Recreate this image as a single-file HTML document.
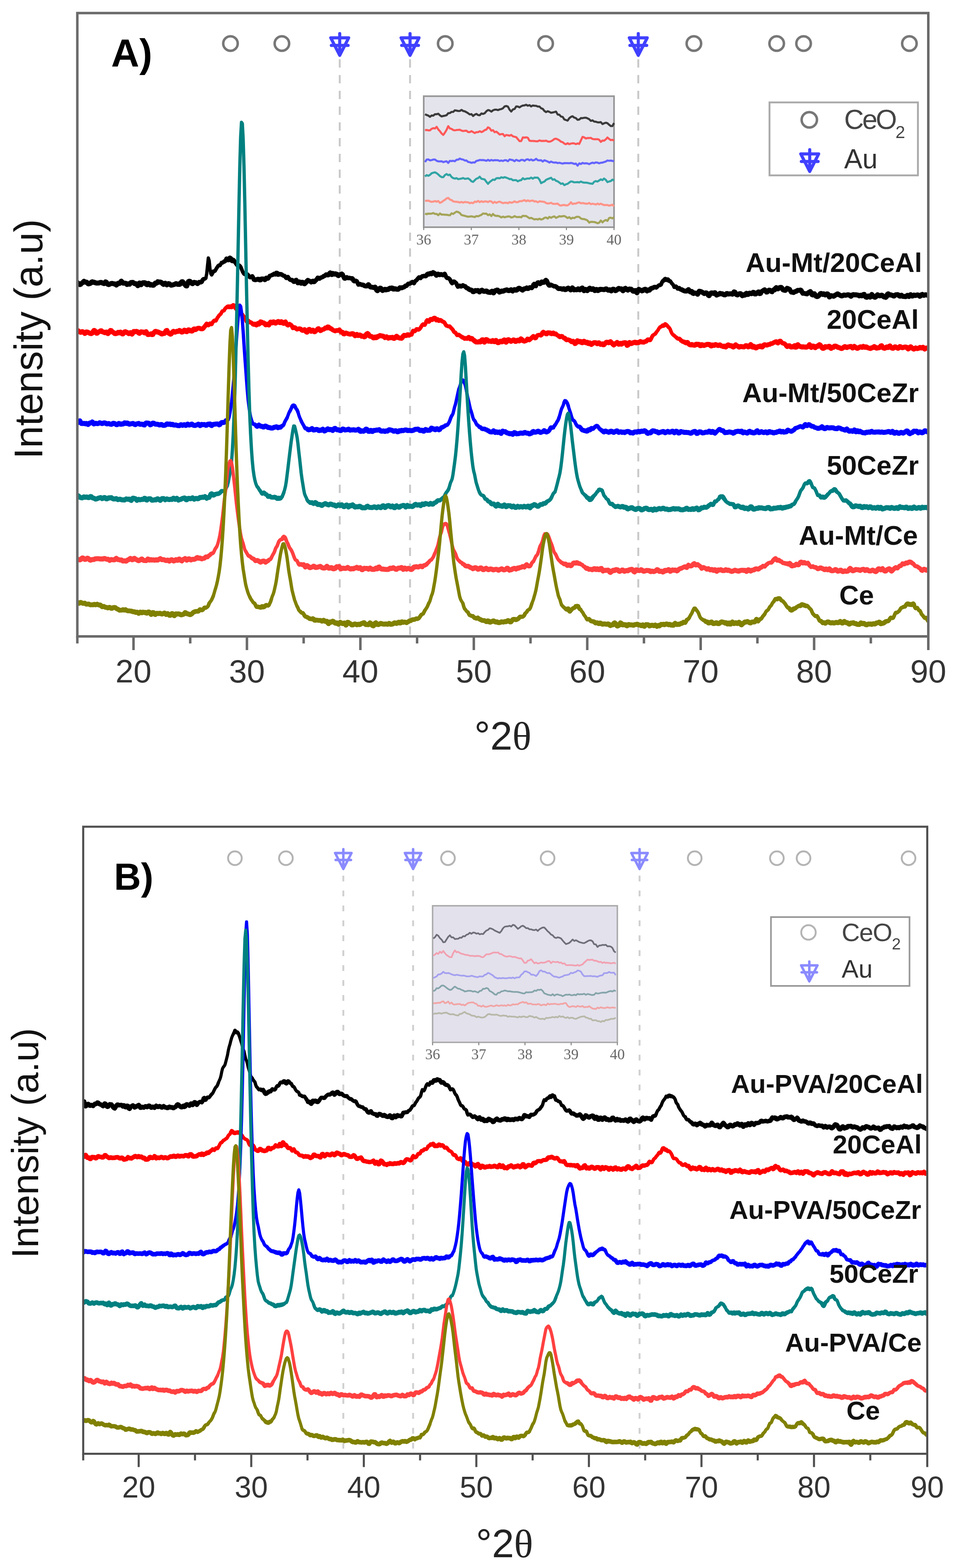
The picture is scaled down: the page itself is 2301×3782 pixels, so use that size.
<!DOCTYPE html>
<html><head><meta charset="utf-8"><title>XRD patterns</title>
<style>html,body{margin:0;padding:0;background:#fff;}svg{display:block;}</style>
</head><body>
<svg width="2301" height="3782" viewBox="0 0 2301 3782">
<rect width="2301" height="3782" fill="#fff"/>
<line x1="819.4" y1="143.0" x2="819.4" y2="1531.0" stroke="#c8c8c8" stroke-width="4.5" stroke-dasharray="20 18"/>
<line x1="989.0" y1="143.0" x2="989.0" y2="1531.0" stroke="#c8c8c8" stroke-width="4.5" stroke-dasharray="20 18"/>
<line x1="1539.5" y1="143.0" x2="1539.5" y2="1531.0" stroke="#c8c8c8" stroke-width="4.5" stroke-dasharray="20 18"/>
<circle cx="555.9" cy="105.0" r="17.5" fill="none" stroke="#777" stroke-width="6.0"/>
<circle cx="679.9" cy="105.0" r="17.5" fill="none" stroke="#777" stroke-width="6.0"/>
<circle cx="1073.9" cy="105.0" r="17.5" fill="none" stroke="#777" stroke-width="6.0"/>
<circle cx="1316.0" cy="105.0" r="17.5" fill="none" stroke="#777" stroke-width="6.0"/>
<circle cx="1673.6" cy="105.0" r="17.5" fill="none" stroke="#777" stroke-width="6.0"/>
<circle cx="1873.3" cy="105.0" r="17.5" fill="none" stroke="#777" stroke-width="6.0"/>
<circle cx="1938.2" cy="105.0" r="17.5" fill="none" stroke="#777" stroke-width="6.0"/>
<circle cx="2193.4" cy="105.0" r="17.5" fill="none" stroke="#777" stroke-width="6.0"/>
<g stroke="#4040ff" stroke-width="7.5" fill="none" stroke-linejoin="round" stroke-linecap="round"><polygon points="797.8,91.2 841.0,91.2 819.4,133.5"/><line x1="819.4" y1="81.1" x2="819.4" y2="128.0"/><line x1="799.2" y1="109.6" x2="839.6" y2="109.6"/></g>
<g stroke="#4040ff" stroke-width="7.5" fill="none" stroke-linejoin="round" stroke-linecap="round"><polygon points="967.4,91.2 1010.7,91.2 989.0,133.5"/><line x1="989.0" y1="81.1" x2="989.0" y2="128.0"/><line x1="968.8" y1="109.6" x2="1009.3" y2="109.6"/></g>
<g stroke="#4040ff" stroke-width="7.5" fill="none" stroke-linejoin="round" stroke-linecap="round"><polygon points="1517.9,91.2 1561.1,91.2 1539.5,133.5"/><line x1="1539.5" y1="81.1" x2="1539.5" y2="128.0"/><line x1="1519.3" y1="109.6" x2="1559.8" y2="109.6"/></g>
<rect x="1022.0" y="232.0" width="459.0" height="316.0" fill="#e4e4ec" stroke="#999" stroke-width="4.0"/>
<polyline points="1025.1,275.4 1029.1,277.4 1033.1,278.9 1037.1,281.7 1041.1,278.6 1045.1,278.9 1049.1,275.5 1053.1,275.5 1057.1,274.3 1061.1,278.2 1065.1,280.8 1069.1,279.8 1073.1,279.0 1077.1,277.9 1081.1,273.1 1085.1,272.7 1089.1,269.9 1093.1,269.8 1097.1,266.1 1101.1,266.8 1105.1,267.7 1109.1,267.6 1113.1,265.1 1117.1,267.7 1121.1,268.5 1125.1,270.7 1129.1,273.2 1133.1,276.1 1137.1,275.3 1141.1,279.7 1145.1,276.5 1149.1,274.7 1153.1,277.5 1157.1,278.0 1161.1,273.8 1165.1,274.8 1169.1,273.1 1173.1,268.3 1177.1,265.4 1181.1,266.5 1185.1,269.2 1189.1,266.0 1193.1,264.6 1197.1,264.4 1201.1,265.6 1205.1,263.9 1209.1,263.1 1213.1,261.2 1217.1,256.7 1221.1,255.7 1225.1,257.1 1229.1,264.6 1233.1,269.0 1237.1,264.0 1241.1,262.9 1245.1,256.7 1249.1,257.0 1253.1,258.9 1257.1,256.2 1261.1,254.5 1265.1,254.2 1269.1,252.7 1273.1,255.0 1277.1,253.6 1281.1,256.7 1285.1,254.4 1289.1,254.9 1293.1,255.2 1297.1,257.0 1301.1,256.9 1305.1,261.1 1309.1,262.6 1313.1,267.6 1317.1,270.4 1321.1,268.3 1325.1,269.9 1329.1,272.0 1333.1,271.3 1337.1,270.4 1341.1,269.2 1345.1,276.2 1349.1,276.8 1353.1,281.1 1357.1,281.9 1361.1,288.1 1365.1,289.5 1369.1,290.9 1373.1,285.0 1377.1,281.9 1381.1,280.4 1385.1,283.7 1389.1,284.9 1393.1,289.0 1397.1,288.3 1401.1,284.8 1405.1,284.9 1409.1,284.1 1413.1,283.9 1417.1,285.5 1421.1,287.5 1425.1,291.6 1429.1,290.3 1433.1,293.2 1437.1,293.6 1441.1,295.0 1445.1,295.3 1449.1,294.5 1453.1,299.2 1457.1,297.4 1461.1,296.0 1465.1,297.2 1469.1,300.8 1473.1,303.9 1477.1,303.9 1481.1,296.8" fill="none" stroke="#3a3a3a" stroke-width="5.0" stroke-linejoin="round"/>
<polyline points="1025.1,314.0 1029.1,313.5 1033.1,314.4 1037.1,314.3 1041.1,310.7 1045.1,309.1 1049.1,309.9 1053.1,306.0 1057.1,312.2 1061.1,316.5 1065.1,321.9 1069.1,325.4 1073.1,320.0 1077.1,313.2 1081.1,304.3 1085.1,309.8 1089.1,310.9 1093.1,313.6 1097.1,314.4 1101.1,313.6 1105.1,313.3 1109.1,312.9 1113.1,315.0 1117.1,316.1 1121.1,315.6 1125.1,315.3 1129.1,318.6 1133.1,318.6 1137.1,316.3 1141.1,318.6 1145.1,320.9 1149.1,318.7 1153.1,318.8 1157.1,316.6 1161.1,318.6 1165.1,316.9 1169.1,313.8 1173.1,312.5 1177.1,307.1 1181.1,309.3 1185.1,315.3 1189.1,314.0 1193.1,318.9 1197.1,317.5 1201.1,320.8 1205.1,324.5 1209.1,323.4 1213.1,323.2 1217.1,328.6 1221.1,325.6 1225.1,326.3 1229.1,327.3 1233.1,325.4 1237.1,328.9 1241.1,329.9 1245.1,330.9 1249.1,335.7 1253.1,340.4 1257.1,340.3 1261.1,331.5 1265.1,332.0 1269.1,331.2 1273.1,332.3 1277.1,339.4 1281.1,339.9 1285.1,340.0 1289.1,340.2 1293.1,340.8 1297.1,340.7 1301.1,338.7 1305.1,339.9 1309.1,339.8 1313.1,340.1 1317.1,339.3 1321.1,341.3 1325.1,341.8 1329.1,340.6 1333.1,338.4 1337.1,335.2 1341.1,334.5 1345.1,336.2 1349.1,338.5 1353.1,341.8 1357.1,342.9 1361.1,346.3 1365.1,347.8 1369.1,345.5 1373.1,347.7 1377.1,346.3 1381.1,345.6 1385.1,346.0 1389.1,347.6 1393.1,346.0 1397.1,347.2 1401.1,338.6 1405.1,330.0 1409.1,331.4 1413.1,334.1 1417.1,332.8 1421.1,332.9 1425.1,332.6 1429.1,335.1 1433.1,335.9 1437.1,335.7 1441.1,335.7 1445.1,337.0 1449.1,342.2 1453.1,339.0 1457.1,339.3 1461.1,336.1 1465.1,331.7 1469.1,335.1 1473.1,338.0 1477.1,337.1 1481.1,339.4" fill="none" stroke="#ff5858" stroke-width="5.0" stroke-linejoin="round"/>
<polyline points="1025.1,390.9 1029.1,385.0 1033.1,384.5 1037.1,386.7 1041.1,386.1 1045.1,384.8 1049.1,384.8 1053.1,387.8 1057.1,389.2 1061.1,389.2 1065.1,389.1 1069.1,391.0 1073.1,389.9 1077.1,388.9 1081.1,392.9 1085.1,387.9 1089.1,388.5 1093.1,387.8 1097.1,388.9 1101.1,385.3 1105.1,385.1 1109.1,382.4 1113.1,384.3 1117.1,384.9 1121.1,387.2 1125.1,387.1 1129.1,390.6 1133.1,391.2 1137.1,392.8 1141.1,391.7 1145.1,391.9 1149.1,388.1 1153.1,387.3 1157.1,385.8 1161.1,386.2 1165.1,386.0 1169.1,386.7 1173.1,387.9 1177.1,385.5 1181.1,387.8 1185.1,385.7 1189.1,387.3 1193.1,386.2 1197.1,386.5 1201.1,386.4 1205.1,388.3 1209.1,387.2 1213.1,388.3 1217.1,386.4 1221.1,386.6 1225.1,388.9 1229.1,384.6 1233.1,385.5 1237.1,386.3 1241.1,388.8 1245.1,385.5 1249.1,387.2 1253.1,388.2 1257.1,385.7 1261.1,385.7 1265.1,388.0 1269.1,385.0 1273.1,384.2 1277.1,386.6 1281.1,384.7 1285.1,387.0 1289.1,385.9 1293.1,383.0 1297.1,386.4 1301.1,386.7 1305.1,386.6 1309.1,389.6 1313.1,386.6 1317.1,388.0 1321.1,389.6 1325.1,392.0 1329.1,389.7 1333.1,391.6 1337.1,392.2 1341.1,391.8 1345.1,393.4 1349.1,392.6 1353.1,393.6 1357.1,394.7 1361.1,393.3 1365.1,393.5 1369.1,393.5 1373.1,393.8 1377.1,393.0 1381.1,393.7 1385.1,395.5 1389.1,394.4 1393.1,399.6 1397.1,394.1 1401.1,395.6 1405.1,392.9 1409.1,394.3 1413.1,393.8 1417.1,394.3 1421.1,395.9 1425.1,393.8 1429.1,392.3 1433.1,393.6 1437.1,391.7 1441.1,392.2 1445.1,393.9 1449.1,392.5 1453.1,392.2 1457.1,390.9 1461.1,389.6 1465.1,387.1 1469.1,387.9 1473.1,387.3 1477.1,388.3 1481.1,388.2" fill="none" stroke="#6464ff" stroke-width="5.0" stroke-linejoin="round"/>
<polyline points="1025.1,425.7 1029.1,422.3 1033.1,424.0 1037.1,421.8 1041.1,417.9 1045.1,416.7 1049.1,415.6 1053.1,417.8 1057.1,420.7 1061.1,424.7 1065.1,427.2 1069.1,427.3 1073.1,422.4 1077.1,419.9 1081.1,422.5 1085.1,421.2 1089.1,426.9 1093.1,429.6 1097.1,430.7 1101.1,429.7 1105.1,432.1 1109.1,431.4 1113.1,430.7 1117.1,429.5 1121.1,431.2 1125.1,430.9 1129.1,430.2 1133.1,433.0 1137.1,437.2 1141.1,438.8 1145.1,434.7 1149.1,431.0 1153.1,429.6 1157.1,426.2 1161.1,431.2 1165.1,431.9 1169.1,433.0 1173.1,438.5 1177.1,443.3 1181.1,439.0 1185.1,436.0 1189.1,433.1 1193.1,434.0 1197.1,429.9 1201.1,429.6 1205.1,430.1 1209.1,427.6 1213.1,428.8 1217.1,427.3 1221.1,428.5 1225.1,430.0 1229.1,432.0 1233.1,431.7 1237.1,434.8 1241.1,434.6 1245.1,434.4 1249.1,437.4 1253.1,435.3 1257.1,434.5 1261.1,429.9 1265.1,432.4 1269.1,431.3 1273.1,430.4 1277.1,430.7 1281.1,428.3 1285.1,430.9 1289.1,428.3 1293.1,428.5 1297.1,428.6 1301.1,433.2 1305.1,441.8 1309.1,439.5 1313.1,437.9 1317.1,433.8 1321.1,431.9 1325.1,430.4 1329.1,428.7 1333.1,433.5 1337.1,432.3 1341.1,436.1 1345.1,437.4 1349.1,440.3 1353.1,443.4 1357.1,442.3 1361.1,446.4 1365.1,444.4 1369.1,443.4 1373.1,440.2 1377.1,437.6 1381.1,438.3 1385.1,439.8 1389.1,439.6 1393.1,439.2 1397.1,440.0 1401.1,437.9 1405.1,439.7 1409.1,440.5 1413.1,440.6 1417.1,440.9 1421.1,442.2 1425.1,442.7 1429.1,443.3 1433.1,438.5 1437.1,436.8 1441.1,437.9 1445.1,435.4 1449.1,432.6 1453.1,434.4 1457.1,430.7 1461.1,433.7 1465.1,439.3 1469.1,437.7 1473.1,436.8 1477.1,433.2 1481.1,435.4" fill="none" stroke="#30a4a4" stroke-width="5.0" stroke-linejoin="round"/>
<polyline points="1025.1,484.6 1029.1,484.2 1033.1,483.9 1037.1,485.6 1041.1,486.9 1045.1,486.3 1049.1,484.9 1053.1,486.4 1057.1,484.9 1061.1,489.3 1065.1,487.4 1069.1,484.4 1073.1,482.1 1077.1,478.6 1081.1,477.3 1085.1,481.3 1089.1,482.5 1093.1,485.8 1097.1,486.4 1101.1,486.8 1105.1,487.2 1109.1,488.5 1113.1,487.1 1117.1,488.7 1121.1,487.1 1125.1,487.7 1129.1,487.9 1133.1,490.2 1137.1,488.8 1141.1,490.0 1145.1,486.3 1149.1,487.3 1153.1,484.5 1157.1,487.6 1161.1,485.4 1165.1,487.1 1169.1,485.8 1173.1,485.9 1177.1,487.4 1181.1,485.1 1185.1,485.9 1189.1,489.7 1193.1,486.8 1197.1,489.2 1201.1,487.2 1205.1,486.4 1209.1,488.2 1213.1,490.0 1217.1,489.1 1221.1,488.9 1225.1,490.2 1229.1,487.6 1233.1,489.0 1237.1,488.0 1241.1,485.8 1245.1,487.8 1249.1,487.5 1253.1,485.3 1257.1,485.2 1261.1,484.2 1265.1,482.7 1269.1,485.4 1273.1,483.2 1277.1,485.4 1281.1,484.2 1285.1,483.7 1289.1,486.0 1293.1,485.6 1297.1,487.9 1301.1,485.6 1305.1,486.0 1309.1,486.6 1313.1,487.0 1317.1,489.8 1321.1,490.8 1325.1,490.5 1329.1,489.0 1333.1,491.6 1337.1,491.7 1341.1,491.7 1345.1,491.0 1349.1,494.8 1353.1,495.9 1357.1,494.7 1361.1,494.3 1365.1,495.5 1369.1,495.3 1373.1,492.5 1377.1,488.0 1381.1,492.2 1385.1,491.0 1389.1,491.1 1393.1,489.1 1397.1,488.1 1401.1,490.4 1405.1,489.7 1409.1,490.5 1413.1,491.3 1417.1,491.2 1421.1,489.5 1425.1,492.4 1429.1,491.4 1433.1,492.1 1437.1,493.2 1441.1,491.1 1445.1,493.0 1449.1,491.3 1453.1,493.2 1457.1,494.7 1461.1,494.4 1465.1,494.6 1469.1,496.0 1473.1,495.0 1477.1,493.8 1481.1,497.6" fill="none" stroke="#ff9488" stroke-width="5.0" stroke-linejoin="round"/>
<polyline points="1025.1,515.5 1029.1,516.5 1033.1,515.2 1037.1,515.4 1041.1,515.2 1045.1,513.9 1049.1,516.0 1053.1,516.1 1057.1,519.1 1061.1,514.9 1065.1,517.6 1069.1,517.5 1073.1,517.9 1077.1,518.0 1081.1,518.7 1085.1,519.3 1089.1,514.5 1093.1,516.1 1097.1,513.0 1101.1,510.5 1105.1,511.5 1109.1,513.9 1113.1,518.6 1117.1,519.6 1121.1,520.7 1125.1,521.8 1129.1,522.7 1133.1,522.3 1137.1,521.7 1141.1,522.6 1145.1,523.5 1149.1,521.1 1153.1,521.7 1157.1,520.1 1161.1,518.2 1165.1,514.9 1169.1,515.5 1173.1,515.3 1177.1,518.9 1181.1,517.1 1185.1,521.1 1189.1,516.2 1193.1,519.8 1197.1,520.7 1201.1,520.6 1205.1,522.0 1209.1,524.4 1213.1,522.4 1217.1,524.1 1221.1,523.0 1225.1,522.1 1229.1,522.2 1233.1,524.5 1237.1,523.7 1241.1,521.3 1245.1,523.4 1249.1,523.6 1253.1,523.3 1257.1,524.0 1261.1,520.5 1265.1,521.0 1269.1,521.1 1273.1,523.8 1277.1,526.5 1281.1,525.4 1285.1,527.5 1289.1,529.3 1293.1,528.4 1297.1,529.4 1301.1,527.6 1305.1,529.5 1309.1,528.4 1313.1,525.4 1317.1,524.7 1321.1,527.2 1325.1,523.1 1329.1,525.3 1333.1,523.1 1337.1,521.9 1341.1,525.5 1345.1,523.6 1349.1,521.5 1353.1,522.3 1357.1,521.5 1361.1,521.0 1365.1,523.1 1369.1,525.9 1373.1,523.8 1377.1,527.5 1381.1,525.1 1385.1,526.1 1389.1,523.5 1393.1,522.8 1397.1,523.4 1401.1,527.0 1405.1,528.3 1409.1,528.5 1413.1,529.8 1417.1,531.9 1421.1,536.9 1425.1,535.0 1429.1,535.2 1433.1,535.5 1437.1,536.5 1441.1,538.5 1445.1,537.2 1449.1,531.9 1453.1,536.3 1457.1,532.7 1461.1,530.6 1465.1,532.8 1469.1,525.9 1473.1,525.0 1477.1,526.7 1481.1,523.9" fill="none" stroke="#a4a458" stroke-width="5.0" stroke-linejoin="round"/>
<text x="1022.0" y="590.0" font-family="'Liberation Serif', serif" font-size="36" fill="#666" text-anchor="middle">36</text>
<line x1="1022.0" y1="548.0" x2="1022.0" y2="555.0" stroke="#888" stroke-width="2.5"/>
<text x="1136.8" y="590.0" font-family="'Liberation Serif', serif" font-size="36" fill="#666" text-anchor="middle">37</text>
<line x1="1136.8" y1="548.0" x2="1136.8" y2="555.0" stroke="#888" stroke-width="2.5"/>
<text x="1251.5" y="590.0" font-family="'Liberation Serif', serif" font-size="36" fill="#666" text-anchor="middle">38</text>
<line x1="1251.5" y1="548.0" x2="1251.5" y2="555.0" stroke="#888" stroke-width="2.5"/>
<text x="1366.2" y="590.0" font-family="'Liberation Serif', serif" font-size="36" fill="#666" text-anchor="middle">39</text>
<line x1="1366.2" y1="548.0" x2="1366.2" y2="555.0" stroke="#888" stroke-width="2.5"/>
<text x="1481.0" y="590.0" font-family="'Liberation Serif', serif" font-size="36" fill="#666" text-anchor="middle">40</text>
<line x1="1481.0" y1="548.0" x2="1481.0" y2="555.0" stroke="#888" stroke-width="2.5"/>
<clipPath id="clipA"><rect x="186.5" y="31.5" width="2052.5" height="1503.5"/></clipPath><g clip-path="url(#clipA)">
<g fill="none" stroke="#000000" stroke-linejoin="round" stroke-linecap="round"><polyline points="186.5,681.3 188.5,683.4 190.5,685.3 192.5,686.4 194.5,685.8 196.5,683.4 198.5,682.3 200.5,680.5 202.5,678.4 204.5,679.6 206.5,680.8 208.5,680.4 210.5,681.9 212.5,684.5 214.5,684.7 216.5,684.0 218.5,683.2 220.5,680.5 222.5,679.6 224.5,681.0 226.5,680.6 228.5,681.2 230.5,682.4 232.5,682.7 234.5,682.6 236.5,682.8 238.5,682.6 240.5,681.6 242.5,681.2 244.5,681.2 246.5,682.6 248.5,683.0 250.5,684.1 252.5,683.7 254.5,679.7 256.5,680.6 258.5,684.2 260.5,686.0 262.5,686.5 264.5,685.5 266.5,684.3 268.5,683.6 270.5,683.4 272.5,684.0 274.5,684.8 276.5,684.6 278.5,685.7 280.5,687.5 282.5,686.1 284.5,683.2 286.5,683.1 288.5,683.6 290.5,680.8 292.5,678.1 294.5,680.0 296.5,682.9 298.5,682.8 300.5,682.9 302.5,683.1 304.5,683.9 306.5,686.3 308.5,684.9 310.5,684.4 312.5,685.6 314.5,682.6 316.5,681.2 318.5,681.7 320.5,681.1 322.5,682.3 324.5,684.2 326.5,684.1 328.5,684.3 330.5,686.9 332.5,689.2 334.5,686.2 336.5,682.4 338.5,684.9 340.5,686.7 342.5,684.3 344.5,681.9 346.5,681.9 348.5,681.8 350.5,682.3 352.5,685.7 354.5,686.7 356.5,683.9 358.5,683.5 360.5,686.3 362.5,687.5 364.5,686.3 366.5,686.6 368.5,688.1 370.5,688.0 372.5,686.0 374.5,682.8 376.5,683.2 378.5,682.6 380.5,679.4 382.5,680.0 384.5,680.5 386.5,680.3 388.5,680.9 390.5,682.2 392.5,684.7 394.5,686.1 396.5,685.0 398.5,683.1 400.5,684.8 402.5,687.2 404.5,685.8 406.5,684.1 408.5,684.4 410.5,686.2 412.5,687.9 414.5,687.7 416.5,687.2 418.5,686.6 420.5,686.0 422.5,685.2 424.5,684.0 426.5,685.2 428.5,685.9 430.5,684.8 432.5,686.0 434.5,685.4 436.5,681.7 438.5,679.5 440.5,679.6 442.5,682.0 444.5,684.9 446.5,686.9 448.5,689.5 450.5,689.7 452.5,684.2 454.5,679.2 456.5,678.2 458.5,678.8 460.5,680.7 462.5,683.6 464.5,684.3 466.5,681.7 468.5,681.1" stroke-width="12.0"/><polyline points="468.5,681.1 470.5,682.0 472.5,681.4 474.5,682.7 476.5,684.5" stroke-width="11.5"/><polyline points="476.5,684.5 478.5,682.4 480.5,680.6 482.5,680.9" stroke-width="11.0"/><polyline points="482.5,680.9 484.5,681.1 486.5,679.9 488.5,675.7" stroke-width="10.5"/><polyline points="488.5,675.7 490.5,673.3" stroke-width="10.0"/><polyline points="490.5,673.3 492.5,672.7" stroke-width="9.5"/><polyline points="492.5,672.7 494.5,672.4" stroke-width="9.0"/><polyline points="494.5,672.4 496.5,670.6" stroke-width="8.5"/><polyline points="496.5,670.6 498.5,660.6 500.5,641.3 502.5,622.3 504.5,628.7 506.5,648.9 508.5,660.3 510.5,662.9" stroke-width="8.0"/><polyline points="510.5,662.9 512.5,659.2" stroke-width="8.5"/><polyline points="512.5,659.2 514.5,654.6" stroke-width="9.0"/><polyline points="514.5,654.6 516.5,654.2" stroke-width="9.5"/><polyline points="516.5,654.2 518.5,653.6 520.5,650.2 522.5,646.7 524.5,643.9 526.5,640.8 528.5,639.6 530.5,640.2 532.5,637.1 534.5,633.5" stroke-width="9.0"/><polyline points="534.5,633.5 536.5,633.7 538.5,632.7 540.5,630.6" stroke-width="9.5"/><polyline points="540.5,630.6 542.5,630.4 544.5,628.1" stroke-width="10.0"/><polyline points="544.5,628.1 546.5,624.1" stroke-width="10.5"/><polyline points="546.5,624.1 548.5,625.0" stroke-width="11.0"/><polyline points="548.5,625.0 550.5,627.1 552.5,625.0 554.5,622.1 556.5,623.2 558.5,628.1" stroke-width="11.5"/><polyline points="558.5,628.1 560.5,629.5" stroke-width="11.0"/><polyline points="560.5,629.5 562.5,626.8" stroke-width="10.5"/><polyline points="562.5,626.8 564.5,628.3" stroke-width="10.0"/><polyline points="564.5,628.3 566.5,632.6 568.5,635.2 570.5,638.1" stroke-width="9.5"/><polyline points="570.5,638.1 572.5,641.0 574.5,640.8 576.5,639.5 578.5,640.9 580.5,643.6 582.5,648.4 584.5,653.8 586.5,657.6 588.5,660.7 590.5,661.9 592.5,662.4 594.5,662.3 596.5,661.4" stroke-width="9.0"/><polyline points="596.5,661.4 598.5,663.2 600.5,666.7 602.5,669.0 604.5,668.8" stroke-width="9.5"/><polyline points="604.5,668.8 606.5,667.0 608.5,666.4" stroke-width="10.0"/><polyline points="608.5,666.4 610.5,669.8 612.5,674.3" stroke-width="10.5"/><polyline points="612.5,674.3 614.5,675.0 616.5,674.8" stroke-width="11.0"/><polyline points="616.5,674.8 618.5,674.4 620.5,673.7 622.5,673.6" stroke-width="11.5"/><polyline points="622.5,673.6 624.5,673.9 626.5,675.2 628.5,675.0 630.5,672.9 632.5,672.8" stroke-width="12.0"/><polyline points="632.5,672.8 634.5,672.8 636.5,672.7 638.5,674.8" stroke-width="11.5"/><polyline points="638.5,674.8 640.5,674.1 642.5,670.2" stroke-width="11.0"/><polyline points="642.5,670.2 644.5,670.1 646.5,672.0 648.5,669.1" stroke-width="10.5"/><polyline points="648.5,669.1 650.5,665.2 652.5,664.9 654.5,664.0 656.5,663.1" stroke-width="10.0"/><polyline points="656.5,663.1 658.5,662.6 660.5,660.6 662.5,661.1" stroke-width="10.5"/><polyline points="662.5,661.1 664.5,661.4" stroke-width="11.0"/><polyline points="664.5,661.4 666.5,658.5 668.5,659.2" stroke-width="11.5"/><polyline points="668.5,659.2 670.5,661.8" stroke-width="12.0"/><polyline points="670.5,661.8 672.5,661.4 674.5,661.5" stroke-width="11.5"/><polyline points="674.5,661.5 676.5,661.5" stroke-width="11.0"/><polyline points="676.5,661.5 678.5,661.6 680.5,662.8" stroke-width="10.5"/><polyline points="680.5,662.8 682.5,664.6 684.5,665.4 686.5,665.3 688.5,668.1 690.5,670.7 692.5,668.5 694.5,667.8 696.5,671.2 698.5,673.6" stroke-width="10.0"/><polyline points="698.5,673.6 700.5,675.1 702.5,675.4 704.5,675.3 706.5,677.3" stroke-width="10.5"/><polyline points="706.5,677.3 708.5,679.5 710.5,679.2 712.5,676.7" stroke-width="11.0"/><polyline points="712.5,676.7 714.5,675.7 716.5,678.4 718.5,682.4 720.5,682.1" stroke-width="11.5"/><polyline points="720.5,682.1 722.5,680.0 724.5,681.8 726.5,683.1 728.5,680.8 730.5,680.9 732.5,683.6 734.5,684.5 736.5,682.7 738.5,680.4 740.5,678.2 742.5,676.2" stroke-width="12.0"/><polyline points="742.5,676.2 744.5,677.1 746.5,678.1 748.5,679.0 750.5,680.5 752.5,679.0 754.5,678.0" stroke-width="11.5"/><polyline points="754.5,678.0 756.5,680.0 758.5,679.8 760.5,676.7 762.5,675.5 764.5,673.1 766.5,670.1 768.5,670.7 770.5,671.9" stroke-width="11.0"/><polyline points="770.5,671.9 772.5,670.7 774.5,669.4 776.5,668.9 778.5,668.0 780.5,666.2" stroke-width="10.5"/><polyline points="780.5,666.2 782.5,665.6 784.5,664.4 786.5,662.2 788.5,662.5 790.5,663.7 792.5,663.3 794.5,659.6" stroke-width="11.0"/><polyline points="794.5,659.6 796.5,657.7 798.5,661.8 800.5,662.4 802.5,659.5" stroke-width="11.5"/><polyline points="802.5,659.5 804.5,660.7 806.5,661.2 808.5,660.3 810.5,660.8 812.5,661.4 814.5,663.9 816.5,664.8" stroke-width="12.0"/><polyline points="816.5,664.8 818.5,662.6 820.5,662.2 822.5,661.8" stroke-width="11.5"/><polyline points="822.5,661.8 824.5,660.4 826.5,662.2 828.5,667.3" stroke-width="11.0"/><polyline points="828.5,667.3 830.5,671.9 832.5,672.1 834.5,669.4 836.5,668.6 838.5,670.6 840.5,670.9 842.5,670.1 844.5,670.8 846.5,671.6" stroke-width="10.5"/><polyline points="846.5,671.6 848.5,670.7 850.5,671.8" stroke-width="10.0"/><polyline points="850.5,671.8 852.5,677.1 854.5,678.4 856.5,677.0 858.5,677.3 860.5,678.2 862.5,682.3 864.5,686.4 866.5,686.2 868.5,685.1 870.5,686.0 872.5,687.0" stroke-width="10.5"/><polyline points="872.5,687.0 874.5,686.9 876.5,687.3 878.5,689.2 880.5,690.1 882.5,690.2 884.5,690.3 886.5,688.3" stroke-width="11.0"/><polyline points="886.5,688.3 888.5,686.3 890.5,688.1 892.5,691.6 894.5,692.7 896.5,692.7 898.5,692.8 900.5,693.7 902.5,693.9 904.5,692.5" stroke-width="11.5"/><polyline points="904.5,692.5 906.5,694.7 908.5,699.9 910.5,701.3 912.5,698.8 914.5,696.7 916.5,695.0 918.5,695.3 920.5,698.8 922.5,700.7 924.5,699.9 926.5,698.3 928.5,697.8 930.5,699.3 932.5,698.7 934.5,697.8 936.5,698.2 938.5,696.1 940.5,695.1 942.5,695.8 944.5,694.6 946.5,694.8 948.5,697.3 950.5,697.2 952.5,696.3 954.5,697.0 956.5,697.4" stroke-width="12.0"/><polyline points="956.5,697.4 958.5,697.9 960.5,698.1 962.5,696.0 964.5,693.8 966.5,694.4 968.5,694.5 970.5,693.5" stroke-width="11.5"/><polyline points="970.5,693.5 972.5,693.2 974.5,692.6 976.5,690.5 978.5,689.2 980.5,689.2" stroke-width="11.0"/><polyline points="980.5,689.2 982.5,686.9 984.5,684.5 986.5,684.4 988.5,684.1 990.5,683.0 992.5,681.8" stroke-width="10.5"/><polyline points="992.5,681.8 994.5,679.9 996.5,681.5 998.5,683.4 1000.5,679.7 1002.5,677.2 1004.5,676.1 1006.5,673.4 1008.5,671.1 1010.5,668.9 1012.5,669.5 1014.5,671.0 1016.5,667.7 1018.5,666.1 1020.5,666.4" stroke-width="10.0"/><polyline points="1020.5,666.4 1022.5,665.4 1024.5,666.0 1026.5,666.2 1028.5,664.7" stroke-width="10.5"/><polyline points="1028.5,664.7 1030.5,661.3 1032.5,660.2 1034.5,661.4" stroke-width="11.0"/><polyline points="1034.5,661.4 1036.5,659.8 1038.5,659.1 1040.5,660.5" stroke-width="11.5"/><polyline points="1040.5,660.5 1042.5,659.2 1044.5,657.5 1046.5,658.7 1048.5,659.7 1050.5,661.3 1052.5,663.9 1054.5,662.8" stroke-width="12.0"/><polyline points="1054.5,662.8 1056.5,660.8 1058.5,661.9 1060.5,662.8" stroke-width="11.5"/><polyline points="1060.5,662.8 1062.5,661.7 1064.5,661.8" stroke-width="11.0"/><polyline points="1064.5,661.8 1066.5,663.2 1068.5,663.7 1070.5,662.0 1072.5,660.5" stroke-width="10.5"/><polyline points="1072.5,660.5 1074.5,663.7 1076.5,668.9 1078.5,670.8 1080.5,670.4 1082.5,671.3 1084.5,673.2 1086.5,676.4 1088.5,680.9 1090.5,683.3 1092.5,682.2 1094.5,678.9 1096.5,679.3 1098.5,681.8 1100.5,683.0 1102.5,688.5 1104.5,691.8 1106.5,688.9 1108.5,688.9" stroke-width="10.0"/><polyline points="1108.5,688.9 1110.5,690.7 1112.5,690.9 1114.5,689.5 1116.5,688.1 1118.5,689.5 1120.5,690.3" stroke-width="10.5"/><polyline points="1120.5,690.3 1122.5,691.0 1124.5,693.8 1126.5,695.1 1128.5,695.3 1130.5,697.2" stroke-width="11.0"/><polyline points="1130.5,697.2 1132.5,698.6 1134.5,699.4 1136.5,699.2 1138.5,700.5 1140.5,703.7 1142.5,703.8 1144.5,702.1" stroke-width="11.5"/><polyline points="1144.5,702.1 1146.5,700.7 1148.5,701.1 1150.5,701.6 1152.5,700.6 1154.5,702.4 1156.5,704.1 1158.5,702.5 1160.5,700.6 1162.5,699.9 1164.5,701.3 1166.5,702.6 1168.5,702.7 1170.5,702.6 1172.5,701.7 1174.5,702.3 1176.5,704.6 1178.5,704.9 1180.5,705.0 1182.5,705.5 1184.5,703.5 1186.5,702.5 1188.5,705.3 1190.5,706.5 1192.5,703.3 1194.5,701.0 1196.5,700.8 1198.5,699.6 1200.5,699.8 1202.5,702.8 1204.5,704.6 1206.5,704.0 1208.5,702.5 1210.5,701.7 1212.5,702.6 1214.5,702.0 1216.5,700.7 1218.5,700.3 1220.5,699.4 1222.5,699.1 1224.5,700.2 1226.5,701.1 1228.5,700.9 1230.5,699.9 1232.5,698.9 1234.5,700.5 1236.5,702.0 1238.5,700.3 1240.5,698.4 1242.5,698.6 1244.5,699.9 1246.5,699.7 1248.5,697.8 1250.5,695.4 1252.5,695.2 1254.5,696.4 1256.5,697.2 1258.5,698.8 1260.5,699.7" stroke-width="12.0"/><polyline points="1260.5,699.7 1262.5,698.1 1264.5,696.2 1266.5,696.5 1268.5,695.8 1270.5,694.3 1272.5,696.0" stroke-width="11.5"/><polyline points="1272.5,696.0 1274.5,696.3 1276.5,693.8 1278.5,693.0 1280.5,693.8 1282.5,694.5" stroke-width="11.0"/><polyline points="1282.5,694.5 1284.5,692.5 1286.5,686.6 1288.5,684.7 1290.5,689.8 1292.5,690.1 1294.5,684.7 1296.5,681.5 1298.5,681.0 1300.5,682.4" stroke-width="10.5"/><polyline points="1300.5,682.4 1302.5,685.0 1304.5,683.3" stroke-width="11.0"/><polyline points="1304.5,683.3 1306.5,679.9 1308.5,680.5" stroke-width="11.5"/><polyline points="1308.5,680.5 1310.5,681.2 1312.5,680.8 1314.5,678.6 1316.5,676.1" stroke-width="12.0"/><polyline points="1316.5,676.1 1318.5,677.4 1320.5,681.9" stroke-width="11.5"/><polyline points="1320.5,681.9 1322.5,686.0 1324.5,688.6 1326.5,688.5 1328.5,687.0" stroke-width="11.0"/><polyline points="1328.5,687.0 1330.5,687.5 1332.5,688.6 1334.5,689.7 1336.5,690.8 1338.5,690.5" stroke-width="10.5"/><polyline points="1338.5,690.5 1340.5,691.1 1342.5,692.3 1344.5,694.3 1346.5,696.2 1348.5,696.2" stroke-width="11.0"/><polyline points="1348.5,696.2 1350.5,696.0 1352.5,696.0 1354.5,697.0 1356.5,697.8 1358.5,696.3 1360.5,696.4" stroke-width="11.5"/><polyline points="1360.5,696.4 1362.5,698.4 1364.5,698.5 1366.5,697.4 1368.5,695.6 1370.5,694.9 1372.5,696.1 1374.5,697.6 1376.5,699.4 1378.5,697.3 1380.5,694.2 1382.5,696.8 1384.5,699.2 1386.5,698.4 1388.5,698.4 1390.5,699.1 1392.5,698.1 1394.5,696.7 1396.5,698.5 1398.5,699.2 1400.5,697.0 1402.5,695.5 1404.5,694.5 1406.5,697.6 1408.5,701.2 1410.5,699.3 1412.5,697.9 1414.5,700.4 1416.5,701.1 1418.5,699.2 1420.5,696.4 1422.5,695.0 1424.5,696.3 1426.5,698.2 1428.5,697.9 1430.5,696.4 1432.5,698.2 1434.5,700.9 1436.5,700.6 1438.5,698.1 1440.5,698.4 1442.5,700.8 1444.5,699.9 1446.5,697.9 1448.5,697.8 1450.5,697.9 1452.5,698.1 1454.5,698.3 1456.5,698.7 1458.5,698.3 1460.5,697.0 1462.5,696.8 1464.5,698.3 1466.5,700.0 1468.5,699.8 1470.5,698.8 1472.5,700.9 1474.5,701.7 1476.5,698.7 1478.5,697.4 1480.5,697.9 1482.5,699.8 1484.5,701.1 1486.5,700.3 1488.5,698.8 1490.5,696.7 1492.5,695.5 1494.5,696.7 1496.5,697.3 1498.5,696.6 1500.5,698.7 1502.5,701.4 1504.5,699.8 1506.5,696.3 1508.5,695.4 1510.5,696.8 1512.5,698.6 1514.5,699.8 1516.5,698.2 1518.5,697.0 1520.5,697.5 1522.5,697.6 1524.5,699.5 1526.5,702.1 1528.5,702.6 1530.5,700.9 1532.5,700.7 1534.5,704.4 1536.5,706.2 1538.5,701.8 1540.5,697.8 1542.5,698.7 1544.5,699.8 1546.5,700.4 1548.5,701.8 1550.5,701.0 1552.5,698.8 1554.5,698.0 1556.5,697.6 1558.5,699.8 1560.5,701.9 1562.5,699.9 1564.5,699.0 1566.5,699.8" stroke-width="12.0"/><polyline points="1566.5,699.8 1568.5,697.4 1570.5,695.5 1572.5,695.3" stroke-width="11.5"/><polyline points="1572.5,695.3 1574.5,694.2 1576.5,693.5" stroke-width="11.0"/><polyline points="1576.5,693.5 1578.5,692.1 1580.5,692.3" stroke-width="10.5"/><polyline points="1580.5,692.3 1582.5,693.8 1584.5,692.4" stroke-width="10.0"/><polyline points="1584.5,692.4 1586.5,690.5 1588.5,688.6 1590.5,687.5 1592.5,687.9 1594.5,686.3 1596.5,681.2 1598.5,677.8 1600.5,677.1" stroke-width="9.5"/><polyline points="1600.5,677.1 1602.5,674.6" stroke-width="10.0"/><polyline points="1602.5,674.6 1604.5,673.1" stroke-width="10.5"/><polyline points="1604.5,673.1 1606.5,674.7 1608.5,674.9 1610.5,674.2" stroke-width="11.0"/><polyline points="1610.5,674.2 1612.5,676.2" stroke-width="10.5"/><polyline points="1612.5,676.2 1614.5,677.7" stroke-width="10.0"/><polyline points="1614.5,677.7 1616.5,678.1" stroke-width="9.5"/><polyline points="1616.5,678.1 1618.5,680.6 1620.5,683.7 1622.5,685.5 1624.5,688.7 1626.5,692.6" stroke-width="9.0"/><polyline points="1626.5,692.6 1628.5,692.2 1630.5,690.8 1632.5,693.0" stroke-width="9.5"/><polyline points="1632.5,693.0 1634.5,696.3 1636.5,696.1" stroke-width="10.0"/><polyline points="1636.5,696.1 1638.5,695.0 1640.5,697.4 1642.5,698.3" stroke-width="10.5"/><polyline points="1642.5,698.3 1644.5,698.2 1646.5,699.9" stroke-width="11.0"/><polyline points="1646.5,699.9 1648.5,700.8 1650.5,701.7 1652.5,702.2 1654.5,702.0 1656.5,702.3 1658.5,700.2" stroke-width="11.5"/><polyline points="1658.5,700.2 1660.5,698.5 1662.5,701.0 1664.5,704.0 1666.5,703.3 1668.5,703.0 1670.5,707.0 1672.5,708.0 1674.5,706.2 1676.5,707.0 1678.5,706.9 1680.5,707.7 1682.5,709.8 1684.5,706.7 1686.5,702.5 1688.5,702.7 1690.5,703.3 1692.5,704.2 1694.5,705.4 1696.5,706.7 1698.5,708.1 1700.5,707.3 1702.5,706.2 1704.5,706.8 1706.5,708.8 1708.5,712.3 1710.5,713.2 1712.5,709.4 1714.5,706.9 1716.5,706.5 1718.5,706.8 1720.5,707.7 1722.5,706.4 1724.5,706.0 1726.5,709.7 1728.5,711.7 1730.5,710.6 1732.5,710.1 1734.5,708.8 1736.5,707.6 1738.5,708.7 1740.5,708.5 1742.5,708.5 1744.5,710.3 1746.5,711.1 1748.5,711.3 1750.5,710.3 1752.5,708.1 1754.5,708.0 1756.5,709.3 1758.5,709.1 1760.5,708.6 1762.5,708.7 1764.5,708.4 1766.5,709.6 1768.5,708.3 1770.5,704.0 1772.5,704.5 1774.5,708.4 1776.5,710.7 1778.5,711.5 1780.5,710.1 1782.5,708.7 1784.5,708.2 1786.5,708.3 1788.5,711.1 1790.5,713.4 1792.5,711.3 1794.5,710.8 1796.5,712.0 1798.5,708.7 1800.5,707.3 1802.5,710.3 1804.5,710.3 1806.5,707.7 1808.5,707.0 1810.5,708.1 1812.5,708.4 1814.5,707.3 1816.5,705.1 1818.5,705.5 1820.5,709.1 1822.5,709.1 1824.5,707.6 1826.5,707.6 1828.5,704.4" stroke-width="12.0"/><polyline points="1828.5,704.4 1830.5,704.0 1832.5,708.5 1834.5,708.0 1836.5,703.9 1838.5,702.1 1840.5,701.1 1842.5,699.5 1844.5,698.8 1846.5,701.4 1848.5,704.8 1850.5,704.6 1852.5,701.5 1854.5,699.5 1856.5,699.8 1858.5,701.0 1860.5,703.4 1862.5,703.9 1864.5,700.1 1866.5,698.6 1868.5,699.1" stroke-width="11.5"/><polyline points="1868.5,699.1 1870.5,695.2 1872.5,693.6 1874.5,696.2 1876.5,696.8 1878.5,695.4 1880.5,693.6 1882.5,693.2 1884.5,693.3 1886.5,695.5 1888.5,698.9 1890.5,699.8 1892.5,700.3 1894.5,700.4 1896.5,698.1 1898.5,695.4 1900.5,696.0" stroke-width="12.0"/><polyline points="1900.5,696.0 1902.5,697.2 1904.5,697.6 1906.5,701.5 1908.5,704.7 1910.5,704.5 1912.5,705.4 1914.5,705.8 1916.5,703.5 1918.5,703.2 1920.5,703.1 1922.5,700.7 1924.5,700.1 1926.5,700.5 1928.5,700.2 1930.5,699.3 1932.5,700.2 1934.5,704.7 1936.5,707.7 1938.5,707.3 1940.5,707.7 1942.5,708.5 1944.5,708.6 1946.5,708.8" stroke-width="11.5"/><polyline points="1946.5,708.8 1948.5,706.9 1950.5,705.5 1952.5,704.6 1954.5,703.2 1956.5,706.1 1958.5,710.8 1960.5,711.4 1962.5,708.4 1964.5,708.5 1966.5,712.2 1968.5,714.5 1970.5,715.4 1972.5,715.0 1974.5,713.4 1976.5,711.2 1978.5,708.4 1980.5,707.7 1982.5,709.3 1984.5,710.2 1986.5,708.5 1988.5,709.3 1990.5,711.6 1992.5,710.0 1994.5,708.8 1996.5,709.0 1998.5,712.1 2000.5,716.4 2002.5,714.9 2004.5,713.1 2006.5,713.6 2008.5,713.7 2010.5,714.7 2012.5,713.6 2014.5,711.7 2016.5,711.2 2018.5,709.4 2020.5,708.7 2022.5,710.1 2024.5,711.2 2026.5,712.1 2028.5,713.4 2030.5,713.8 2032.5,713.2 2034.5,711.7 2036.5,711.5 2038.5,712.3 2040.5,712.0 2042.5,711.5 2044.5,711.1 2046.5,711.1 2048.5,711.4 2050.5,713.3 2052.5,714.7 2054.5,713.0 2056.5,711.0 2058.5,710.5 2060.5,711.2 2062.5,711.3 2064.5,710.9 2066.5,711.5 2068.5,711.4 2070.5,712.4 2072.5,713.7 2074.5,712.5 2076.5,712.1 2078.5,713.6 2080.5,713.3 2082.5,710.2 2084.5,710.1 2086.5,714.0 2088.5,716.5 2090.5,717.2 2092.5,715.9 2094.5,713.8 2096.5,714.5 2098.5,716.7 2100.5,714.1 2102.5,710.1 2104.5,712.3 2106.5,715.4 2108.5,716.4 2110.5,717.0 2112.5,716.1 2114.5,712.9 2116.5,710.8 2118.5,711.9 2120.5,713.2 2122.5,713.5 2124.5,712.6 2126.5,711.8 2128.5,712.7 2130.5,715.1 2132.5,716.3 2134.5,716.2 2136.5,717.3 2138.5,715.1 2140.5,709.7 2142.5,708.6 2144.5,711.2 2146.5,711.6 2148.5,711.1 2150.5,711.9 2152.5,712.5 2154.5,713.8 2156.5,714.1 2158.5,712.0 2160.5,710.9 2162.5,711.1 2164.5,710.5 2166.5,711.0 2168.5,713.5 2170.5,714.5 2172.5,712.7 2174.5,712.1 2176.5,714.4 2178.5,715.0 2180.5,714.9 2182.5,715.4 2184.5,715.6 2186.5,714.2 2188.5,712.2 2190.5,714.0 2192.5,715.2 2194.5,711.8 2196.5,710.7 2198.5,712.4 2200.5,714.2 2202.5,713.4 2204.5,711.6 2206.5,712.5 2208.5,712.7 2210.5,711.8 2212.5,711.3 2214.5,711.4 2216.5,713.2 2218.5,714.7 2220.5,713.5 2222.5,710.8 2224.5,710.1 2226.5,711.8 2228.5,712.4 2230.5,711.3 2232.5,710.9 2234.5,711.4 2236.5,711.9 2238.5,712.8" stroke-width="12.0"/></g>
<g fill="none" stroke="#ff0000" stroke-linejoin="round" stroke-linecap="round"><polyline points="186.5,797.1 188.5,797.9 190.5,799.8 192.5,800.3 194.5,801.6 196.5,801.1 198.5,799.7 200.5,800.6 202.5,802.2 204.5,804.3 206.5,803.2 208.5,800.6 210.5,800.8 212.5,801.6 214.5,802.7 216.5,803.9 218.5,804.4 220.5,804.7 222.5,803.3 224.5,800.0 226.5,797.0 228.5,797.4 230.5,800.7 232.5,803.7 234.5,803.7 236.5,801.5 238.5,800.2 240.5,799.6 242.5,798.0 244.5,797.8 246.5,800.1 248.5,800.8 250.5,801.1 252.5,802.4 254.5,801.3 256.5,800.9 258.5,803.6 260.5,804.6 262.5,802.5 264.5,799.6 266.5,797.1 268.5,797.4 270.5,800.2 272.5,801.3 274.5,802.3 276.5,804.6 278.5,804.7 280.5,804.6 282.5,803.4 284.5,801.7 286.5,803.1 288.5,802.5 290.5,800.9 292.5,803.1 294.5,805.3 296.5,805.5 298.5,803.5 300.5,800.4 302.5,800.1 304.5,801.1 306.5,801.9 308.5,803.4 310.5,804.8 312.5,803.8 314.5,802.3 316.5,804.5 318.5,806.0 320.5,802.9 322.5,799.5 324.5,799.8 326.5,800.1 328.5,799.3 330.5,799.6 332.5,800.7 334.5,803.1 336.5,804.0 338.5,801.6 340.5,800.3 342.5,801.1 344.5,800.8 346.5,801.4 348.5,802.8 350.5,800.7 352.5,799.9 354.5,803.8 356.5,807.1 358.5,806.9 360.5,806.5 362.5,805.9 364.5,805.0 366.5,807.1 368.5,807.0 370.5,803.4 372.5,801.2 374.5,799.2 376.5,799.5 378.5,800.9 380.5,800.4 382.5,801.4 384.5,802.7 386.5,803.0 388.5,804.9 390.5,805.7 392.5,804.2 394.5,804.5 396.5,804.3 398.5,801.2 400.5,797.7 402.5,796.9 404.5,800.7 406.5,803.5 408.5,804.3 410.5,806.0 412.5,805.8 414.5,803.3 416.5,800.5 418.5,799.1 420.5,800.3 422.5,801.2 424.5,800.2 426.5,799.1 428.5,799.6 430.5,799.2 432.5,797.1 434.5,797.6 436.5,799.8 438.5,801.0 440.5,800.6 442.5,798.5 444.5,796.4 446.5,796.9 448.5,799.7 450.5,800.1 452.5,798.0 454.5,795.5 456.5,795.7 458.5,798.0 460.5,798.0 462.5,798.6" stroke-width="12.0"/><polyline points="462.5,798.6 464.5,798.1 466.5,793.9 468.5,793.0 470.5,795.4 472.5,795.0 474.5,792.8 476.5,792.1 478.5,791.5 480.5,791.4 482.5,792.3 484.5,793.1" stroke-width="11.5"/><polyline points="484.5,793.1 486.5,793.5 488.5,793.4 490.5,791.8 492.5,788.9 494.5,786.7" stroke-width="11.0"/><polyline points="494.5,786.7 496.5,783.5 498.5,780.9 500.5,781.9 502.5,784.2" stroke-width="10.5"/><polyline points="502.5,784.2 504.5,782.5 506.5,780.2 508.5,782.1 510.5,781.7" stroke-width="10.0"/><polyline points="510.5,781.7 512.5,778.0 514.5,775.6 516.5,773.3 518.5,772.7 520.5,773.6" stroke-width="9.5"/><polyline points="520.5,773.6 522.5,770.2 524.5,766.2 526.5,763.8 528.5,760.7 530.5,758.9 532.5,757.1 534.5,753.4 536.5,750.2 538.5,749.8 540.5,748.9 542.5,745.1 544.5,742.6 546.5,741.7" stroke-width="9.0"/><polyline points="546.5,741.7 548.5,739.4 550.5,739.2" stroke-width="9.5"/><polyline points="550.5,739.2 552.5,740.5" stroke-width="10.0"/><polyline points="552.5,740.5 554.5,739.8" stroke-width="10.5"/><polyline points="554.5,739.8 556.5,739.7" stroke-width="11.0"/><polyline points="556.5,739.7 558.5,740.3 560.5,738.6" stroke-width="11.5"/><polyline points="560.5,738.6 562.5,736.5" stroke-width="11.0"/><polyline points="562.5,736.5 564.5,737.1" stroke-width="10.5"/><polyline points="564.5,737.1 566.5,741.1" stroke-width="10.0"/><polyline points="566.5,741.1 568.5,744.2" stroke-width="9.5"/><polyline points="568.5,744.2 570.5,746.6 572.5,751.2 574.5,754.0 576.5,753.6 578.5,753.5 580.5,756.6 582.5,758.2 584.5,758.2 586.5,761.5 588.5,763.6 590.5,764.7 592.5,770.3" stroke-width="9.0"/><polyline points="592.5,770.3 594.5,775.5 596.5,774.8 598.5,773.0 600.5,775.2" stroke-width="9.5"/><polyline points="600.5,775.2 602.5,777.6 604.5,777.6" stroke-width="10.0"/><polyline points="604.5,777.6 606.5,778.6 608.5,780.1 610.5,782.1" stroke-width="10.5"/><polyline points="610.5,782.1 612.5,782.7 614.5,781.4" stroke-width="11.0"/><polyline points="614.5,781.4 616.5,782.9 618.5,783.7" stroke-width="11.5"/><polyline points="618.5,783.7 620.5,781.2 622.5,780.1 624.5,781.6 626.5,779.9 628.5,776.2 630.5,776.7 632.5,778.2 634.5,778.8 636.5,779.1" stroke-width="12.0"/><polyline points="636.5,779.1 638.5,780.6 640.5,783.7 642.5,783.4 644.5,781.8 646.5,783.5 648.5,784.1 650.5,780.0 652.5,776.5 654.5,778.3 656.5,779.0 658.5,776.3 660.5,776.4" stroke-width="11.5"/><polyline points="660.5,776.4 662.5,778.7 664.5,779.5 666.5,778.6 668.5,777.0 670.5,775.4 672.5,775.6 674.5,778.0 676.5,778.3 678.5,776.0" stroke-width="12.0"/><polyline points="678.5,776.0 680.5,776.5 682.5,779.8 684.5,780.1" stroke-width="11.5"/><polyline points="684.5,780.1 686.5,776.8 688.5,776.0 690.5,779.6 692.5,783.2" stroke-width="11.0"/><polyline points="692.5,783.2 694.5,784.7 696.5,783.5 698.5,781.7 700.5,783.0 702.5,784.2 704.5,787.1 706.5,791.2 708.5,790.8 710.5,789.5 712.5,790.5 714.5,793.1 716.5,794.4 718.5,793.4 720.5,793.0" stroke-width="10.5"/><polyline points="720.5,793.0 722.5,792.8 724.5,792.9 726.5,795.0 728.5,796.9 730.5,797.1" stroke-width="11.0"/><polyline points="730.5,797.1 732.5,795.5 734.5,794.9 736.5,797.5 738.5,800.6 740.5,801.2" stroke-width="11.5"/><polyline points="740.5,801.2 742.5,798.3 744.5,794.9 746.5,794.5 748.5,796.8 750.5,799.1 752.5,798.5 754.5,796.4 756.5,797.7 758.5,800.2 760.5,799.3" stroke-width="12.0"/><polyline points="760.5,799.3 762.5,797.4 764.5,795.5 766.5,793.1 768.5,792.6" stroke-width="11.5"/><polyline points="768.5,792.6 770.5,795.0 772.5,798.0 774.5,797.5 776.5,795.2 778.5,794.4 780.5,794.6 782.5,793.4 784.5,791.1" stroke-width="11.0"/><polyline points="784.5,791.1 786.5,791.2 788.5,791.0" stroke-width="11.5"/><polyline points="788.5,791.0 790.5,788.6 792.5,789.0 794.5,790.8 796.5,791.8" stroke-width="12.0"/><polyline points="796.5,791.8 798.5,792.7 800.5,794.0" stroke-width="11.5"/><polyline points="800.5,794.0 802.5,795.8 804.5,796.8" stroke-width="11.0"/><polyline points="804.5,796.8 806.5,797.9 808.5,798.8 810.5,797.0 812.5,796.6 814.5,797.7 816.5,796.5 818.5,795.4" stroke-width="10.5"/><polyline points="818.5,795.4 820.5,797.9 822.5,801.3 824.5,800.4 826.5,801.1 828.5,805.2" stroke-width="11.0"/><polyline points="828.5,805.2 830.5,805.7 832.5,803.7 834.5,803.1 836.5,803.9 838.5,804.6 840.5,805.4 842.5,805.7 844.5,805.8" stroke-width="11.5"/><polyline points="844.5,805.8 846.5,805.7 848.5,804.9 850.5,804.7 852.5,805.7 854.5,807.9 856.5,809.7 858.5,808.0 860.5,806.8 862.5,809.2 864.5,809.2 866.5,808.0 868.5,808.3 870.5,809.6 872.5,811.1 874.5,810.7 876.5,810.7 878.5,812.5 880.5,811.8 882.5,808.3 884.5,805.5 886.5,804.4 888.5,805.8 890.5,809.5 892.5,811.1 894.5,811.2 896.5,811.8 898.5,813.0 900.5,815.0 902.5,814.7 904.5,813.0 906.5,814.5 908.5,814.3 910.5,811.8 912.5,811.5 914.5,810.4 916.5,809.3 918.5,809.9 920.5,810.1 922.5,810.7 924.5,811.0 926.5,812.3 928.5,814.3 930.5,813.5 932.5,812.3 934.5,813.7 936.5,815.7 938.5,815.1 940.5,814.0 942.5,814.7 944.5,813.9 946.5,813.6 948.5,815.7 950.5,816.3 952.5,815.4 954.5,812.8 956.5,810.9 958.5,813.1 960.5,814.4 962.5,814.7 964.5,815.6 966.5,815.5" stroke-width="12.0"/><polyline points="966.5,815.5 968.5,816.1 970.5,814.6 972.5,810.5 974.5,808.6 976.5,809.0" stroke-width="11.5"/><polyline points="976.5,809.0 978.5,809.9 980.5,809.7 982.5,807.0 984.5,807.0" stroke-width="11.0"/><polyline points="984.5,807.0 986.5,809.4 988.5,807.8 990.5,806.7 992.5,806.9" stroke-width="10.5"/><polyline points="992.5,806.9 994.5,802.2 996.5,797.8 998.5,798.3 1000.5,798.8" stroke-width="10.0"/><polyline points="1000.5,798.8 1002.5,796.8 1004.5,793.7 1006.5,793.7 1008.5,795.4 1010.5,794.9 1012.5,793.0 1014.5,790.2 1016.5,786.9 1018.5,783.7 1020.5,782.1 1022.5,783.5 1024.5,783.8 1026.5,780.0 1028.5,774.9" stroke-width="9.5"/><polyline points="1028.5,774.9 1030.5,772.3 1032.5,773.8 1034.5,775.8" stroke-width="10.0"/><polyline points="1034.5,775.8 1036.5,773.3 1038.5,769.9" stroke-width="10.5"/><polyline points="1038.5,769.9 1040.5,770.2 1042.5,770.9" stroke-width="11.0"/><polyline points="1042.5,770.9 1044.5,769.1 1046.5,767.9" stroke-width="11.5"/><polyline points="1046.5,767.9 1048.5,767.5 1050.5,769.3 1052.5,771.6 1054.5,770.7" stroke-width="12.0"/><polyline points="1054.5,770.7 1056.5,771.5" stroke-width="11.5"/><polyline points="1056.5,771.5 1058.5,773.5 1060.5,772.6" stroke-width="11.0"/><polyline points="1060.5,772.6 1062.5,772.2 1064.5,773.6" stroke-width="10.5"/><polyline points="1064.5,773.6 1066.5,775.1 1068.5,776.0 1070.5,776.8" stroke-width="10.0"/><polyline points="1070.5,776.8 1072.5,778.6 1074.5,782.5 1076.5,785.5 1078.5,785.9 1080.5,787.0 1082.5,787.5 1084.5,787.0 1086.5,789.0 1088.5,791.7 1090.5,793.4 1092.5,796.0 1094.5,799.6 1096.5,801.7 1098.5,802.2 1100.5,805.3 1102.5,808.5 1104.5,808.1 1106.5,807.5" stroke-width="9.5"/><polyline points="1106.5,807.5 1108.5,808.9 1110.5,810.3 1112.5,811.7 1114.5,813.4" stroke-width="10.0"/><polyline points="1114.5,813.4 1116.5,813.9 1118.5,815.3 1120.5,816.8 1122.5,816.1" stroke-width="10.5"/><polyline points="1122.5,816.1 1124.5,815.9 1126.5,816.7 1128.5,815.1 1130.5,813.6" stroke-width="11.0"/><polyline points="1130.5,813.6 1132.5,815.9 1134.5,817.6 1136.5,816.0 1138.5,816.4 1140.5,819.1 1142.5,820.6" stroke-width="11.5"/><polyline points="1142.5,820.6 1144.5,821.9 1146.5,823.8 1148.5,824.9 1150.5,824.7 1152.5,825.0 1154.5,824.8 1156.5,823.6 1158.5,824.8 1160.5,823.8 1162.5,819.6 1164.5,819.4 1166.5,823.5 1168.5,825.4 1170.5,822.6 1172.5,819.1 1174.5,819.5 1176.5,822.3 1178.5,823.1 1180.5,822.4 1182.5,822.7 1184.5,823.7 1186.5,823.6 1188.5,821.4 1190.5,822.2 1192.5,824.2 1194.5,822.4 1196.5,821.1 1198.5,823.6 1200.5,826.4 1202.5,826.5 1204.5,825.2 1206.5,822.9 1208.5,822.9 1210.5,824.6 1212.5,824.0 1214.5,820.9 1216.5,819.7 1218.5,823.1 1220.5,825.6 1222.5,823.5 1224.5,819.8 1226.5,819.2 1228.5,820.4 1230.5,822.1 1232.5,823.4 1234.5,822.1 1236.5,820.9 1238.5,819.7 1240.5,820.2 1242.5,823.5 1244.5,823.5 1246.5,821.9 1248.5,820.4 1250.5,820.4 1252.5,822.5 1254.5,820.3 1256.5,817.2 1258.5,818.7 1260.5,821.2 1262.5,822.1 1264.5,822.7" stroke-width="12.0"/><polyline points="1264.5,822.7 1266.5,822.4 1268.5,821.8 1270.5,820.1 1272.5,817.6 1274.5,818.5 1276.5,819.8" stroke-width="11.5"/><polyline points="1276.5,819.8 1278.5,818.5 1280.5,816.6 1282.5,814.8 1284.5,812.7 1286.5,811.1 1288.5,812.7" stroke-width="11.0"/><polyline points="1288.5,812.7 1290.5,815.8 1292.5,815.2 1294.5,811.4 1296.5,808.8 1298.5,808.2 1300.5,808.1 1302.5,808.1 1304.5,809.0 1306.5,807.3" stroke-width="10.5"/><polyline points="1306.5,807.3 1308.5,802.3 1310.5,800.8 1312.5,802.3 1314.5,803.3" stroke-width="11.0"/><polyline points="1314.5,803.3 1316.5,805.2 1318.5,805.2" stroke-width="11.5"/><polyline points="1318.5,805.2 1320.5,803.0 1322.5,802.6 1324.5,802.9 1326.5,802.9 1328.5,804.2" stroke-width="12.0"/><polyline points="1328.5,804.2 1330.5,805.1 1332.5,803.9 1334.5,803.1" stroke-width="11.5"/><polyline points="1334.5,803.1 1336.5,805.5 1338.5,805.9 1340.5,805.0" stroke-width="11.0"/><polyline points="1340.5,805.0 1342.5,807.0 1344.5,808.7 1346.5,809.3 1348.5,811.9 1350.5,813.0 1352.5,811.2 1354.5,810.7 1356.5,811.3 1358.5,814.3 1360.5,816.0 1362.5,815.5" stroke-width="10.5"/><polyline points="1362.5,815.5 1364.5,818.4 1366.5,820.0 1368.5,819.1 1370.5,819.3 1372.5,820.2 1374.5,821.0" stroke-width="11.0"/><polyline points="1374.5,821.0 1376.5,822.4 1378.5,824.4 1380.5,824.0 1382.5,823.0 1384.5,825.9 1386.5,829.0 1388.5,828.5 1390.5,824.9" stroke-width="11.5"/><polyline points="1390.5,824.9 1392.5,821.8 1394.5,822.6 1396.5,824.5 1398.5,823.9 1400.5,823.5 1402.5,826.3 1404.5,826.8 1406.5,823.9 1408.5,823.0 1410.5,824.0 1412.5,826.6 1414.5,826.7 1416.5,825.4 1418.5,828.5 1420.5,828.7 1422.5,826.9 1424.5,829.6 1426.5,830.9 1428.5,829.3 1430.5,827.5 1432.5,826.5 1434.5,826.8 1436.5,826.5 1438.5,827.8 1440.5,829.0 1442.5,827.3 1444.5,826.7 1446.5,828.8 1448.5,830.6 1450.5,830.0 1452.5,829.4 1454.5,831.4 1456.5,831.5 1458.5,829.2 1460.5,827.2 1462.5,825.4 1464.5,825.4 1466.5,826.2 1468.5,826.8 1470.5,825.1 1472.5,824.1 1474.5,826.3 1476.5,827.9 1478.5,830.4 1480.5,832.0 1482.5,830.2 1484.5,828.7 1486.5,827.3 1488.5,826.0 1490.5,827.9 1492.5,830.4 1494.5,829.2 1496.5,828.2 1498.5,830.2 1500.5,829.4 1502.5,827.3 1504.5,827.2 1506.5,826.4 1508.5,826.4 1510.5,829.1 1512.5,833.1 1514.5,832.3 1516.5,827.2 1518.5,826.1 1520.5,827.8 1522.5,828.7 1524.5,828.0 1526.5,826.8 1528.5,826.6 1530.5,825.5 1532.5,825.4 1534.5,827.1 1536.5,826.7 1538.5,826.0 1540.5,826.3 1542.5,825.0 1544.5,823.7" stroke-width="12.0"/><polyline points="1544.5,823.7 1546.5,824.8 1548.5,825.2 1550.5,825.0 1552.5,825.6 1554.5,824.4" stroke-width="11.5"/><polyline points="1554.5,824.4 1556.5,823.6 1558.5,823.5 1560.5,821.3" stroke-width="11.0"/><polyline points="1560.5,821.3 1562.5,819.0 1564.5,819.1" stroke-width="10.5"/><polyline points="1564.5,819.1 1566.5,820.5 1568.5,820.1" stroke-width="10.0"/><polyline points="1568.5,820.1 1570.5,817.0 1572.5,812.6 1574.5,809.3" stroke-width="9.5"/><polyline points="1574.5,809.3 1576.5,807.6 1578.5,806.5 1580.5,805.2 1582.5,802.2" stroke-width="9.0"/><polyline points="1582.5,802.2 1584.5,799.3 1586.5,797.1 1588.5,793.8 1590.5,790.5 1592.5,788.7" stroke-width="8.5"/><polyline points="1592.5,788.7 1594.5,788.1 1596.5,786.5" stroke-width="9.0"/><polyline points="1596.5,786.5 1598.5,785.0" stroke-width="9.5"/><polyline points="1598.5,785.0 1600.5,785.5" stroke-width="10.0"/><polyline points="1600.5,785.5 1602.5,784.1 1604.5,782.2" stroke-width="10.5"/><polyline points="1604.5,782.2 1606.5,783.2" stroke-width="10.0"/><polyline points="1606.5,783.2 1608.5,784.7" stroke-width="9.5"/><polyline points="1608.5,784.7 1610.5,786.9 1612.5,789.4" stroke-width="9.0"/><polyline points="1612.5,789.4 1614.5,790.8 1616.5,794.4 1618.5,799.6 1620.5,803.9 1622.5,806.7 1624.5,808.2" stroke-width="8.5"/><polyline points="1624.5,808.2 1626.5,809.6 1628.5,811.6 1630.5,813.3 1632.5,815.0" stroke-width="9.0"/><polyline points="1632.5,815.0 1634.5,816.8 1636.5,817.2 1638.5,817.0" stroke-width="9.5"/><polyline points="1638.5,817.0 1640.5,818.6 1642.5,821.3" stroke-width="10.0"/><polyline points="1642.5,821.3 1644.5,822.5 1646.5,823.7" stroke-width="10.5"/><polyline points="1646.5,823.7 1648.5,824.5 1650.5,824.7 1652.5,826.2" stroke-width="11.0"/><polyline points="1652.5,826.2 1654.5,827.3 1656.5,826.0 1658.5,825.7 1660.5,828.9 1662.5,830.9 1664.5,831.8 1666.5,831.8" stroke-width="11.5"/><polyline points="1666.5,831.8 1668.5,830.9 1670.5,832.1 1672.5,832.1 1674.5,832.7 1676.5,832.5 1678.5,830.4 1680.5,830.2 1682.5,830.9 1684.5,830.5 1686.5,830.9 1688.5,833.7 1690.5,833.8 1692.5,831.3 1694.5,831.6 1696.5,833.3 1698.5,833.3 1700.5,832.4 1702.5,831.7 1704.5,831.0 1706.5,830.4 1708.5,831.0 1710.5,830.7 1712.5,831.3 1714.5,834.3 1716.5,834.5 1718.5,832.1 1720.5,832.4 1722.5,833.2 1724.5,831.5 1726.5,831.1 1728.5,832.1 1730.5,832.9 1732.5,833.4 1734.5,832.3 1736.5,831.8 1738.5,833.6 1740.5,834.5 1742.5,835.0 1744.5,836.0 1746.5,834.7 1748.5,835.3 1750.5,837.1 1752.5,835.2 1754.5,832.6 1756.5,831.7 1758.5,832.8 1760.5,833.9 1762.5,833.7 1764.5,833.9 1766.5,836.0 1768.5,837.1 1770.5,836.2 1772.5,833.3 1774.5,831.8 1776.5,833.8 1778.5,834.6 1780.5,835.3 1782.5,837.3 1784.5,836.8 1786.5,835.7 1788.5,836.1 1790.5,836.3 1792.5,836.6 1794.5,836.8 1796.5,835.6 1798.5,833.8 1800.5,833.7 1802.5,835.3 1804.5,836.8 1806.5,836.3 1808.5,833.4 1810.5,831.0 1812.5,832.9 1814.5,837.0 1816.5,837.5 1818.5,835.5 1820.5,836.6 1822.5,839.3 1824.5,839.0 1826.5,836.7 1828.5,835.9 1830.5,836.3 1832.5,834.8 1834.5,834.5 1836.5,836.7 1838.5,836.9 1840.5,834.7 1842.5,832.1 1844.5,831.4" stroke-width="12.0"/><polyline points="1844.5,831.4 1846.5,832.0 1848.5,832.6 1850.5,832.5 1852.5,831.2" stroke-width="11.5"/><polyline points="1852.5,831.2 1854.5,831.1 1856.5,831.0 1858.5,829.0" stroke-width="11.0"/><polyline points="1858.5,829.0 1860.5,828.3 1862.5,828.9 1864.5,827.7 1866.5,826.1" stroke-width="10.5"/><polyline points="1866.5,826.1 1868.5,825.5" stroke-width="11.0"/><polyline points="1868.5,825.5 1870.5,824.4 1872.5,824.0 1874.5,826.3 1876.5,827.5 1878.5,824.7" stroke-width="11.5"/><polyline points="1878.5,824.7 1880.5,822.5 1882.5,822.6" stroke-width="11.0"/><polyline points="1882.5,822.6 1884.5,824.5 1886.5,827.3 1888.5,828.2 1890.5,828.2" stroke-width="10.5"/><polyline points="1890.5,828.2 1892.5,829.2 1894.5,831.1 1896.5,833.8" stroke-width="11.0"/><polyline points="1896.5,833.8 1898.5,836.1 1900.5,835.4 1902.5,833.8 1904.5,834.1" stroke-width="11.5"/><polyline points="1904.5,834.1 1906.5,836.3 1908.5,837.1 1910.5,836.2 1912.5,836.7 1914.5,835.0 1916.5,833.7 1918.5,837.5 1920.5,837.3 1922.5,832.3 1924.5,831.3 1926.5,833.9 1928.5,835.4 1930.5,835.8 1932.5,836.5 1934.5,837.0 1936.5,836.3 1938.5,836.7 1940.5,837.2 1942.5,836.8 1944.5,837.4 1946.5,837.0 1948.5,836.0 1950.5,833.8 1952.5,831.2 1954.5,834.1 1956.5,838.1 1958.5,836.5 1960.5,834.5 1962.5,835.1 1964.5,837.5 1966.5,838.7 1968.5,835.7 1970.5,834.9 1972.5,835.5 1974.5,832.7 1976.5,831.3 1978.5,832.5 1980.5,835.2 1982.5,838.8 1984.5,840.1 1986.5,840.2 1988.5,838.8 1990.5,836.1 1992.5,836.3 1994.5,836.9 1996.5,836.8 1998.5,835.5 2000.5,835.2 2002.5,838.8 2004.5,840.4 2006.5,837.8 2008.5,837.5 2010.5,837.7 2012.5,834.9 2014.5,834.7 2016.5,835.1 2018.5,836.0 2020.5,837.7 2022.5,838.0 2024.5,838.6 2026.5,839.5 2028.5,840.5 2030.5,840.6 2032.5,839.5 2034.5,838.0 2036.5,836.4 2038.5,836.0 2040.5,837.8 2042.5,838.3 2044.5,837.1 2046.5,836.8 2048.5,836.4 2050.5,835.8 2052.5,835.6 2054.5,837.4 2056.5,839.4 2058.5,837.4 2060.5,835.4 2062.5,836.8 2064.5,838.5 2066.5,839.9 2068.5,840.3 2070.5,839.0 2072.5,837.7 2074.5,836.9 2076.5,836.5 2078.5,837.8 2080.5,837.7 2082.5,835.5 2084.5,836.5 2086.5,837.8 2088.5,836.5 2090.5,837.0 2092.5,838.7 2094.5,839.2 2096.5,839.7 2098.5,840.5 2100.5,840.2 2102.5,838.7 2104.5,838.7 2106.5,838.0 2108.5,835.9 2110.5,836.9 2112.5,839.1 2114.5,839.7 2116.5,839.4 2118.5,838.5 2120.5,838.8 2122.5,838.0 2124.5,834.3 2126.5,833.8 2128.5,837.0 2130.5,839.2 2132.5,840.0 2134.5,840.0 2136.5,838.1 2138.5,836.9 2140.5,838.3 2142.5,838.2 2144.5,835.4 2146.5,834.4 2148.5,836.8 2150.5,839.1 2152.5,839.9 2154.5,840.0 2156.5,838.1 2158.5,836.5 2160.5,836.9 2162.5,838.3 2164.5,839.7 2166.5,840.1 2168.5,838.1 2170.5,835.9 2172.5,836.5 2174.5,838.2 2176.5,838.7 2178.5,838.3 2180.5,837.5 2182.5,837.1 2184.5,837.1 2186.5,837.5 2188.5,839.9 2190.5,841.6 2192.5,840.3 2194.5,837.5 2196.5,836.3 2198.5,838.0 2200.5,840.0 2202.5,841.3 2204.5,842.0 2206.5,840.9 2208.5,839.2 2210.5,840.1 2212.5,840.8 2214.5,840.2 2216.5,839.7 2218.5,838.1 2220.5,838.2 2222.5,839.4 2224.5,838.7 2226.5,837.5 2228.5,840.5 2230.5,842.0 2232.5,839.8 2234.5,839.4 2236.5,839.5 2238.5,840.2" stroke-width="12.0"/></g>
<g fill="none" stroke="#0000ff" stroke-linejoin="round" stroke-linecap="round"><polyline points="186.5,1020.2 188.5,1018.2 190.5,1015.6 192.5,1015.1 194.5,1018.6 196.5,1021.5 198.5,1021.3 200.5,1021.5 202.5,1021.3 204.5,1021.5 206.5,1022.5 208.5,1021.2 210.5,1022.0 212.5,1024.0 214.5,1022.1 216.5,1020.3 218.5,1020.2 220.5,1019.3 222.5,1017.8 224.5,1019.6 226.5,1022.6 228.5,1021.9 230.5,1020.9 232.5,1021.4 234.5,1021.7 236.5,1021.7 238.5,1020.7 240.5,1019.6 242.5,1020.3 244.5,1021.1 246.5,1021.7 248.5,1021.0 250.5,1019.9 252.5,1019.9 254.5,1020.6 256.5,1021.9 258.5,1022.5 260.5,1021.7 262.5,1021.6 264.5,1022.6 266.5,1023.0 268.5,1023.6 270.5,1022.8 272.5,1021.0 274.5,1021.0 276.5,1021.5 278.5,1022.8 280.5,1024.3 282.5,1024.2 284.5,1022.9 286.5,1021.2 288.5,1021.7 290.5,1023.2 292.5,1023.2 294.5,1022.3 296.5,1022.7 298.5,1022.1 300.5,1019.8 302.5,1020.2 304.5,1021.4 306.5,1020.3 308.5,1020.6 310.5,1022.9 312.5,1023.2 314.5,1022.4 316.5,1022.2 318.5,1021.7 320.5,1021.3 322.5,1021.9 324.5,1023.6 326.5,1024.3 328.5,1022.9 330.5,1022.2 332.5,1021.7 334.5,1021.2 336.5,1022.9 338.5,1023.6 340.5,1022.9 342.5,1023.1 344.5,1023.5 346.5,1024.9 348.5,1025.1 350.5,1022.1 352.5,1020.2 354.5,1020.6 356.5,1020.4 358.5,1020.6 360.5,1023.0 362.5,1024.8 364.5,1024.0 366.5,1021.9 368.5,1020.6 370.5,1020.7 372.5,1021.7 374.5,1023.0 376.5,1023.2 378.5,1023.2 380.5,1023.5 382.5,1024.1 384.5,1025.1 386.5,1024.8 388.5,1023.8 390.5,1024.2 392.5,1025.6 394.5,1026.1 396.5,1025.9 398.5,1025.5 400.5,1024.1 402.5,1022.5 404.5,1022.6 406.5,1023.6 408.5,1022.8 410.5,1022.8 412.5,1024.3 414.5,1023.7 416.5,1023.6 418.5,1025.0 420.5,1025.3 422.5,1025.2 424.5,1025.0 426.5,1025.8 428.5,1026.4 430.5,1026.5 432.5,1026.7 434.5,1025.1 436.5,1024.2 438.5,1025.3 440.5,1025.9 442.5,1024.7 444.5,1024.2 446.5,1025.6 448.5,1026.3 450.5,1024.3 452.5,1022.9 454.5,1024.3 456.5,1025.3 458.5,1024.8 460.5,1023.6 462.5,1022.7 464.5,1023.9 466.5,1025.6 468.5,1026.1 470.5,1026.3 472.5,1025.6 474.5,1024.7 476.5,1024.3 478.5,1023.0 480.5,1024.0 482.5,1026.6 484.5,1025.7 486.5,1023.6 488.5,1024.3 490.5,1024.3 492.5,1023.8 494.5,1024.7 496.5,1025.9 498.5,1025.6 500.5,1023.4 502.5,1023.0 504.5,1022.8 506.5,1022.6 508.5,1025.6 510.5,1026.5 512.5,1024.4 514.5,1023.5 516.5,1023.5 518.5,1023.0 520.5,1022.8 522.5,1022.6 524.5,1022.4 526.5,1023.4 528.5,1024.8 530.5,1023.9" stroke-width="12.0"/><polyline points="530.5,1023.9 532.5,1020.7 534.5,1019.0 536.5,1018.8 538.5,1019.4" stroke-width="11.5"/><polyline points="538.5,1019.4 540.5,1019.3" stroke-width="11.0"/><polyline points="540.5,1019.3 542.5,1016.9" stroke-width="10.5"/><polyline points="542.5,1016.9 544.5,1014.0" stroke-width="10.0"/><polyline points="544.5,1014.0 546.5,1012.9" stroke-width="9.5"/><polyline points="546.5,1012.9 548.5,1013.3" stroke-width="9.0"/><polyline points="548.5,1013.3 550.5,1012.1" stroke-width="8.5"/><polyline points="550.5,1012.1 552.5,1006.6 554.5,996.8 556.5,984.8 558.5,970.2 560.5,951.3 562.5,930.3 564.5,906.9 566.5,878.3 568.5,847.0 570.5,816.6 572.5,789.5 574.5,765.0 576.5,745.4 578.5,736.1 580.5,739.1 582.5,753.0 584.5,773.3 586.5,799.4 588.5,830.5 590.5,860.0 592.5,887.3 594.5,915.1 596.5,942.3 598.5,964.5 600.5,981.1 602.5,995.3 604.5,1005.9 606.5,1012.5 608.5,1018.3 610.5,1022.6" stroke-width="8.0"/><polyline points="610.5,1022.6 612.5,1023.3" stroke-width="8.5"/><polyline points="612.5,1023.3 614.5,1023.5" stroke-width="9.0"/><polyline points="614.5,1023.5 616.5,1025.2" stroke-width="9.5"/><polyline points="616.5,1025.2 618.5,1027.8" stroke-width="10.0"/><polyline points="618.5,1027.8 620.5,1028.9 622.5,1026.4" stroke-width="11.0"/><polyline points="622.5,1026.4 624.5,1025.0 626.5,1026.9 628.5,1028.0" stroke-width="11.5"/><polyline points="628.5,1028.0 630.5,1028.0 632.5,1028.8 634.5,1029.9 636.5,1029.9 638.5,1028.1 640.5,1027.6 642.5,1028.5 644.5,1029.6 646.5,1031.3 648.5,1031.3 650.5,1031.2 652.5,1032.3 654.5,1032.5 656.5,1032.5 658.5,1032.1 660.5,1030.9 662.5,1030.5 664.5,1030.0 666.5,1029.3 668.5,1030.2 670.5,1031.7 672.5,1030.7" stroke-width="12.0"/><polyline points="672.5,1030.7 674.5,1030.4" stroke-width="11.5"/><polyline points="674.5,1030.4 676.5,1030.9" stroke-width="11.0"/><polyline points="676.5,1030.9 678.5,1028.7" stroke-width="10.5"/><polyline points="678.5,1028.7 680.5,1027.2" stroke-width="10.0"/><polyline points="680.5,1027.2 682.5,1026.7 684.5,1023.6" stroke-width="9.0"/><polyline points="684.5,1023.6 686.5,1018.7 688.5,1014.5 690.5,1011.3 692.5,1007.6" stroke-width="8.5"/><polyline points="692.5,1007.6 694.5,1002.3 696.5,996.8 698.5,992.8" stroke-width="8.0"/><polyline points="698.5,992.8 700.5,989.3 702.5,985.0 704.5,980.6" stroke-width="8.5"/><polyline points="704.5,980.6 706.5,978.1" stroke-width="9.0"/><polyline points="706.5,978.1 708.5,977.7 710.5,979.0" stroke-width="9.5"/><polyline points="710.5,979.0 712.5,982.6" stroke-width="9.0"/><polyline points="712.5,982.6 714.5,986.1 716.5,988.7 718.5,993.5" stroke-width="8.5"/><polyline points="718.5,993.5 720.5,1000.2 722.5,1006.2 724.5,1010.7 726.5,1015.3" stroke-width="8.0"/><polyline points="726.5,1015.3 728.5,1019.5 730.5,1023.0 732.5,1026.5 734.5,1030.3" stroke-width="8.5"/><polyline points="734.5,1030.3 736.5,1033.2" stroke-width="9.0"/><polyline points="736.5,1033.2 738.5,1033.6" stroke-width="9.5"/><polyline points="738.5,1033.6 740.5,1034.0" stroke-width="10.0"/><polyline points="740.5,1034.0 742.5,1036.5" stroke-width="10.5"/><polyline points="742.5,1036.5 744.5,1036.9" stroke-width="11.0"/><polyline points="744.5,1036.9 746.5,1036.0 748.5,1035.9" stroke-width="11.5"/><polyline points="748.5,1035.9 750.5,1034.8 752.5,1033.7 754.5,1035.2 756.5,1037.3 758.5,1037.1 760.5,1036.3 762.5,1035.8 764.5,1035.7 766.5,1036.7 768.5,1038.4 770.5,1038.4 772.5,1037.2 774.5,1037.9 776.5,1036.9 778.5,1035.1 780.5,1037.4 782.5,1039.6 784.5,1038.9 786.5,1037.5 788.5,1035.5 790.5,1034.3 792.5,1035.8 794.5,1036.4 796.5,1035.7 798.5,1035.9 800.5,1037.4 802.5,1038.4 804.5,1036.1 806.5,1033.5 808.5,1033.3 810.5,1035.0 812.5,1036.7 814.5,1036.5 816.5,1036.6 818.5,1037.8 820.5,1038.5 822.5,1038.5 824.5,1036.5 826.5,1034.7 828.5,1035.1 830.5,1036.3 832.5,1037.2 834.5,1036.8 836.5,1036.5 838.5,1036.1 840.5,1035.1 842.5,1036.4 844.5,1037.8 846.5,1037.0 848.5,1036.9 850.5,1037.1 852.5,1036.5 854.5,1036.9 856.5,1037.6 858.5,1037.3 860.5,1037.3 862.5,1036.8 864.5,1035.4 866.5,1036.6 868.5,1040.2 870.5,1040.6 872.5,1039.0 874.5,1039.5 876.5,1040.3 878.5,1039.4 880.5,1037.0 882.5,1035.0 884.5,1035.2 886.5,1037.6 888.5,1040.4 890.5,1040.6 892.5,1038.4 894.5,1038.1 896.5,1040.6 898.5,1040.8 900.5,1038.4 902.5,1038.1 904.5,1038.3 906.5,1037.6 908.5,1037.3 910.5,1037.5 912.5,1037.0 914.5,1036.2 916.5,1037.7 918.5,1039.7 920.5,1040.1 922.5,1039.9 924.5,1039.3 926.5,1039.9 928.5,1040.7 930.5,1039.4 932.5,1039.2 934.5,1040.0 936.5,1038.3 938.5,1036.4 940.5,1036.6 942.5,1037.4 944.5,1037.6 946.5,1038.3 948.5,1039.8 950.5,1040.2 952.5,1039.2 954.5,1038.8 956.5,1040.0 958.5,1041.6 960.5,1041.4 962.5,1038.9 964.5,1038.7 966.5,1039.4 968.5,1038.1 970.5,1038.2 972.5,1038.8 974.5,1038.0 976.5,1037.2 978.5,1036.9 980.5,1037.2 982.5,1038.5 984.5,1038.5 986.5,1038.1 988.5,1038.4 990.5,1038.5 992.5,1038.7 994.5,1038.5 996.5,1037.9 998.5,1037.1 1000.5,1035.9 1002.5,1035.4 1004.5,1035.5 1006.5,1035.1 1008.5,1035.0 1010.5,1036.5 1012.5,1038.4 1014.5,1038.4 1016.5,1037.6 1018.5,1038.0 1020.5,1039.9 1022.5,1040.1 1024.5,1037.3 1026.5,1035.9 1028.5,1036.6 1030.5,1037.9 1032.5,1037.9 1034.5,1037.6 1036.5,1037.8 1038.5,1035.9 1040.5,1032.6 1042.5,1033.1 1044.5,1034.7 1046.5,1034.6 1048.5,1036.3 1050.5,1036.4" stroke-width="12.0"/><polyline points="1050.5,1036.4 1052.5,1033.9 1054.5,1033.7 1056.5,1035.9 1058.5,1037.0 1060.5,1036.1" stroke-width="11.5"/><polyline points="1060.5,1036.1 1062.5,1033.6 1064.5,1031.3 1066.5,1030.7" stroke-width="11.0"/><polyline points="1066.5,1030.7 1068.5,1030.0 1070.5,1028.8" stroke-width="10.5"/><polyline points="1070.5,1028.8 1072.5,1027.9 1074.5,1026.1" stroke-width="10.0"/><polyline points="1074.5,1026.1 1076.5,1025.4" stroke-width="9.5"/><polyline points="1076.5,1025.4 1078.5,1025.2 1080.5,1022.9" stroke-width="9.0"/><polyline points="1080.5,1022.9 1082.5,1019.9 1084.5,1015.4 1086.5,1009.9 1088.5,1004.8 1090.5,1001.4" stroke-width="8.5"/><polyline points="1090.5,1001.4 1092.5,998.0 1094.5,989.8 1096.5,981.5 1098.5,975.3 1100.5,966.5 1102.5,957.1 1104.5,947.7 1106.5,938.9 1108.5,933.7 1110.5,927.5 1112.5,920.6" stroke-width="8.0"/><polyline points="1112.5,920.6 1114.5,917.4 1116.5,916.9 1118.5,919.2 1120.5,924.0" stroke-width="8.5"/><polyline points="1120.5,924.0 1122.5,930.5 1124.5,939.4 1126.5,950.5 1128.5,960.5 1130.5,968.5 1132.5,977.9 1134.5,986.5 1136.5,992.1 1138.5,998.8 1140.5,1006.8 1142.5,1012.0 1144.5,1014.2" stroke-width="8.0"/><polyline points="1144.5,1014.2 1146.5,1017.1 1148.5,1021.7 1150.5,1025.1 1152.5,1025.8" stroke-width="8.5"/><polyline points="1152.5,1025.8 1154.5,1028.0 1156.5,1030.2" stroke-width="9.0"/><polyline points="1156.5,1030.2 1158.5,1030.0 1160.5,1032.1" stroke-width="9.5"/><polyline points="1160.5,1032.1 1162.5,1034.6 1164.5,1034.7" stroke-width="10.0"/><polyline points="1164.5,1034.7 1166.5,1034.1 1168.5,1034.5" stroke-width="10.5"/><polyline points="1168.5,1034.5 1170.5,1035.7 1172.5,1036.1 1174.5,1037.2" stroke-width="11.0"/><polyline points="1174.5,1037.2 1176.5,1038.5 1178.5,1039.2 1180.5,1040.8 1182.5,1041.8 1184.5,1042.1 1186.5,1042.2 1188.5,1040.1 1190.5,1039.1" stroke-width="11.5"/><polyline points="1190.5,1039.1 1192.5,1041.8 1194.5,1043.1 1196.5,1041.5 1198.5,1041.7 1200.5,1043.2 1202.5,1042.7 1204.5,1041.9 1206.5,1043.8 1208.5,1045.5 1210.5,1042.4 1212.5,1039.8 1214.5,1041.2 1216.5,1041.3 1218.5,1041.1 1220.5,1042.6 1222.5,1043.9 1224.5,1044.6 1226.5,1045.0 1228.5,1046.1 1230.5,1046.3 1232.5,1045.5 1234.5,1046.5 1236.5,1047.7 1238.5,1045.7 1240.5,1043.3 1242.5,1044.0 1244.5,1045.8 1246.5,1046.4 1248.5,1046.1 1250.5,1046.1 1252.5,1045.4 1254.5,1044.7 1256.5,1044.6 1258.5,1044.7 1260.5,1045.0 1262.5,1044.8 1264.5,1043.5 1266.5,1043.1 1268.5,1044.3 1270.5,1044.8 1272.5,1044.7 1274.5,1045.3 1276.5,1046.5 1278.5,1046.2 1280.5,1045.1 1282.5,1044.6 1284.5,1041.5 1286.5,1040.6 1288.5,1042.6 1290.5,1042.5 1292.5,1042.2 1294.5,1041.7 1296.5,1040.2 1298.5,1040.0 1300.5,1041.3 1302.5,1042.7 1304.5,1042.9" stroke-width="12.0"/><polyline points="1304.5,1042.9 1306.5,1041.9 1308.5,1041.6 1310.5,1040.6 1312.5,1038.3 1314.5,1039.3 1316.5,1041.9 1318.5,1042.2" stroke-width="11.5"/><polyline points="1318.5,1042.2 1320.5,1041.4 1322.5,1040.3" stroke-width="11.0"/><polyline points="1322.5,1040.3 1324.5,1038.6 1326.5,1034.9 1328.5,1031.4" stroke-width="10.5"/><polyline points="1328.5,1031.4 1330.5,1030.9" stroke-width="10.0"/><polyline points="1330.5,1030.9 1332.5,1032.0 1334.5,1031.5" stroke-width="9.5"/><polyline points="1334.5,1031.5 1336.5,1028.2 1338.5,1025.4" stroke-width="9.0"/><polyline points="1338.5,1025.4 1340.5,1022.9 1342.5,1019.0 1344.5,1015.8 1346.5,1012.3 1348.5,1006.7" stroke-width="8.5"/><polyline points="1348.5,1006.7 1350.5,999.9 1352.5,992.2 1354.5,985.9 1356.5,981.9 1358.5,977.2 1360.5,970.9" stroke-width="8.0"/><polyline points="1360.5,970.9 1362.5,966.6 1364.5,966.9 1366.5,969.4 1368.5,972.8 1370.5,978.6" stroke-width="8.5"/><polyline points="1370.5,978.6 1372.5,985.5 1374.5,991.5 1376.5,997.4 1378.5,1004.4 1380.5,1010.5 1382.5,1013.5" stroke-width="8.0"/><polyline points="1382.5,1013.5 1384.5,1014.7 1386.5,1017.1 1388.5,1021.7 1390.5,1025.1" stroke-width="8.5"/><polyline points="1390.5,1025.1 1392.5,1027.5 1394.5,1029.0" stroke-width="9.0"/><polyline points="1394.5,1029.0 1396.5,1029.2" stroke-width="9.5"/><polyline points="1396.5,1029.2 1398.5,1029.5 1400.5,1031.9" stroke-width="10.0"/><polyline points="1400.5,1031.9 1402.5,1035.8 1404.5,1037.3" stroke-width="10.5"/><polyline points="1404.5,1037.3 1406.5,1037.3 1408.5,1038.4" stroke-width="11.0"/><polyline points="1408.5,1038.4 1410.5,1039.0 1412.5,1039.0 1414.5,1040.1 1416.5,1039.7" stroke-width="11.5"/><polyline points="1416.5,1039.7 1418.5,1036.9 1420.5,1036.3 1422.5,1037.0 1424.5,1035.6" stroke-width="12.0"/><polyline points="1424.5,1035.6 1426.5,1033.2" stroke-width="11.5"/><polyline points="1426.5,1033.2 1428.5,1033.7" stroke-width="11.0"/><polyline points="1428.5,1033.7 1430.5,1034.2" stroke-width="10.0"/><polyline points="1430.5,1034.2 1432.5,1032.1 1434.5,1030.3" stroke-width="9.5"/><polyline points="1434.5,1030.3 1436.5,1028.6 1438.5,1027.3 1440.5,1027.5" stroke-width="10.0"/><polyline points="1440.5,1027.5 1442.5,1029.2 1444.5,1032.1 1446.5,1034.8 1448.5,1036.1" stroke-width="9.5"/><polyline points="1448.5,1036.1 1450.5,1037.8" stroke-width="10.0"/><polyline points="1450.5,1037.8 1452.5,1039.0" stroke-width="10.5"/><polyline points="1452.5,1039.0 1454.5,1040.3" stroke-width="11.0"/><polyline points="1454.5,1040.3 1456.5,1041.8" stroke-width="11.5"/><polyline points="1456.5,1041.8 1458.5,1040.6 1460.5,1039.6 1462.5,1040.7 1464.5,1041.3 1466.5,1041.6 1468.5,1042.8 1470.5,1042.0 1472.5,1040.2 1474.5,1039.9 1476.5,1040.8 1478.5,1042.4 1480.5,1042.9 1482.5,1041.6 1484.5,1040.5 1486.5,1039.5 1488.5,1039.3 1490.5,1041.9 1492.5,1042.9 1494.5,1042.0 1496.5,1041.5 1498.5,1041.7 1500.5,1043.0 1502.5,1042.2 1504.5,1042.2 1506.5,1043.4 1508.5,1042.1 1510.5,1041.3 1512.5,1040.8 1514.5,1040.6 1516.5,1040.9 1518.5,1042.0 1520.5,1044.1 1522.5,1043.9 1524.5,1043.5 1526.5,1044.6 1528.5,1043.3 1530.5,1042.0 1532.5,1041.7 1534.5,1041.8 1536.5,1042.4 1538.5,1040.8 1540.5,1040.4 1542.5,1041.8 1544.5,1041.2 1546.5,1040.1 1548.5,1039.8 1550.5,1040.5 1552.5,1040.0 1554.5,1038.7 1556.5,1039.6 1558.5,1041.5 1560.5,1044.2 1562.5,1045.5 1564.5,1044.0 1566.5,1043.5 1568.5,1044.2 1570.5,1042.9 1572.5,1039.9 1574.5,1039.0 1576.5,1039.6 1578.5,1039.6 1580.5,1040.7 1582.5,1041.3 1584.5,1041.3 1586.5,1042.9 1588.5,1044.1 1590.5,1043.2 1592.5,1042.6 1594.5,1042.2 1596.5,1041.6 1598.5,1040.7 1600.5,1040.7 1602.5,1042.8 1604.5,1043.8 1606.5,1042.9 1608.5,1041.5 1610.5,1040.4 1612.5,1041.3 1614.5,1042.5 1616.5,1042.4 1618.5,1041.7 1620.5,1040.4 1622.5,1040.0 1624.5,1042.2 1626.5,1043.9 1628.5,1042.0 1630.5,1040.0 1632.5,1040.6 1634.5,1042.6 1636.5,1044.6 1638.5,1044.2 1640.5,1041.7 1642.5,1040.8 1644.5,1041.7 1646.5,1041.9 1648.5,1042.1 1650.5,1043.1 1652.5,1043.0 1654.5,1042.7 1656.5,1043.1 1658.5,1043.3 1660.5,1043.2 1662.5,1043.9 1664.5,1044.8 1666.5,1044.9 1668.5,1044.1 1670.5,1042.2 1672.5,1041.4 1674.5,1040.7 1676.5,1040.6 1678.5,1043.3 1680.5,1045.6 1682.5,1045.2 1684.5,1043.4 1686.5,1041.6 1688.5,1041.6 1690.5,1042.0 1692.5,1043.4 1694.5,1044.3 1696.5,1043.9 1698.5,1043.7 1700.5,1042.9 1702.5,1042.3 1704.5,1042.4 1706.5,1042.6 1708.5,1041.4 1710.5,1039.8 1712.5,1040.7 1714.5,1043.0 1716.5,1042.9 1718.5,1040.5 1720.5,1041.3" stroke-width="12.0"/><polyline points="1720.5,1041.3 1722.5,1044.1 1724.5,1045.0" stroke-width="11.5"/><polyline points="1724.5,1045.0 1726.5,1043.2" stroke-width="11.0"/><polyline points="1726.5,1043.2 1728.5,1040.9" stroke-width="10.5"/><polyline points="1728.5,1040.9 1730.5,1039.5" stroke-width="10.0"/><polyline points="1730.5,1039.5 1732.5,1037.1 1734.5,1035.1 1736.5,1035.0 1738.5,1037.2 1740.5,1039.0" stroke-width="10.5"/><polyline points="1740.5,1039.0 1742.5,1037.6 1744.5,1038.4" stroke-width="10.0"/><polyline points="1744.5,1038.4 1746.5,1042.0" stroke-width="10.5"/><polyline points="1746.5,1042.0 1748.5,1043.7" stroke-width="11.0"/><polyline points="1748.5,1043.7 1750.5,1043.5 1752.5,1043.1" stroke-width="11.5"/><polyline points="1752.5,1043.1 1754.5,1043.1 1756.5,1042.5 1758.5,1041.7 1760.5,1042.0 1762.5,1042.8 1764.5,1042.8 1766.5,1043.4 1768.5,1044.9 1770.5,1044.2 1772.5,1041.9 1774.5,1041.0 1776.5,1041.0 1778.5,1040.3 1780.5,1040.1 1782.5,1040.4 1784.5,1041.2 1786.5,1040.5 1788.5,1039.8 1790.5,1042.9 1792.5,1044.0 1794.5,1042.1 1796.5,1042.2 1798.5,1043.2 1800.5,1044.1 1802.5,1044.7 1804.5,1043.0 1806.5,1040.6 1808.5,1040.3 1810.5,1042.3 1812.5,1043.2 1814.5,1042.6 1816.5,1044.0 1818.5,1044.3 1820.5,1043.6 1822.5,1043.0 1824.5,1039.9 1826.5,1039.0 1828.5,1041.9 1830.5,1043.5 1832.5,1043.3 1834.5,1041.8 1836.5,1041.0 1838.5,1042.1 1840.5,1042.9 1842.5,1043.5 1844.5,1042.5 1846.5,1041.5 1848.5,1042.9 1850.5,1044.2 1852.5,1043.4 1854.5,1041.2 1856.5,1041.0 1858.5,1042.5 1860.5,1042.5 1862.5,1042.6 1864.5,1043.9 1866.5,1044.3 1868.5,1043.1 1870.5,1042.9 1872.5,1042.9 1874.5,1041.4 1876.5,1041.2 1878.5,1041.1 1880.5,1039.5 1882.5,1040.2 1884.5,1041.9 1886.5,1040.9 1888.5,1040.6 1890.5,1042.4 1892.5,1042.0 1894.5,1041.8 1896.5,1041.6 1898.5,1038.9 1900.5,1037.4" stroke-width="12.0"/><polyline points="1900.5,1037.4 1902.5,1038.6 1904.5,1039.4 1906.5,1039.7 1908.5,1040.6 1910.5,1039.6" stroke-width="11.5"/><polyline points="1910.5,1039.6 1912.5,1038.0 1914.5,1037.4 1916.5,1035.1 1918.5,1032.9" stroke-width="11.0"/><polyline points="1918.5,1032.9 1920.5,1032.4 1922.5,1031.8 1924.5,1030.7 1926.5,1030.0 1928.5,1029.0 1930.5,1028.1 1932.5,1028.6 1934.5,1030.2 1936.5,1031.0 1938.5,1028.9" stroke-width="10.5"/><polyline points="1938.5,1028.9 1940.5,1025.1 1942.5,1023.8" stroke-width="11.0"/><polyline points="1942.5,1023.8 1944.5,1025.6" stroke-width="11.5"/><polyline points="1944.5,1025.6 1946.5,1026.7 1948.5,1025.5 1950.5,1024.2" stroke-width="12.0"/><polyline points="1950.5,1024.2 1952.5,1024.4 1954.5,1025.7 1956.5,1027.5" stroke-width="11.5"/><polyline points="1956.5,1027.5 1958.5,1028.5 1960.5,1027.9 1962.5,1028.8 1964.5,1030.9 1966.5,1031.4 1968.5,1031.7 1970.5,1032.5" stroke-width="11.0"/><polyline points="1970.5,1032.5 1972.5,1033.4 1974.5,1033.6 1976.5,1032.2 1978.5,1032.1" stroke-width="11.5"/><polyline points="1978.5,1032.1 1980.5,1031.2 1982.5,1029.2 1984.5,1030.6 1986.5,1032.9 1988.5,1033.9 1990.5,1033.7 1992.5,1032.1 1994.5,1031.0 1996.5,1031.4 1998.5,1032.0 2000.5,1032.3 2002.5,1032.0 2004.5,1031.6 2006.5,1031.8 2008.5,1031.8 2010.5,1032.2 2012.5,1033.3 2014.5,1033.7 2016.5,1033.9 2018.5,1034.1 2020.5,1032.6 2022.5,1032.0" stroke-width="12.0"/><polyline points="2022.5,1032.0 2024.5,1032.7 2026.5,1032.7 2028.5,1033.9 2030.5,1035.3 2032.5,1035.6 2034.5,1036.0 2036.5,1037.0 2038.5,1037.8 2040.5,1036.0 2042.5,1034.3 2044.5,1036.3 2046.5,1039.3 2048.5,1040.4 2050.5,1040.1 2052.5,1038.8 2054.5,1039.1 2056.5,1040.5" stroke-width="11.5"/><polyline points="2056.5,1040.5 2058.5,1039.4 2060.5,1036.8 2062.5,1037.8 2064.5,1041.4 2066.5,1040.8 2068.5,1039.1 2070.5,1041.4 2072.5,1041.6 2074.5,1040.2 2076.5,1041.5 2078.5,1042.6 2080.5,1043.5 2082.5,1043.8 2084.5,1043.7 2086.5,1044.5 2088.5,1043.0 2090.5,1042.2 2092.5,1043.0 2094.5,1042.0 2096.5,1042.1 2098.5,1042.7 2100.5,1041.0 2102.5,1040.4 2104.5,1042.0 2106.5,1042.3 2108.5,1042.4 2110.5,1042.6 2112.5,1042.1 2114.5,1042.1 2116.5,1042.0 2118.5,1041.7 2120.5,1041.7 2122.5,1042.6 2124.5,1042.6 2126.5,1042.0 2128.5,1042.3 2130.5,1042.9 2132.5,1043.1 2134.5,1042.5 2136.5,1042.5 2138.5,1042.0 2140.5,1041.3 2142.5,1040.8 2144.5,1041.0 2146.5,1042.3 2148.5,1043.1 2150.5,1042.0 2152.5,1040.5 2154.5,1041.9 2156.5,1044.9 2158.5,1044.9 2160.5,1043.2 2162.5,1042.6 2164.5,1043.5 2166.5,1045.0 2168.5,1045.3 2170.5,1044.1 2172.5,1043.1 2174.5,1043.0 2176.5,1044.2 2178.5,1044.7 2180.5,1043.4 2182.5,1042.4 2184.5,1041.0 2186.5,1039.6 2188.5,1039.6 2190.5,1041.8 2192.5,1045.2 2194.5,1046.2 2196.5,1044.7 2198.5,1043.8 2200.5,1043.4 2202.5,1041.2 2204.5,1039.7 2206.5,1040.6 2208.5,1040.7 2210.5,1039.8 2212.5,1041.6 2214.5,1044.1 2216.5,1043.2 2218.5,1041.6 2220.5,1042.0 2222.5,1043.5 2224.5,1043.9 2226.5,1043.0 2228.5,1041.1 2230.5,1038.9 2232.5,1039.1 2234.5,1040.8 2236.5,1041.4 2238.5,1041.9" stroke-width="12.0"/></g>
<g fill="none" stroke="#008080" stroke-linejoin="round" stroke-linecap="round"><polyline points="186.5,1198.0 188.5,1195.7 190.5,1197.2 192.5,1199.5 194.5,1200.1 196.5,1200.7 198.5,1200.9 200.5,1199.3 202.5,1198.3 204.5,1199.4 206.5,1199.5 208.5,1198.6 210.5,1198.9 212.5,1200.3 214.5,1200.3 216.5,1198.9 218.5,1197.6 220.5,1198.1 222.5,1200.5 224.5,1201.4 226.5,1201.7 228.5,1202.6 230.5,1203.8 232.5,1203.6 234.5,1202.7 236.5,1201.9 238.5,1201.1 240.5,1200.8 242.5,1200.0 244.5,1201.1 246.5,1202.7 248.5,1201.9 250.5,1200.4 252.5,1199.9 254.5,1201.2 256.5,1203.3 258.5,1203.3 260.5,1201.3 262.5,1200.6 264.5,1201.2 266.5,1200.4 268.5,1200.2 270.5,1201.6 272.5,1203.1 274.5,1203.6 276.5,1203.6 278.5,1203.0 280.5,1202.6 282.5,1204.2 284.5,1205.2 286.5,1204.5 288.5,1204.0 290.5,1204.3 292.5,1205.2 294.5,1205.7 296.5,1205.5 298.5,1205.9 300.5,1206.0 302.5,1204.5 304.5,1203.2 306.5,1203.7 308.5,1204.4 310.5,1203.7 312.5,1203.9 314.5,1206.0 316.5,1207.1 318.5,1204.7 320.5,1201.4 322.5,1201.6 324.5,1202.4 326.5,1202.6 328.5,1204.9 330.5,1206.9 332.5,1205.3 334.5,1204.3 336.5,1205.5 338.5,1205.6 340.5,1204.7 342.5,1204.2 344.5,1204.8 346.5,1204.2 348.5,1201.7 350.5,1202.3 352.5,1205.7 354.5,1206.2 356.5,1204.0 358.5,1203.0 360.5,1203.1 362.5,1202.9 364.5,1204.5 366.5,1206.6 368.5,1206.6 370.5,1206.0 372.5,1205.3 374.5,1205.8 376.5,1205.7 378.5,1203.5 380.5,1203.1 382.5,1204.2 384.5,1205.6 386.5,1206.9 388.5,1205.2 390.5,1202.7 392.5,1202.4 394.5,1202.4 396.5,1203.8 398.5,1205.5 400.5,1204.2 402.5,1203.3 404.5,1203.9 406.5,1204.9 408.5,1205.1 410.5,1204.3 412.5,1204.6 414.5,1204.7 416.5,1202.9 418.5,1201.6 420.5,1202.7 422.5,1204.5 424.5,1203.4 426.5,1201.8 428.5,1203.9 430.5,1206.3 432.5,1205.4 434.5,1204.6 436.5,1204.4 438.5,1203.0 440.5,1202.0 442.5,1202.0 444.5,1200.9 446.5,1201.5 448.5,1205.3 450.5,1205.6 452.5,1203.3 454.5,1201.9 456.5,1202.0 458.5,1203.0 460.5,1202.9 462.5,1201.7 464.5,1200.7 466.5,1202.6 468.5,1204.2 470.5,1202.8 472.5,1202.1 474.5,1202.3 476.5,1203.0 478.5,1202.8 480.5,1200.9 482.5,1199.8 484.5,1200.1 486.5,1199.6 488.5,1199.1 490.5,1199.7 492.5,1199.3 494.5,1197.8 496.5,1199.5" stroke-width="12.0"/><polyline points="496.5,1199.5 498.5,1202.2 500.5,1200.6 502.5,1199.6 504.5,1199.9 506.5,1196.0 508.5,1191.5 510.5,1190.7 512.5,1192.2 514.5,1194.6 516.5,1194.0" stroke-width="11.5"/><polyline points="516.5,1194.0 518.5,1191.9 520.5,1191.9 522.5,1191.2 524.5,1190.9" stroke-width="11.0"/><polyline points="524.5,1190.9 526.5,1191.2 528.5,1190.1 530.5,1188.5" stroke-width="10.5"/><polyline points="530.5,1188.5 532.5,1186.4 534.5,1184.4" stroke-width="10.0"/><polyline points="534.5,1184.4 536.5,1184.3 538.5,1184.4" stroke-width="9.5"/><polyline points="538.5,1184.4 540.5,1183.9 542.5,1182.8" stroke-width="9.0"/><polyline points="542.5,1182.8 544.5,1179.1 546.5,1175.0 548.5,1170.9" stroke-width="8.5"/><polyline points="548.5,1170.9 550.5,1163.4 552.5,1152.6 554.5,1142.6 556.5,1131.9 558.5,1113.8 560.5,1086.1 562.5,1049.1 564.5,1003.1 566.5,944.8 568.5,870.3 570.5,783.2 572.5,689.6 574.5,590.8 576.5,489.2 578.5,397.4 580.5,329.4 582.5,295.1 584.5,298.2 586.5,335.8 588.5,402.4 590.5,490.7 592.5,590.5 594.5,690.8 596.5,784.9 598.5,869.4 600.5,943.0 602.5,1002.8 604.5,1047.8 606.5,1083.6 608.5,1111.7 610.5,1132.1 612.5,1146.5 614.5,1156.9 616.5,1164.7 618.5,1170.4 620.5,1173.9" stroke-width="8.0"/><polyline points="620.5,1173.9 622.5,1176.2 624.5,1179.7 626.5,1182.5" stroke-width="8.5"/><polyline points="626.5,1182.5 628.5,1185.3 630.5,1188.7" stroke-width="9.0"/><polyline points="630.5,1188.7 632.5,1191.1 634.5,1190.7 636.5,1188.0" stroke-width="9.5"/><polyline points="636.5,1188.0 638.5,1189.4 640.5,1192.5 642.5,1192.6" stroke-width="10.0"/><polyline points="642.5,1192.6 644.5,1194.7 646.5,1198.0 648.5,1197.8" stroke-width="10.5"/><polyline points="648.5,1197.8 650.5,1196.6 652.5,1198.1 654.5,1199.6 656.5,1199.5 658.5,1199.7 660.5,1199.4" stroke-width="11.0"/><polyline points="660.5,1199.4 662.5,1199.0 664.5,1199.8 666.5,1200.7 668.5,1202.1" stroke-width="11.5"/><polyline points="668.5,1202.1 670.5,1202.3 672.5,1201.6" stroke-width="12.0"/><polyline points="672.5,1201.6 674.5,1202.1" stroke-width="11.5"/><polyline points="674.5,1202.1 676.5,1201.7" stroke-width="11.0"/><polyline points="676.5,1201.7 678.5,1200.0" stroke-width="9.5"/><polyline points="678.5,1200.0 680.5,1197.7" stroke-width="9.0"/><polyline points="680.5,1197.7 682.5,1193.3 684.5,1187.9" stroke-width="8.5"/><polyline points="684.5,1187.9 686.5,1181.4 688.5,1173.3 690.5,1161.4 692.5,1145.6 694.5,1129.4 696.5,1112.5 698.5,1095.9 700.5,1079.8 702.5,1064.0 704.5,1050.3 706.5,1037.4 708.5,1027.6 710.5,1027.8 712.5,1035.7 714.5,1044.7 716.5,1054.2 718.5,1069.0 720.5,1087.6 722.5,1104.6 724.5,1123.0 726.5,1141.5 728.5,1156.2 730.5,1168.5 732.5,1180.7 734.5,1190.9 736.5,1196.2 738.5,1200.1 740.5,1205.1" stroke-width="8.0"/><polyline points="740.5,1205.1 742.5,1208.6 744.5,1209.9" stroke-width="8.5"/><polyline points="744.5,1209.9 746.5,1211.0" stroke-width="9.5"/><polyline points="746.5,1211.0 748.5,1212.7" stroke-width="10.0"/><polyline points="748.5,1212.7 750.5,1212.7" stroke-width="10.5"/><polyline points="750.5,1212.7 752.5,1212.2" stroke-width="11.0"/><polyline points="752.5,1212.2 754.5,1213.5 756.5,1214.4" stroke-width="11.5"/><polyline points="756.5,1214.4 758.5,1213.5 760.5,1212.1 762.5,1213.1 764.5,1215.7 766.5,1216.9 768.5,1216.5 770.5,1216.4 772.5,1217.3 774.5,1218.7 776.5,1219.2 778.5,1217.6 780.5,1216.3 782.5,1215.6 784.5,1214.6 786.5,1215.4 788.5,1216.5 790.5,1217.2 792.5,1218.0 794.5,1217.0 796.5,1215.7 798.5,1216.0 800.5,1216.7 802.5,1217.8 804.5,1218.1 806.5,1217.9 808.5,1219.7 810.5,1220.7 812.5,1219.8 814.5,1218.9 816.5,1217.5 818.5,1218.3 820.5,1219.3 822.5,1217.7 824.5,1217.5 826.5,1219.2 828.5,1221.7 830.5,1222.0 832.5,1220.4 834.5,1218.6 836.5,1218.0 838.5,1220.4 840.5,1222.7 842.5,1221.4 844.5,1219.2 846.5,1220.0 848.5,1219.6 850.5,1217.6 852.5,1219.2 854.5,1221.8 856.5,1223.1 858.5,1222.6 860.5,1222.0 862.5,1222.6 864.5,1222.3 866.5,1221.1 868.5,1221.2 870.5,1222.5 872.5,1224.3 874.5,1224.9 876.5,1224.4 878.5,1224.7 880.5,1225.0 882.5,1223.9 884.5,1221.8 886.5,1220.9 888.5,1222.3 890.5,1223.7 892.5,1223.9 894.5,1223.9 896.5,1224.2 898.5,1224.2 900.5,1223.2 902.5,1222.4 904.5,1222.9 906.5,1224.1 908.5,1224.7 910.5,1223.4 912.5,1222.3 914.5,1222.8 916.5,1224.2 918.5,1224.6 920.5,1222.9 922.5,1220.2 924.5,1219.7 926.5,1222.1 928.5,1224.2 930.5,1223.3 932.5,1220.7 934.5,1219.7 936.5,1219.2 938.5,1219.6 940.5,1221.7 942.5,1222.6 944.5,1221.3 946.5,1220.3 948.5,1221.7 950.5,1224.6 952.5,1224.5 954.5,1221.0 956.5,1219.9 958.5,1221.5 960.5,1222.8 962.5,1223.5 964.5,1222.8 966.5,1220.8 968.5,1220.2 970.5,1219.7 972.5,1219.1 974.5,1219.2 976.5,1220.5 978.5,1222.9 980.5,1221.8 982.5,1219.0 984.5,1220.0 986.5,1221.7 988.5,1221.0 990.5,1220.9 992.5,1221.6 994.5,1221.8 996.5,1220.8 998.5,1219.1 1000.5,1217.2 1002.5,1216.4 1004.5,1217.7 1006.5,1218.5 1008.5,1218.0 1010.5,1217.2 1012.5,1217.9 1014.5,1219.6 1016.5,1217.9 1018.5,1215.6 1020.5,1215.8 1022.5,1217.0 1024.5,1216.1 1026.5,1214.3 1028.5,1215.0" stroke-width="12.0"/><polyline points="1028.5,1215.0 1030.5,1215.4 1032.5,1215.6 1034.5,1216.8 1036.5,1215.9 1038.5,1213.9 1040.5,1214.5 1042.5,1216.4 1044.5,1216.1" stroke-width="11.5"/><polyline points="1044.5,1216.1 1046.5,1214.0 1048.5,1212.6 1050.5,1212.1 1052.5,1210.6" stroke-width="11.0"/><polyline points="1052.5,1210.6 1054.5,1207.9 1056.5,1206.7 1058.5,1207.1" stroke-width="10.5"/><polyline points="1058.5,1207.1 1060.5,1207.2 1062.5,1205.8" stroke-width="10.0"/><polyline points="1062.5,1205.8 1064.5,1203.9 1066.5,1202.4 1068.5,1200.6" stroke-width="9.5"/><polyline points="1068.5,1200.6 1070.5,1199.0 1072.5,1196.2 1074.5,1191.5" stroke-width="9.0"/><polyline points="1074.5,1191.5 1076.5,1187.9 1078.5,1185.3 1080.5,1182.6 1082.5,1178.6" stroke-width="8.5"/><polyline points="1082.5,1178.6 1084.5,1171.7 1086.5,1164.6 1088.5,1160.2 1090.5,1155.2 1092.5,1145.0 1094.5,1130.7 1096.5,1116.4 1098.5,1100.6 1100.5,1080.8 1102.5,1058.2 1104.5,1031.7 1106.5,1001.1 1108.5,968.3 1110.5,934.5 1112.5,901.1 1114.5,872.2 1116.5,853.8 1118.5,848.6 1120.5,857.9 1122.5,883.3 1124.5,918.7 1126.5,952.9 1128.5,985.4 1130.5,1016.2 1132.5,1043.4 1134.5,1068.3 1136.5,1090.2 1138.5,1108.8 1140.5,1125.0 1142.5,1136.4 1144.5,1143.7 1146.5,1153.9 1148.5,1164.1 1150.5,1170.3 1152.5,1176.7 1154.5,1183.0 1156.5,1187.6" stroke-width="8.0"/><polyline points="1156.5,1187.6 1158.5,1191.3 1160.5,1193.5 1162.5,1194.7 1164.5,1195.2" stroke-width="8.5"/><polyline points="1164.5,1195.2 1166.5,1196.4 1168.5,1200.2 1170.5,1203.3" stroke-width="9.0"/><polyline points="1170.5,1203.3 1172.5,1204.1 1174.5,1205.3 1176.5,1208.2" stroke-width="9.5"/><polyline points="1176.5,1208.2 1178.5,1209.9 1180.5,1210.0 1182.5,1211.5" stroke-width="10.0"/><polyline points="1182.5,1211.5 1184.5,1214.9 1186.5,1216.3 1188.5,1215.2" stroke-width="10.5"/><polyline points="1188.5,1215.2 1190.5,1214.9 1192.5,1216.7 1194.5,1220.0 1196.5,1221.1" stroke-width="11.0"/><polyline points="1196.5,1221.1 1198.5,1218.6 1200.5,1215.8 1202.5,1217.2 1204.5,1220.1 1206.5,1219.7 1208.5,1219.8 1210.5,1221.5 1212.5,1221.2" stroke-width="11.5"/><polyline points="1212.5,1221.2 1214.5,1218.8 1216.5,1217.8 1218.5,1220.0 1220.5,1222.1 1222.5,1221.6 1224.5,1219.5 1226.5,1219.5 1228.5,1220.0 1230.5,1219.7 1232.5,1221.2 1234.5,1222.8 1236.5,1221.6 1238.5,1220.5 1240.5,1222.3 1242.5,1223.9 1244.5,1224.1 1246.5,1222.7 1248.5,1221.1 1250.5,1222.4 1252.5,1223.3 1254.5,1222.4 1256.5,1221.7 1258.5,1222.2 1260.5,1223.3 1262.5,1222.2 1264.5,1221.1 1266.5,1222.0 1268.5,1222.9 1270.5,1222.5 1272.5,1220.9 1274.5,1220.7 1276.5,1223.2 1278.5,1224.9 1280.5,1222.5 1282.5,1219.8 1284.5,1219.8 1286.5,1218.6 1288.5,1217.1 1290.5,1217.6" stroke-width="12.0"/><polyline points="1290.5,1217.6 1292.5,1218.8 1294.5,1220.3 1296.5,1221.5 1298.5,1221.2 1300.5,1219.4 1302.5,1217.5 1304.5,1216.7" stroke-width="11.5"/><polyline points="1304.5,1216.7 1306.5,1217.1 1308.5,1216.8 1310.5,1214.4" stroke-width="11.0"/><polyline points="1310.5,1214.4 1312.5,1213.6 1314.5,1214.7 1316.5,1213.1" stroke-width="10.5"/><polyline points="1316.5,1213.1 1318.5,1210.4 1320.5,1209.2" stroke-width="10.0"/><polyline points="1320.5,1209.2 1322.5,1208.1 1324.5,1206.9" stroke-width="9.5"/><polyline points="1324.5,1206.9 1326.5,1205.5 1328.5,1202.9 1330.5,1199.2" stroke-width="9.0"/><polyline points="1330.5,1199.2 1332.5,1194.8 1334.5,1190.6 1336.5,1188.6 1338.5,1186.4" stroke-width="8.5"/><polyline points="1338.5,1186.4 1340.5,1180.4 1342.5,1172.8 1344.5,1165.2 1346.5,1157.0 1348.5,1149.4 1350.5,1140.9 1352.5,1128.5 1354.5,1112.7 1356.5,1094.9 1358.5,1075.1 1360.5,1055.5 1362.5,1037.7 1364.5,1021.8 1366.5,1008.9 1368.5,999.8 1370.5,996.8 1372.5,1003.6 1374.5,1015.4 1376.5,1028.3 1378.5,1045.7 1380.5,1064.3 1382.5,1080.8 1384.5,1097.1 1386.5,1113.4 1388.5,1128.3 1390.5,1141.3 1392.5,1151.9 1394.5,1159.8 1396.5,1166.6 1398.5,1173.3 1400.5,1178.2 1402.5,1182.9" stroke-width="8.0"/><polyline points="1402.5,1182.9 1404.5,1187.9 1406.5,1190.1 1408.5,1191.9 1410.5,1194.1" stroke-width="8.5"/><polyline points="1410.5,1194.1 1412.5,1195.4" stroke-width="9.0"/><polyline points="1412.5,1195.4 1414.5,1198.2" stroke-width="9.5"/><polyline points="1414.5,1198.2 1416.5,1200.5" stroke-width="10.0"/><polyline points="1416.5,1200.5 1418.5,1200.9" stroke-width="10.5"/><polyline points="1418.5,1200.9 1420.5,1202.8" stroke-width="11.0"/><polyline points="1420.5,1202.8 1422.5,1205.3 1424.5,1205.0 1426.5,1203.1" stroke-width="11.5"/><polyline points="1426.5,1203.1 1428.5,1200.7" stroke-width="11.0"/><polyline points="1428.5,1200.7 1430.5,1198.0" stroke-width="10.0"/><polyline points="1430.5,1198.0 1432.5,1195.9" stroke-width="9.5"/><polyline points="1432.5,1195.9 1434.5,1194.0 1436.5,1191.8" stroke-width="9.0"/><polyline points="1436.5,1191.8 1438.5,1188.7 1440.5,1186.2" stroke-width="8.5"/><polyline points="1440.5,1186.2 1442.5,1184.2 1444.5,1181.2" stroke-width="9.0"/><polyline points="1444.5,1181.2 1446.5,1180.6 1448.5,1181.8 1450.5,1182.0" stroke-width="9.5"/><polyline points="1450.5,1182.0 1452.5,1183.6" stroke-width="9.0"/><polyline points="1452.5,1183.6 1454.5,1188.7 1456.5,1194.5 1458.5,1197.2 1460.5,1199.4 1462.5,1202.7 1464.5,1204.2 1466.5,1205.5" stroke-width="8.5"/><polyline points="1466.5,1205.5 1468.5,1209.8 1470.5,1214.2 1472.5,1215.8" stroke-width="9.0"/><polyline points="1472.5,1215.8 1474.5,1214.9 1476.5,1215.4" stroke-width="9.5"/><polyline points="1476.5,1215.4 1478.5,1218.1 1480.5,1219.6" stroke-width="10.0"/><polyline points="1480.5,1219.6 1482.5,1220.9 1484.5,1222.3" stroke-width="10.5"/><polyline points="1484.5,1222.3 1486.5,1221.9 1488.5,1221.2 1490.5,1220.9" stroke-width="11.0"/><polyline points="1490.5,1220.9 1492.5,1221.6 1494.5,1222.4 1496.5,1223.0 1498.5,1222.6 1500.5,1221.2 1502.5,1221.8" stroke-width="11.5"/><polyline points="1502.5,1221.8 1504.5,1223.5 1506.5,1223.7 1508.5,1223.3 1510.5,1224.0 1512.5,1226.7 1514.5,1227.6 1516.5,1226.4 1518.5,1226.0 1520.5,1225.2 1522.5,1224.4 1524.5,1224.4 1526.5,1226.0 1528.5,1227.2 1530.5,1227.9 1532.5,1229.0 1534.5,1228.6 1536.5,1227.0 1538.5,1226.3 1540.5,1226.5 1542.5,1226.3 1544.5,1227.5 1546.5,1229.8 1548.5,1229.9 1550.5,1229.0 1552.5,1227.9 1554.5,1226.5 1556.5,1226.1 1558.5,1225.5 1560.5,1226.3 1562.5,1228.3 1564.5,1229.2 1566.5,1229.3 1568.5,1228.8 1570.5,1228.3 1572.5,1229.1 1574.5,1230.8 1576.5,1229.8 1578.5,1227.3 1580.5,1228.3 1582.5,1229.8 1584.5,1228.9 1586.5,1228.0 1588.5,1226.9 1590.5,1226.5 1592.5,1227.5 1594.5,1227.8 1596.5,1227.0 1598.5,1225.7 1600.5,1225.9 1602.5,1227.1 1604.5,1228.0 1606.5,1228.0 1608.5,1227.7 1610.5,1228.8 1612.5,1229.4 1614.5,1229.1 1616.5,1229.0 1618.5,1228.4 1620.5,1227.8 1622.5,1227.2 1624.5,1226.5 1626.5,1227.7 1628.5,1228.0 1630.5,1226.9 1632.5,1227.5 1634.5,1227.4 1636.5,1227.1 1638.5,1227.9 1640.5,1229.1 1642.5,1229.6 1644.5,1229.5 1646.5,1229.8 1648.5,1229.1 1650.5,1228.7 1652.5,1228.3 1654.5,1226.4 1656.5,1225.7 1658.5,1227.3 1660.5,1228.9 1662.5,1228.6 1664.5,1228.4 1666.5,1229.0 1668.5,1227.6 1670.5,1226.8 1672.5,1228.7 1674.5,1228.4 1676.5,1226.7 1678.5,1226.2 1680.5,1225.3 1682.5,1226.9 1684.5,1229.7 1686.5,1229.3 1688.5,1227.7 1690.5,1226.1 1692.5,1224.7" stroke-width="12.0"/><polyline points="1692.5,1224.7 1694.5,1224.9 1696.5,1224.5 1698.5,1223.1 1700.5,1223.5 1702.5,1224.0 1704.5,1223.3" stroke-width="11.5"/><polyline points="1704.5,1223.3 1706.5,1222.3 1708.5,1220.4 1710.5,1218.8" stroke-width="11.0"/><polyline points="1710.5,1218.8 1712.5,1217.5 1714.5,1215.5" stroke-width="10.5"/><polyline points="1714.5,1215.5 1716.5,1215.8 1718.5,1218.0" stroke-width="10.0"/><polyline points="1718.5,1218.0 1720.5,1217.7 1722.5,1213.0 1724.5,1209.2 1726.5,1209.8" stroke-width="9.5"/><polyline points="1726.5,1209.8 1728.5,1208.8 1730.5,1205.9 1732.5,1204.6" stroke-width="9.0"/><polyline points="1732.5,1204.6 1734.5,1202.2 1736.5,1198.4" stroke-width="9.5"/><polyline points="1736.5,1198.4 1738.5,1197.7" stroke-width="10.5"/><polyline points="1738.5,1197.7 1740.5,1198.1 1742.5,1197.5 1744.5,1199.7" stroke-width="11.0"/><polyline points="1744.5,1199.7 1746.5,1202.9" stroke-width="10.5"/><polyline points="1746.5,1202.9 1748.5,1205.6" stroke-width="10.0"/><polyline points="1748.5,1205.6 1750.5,1208.6" stroke-width="9.5"/><polyline points="1750.5,1208.6 1752.5,1210.7 1754.5,1212.2 1756.5,1213.0" stroke-width="9.0"/><polyline points="1756.5,1213.0 1758.5,1214.2 1760.5,1215.7 1762.5,1215.5" stroke-width="9.5"/><polyline points="1762.5,1215.5 1764.5,1215.5 1766.5,1216.1 1768.5,1216.4" stroke-width="10.0"/><polyline points="1768.5,1216.4 1770.5,1219.3 1772.5,1223.1" stroke-width="10.5"/><polyline points="1772.5,1223.1 1774.5,1223.0 1776.5,1221.5 1778.5,1220.4" stroke-width="11.0"/><polyline points="1778.5,1220.4 1780.5,1219.9 1782.5,1221.0 1784.5,1222.3 1786.5,1223.5 1788.5,1224.3" stroke-width="11.5"/><polyline points="1788.5,1224.3 1790.5,1223.3 1792.5,1223.2 1794.5,1225.9 1796.5,1226.6 1798.5,1225.4 1800.5,1225.4 1802.5,1226.7 1804.5,1228.0 1806.5,1226.7 1808.5,1224.1 1810.5,1222.2 1812.5,1222.4 1814.5,1225.3 1816.5,1227.9 1818.5,1228.3 1820.5,1227.7 1822.5,1226.8 1824.5,1226.0 1826.5,1226.3 1828.5,1226.1 1830.5,1224.4 1832.5,1224.6 1834.5,1225.3 1836.5,1224.7 1838.5,1225.2 1840.5,1226.1 1842.5,1226.3 1844.5,1226.5 1846.5,1226.8 1848.5,1225.8 1850.5,1224.5 1852.5,1223.9 1854.5,1224.0 1856.5,1226.1 1858.5,1227.8 1860.5,1227.3 1862.5,1227.2 1864.5,1226.9 1866.5,1225.6 1868.5,1225.8 1870.5,1225.8 1872.5,1225.4 1874.5,1225.2 1876.5,1224.2 1878.5,1224.6 1880.5,1224.8 1882.5,1223.6 1884.5,1224.2 1886.5,1225.8 1888.5,1225.4 1890.5,1224.2 1892.5,1224.3 1894.5,1223.9" stroke-width="12.0"/><polyline points="1894.5,1223.9 1896.5,1222.9 1898.5,1222.7 1900.5,1222.5" stroke-width="11.5"/><polyline points="1900.5,1222.5 1902.5,1221.5 1904.5,1221.1" stroke-width="11.0"/><polyline points="1904.5,1221.1 1906.5,1221.2 1908.5,1219.5" stroke-width="10.5"/><polyline points="1908.5,1219.5 1910.5,1217.4" stroke-width="10.0"/><polyline points="1910.5,1217.4 1912.5,1216.5 1914.5,1215.9" stroke-width="9.5"/><polyline points="1914.5,1215.9 1916.5,1214.0 1918.5,1210.1" stroke-width="9.0"/><polyline points="1918.5,1210.1 1920.5,1206.4 1922.5,1203.7 1924.5,1200.5 1926.5,1196.2 1928.5,1190.6 1930.5,1185.2 1932.5,1181.8 1934.5,1179.6 1936.5,1176.8 1938.5,1172.1 1940.5,1167.6 1942.5,1165.2 1944.5,1165.2" stroke-width="8.5"/><polyline points="1944.5,1165.2 1946.5,1166.1" stroke-width="9.0"/><polyline points="1946.5,1166.1 1948.5,1164.5" stroke-width="9.5"/><polyline points="1948.5,1164.5 1950.5,1161.3 1952.5,1160.4" stroke-width="10.0"/><polyline points="1952.5,1160.4 1954.5,1162.8" stroke-width="9.5"/><polyline points="1954.5,1162.8 1956.5,1166.5" stroke-width="9.0"/><polyline points="1956.5,1166.5 1958.5,1171.5 1960.5,1175.9 1962.5,1176.5 1964.5,1177.4 1966.5,1181.0 1968.5,1185.1 1970.5,1190.4 1972.5,1194.5" stroke-width="8.5"/><polyline points="1972.5,1194.5 1974.5,1194.8 1976.5,1194.8" stroke-width="9.0"/><polyline points="1976.5,1194.8 1978.5,1197.6" stroke-width="9.5"/><polyline points="1978.5,1197.6 1980.5,1199.8" stroke-width="10.0"/><polyline points="1980.5,1199.8 1982.5,1198.8" stroke-width="10.5"/><polyline points="1982.5,1198.8 1984.5,1198.6" stroke-width="11.0"/><polyline points="1984.5,1198.6 1986.5,1199.8 1988.5,1199.8" stroke-width="11.5"/><polyline points="1988.5,1199.8 1990.5,1198.6" stroke-width="11.0"/><polyline points="1990.5,1198.6 1992.5,1197.2" stroke-width="10.0"/><polyline points="1992.5,1197.2 1994.5,1195.1 1996.5,1192.5" stroke-width="9.5"/><polyline points="1996.5,1192.5 1998.5,1190.8 2000.5,1188.7 2002.5,1185.9 2004.5,1184.8" stroke-width="9.0"/><polyline points="2004.5,1184.8 2006.5,1184.1" stroke-width="9.5"/><polyline points="2006.5,1184.1 2008.5,1183.4" stroke-width="10.0"/><polyline points="2008.5,1183.4 2010.5,1182.1" stroke-width="10.5"/><polyline points="2010.5,1182.1 2012.5,1180.3" stroke-width="11.0"/><polyline points="2012.5,1180.3 2014.5,1180.9" stroke-width="10.5"/><polyline points="2014.5,1180.9 2016.5,1183.8" stroke-width="10.0"/><polyline points="2016.5,1183.8 2018.5,1186.2" stroke-width="9.5"/><polyline points="2018.5,1186.2 2020.5,1188.1 2022.5,1189.4 2024.5,1191.6 2026.5,1195.4 2028.5,1198.8 2030.5,1202.1 2032.5,1205.4 2034.5,1207.7 2036.5,1208.2 2038.5,1206.7" stroke-width="9.0"/><polyline points="2038.5,1206.7 2040.5,1206.5 2042.5,1208.6" stroke-width="9.5"/><polyline points="2042.5,1208.6 2044.5,1210.0 2046.5,1211.9 2048.5,1213.9" stroke-width="10.0"/><polyline points="2048.5,1213.9 2050.5,1214.8 2052.5,1217.5" stroke-width="10.5"/><polyline points="2052.5,1217.5 2054.5,1221.1 2056.5,1222.8 2058.5,1223.1 2060.5,1222.2" stroke-width="11.0"/><polyline points="2060.5,1222.2 2062.5,1219.9 2064.5,1219.7 2066.5,1220.7 2068.5,1220.8 2070.5,1221.9 2072.5,1221.0 2074.5,1220.7" stroke-width="11.5"/><polyline points="2074.5,1220.7 2076.5,1222.8 2078.5,1224.0 2080.5,1224.4 2082.5,1222.3 2084.5,1221.5 2086.5,1223.3 2088.5,1222.9 2090.5,1222.0 2092.5,1223.3 2094.5,1224.8 2096.5,1224.0 2098.5,1222.3 2100.5,1222.7 2102.5,1224.6 2104.5,1225.8 2106.5,1225.3 2108.5,1224.2 2110.5,1225.1 2112.5,1226.0 2114.5,1225.1 2116.5,1223.5 2118.5,1223.6 2120.5,1226.2 2122.5,1225.7 2124.5,1223.6 2126.5,1225.7 2128.5,1227.8 2130.5,1227.2 2132.5,1226.4 2134.5,1225.9 2136.5,1224.7 2138.5,1224.2 2140.5,1224.7 2142.5,1224.5 2144.5,1224.9 2146.5,1226.3 2148.5,1225.3 2150.5,1223.7 2152.5,1224.5 2154.5,1225.6 2156.5,1226.2 2158.5,1226.4 2160.5,1225.0 2162.5,1224.3 2164.5,1226.1 2166.5,1226.5 2168.5,1223.8 2170.5,1222.1 2172.5,1223.3 2174.5,1224.0 2176.5,1223.8 2178.5,1224.1 2180.5,1224.6 2182.5,1224.9 2184.5,1223.5 2186.5,1223.1 2188.5,1224.9 2190.5,1226.4 2192.5,1226.0 2194.5,1224.6 2196.5,1224.8 2198.5,1226.4 2200.5,1226.4 2202.5,1223.7 2204.5,1222.9 2206.5,1224.4 2208.5,1225.5 2210.5,1226.2 2212.5,1225.7 2214.5,1224.5 2216.5,1223.9 2218.5,1225.1 2220.5,1226.0 2222.5,1224.2 2224.5,1223.3 2226.5,1224.6 2228.5,1224.6 2230.5,1223.8 2232.5,1224.0 2234.5,1224.5 2236.5,1223.6 2238.5,1223.2" stroke-width="12.0"/></g>
<g fill="none" stroke="#ff4040" stroke-linejoin="round" stroke-linecap="round"><polyline points="186.5,1348.5 188.5,1349.7 190.5,1350.0 192.5,1350.4 194.5,1349.8 196.5,1347.2 198.5,1345.7 200.5,1346.0 202.5,1347.8 204.5,1349.4 206.5,1349.1 208.5,1347.7 210.5,1346.3 212.5,1346.7 214.5,1348.4 216.5,1350.6 218.5,1351.3 220.5,1350.2 222.5,1349.4 224.5,1349.7 226.5,1349.6 228.5,1348.3 230.5,1347.7 232.5,1347.8 234.5,1347.5 236.5,1347.4 238.5,1347.6 240.5,1348.2 242.5,1348.4 244.5,1347.9 246.5,1348.6 248.5,1348.3 250.5,1347.1 252.5,1346.9 254.5,1347.9 256.5,1348.8 258.5,1348.9 260.5,1348.7 262.5,1350.1 264.5,1351.8 266.5,1350.5 268.5,1349.4 270.5,1350.1 272.5,1350.2 274.5,1350.4 276.5,1350.3 278.5,1348.1 280.5,1346.6 282.5,1348.2 284.5,1349.8 286.5,1349.7 288.5,1350.5 290.5,1350.8 292.5,1350.4 294.5,1351.9 296.5,1353.2 298.5,1352.9 300.5,1352.6 302.5,1353.3 304.5,1353.5 306.5,1351.5 308.5,1350.4 310.5,1350.1 312.5,1348.2 314.5,1346.9 316.5,1348.1 318.5,1350.2 320.5,1349.9 322.5,1347.2 324.5,1346.6 326.5,1348.4 328.5,1349.7 330.5,1350.4 332.5,1351.8 334.5,1352.4 336.5,1351.7 338.5,1350.5 340.5,1348.6 342.5,1348.3 344.5,1350.3 346.5,1351.8 348.5,1352.1 350.5,1352.1 352.5,1352.3 354.5,1350.9 356.5,1348.3 358.5,1348.8 360.5,1351.0 362.5,1350.7 364.5,1349.8 366.5,1350.9 368.5,1350.7 370.5,1350.2 372.5,1351.3 374.5,1350.9 376.5,1350.0 378.5,1351.1 380.5,1350.9 382.5,1349.6 384.5,1348.5 386.5,1347.4 388.5,1348.7 390.5,1350.1 392.5,1349.8 394.5,1349.8 396.5,1350.4 398.5,1351.4 400.5,1352.1 402.5,1351.2 404.5,1350.7 406.5,1352.6 408.5,1353.5 410.5,1351.9 412.5,1350.1 414.5,1349.9 416.5,1351.8 418.5,1353.2 420.5,1352.7 422.5,1350.7 424.5,1349.8 426.5,1351.5 428.5,1351.5 430.5,1348.9 432.5,1348.3 434.5,1349.9 436.5,1352.0 438.5,1353.0 440.5,1350.7 442.5,1349.0 444.5,1348.5 446.5,1347.2 448.5,1348.7 450.5,1351.2 452.5,1350.2 454.5,1347.9 456.5,1347.8 458.5,1349.6 460.5,1350.6 462.5,1349.6 464.5,1348.9 466.5,1349.2 468.5,1349.0 470.5,1348.3 472.5,1347.4 474.5,1345.1 476.5,1344.8 478.5,1346.5 480.5,1346.4 482.5,1345.9 484.5,1347.2" stroke-width="12.0"/><polyline points="484.5,1347.2 486.5,1348.3 488.5,1347.5 490.5,1346.8 492.5,1346.7 494.5,1345.0" stroke-width="11.5"/><polyline points="494.5,1345.0 496.5,1342.8 498.5,1343.2 500.5,1343.4" stroke-width="11.0"/><polyline points="500.5,1343.4 502.5,1341.2 504.5,1339.9" stroke-width="10.5"/><polyline points="504.5,1339.9 506.5,1338.6 508.5,1336.3" stroke-width="10.0"/><polyline points="508.5,1336.3 510.5,1335.0 512.5,1334.6" stroke-width="9.5"/><polyline points="512.5,1334.6 514.5,1333.3" stroke-width="9.0"/><polyline points="514.5,1333.3 516.5,1329.7 518.5,1324.9 520.5,1321.7 522.5,1318.9" stroke-width="8.5"/><polyline points="522.5,1318.9 524.5,1314.1 526.5,1307.3 528.5,1299.3 530.5,1290.0 532.5,1277.6 534.5,1263.2 536.5,1248.4 538.5,1231.0 540.5,1211.5 542.5,1195.4 544.5,1179.8 546.5,1158.8 548.5,1139.0 550.5,1126.9 552.5,1118.5 554.5,1112.1 556.5,1110.9 558.5,1115.9 560.5,1127.1 562.5,1143.2 564.5,1160.2 566.5,1178.1 568.5,1197.9 570.5,1216.6 572.5,1233.0 574.5,1249.1 576.5,1263.7 578.5,1276.8 580.5,1289.3 582.5,1298.5 584.5,1305.0 586.5,1310.9 588.5,1318.6 590.5,1325.8 592.5,1329.5" stroke-width="8.0"/><polyline points="592.5,1329.5 594.5,1332.8 596.5,1336.3 598.5,1339.5" stroke-width="8.5"/><polyline points="598.5,1339.5 600.5,1341.4 602.5,1341.8" stroke-width="9.0"/><polyline points="602.5,1341.8 604.5,1343.3 606.5,1345.5" stroke-width="9.5"/><polyline points="606.5,1345.5 608.5,1346.9 610.5,1347.6" stroke-width="10.0"/><polyline points="610.5,1347.6 612.5,1348.7 614.5,1351.0 616.5,1352.8" stroke-width="10.5"/><polyline points="616.5,1352.8 618.5,1352.2 620.5,1351.4 622.5,1352.5" stroke-width="11.0"/><polyline points="622.5,1352.5 624.5,1353.5 626.5,1355.2 628.5,1356.3 630.5,1355.0" stroke-width="11.5"/><polyline points="630.5,1355.0 632.5,1353.7 634.5,1353.2 636.5,1353.3 638.5,1354.5 640.5,1356.0" stroke-width="12.0"/><polyline points="640.5,1356.0 642.5,1354.6" stroke-width="11.5"/><polyline points="642.5,1354.6 644.5,1353.5" stroke-width="11.0"/><polyline points="644.5,1353.5 646.5,1353.0" stroke-width="10.5"/><polyline points="646.5,1353.0 648.5,1350.5" stroke-width="10.0"/><polyline points="648.5,1350.5 650.5,1349.5" stroke-width="9.5"/><polyline points="650.5,1349.5 652.5,1348.7 654.5,1345.2" stroke-width="9.0"/><polyline points="654.5,1345.2 656.5,1341.1 658.5,1337.3 660.5,1334.1 662.5,1329.5 664.5,1323.2 666.5,1319.6 668.5,1316.8 670.5,1311.2 672.5,1306.2 674.5,1303.4 676.5,1301.6 678.5,1301.2" stroke-width="8.5"/><polyline points="678.5,1301.2 680.5,1300.3" stroke-width="9.0"/><polyline points="680.5,1300.3 682.5,1296.9" stroke-width="9.5"/><polyline points="682.5,1296.9 684.5,1294.6 686.5,1295.9" stroke-width="10.0"/><polyline points="686.5,1295.9 688.5,1298.8" stroke-width="9.5"/><polyline points="688.5,1298.8 690.5,1303.5" stroke-width="9.0"/><polyline points="690.5,1303.5 692.5,1308.1 694.5,1311.8 696.5,1317.0 698.5,1321.5 700.5,1323.9 702.5,1326.8 704.5,1330.9 706.5,1335.6 708.5,1341.4 710.5,1346.5 712.5,1350.4 714.5,1351.5 716.5,1352.4 718.5,1356.8" stroke-width="8.5"/><polyline points="718.5,1356.8 720.5,1361.2 722.5,1362.3" stroke-width="9.0"/><polyline points="722.5,1362.3 724.5,1360.8" stroke-width="9.5"/><polyline points="724.5,1360.8 726.5,1361.0" stroke-width="10.0"/><polyline points="726.5,1361.0 728.5,1362.4 730.5,1362.2" stroke-width="10.5"/><polyline points="730.5,1362.2 732.5,1361.8" stroke-width="11.0"/><polyline points="732.5,1361.8 734.5,1364.7 736.5,1367.9 738.5,1366.2" stroke-width="11.5"/><polyline points="738.5,1366.2 740.5,1364.2 742.5,1365.2 744.5,1367.0 746.5,1368.9 748.5,1369.3 750.5,1368.5 752.5,1367.6 754.5,1366.9 756.5,1365.5 758.5,1366.3 760.5,1368.7 762.5,1368.8 764.5,1368.4 766.5,1367.9 768.5,1367.3 770.5,1366.7 772.5,1366.1 774.5,1367.3 776.5,1369.1 778.5,1369.8 780.5,1370.1 782.5,1370.2 784.5,1369.5 786.5,1367.5 788.5,1365.8 790.5,1367.8 792.5,1370.5 794.5,1370.5 796.5,1369.9 798.5,1368.9 800.5,1369.4 802.5,1371.6 804.5,1372.0 806.5,1371.8 808.5,1370.9 810.5,1368.1 812.5,1366.7 814.5,1367.4 816.5,1366.5 818.5,1366.9 820.5,1370.6 822.5,1372.1 824.5,1371.4 826.5,1370.6 828.5,1370.5 830.5,1370.9 832.5,1370.9 834.5,1371.1 836.5,1370.0 838.5,1368.6 840.5,1369.9 842.5,1371.1 844.5,1372.3 846.5,1372.4 848.5,1371.2 850.5,1372.0 852.5,1372.1 854.5,1370.4 856.5,1370.2 858.5,1369.7 860.5,1368.3 862.5,1369.5 864.5,1371.1 866.5,1370.0 868.5,1369.0 870.5,1371.0 872.5,1374.1 874.5,1374.2 876.5,1371.8 878.5,1370.6 880.5,1371.2 882.5,1371.3 884.5,1370.7 886.5,1371.3 888.5,1372.9 890.5,1371.8 892.5,1369.9 894.5,1371.6 896.5,1373.3 898.5,1373.4 900.5,1372.8 902.5,1373.4 904.5,1372.4 906.5,1370.2 908.5,1372.2 910.5,1372.0 912.5,1368.1 914.5,1367.6 916.5,1370.0 918.5,1371.5 920.5,1372.7 922.5,1372.8 924.5,1372.5 926.5,1373.2 928.5,1373.3 930.5,1373.5 932.5,1373.6 934.5,1373.3 936.5,1373.6 938.5,1372.5 940.5,1370.5 942.5,1370.6 944.5,1371.3 946.5,1370.3 948.5,1369.2 950.5,1370.3 952.5,1371.9 954.5,1373.1 956.5,1373.3 958.5,1371.5 960.5,1370.3 962.5,1370.3 964.5,1370.3 966.5,1369.3 968.5,1368.8 970.5,1371.1 972.5,1373.4 974.5,1372.4 976.5,1370.2 978.5,1371.1 980.5,1372.9 982.5,1371.9 984.5,1370.8 986.5,1371.1 988.5,1372.1 990.5,1373.4 992.5,1373.8 994.5,1372.1 996.5,1369.7 998.5,1367.8 1000.5,1367.3 1002.5,1367.5 1004.5,1366.8" stroke-width="12.0"/><polyline points="1004.5,1366.8 1006.5,1367.1 1008.5,1367.9 1010.5,1367.0 1012.5,1365.9 1014.5,1365.3 1016.5,1366.7 1018.5,1367.2" stroke-width="11.5"/><polyline points="1018.5,1367.2 1020.5,1365.0 1022.5,1363.9 1024.5,1363.5" stroke-width="11.0"/><polyline points="1024.5,1363.5 1026.5,1362.8 1028.5,1361.4" stroke-width="10.5"/><polyline points="1028.5,1361.4 1030.5,1359.2" stroke-width="10.0"/><polyline points="1030.5,1359.2 1032.5,1357.4 1034.5,1355.4" stroke-width="9.5"/><polyline points="1034.5,1355.4 1036.5,1352.7 1038.5,1351.2 1040.5,1350.1" stroke-width="9.0"/><polyline points="1040.5,1350.1 1042.5,1347.2 1044.5,1344.5 1046.5,1340.3 1048.5,1335.2" stroke-width="8.5"/><polyline points="1048.5,1335.2 1050.5,1330.6 1052.5,1324.8 1054.5,1319.9 1056.5,1313.8 1058.5,1304.2 1060.5,1295.0 1062.5,1289.1 1064.5,1284.0 1066.5,1275.2 1068.5,1267.9" stroke-width="8.0"/><polyline points="1068.5,1267.9 1070.5,1265.3 1072.5,1263.4 1074.5,1262.7 1076.5,1263.4 1078.5,1266.8" stroke-width="8.5"/><polyline points="1078.5,1266.8 1080.5,1273.8 1082.5,1281.2 1084.5,1288.2 1086.5,1296.4 1088.5,1305.5 1090.5,1314.9 1092.5,1322.4 1094.5,1327.4 1096.5,1331.0 1098.5,1335.3" stroke-width="8.0"/><polyline points="1098.5,1335.3 1100.5,1341.2 1102.5,1346.5 1104.5,1349.9 1106.5,1351.8 1108.5,1353.8" stroke-width="8.5"/><polyline points="1108.5,1353.8 1110.5,1355.7 1112.5,1356.4 1114.5,1358.3" stroke-width="9.0"/><polyline points="1114.5,1358.3 1116.5,1360.4" stroke-width="9.5"/><polyline points="1116.5,1360.4 1118.5,1360.9 1120.5,1362.8" stroke-width="10.0"/><polyline points="1120.5,1362.8 1122.5,1365.2 1124.5,1366.0 1126.5,1365.7" stroke-width="10.5"/><polyline points="1126.5,1365.7 1128.5,1365.2 1130.5,1366.0 1132.5,1367.5" stroke-width="11.0"/><polyline points="1132.5,1367.5 1134.5,1368.9 1136.5,1369.4 1138.5,1370.4 1140.5,1372.1 1142.5,1371.4 1144.5,1369.6" stroke-width="11.5"/><polyline points="1144.5,1369.6 1146.5,1369.3 1148.5,1369.7 1150.5,1371.0 1152.5,1373.0 1154.5,1372.7 1156.5,1370.9 1158.5,1369.8 1160.5,1369.8 1162.5,1371.6 1164.5,1374.0 1166.5,1374.0 1168.5,1372.8 1170.5,1371.3 1172.5,1370.6 1174.5,1372.1 1176.5,1373.6 1178.5,1374.1 1180.5,1373.1 1182.5,1372.2 1184.5,1372.4 1186.5,1373.0 1188.5,1374.4 1190.5,1374.4 1192.5,1373.8 1194.5,1373.4 1196.5,1373.1 1198.5,1373.5 1200.5,1374.6 1202.5,1375.4 1204.5,1374.4 1206.5,1373.2 1208.5,1372.4 1210.5,1372.0 1212.5,1373.1 1214.5,1374.4 1216.5,1374.4 1218.5,1373.9 1220.5,1372.8 1222.5,1370.8 1224.5,1370.5 1226.5,1373.6 1228.5,1375.4 1230.5,1374.2 1232.5,1374.4 1234.5,1373.6 1236.5,1372.0 1238.5,1371.7 1240.5,1370.7 1242.5,1371.2 1244.5,1372.6 1246.5,1371.1 1248.5,1370.1 1250.5,1370.7 1252.5,1369.4" stroke-width="12.0"/><polyline points="1252.5,1369.4 1254.5,1368.6 1256.5,1368.7 1258.5,1367.9 1260.5,1366.2 1262.5,1366.5 1264.5,1368.0" stroke-width="11.5"/><polyline points="1264.5,1368.0 1266.5,1366.1 1268.5,1362.7 1270.5,1361.5" stroke-width="11.0"/><polyline points="1270.5,1361.5 1272.5,1363.5 1274.5,1365.6" stroke-width="10.5"/><polyline points="1274.5,1365.6 1276.5,1366.1" stroke-width="10.0"/><polyline points="1276.5,1366.1 1278.5,1365.7 1280.5,1362.6" stroke-width="9.5"/><polyline points="1280.5,1362.6 1282.5,1358.3 1284.5,1355.9 1286.5,1354.1" stroke-width="9.0"/><polyline points="1286.5,1354.1 1288.5,1350.5 1290.5,1346.0 1292.5,1341.8 1294.5,1339.7 1296.5,1337.0 1298.5,1331.2" stroke-width="8.5"/><polyline points="1298.5,1331.2 1300.5,1323.5 1302.5,1317.2 1304.5,1313.8 1306.5,1309.9 1308.5,1304.3 1310.5,1297.7" stroke-width="8.0"/><polyline points="1310.5,1297.7 1312.5,1291.1 1314.5,1287.9" stroke-width="8.5"/><polyline points="1314.5,1287.9 1316.5,1288.1 1318.5,1288.2 1320.5,1289.0" stroke-width="9.0"/><polyline points="1320.5,1289.0 1322.5,1292.4 1324.5,1297.5 1326.5,1303.3" stroke-width="8.5"/><polyline points="1326.5,1303.3 1328.5,1307.8 1330.5,1312.5 1332.5,1318.7 1334.5,1325.5 1336.5,1331.6 1338.5,1334.6" stroke-width="8.0"/><polyline points="1338.5,1334.6 1340.5,1337.3 1342.5,1342.0 1344.5,1346.3 1346.5,1349.7 1348.5,1351.9 1350.5,1353.2" stroke-width="8.5"/><polyline points="1350.5,1353.2 1352.5,1355.6 1354.5,1357.1" stroke-width="9.0"/><polyline points="1354.5,1357.1 1356.5,1357.6 1358.5,1359.4" stroke-width="9.5"/><polyline points="1358.5,1359.4 1360.5,1360.6" stroke-width="10.0"/><polyline points="1360.5,1360.6 1362.5,1360.0" stroke-width="10.5"/><polyline points="1362.5,1360.0 1364.5,1360.5" stroke-width="11.0"/><polyline points="1364.5,1360.5 1366.5,1362.3 1368.5,1363.7" stroke-width="11.5"/><polyline points="1368.5,1363.7 1370.5,1363.6 1372.5,1362.5 1374.5,1363.3" stroke-width="12.0"/><polyline points="1374.5,1363.3 1376.5,1364.8" stroke-width="11.5"/><polyline points="1376.5,1364.8 1378.5,1364.2 1380.5,1361.2" stroke-width="11.0"/><polyline points="1380.5,1361.2 1382.5,1357.9 1384.5,1357.1 1386.5,1358.7 1388.5,1358.8" stroke-width="10.5"/><polyline points="1388.5,1358.8 1390.5,1356.9" stroke-width="11.0"/><polyline points="1390.5,1356.9 1392.5,1357.2 1394.5,1358.8" stroke-width="11.5"/><polyline points="1394.5,1358.8 1396.5,1359.2" stroke-width="11.0"/><polyline points="1396.5,1359.2 1398.5,1359.4" stroke-width="10.5"/><polyline points="1398.5,1359.4 1400.5,1360.9" stroke-width="10.0"/><polyline points="1400.5,1360.9 1402.5,1361.7 1404.5,1362.5 1406.5,1365.0 1408.5,1366.5" stroke-width="9.5"/><polyline points="1408.5,1366.5 1410.5,1367.0 1412.5,1370.0" stroke-width="10.0"/><polyline points="1412.5,1370.0 1414.5,1371.6 1416.5,1370.3" stroke-width="10.5"/><polyline points="1416.5,1370.3 1418.5,1371.7 1420.5,1373.4" stroke-width="11.0"/><polyline points="1420.5,1373.4 1422.5,1373.1 1424.5,1372.9 1426.5,1373.7 1428.5,1374.2" stroke-width="11.5"/><polyline points="1428.5,1374.2 1430.5,1373.1 1432.5,1371.7 1434.5,1371.6 1436.5,1373.5 1438.5,1373.8 1440.5,1371.9 1442.5,1372.6 1444.5,1374.3 1446.5,1373.6 1448.5,1371.3 1450.5,1371.1 1452.5,1375.0 1454.5,1377.3 1456.5,1376.0 1458.5,1375.6 1460.5,1375.9 1462.5,1375.5 1464.5,1375.5 1466.5,1375.0 1468.5,1376.0 1470.5,1379.8 1472.5,1380.7 1474.5,1378.8 1476.5,1377.6 1478.5,1375.6 1480.5,1375.6 1482.5,1376.3 1484.5,1374.3 1486.5,1373.7 1488.5,1374.3 1490.5,1374.7 1492.5,1377.4 1494.5,1378.2 1496.5,1377.3 1498.5,1376.5 1500.5,1374.8 1502.5,1374.9 1504.5,1377.3 1506.5,1378.0 1508.5,1377.0 1510.5,1376.0 1512.5,1376.5 1514.5,1376.8 1516.5,1374.9 1518.5,1374.1 1520.5,1374.2 1522.5,1373.3 1524.5,1373.2 1526.5,1375.0 1528.5,1378.3 1530.5,1379.7 1532.5,1377.1 1534.5,1374.3 1536.5,1374.7 1538.5,1375.9 1540.5,1375.9 1542.5,1376.3 1544.5,1375.8 1546.5,1374.1 1548.5,1374.8 1550.5,1377.0 1552.5,1377.9 1554.5,1377.5 1556.5,1376.8 1558.5,1376.1 1560.5,1375.8 1562.5,1376.3 1564.5,1376.1 1566.5,1376.4 1568.5,1378.5 1570.5,1378.7 1572.5,1377.4 1574.5,1378.0 1576.5,1378.8 1578.5,1377.9 1580.5,1377.3 1582.5,1376.4 1584.5,1374.0 1586.5,1374.2 1588.5,1376.6 1590.5,1378.2 1592.5,1378.2 1594.5,1377.5 1596.5,1378.3 1598.5,1379.8 1600.5,1379.1 1602.5,1376.4 1604.5,1375.6 1606.5,1376.6 1608.5,1376.1 1610.5,1374.7 1612.5,1373.9 1614.5,1375.4 1616.5,1377.9 1618.5,1377.1 1620.5,1375.1 1622.5,1374.6 1624.5,1375.3 1626.5,1375.7 1628.5,1374.7 1630.5,1375.5" stroke-width="12.0"/><polyline points="1630.5,1375.5 1632.5,1377.3 1634.5,1376.3 1636.5,1373.8 1638.5,1372.3 1640.5,1371.4 1642.5,1370.9" stroke-width="11.5"/><polyline points="1642.5,1370.9 1644.5,1370.5 1646.5,1369.2 1648.5,1368.0 1650.5,1367.2 1652.5,1366.5 1654.5,1368.4" stroke-width="11.0"/><polyline points="1654.5,1368.4 1656.5,1369.3" stroke-width="10.5"/><polyline points="1656.5,1369.3 1658.5,1365.3 1660.5,1362.8 1662.5,1364.1 1664.5,1365.0" stroke-width="11.0"/><polyline points="1664.5,1365.0 1666.5,1365.4 1668.5,1364.6 1670.5,1363.0" stroke-width="11.5"/><polyline points="1670.5,1363.0 1672.5,1360.6 1674.5,1359.5 1676.5,1361.6" stroke-width="12.0"/><polyline points="1676.5,1361.6 1678.5,1363.0 1680.5,1361.8" stroke-width="11.5"/><polyline points="1680.5,1361.8 1682.5,1361.2 1684.5,1362.9 1686.5,1364.6 1688.5,1365.8" stroke-width="11.0"/><polyline points="1688.5,1365.8 1690.5,1368.6 1692.5,1371.2" stroke-width="10.5"/><polyline points="1692.5,1371.2 1694.5,1370.2 1696.5,1368.4 1698.5,1369.2 1700.5,1370.4 1702.5,1371.1 1704.5,1373.0" stroke-width="11.0"/><polyline points="1704.5,1373.0 1706.5,1372.7 1708.5,1371.4 1710.5,1372.8 1712.5,1374.7 1714.5,1374.8 1716.5,1373.6" stroke-width="11.5"/><polyline points="1716.5,1373.6 1718.5,1374.1 1720.5,1375.7 1722.5,1375.7 1724.5,1374.1 1726.5,1375.1 1728.5,1378.0 1730.5,1376.8 1732.5,1374.6 1734.5,1375.0 1736.5,1374.8 1738.5,1374.0 1740.5,1374.8 1742.5,1376.3 1744.5,1376.3 1746.5,1376.2 1748.5,1375.6 1750.5,1374.0 1752.5,1374.9 1754.5,1375.9 1756.5,1375.0 1758.5,1375.6 1760.5,1376.8 1762.5,1377.6 1764.5,1378.2 1766.5,1377.9 1768.5,1377.1 1770.5,1376.3 1772.5,1375.3 1774.5,1375.8 1776.5,1376.7 1778.5,1376.7 1780.5,1377.8 1782.5,1377.6 1784.5,1376.2 1786.5,1375.8 1788.5,1375.6 1790.5,1375.5 1792.5,1375.4 1794.5,1376.0 1796.5,1375.6 1798.5,1375.9 1800.5,1378.2 1802.5,1377.1 1804.5,1374.3 1806.5,1374.6 1808.5,1376.2 1810.5,1377.4 1812.5,1376.4 1814.5,1375.1 1816.5,1374.9 1818.5,1374.6 1820.5,1373.1" stroke-width="12.0"/><polyline points="1820.5,1373.1 1822.5,1371.9 1824.5,1371.8 1826.5,1372.4 1828.5,1372.9 1830.5,1372.0" stroke-width="11.5"/><polyline points="1830.5,1372.0 1832.5,1370.3 1834.5,1369.0 1836.5,1368.3" stroke-width="11.0"/><polyline points="1836.5,1368.3 1838.5,1367.0 1840.5,1365.1 1842.5,1365.8" stroke-width="10.5"/><polyline points="1842.5,1365.8 1844.5,1366.6 1846.5,1364.2 1848.5,1362.0 1850.5,1360.7" stroke-width="10.0"/><polyline points="1850.5,1360.7 1852.5,1358.6 1854.5,1357.7 1856.5,1357.3 1858.5,1356.8" stroke-width="9.5"/><polyline points="1858.5,1356.8 1860.5,1357.0 1862.5,1355.1 1864.5,1352.0" stroke-width="10.0"/><polyline points="1864.5,1352.0 1866.5,1350.2" stroke-width="10.5"/><polyline points="1866.5,1350.2 1868.5,1348.4" stroke-width="11.0"/><polyline points="1868.5,1348.4 1870.5,1347.2 1872.5,1349.3 1874.5,1351.6 1876.5,1351.4 1878.5,1351.2" stroke-width="11.5"/><polyline points="1878.5,1351.2 1880.5,1352.8" stroke-width="11.0"/><polyline points="1880.5,1352.8 1882.5,1353.9 1884.5,1354.4" stroke-width="10.5"/><polyline points="1884.5,1354.4 1886.5,1356.1 1888.5,1358.0 1890.5,1358.3 1892.5,1358.2" stroke-width="10.0"/><polyline points="1892.5,1358.2 1894.5,1359.3 1896.5,1359.5 1898.5,1359.3" stroke-width="10.5"/><polyline points="1898.5,1359.3 1900.5,1360.8 1902.5,1360.8" stroke-width="11.0"/><polyline points="1902.5,1360.8 1904.5,1358.8" stroke-width="11.5"/><polyline points="1904.5,1358.8 1906.5,1360.5 1908.5,1364.3 1910.5,1365.1 1912.5,1364.3 1914.5,1363.8" stroke-width="12.0"/><polyline points="1914.5,1363.8 1916.5,1364.0 1918.5,1362.6" stroke-width="11.5"/><polyline points="1918.5,1362.6 1920.5,1360.4 1922.5,1360.9 1924.5,1362.8 1926.5,1362.7 1928.5,1359.5 1930.5,1356.2" stroke-width="11.0"/><polyline points="1930.5,1356.2 1932.5,1355.5 1934.5,1357.1 1936.5,1357.8" stroke-width="11.5"/><polyline points="1936.5,1357.8 1938.5,1356.8" stroke-width="12.0"/><polyline points="1938.5,1356.8 1940.5,1356.8 1942.5,1358.2" stroke-width="11.5"/><polyline points="1942.5,1358.2 1944.5,1359.0 1946.5,1358.4" stroke-width="11.0"/><polyline points="1946.5,1358.4 1948.5,1357.7 1950.5,1360.5" stroke-width="10.5"/><polyline points="1950.5,1360.5 1952.5,1364.0 1954.5,1365.6 1956.5,1367.3" stroke-width="10.0"/><polyline points="1956.5,1367.3 1958.5,1366.9 1960.5,1366.1 1962.5,1367.5 1964.5,1368.3 1966.5,1368.2" stroke-width="10.5"/><polyline points="1966.5,1368.2 1968.5,1368.9 1970.5,1370.6 1972.5,1371.9" stroke-width="11.0"/><polyline points="1972.5,1371.9 1974.5,1371.6 1976.5,1370.5 1978.5,1369.4 1980.5,1369.7 1982.5,1371.2 1984.5,1371.7" stroke-width="11.5"/><polyline points="1984.5,1371.7 1986.5,1372.5 1988.5,1374.0 1990.5,1373.7 1992.5,1372.4 1994.5,1373.4 1996.5,1374.5 1998.5,1373.1 2000.5,1372.0 2002.5,1373.9 2004.5,1376.3 2006.5,1376.8 2008.5,1376.6 2010.5,1376.2 2012.5,1375.4 2014.5,1373.8 2016.5,1373.9 2018.5,1376.2 2020.5,1377.7 2022.5,1377.6 2024.5,1376.7 2026.5,1375.2 2028.5,1375.3 2030.5,1377.6 2032.5,1378.7 2034.5,1378.6 2036.5,1377.4 2038.5,1376.9 2040.5,1378.0 2042.5,1377.9 2044.5,1377.7 2046.5,1376.2 2048.5,1372.6 2050.5,1371.0 2052.5,1372.3 2054.5,1375.2 2056.5,1376.8 2058.5,1376.5 2060.5,1375.7 2062.5,1374.1 2064.5,1373.4 2066.5,1374.1 2068.5,1374.3 2070.5,1374.1 2072.5,1375.1 2074.5,1375.9 2076.5,1374.8 2078.5,1373.8 2080.5,1373.6 2082.5,1373.0 2084.5,1373.9 2086.5,1376.1 2088.5,1375.5 2090.5,1373.7 2092.5,1374.4 2094.5,1376.3 2096.5,1377.1 2098.5,1377.3 2100.5,1377.0 2102.5,1375.9 2104.5,1375.1 2106.5,1375.7 2108.5,1377.1 2110.5,1378.2 2112.5,1378.8 2114.5,1377.3 2116.5,1374.0 2118.5,1372.0 2120.5,1372.0 2122.5,1373.6 2124.5,1374.5 2126.5,1372.5 2128.5,1371.5 2130.5,1374.0 2132.5,1376.3 2134.5,1377.4 2136.5,1377.3 2138.5,1375.2 2140.5,1373.5 2142.5,1372.7 2144.5,1371.7 2146.5,1372.9 2148.5,1376.0 2150.5,1377.5" stroke-width="12.0"/><polyline points="2150.5,1377.5 2152.5,1375.9 2154.5,1373.4 2156.5,1371.9 2158.5,1370.2" stroke-width="11.5"/><polyline points="2158.5,1370.2 2160.5,1368.7 2162.5,1369.9 2164.5,1370.3" stroke-width="11.0"/><polyline points="2164.5,1370.3 2166.5,1368.5 2168.5,1366.0 2170.5,1364.4" stroke-width="10.5"/><polyline points="2170.5,1364.4 2172.5,1365.3 2174.5,1363.4 2176.5,1359.1 2178.5,1358.9 2180.5,1361.1 2182.5,1360.6 2184.5,1357.7" stroke-width="10.0"/><polyline points="2184.5,1357.7 2186.5,1357.2" stroke-width="10.5"/><polyline points="2186.5,1357.2 2188.5,1358.3" stroke-width="11.0"/><polyline points="2188.5,1358.3 2190.5,1357.2 2192.5,1355.5 2194.5,1355.3 2196.5,1355.8" stroke-width="11.5"/><polyline points="2196.5,1355.8 2198.5,1357.0" stroke-width="11.0"/><polyline points="2198.5,1357.0 2200.5,1358.6 2202.5,1359.5" stroke-width="10.5"/><polyline points="2202.5,1359.5 2204.5,1361.6 2206.5,1364.5 2208.5,1365.7 2210.5,1365.8 2212.5,1366.4 2214.5,1367.8 2216.5,1369.4" stroke-width="10.0"/><polyline points="2216.5,1369.4 2218.5,1370.8 2220.5,1372.2 2222.5,1375.4" stroke-width="10.5"/><polyline points="2222.5,1375.4 2224.5,1376.4 2226.5,1373.9 2228.5,1372.7" stroke-width="11.0"/><polyline points="2228.5,1372.7 2230.5,1373.1 2232.5,1374.8 2234.5,1375.6 2236.5,1374.4" stroke-width="11.5"/><polyline points="2236.5,1374.4 2238.5,1373.8" stroke-width="12.0"/></g>
<g fill="none" stroke="#808000" stroke-linejoin="round" stroke-linecap="round"><polyline points="186.5,1453.2 188.5,1455.2 190.5,1455.1" stroke-width="12.0"/><polyline points="190.5,1455.1 192.5,1453.3 194.5,1452.7 196.5,1453.6 198.5,1454.8 200.5,1455.5 202.5,1454.9 204.5,1454.6 206.5,1456.5 208.5,1457.4 210.5,1457.2 212.5,1456.8 214.5,1456.9 216.5,1458.4 218.5,1459.1 220.5,1458.4 222.5,1458.7 224.5,1459.1 226.5,1457.6 228.5,1457.4 230.5,1459.0 232.5,1458.5 234.5,1457.2 236.5,1458.4 238.5,1459.4 240.5,1458.9 242.5,1459.4 244.5,1462.0 246.5,1463.6 248.5,1462.8 250.5,1462.5 252.5,1464.1 254.5,1465.0 256.5,1464.7 258.5,1465.8 260.5,1466.5 262.5,1465.2 264.5,1464.7 266.5,1466.1 268.5,1467.6 270.5,1467.4 272.5,1465.7 274.5,1465.2 276.5,1465.1 278.5,1465.4 280.5,1467.7 282.5,1469.0 284.5,1469.3 286.5,1471.1 288.5,1472.0 290.5,1471.6 292.5,1471.8 294.5,1471.3 296.5,1470.3 298.5,1471.6 300.5,1471.7 302.5,1470.3 304.5,1471.5 306.5,1473.0 308.5,1473.5 310.5,1473.2 312.5,1473.5 314.5,1473.8 316.5,1473.7 318.5,1474.7" stroke-width="11.5"/><polyline points="318.5,1474.7 320.5,1475.4 322.5,1475.4 324.5,1475.7 326.5,1476.9 328.5,1477.0 330.5,1476.4 332.5,1477.5 334.5,1479.3 336.5,1478.4 338.5,1476.3 340.5,1477.1 342.5,1478.0 344.5,1476.6 346.5,1476.7 348.5,1477.5 350.5,1477.1 352.5,1478.5 354.5,1478.9 356.5,1476.7 358.5,1476.0 360.5,1476.7 362.5,1478.9 364.5,1482.0 366.5,1481.2 368.5,1477.6 370.5,1477.7 372.5,1480.8 374.5,1482.1 376.5,1480.6 378.5,1479.2 380.5,1479.7 382.5,1479.9 384.5,1479.3 386.5,1479.3 388.5,1480.5 390.5,1481.0 392.5,1480.4 394.5,1479.5 396.5,1478.6 398.5,1480.1 400.5,1482.0 402.5,1480.6 404.5,1480.0 406.5,1482.3 408.5,1484.1 410.5,1484.3 412.5,1482.5 414.5,1480.0 416.5,1480.2 418.5,1483.9 420.5,1485.1 422.5,1481.7 424.5,1480.6 426.5,1481.4 428.5,1480.7 430.5,1480.5 432.5,1481.0 434.5,1482.2 436.5,1483.0 438.5,1482.7 440.5,1482.2 442.5,1481.5 444.5,1479.9 446.5,1477.6 448.5,1478.2 450.5,1480.4 452.5,1480.6 454.5,1481.0 456.5,1482.0 458.5,1482.4" stroke-width="12.0"/><polyline points="458.5,1482.4 460.5,1482.0 462.5,1480.8 464.5,1478.7 466.5,1476.8 468.5,1476.0 470.5,1475.3" stroke-width="11.5"/><polyline points="470.5,1475.3 472.5,1474.4 474.5,1474.4 476.5,1474.8 478.5,1474.4 480.5,1472.1" stroke-width="11.0"/><polyline points="480.5,1472.1 482.5,1469.9 484.5,1470.5 486.5,1471.5" stroke-width="10.5"/><polyline points="486.5,1471.5 488.5,1471.3 490.5,1469.1" stroke-width="10.0"/><polyline points="490.5,1469.1 492.5,1465.8 494.5,1465.1 496.5,1466.0" stroke-width="9.5"/><polyline points="496.5,1466.0 498.5,1464.9 500.5,1463.6 502.5,1460.5 504.5,1455.2" stroke-width="9.0"/><polyline points="504.5,1455.2 506.5,1452.1 508.5,1449.8 510.5,1446.4 512.5,1442.2 514.5,1437.3" stroke-width="8.5"/><polyline points="514.5,1437.3 516.5,1430.8 518.5,1423.7 520.5,1417.2 522.5,1410.0 524.5,1401.3 526.5,1391.1 528.5,1379.6 530.5,1365.3 532.5,1346.9 534.5,1325.0 536.5,1298.8 538.5,1267.4 540.5,1230.7 542.5,1187.9 544.5,1138.3 546.5,1081.2 548.5,1016.9 550.5,949.5 552.5,885.6 554.5,831.1 556.5,796.4 558.5,790.0 560.5,812.2 562.5,858.1 564.5,917.9 566.5,983.4 568.5,1050.4 570.5,1113.2 572.5,1166.0 574.5,1211.0 576.5,1250.4 578.5,1284.7 580.5,1313.8 582.5,1336.4 584.5,1356.4 586.5,1372.8 588.5,1385.1 590.5,1398.0 592.5,1409.5 594.5,1417.5 596.5,1424.5 598.5,1430.8 600.5,1435.7 602.5,1439.8" stroke-width="8.0"/><polyline points="602.5,1439.8 604.5,1443.9 606.5,1447.1 608.5,1449.8 610.5,1452.9 612.5,1454.4" stroke-width="8.5"/><polyline points="612.5,1454.4 614.5,1455.9 616.5,1460.0" stroke-width="9.0"/><polyline points="616.5,1460.0 618.5,1463.7 620.5,1464.0" stroke-width="9.5"/><polyline points="620.5,1464.0 622.5,1463.6" stroke-width="10.0"/><polyline points="622.5,1463.6 624.5,1464.4 626.5,1464.6" stroke-width="10.5"/><polyline points="626.5,1464.6 628.5,1464.9" stroke-width="11.0"/><polyline points="628.5,1464.9 630.5,1464.2" stroke-width="11.5"/><polyline points="630.5,1464.2 632.5,1463.0 634.5,1463.8" stroke-width="12.0"/><polyline points="634.5,1463.8 636.5,1463.8 638.5,1462.4" stroke-width="11.5"/><polyline points="638.5,1462.4 640.5,1460.8" stroke-width="11.0"/><polyline points="640.5,1460.8 642.5,1459.4" stroke-width="10.5"/><polyline points="642.5,1459.4 644.5,1459.7 646.5,1460.9" stroke-width="9.5"/><polyline points="646.5,1460.9 648.5,1459.7" stroke-width="9.0"/><polyline points="648.5,1459.7 650.5,1455.8 652.5,1451.7 654.5,1445.3" stroke-width="8.5"/><polyline points="654.5,1445.3 656.5,1438.6 658.5,1434.3 660.5,1428.3 662.5,1419.7 664.5,1410.9 666.5,1400.3 668.5,1386.7 670.5,1373.2 672.5,1361.2 674.5,1348.5 676.5,1336.3 678.5,1327.0 680.5,1318.7 682.5,1312.0 684.5,1311.5 686.5,1316.0 688.5,1323.8 690.5,1334.0 692.5,1346.0 694.5,1361.1 696.5,1376.7 698.5,1388.5 700.5,1399.4 702.5,1412.1 704.5,1423.7 706.5,1431.7 708.5,1439.6 710.5,1447.1 712.5,1452.3 714.5,1457.8 716.5,1462.2" stroke-width="8.0"/><polyline points="716.5,1462.2 718.5,1465.9 720.5,1471.1 722.5,1473.6 724.5,1474.9" stroke-width="8.5"/><polyline points="724.5,1474.9 726.5,1477.7 728.5,1478.6 730.5,1478.6" stroke-width="9.0"/><polyline points="730.5,1478.6 732.5,1481.3 734.5,1484.9" stroke-width="9.5"/><polyline points="734.5,1484.9 736.5,1487.0 738.5,1487.7 740.5,1488.5" stroke-width="10.0"/><polyline points="740.5,1488.5 742.5,1489.5 744.5,1490.6 746.5,1492.1" stroke-width="10.5"/><polyline points="746.5,1492.1 748.5,1492.5 750.5,1492.9 752.5,1493.0 754.5,1491.9 756.5,1493.3" stroke-width="11.0"/><polyline points="756.5,1493.3 758.5,1496.1 760.5,1496.2 762.5,1495.5 764.5,1495.8 766.5,1496.1 768.5,1496.3 770.5,1496.5 772.5,1496.3 774.5,1496.8 776.5,1498.4 778.5,1497.6" stroke-width="11.5"/><polyline points="778.5,1497.6 780.5,1496.2 782.5,1497.4 784.5,1498.7 786.5,1498.7 788.5,1498.6 790.5,1502.0 792.5,1504.2 794.5,1501.3 796.5,1500.0 798.5,1500.8 800.5,1499.9 802.5,1498.3 804.5,1499.1 806.5,1501.4 808.5,1503.0 810.5,1503.5 812.5,1502.3 814.5,1503.8 816.5,1505.7 818.5,1502.8 820.5,1501.0 822.5,1502.2 824.5,1503.4 826.5,1504.2 828.5,1503.4 830.5,1502.6 832.5,1504.9 834.5,1507.8 836.5,1505.2 838.5,1501.0 840.5,1501.4 842.5,1503.2 844.5,1504.2 846.5,1505.6 848.5,1507.2 850.5,1507.3 852.5,1506.3 854.5,1505.3 856.5,1504.9 858.5,1505.9 860.5,1507.0 862.5,1506.1 864.5,1505.6 866.5,1506.5 868.5,1506.1 870.5,1504.6 872.5,1503.8 874.5,1503.6 876.5,1502.3 878.5,1502.0 880.5,1505.1 882.5,1506.5 884.5,1506.0 886.5,1506.8 888.5,1506.8 890.5,1504.5 892.5,1502.3 894.5,1503.8 896.5,1506.9 898.5,1508.9 900.5,1509.6 902.5,1507.5 904.5,1503.3 906.5,1502.1 908.5,1504.6 910.5,1506.2 912.5,1506.4 914.5,1505.8 916.5,1504.4 918.5,1503.6 920.5,1504.4 922.5,1504.9 924.5,1505.4 926.5,1505.6 928.5,1505.1 930.5,1505.0 932.5,1505.3 934.5,1505.8 936.5,1505.2 938.5,1503.6 940.5,1504.3 942.5,1505.9 944.5,1505.6 946.5,1505.3 948.5,1504.5 950.5,1502.6 952.5,1502.2 954.5,1503.1 956.5,1503.8 958.5,1503.0 960.5,1501.1 962.5,1500.8 964.5,1502.7 966.5,1502.4 968.5,1500.0 970.5,1500.1 972.5,1500.9" stroke-width="12.0"/><polyline points="972.5,1500.9 974.5,1500.6 976.5,1500.2 978.5,1501.1 980.5,1502.0 982.5,1500.8 984.5,1499.7 986.5,1498.4 988.5,1497.2 990.5,1497.1" stroke-width="11.5"/><polyline points="990.5,1497.1 992.5,1496.0 994.5,1494.6 996.5,1494.3 998.5,1494.4" stroke-width="11.0"/><polyline points="998.5,1494.4 1000.5,1494.2 1002.5,1492.6 1004.5,1491.8 1006.5,1492.6" stroke-width="10.5"/><polyline points="1006.5,1492.6 1008.5,1492.2 1010.5,1490.6" stroke-width="10.0"/><polyline points="1010.5,1490.6 1012.5,1488.0 1014.5,1485.0 1016.5,1482.5" stroke-width="9.5"/><polyline points="1016.5,1482.5 1018.5,1481.4 1020.5,1480.5 1022.5,1476.9 1024.5,1472.8" stroke-width="9.0"/><polyline points="1024.5,1472.8 1026.5,1469.9 1028.5,1466.9 1030.5,1463.6 1032.5,1458.8 1034.5,1454.3" stroke-width="8.5"/><polyline points="1034.5,1454.3 1036.5,1450.7 1038.5,1444.5 1040.5,1437.3 1042.5,1432.7 1044.5,1425.2 1046.5,1414.0 1048.5,1403.3 1050.5,1390.1 1052.5,1375.2 1054.5,1359.6 1056.5,1343.1 1058.5,1326.9 1060.5,1307.3 1062.5,1285.0 1064.5,1263.3 1066.5,1242.7 1068.5,1226.0 1070.5,1211.8 1072.5,1199.8 1074.5,1195.6 1076.5,1199.4 1078.5,1208.9 1080.5,1221.6 1082.5,1236.2 1084.5,1254.7 1086.5,1276.1 1088.5,1296.5 1090.5,1317.0 1092.5,1338.1 1094.5,1356.3 1096.5,1370.6 1098.5,1384.0 1100.5,1396.0 1102.5,1406.1 1104.5,1416.4 1106.5,1427.4 1108.5,1438.0 1110.5,1444.6 1112.5,1448.8 1114.5,1451.9 1116.5,1455.5" stroke-width="8.0"/><polyline points="1116.5,1455.5 1118.5,1462.9 1120.5,1468.3 1122.5,1470.1 1124.5,1473.3 1126.5,1475.4 1128.5,1476.5" stroke-width="8.5"/><polyline points="1128.5,1476.5 1130.5,1480.6 1132.5,1483.9 1134.5,1484.2" stroke-width="9.0"/><polyline points="1134.5,1484.2 1136.5,1485.3 1138.5,1486.1 1140.5,1486.0" stroke-width="9.5"/><polyline points="1140.5,1486.0 1142.5,1488.4 1144.5,1490.3" stroke-width="10.0"/><polyline points="1144.5,1490.3 1146.5,1490.4 1148.5,1491.8 1150.5,1491.2" stroke-width="10.5"/><polyline points="1150.5,1491.2 1152.5,1490.2 1154.5,1491.8 1156.5,1493.4 1158.5,1494.2" stroke-width="11.0"/><polyline points="1158.5,1494.2 1160.5,1495.1 1162.5,1496.3 1164.5,1496.6 1166.5,1496.7 1168.5,1496.7 1170.5,1497.8 1172.5,1499.6 1174.5,1499.2" stroke-width="11.5"/><polyline points="1174.5,1499.2 1176.5,1497.6 1178.5,1497.9 1180.5,1500.3 1182.5,1500.8 1184.5,1499.7 1186.5,1499.1 1188.5,1498.0 1190.5,1497.5 1192.5,1498.5 1194.5,1500.2 1196.5,1500.2 1198.5,1499.8 1200.5,1501.1 1202.5,1501.7 1204.5,1501.5 1206.5,1501.3 1208.5,1500.2 1210.5,1499.8 1212.5,1500.3 1214.5,1500.4 1216.5,1499.7 1218.5,1499.1 1220.5,1499.6 1222.5,1498.7 1224.5,1497.0 1226.5,1496.9 1228.5,1498.7" stroke-width="12.0"/><polyline points="1228.5,1498.7 1230.5,1500.3 1232.5,1500.0 1234.5,1497.6 1236.5,1494.5 1238.5,1493.7 1240.5,1493.7 1242.5,1494.0" stroke-width="11.5"/><polyline points="1242.5,1494.0 1244.5,1495.1 1246.5,1494.4 1248.5,1493.1 1250.5,1491.9" stroke-width="11.0"/><polyline points="1250.5,1491.9 1252.5,1489.5 1254.5,1487.7" stroke-width="10.5"/><polyline points="1254.5,1487.7 1256.5,1487.5 1258.5,1487.9 1260.5,1487.4" stroke-width="10.0"/><polyline points="1260.5,1487.4 1262.5,1486.5 1264.5,1484.1 1266.5,1480.0" stroke-width="9.5"/><polyline points="1266.5,1480.0 1268.5,1477.9 1270.5,1476.1 1272.5,1472.6" stroke-width="9.0"/><polyline points="1272.5,1472.6 1274.5,1470.8 1276.5,1470.1 1278.5,1467.5 1280.5,1462.8 1282.5,1456.6" stroke-width="8.5"/><polyline points="1282.5,1456.6 1284.5,1451.2 1286.5,1445.9 1288.5,1438.6 1290.5,1431.8 1292.5,1424.0 1294.5,1413.1 1296.5,1401.9 1298.5,1391.6 1300.5,1380.5 1302.5,1367.6 1304.5,1353.9 1306.5,1339.1 1308.5,1323.8 1310.5,1311.7 1312.5,1302.2 1314.5,1293.4 1316.5,1287.8 1318.5,1287.3" stroke-width="8.0"/><polyline points="1318.5,1287.3 1320.5,1291.4" stroke-width="8.5"/><polyline points="1320.5,1291.4 1322.5,1298.8 1324.5,1308.7 1326.5,1322.4 1328.5,1336.9 1330.5,1350.0 1332.5,1363.6 1334.5,1375.4 1336.5,1385.9 1338.5,1397.1 1340.5,1408.3 1342.5,1418.3 1344.5,1427.0 1346.5,1436.1 1348.5,1441.8 1350.5,1445.7 1352.5,1453.2 1354.5,1459.0" stroke-width="8.0"/><polyline points="1354.5,1459.0 1356.5,1461.4 1358.5,1463.7 1360.5,1465.2" stroke-width="8.5"/><polyline points="1360.5,1465.2 1362.5,1467.0 1364.5,1468.9" stroke-width="9.0"/><polyline points="1364.5,1468.9 1366.5,1470.1" stroke-width="9.5"/><polyline points="1366.5,1470.1 1368.5,1468.7" stroke-width="10.5"/><polyline points="1368.5,1468.7 1370.5,1468.3" stroke-width="11.0"/><polyline points="1370.5,1468.3 1372.5,1472.6 1374.5,1474.4" stroke-width="11.5"/><polyline points="1374.5,1474.4 1376.5,1471.9" stroke-width="11.0"/><polyline points="1376.5,1471.9 1378.5,1470.2" stroke-width="10.5"/><polyline points="1378.5,1470.2 1380.5,1468.5" stroke-width="10.0"/><polyline points="1380.5,1468.5 1382.5,1466.5 1384.5,1466.5" stroke-width="9.5"/><polyline points="1384.5,1466.5 1386.5,1465.2 1388.5,1462.3" stroke-width="10.0"/><polyline points="1388.5,1462.3 1390.5,1462.1" stroke-width="10.5"/><polyline points="1390.5,1462.1 1392.5,1461.9" stroke-width="11.0"/><polyline points="1392.5,1461.9 1394.5,1462.3" stroke-width="10.5"/><polyline points="1394.5,1462.3 1396.5,1466.7" stroke-width="10.0"/><polyline points="1396.5,1466.7 1398.5,1469.4" stroke-width="9.5"/><polyline points="1398.5,1469.4 1400.5,1470.2" stroke-width="9.0"/><polyline points="1400.5,1470.2 1402.5,1473.6 1404.5,1476.1 1406.5,1479.0 1408.5,1483.1 1410.5,1485.5 1412.5,1488.3 1414.5,1492.1" stroke-width="8.5"/><polyline points="1414.5,1492.1 1416.5,1494.5 1418.5,1494.4 1420.5,1492.8" stroke-width="9.0"/><polyline points="1420.5,1492.8 1422.5,1494.3 1424.5,1497.6" stroke-width="9.5"/><polyline points="1424.5,1497.6 1426.5,1498.4" stroke-width="10.0"/><polyline points="1426.5,1498.4 1428.5,1498.6 1430.5,1499.1" stroke-width="10.5"/><polyline points="1430.5,1499.1 1432.5,1499.4 1434.5,1501.0" stroke-width="11.0"/><polyline points="1434.5,1501.0 1436.5,1502.8 1438.5,1502.2 1440.5,1502.0 1442.5,1503.7 1444.5,1504.1" stroke-width="11.5"/><polyline points="1444.5,1504.1 1446.5,1502.8 1448.5,1503.0 1450.5,1504.4 1452.5,1505.4 1454.5,1505.4 1456.5,1504.8 1458.5,1504.9 1460.5,1505.2 1462.5,1505.7 1464.5,1505.3 1466.5,1504.8 1468.5,1505.6 1470.5,1507.8 1472.5,1508.8 1474.5,1507.2 1476.5,1507.3 1478.5,1507.1 1480.5,1503.6 1482.5,1502.3 1484.5,1503.9 1486.5,1507.3 1488.5,1510.0 1490.5,1509.6 1492.5,1508.5 1494.5,1505.9 1496.5,1502.3 1498.5,1503.3 1500.5,1507.1 1502.5,1507.3 1504.5,1506.4 1506.5,1506.9 1508.5,1506.8 1510.5,1508.8 1512.5,1509.5 1514.5,1506.7 1516.5,1506.2 1518.5,1507.2 1520.5,1507.3 1522.5,1507.2 1524.5,1507.2 1526.5,1508.0 1528.5,1508.0 1530.5,1506.7 1532.5,1506.5 1534.5,1506.3 1536.5,1505.4 1538.5,1506.0 1540.5,1507.6 1542.5,1507.6 1544.5,1507.8 1546.5,1509.0 1548.5,1507.8 1550.5,1507.1 1552.5,1509.9 1554.5,1510.7 1556.5,1508.1 1558.5,1506.6 1560.5,1506.8 1562.5,1506.7 1564.5,1507.9 1566.5,1509.7 1568.5,1509.2 1570.5,1508.3 1572.5,1508.1 1574.5,1508.2 1576.5,1509.1 1578.5,1508.9 1580.5,1507.6 1582.5,1508.8 1584.5,1510.7 1586.5,1509.2 1588.5,1508.5 1590.5,1509.6 1592.5,1507.7 1594.5,1506.1 1596.5,1506.6 1598.5,1505.9 1600.5,1505.8 1602.5,1506.8 1604.5,1506.2 1606.5,1505.2 1608.5,1505.0 1610.5,1506.0 1612.5,1506.9 1614.5,1505.7 1616.5,1506.2 1618.5,1507.8 1620.5,1507.3 1622.5,1508.0 1624.5,1508.0 1626.5,1505.1 1628.5,1503.5 1630.5,1505.0 1632.5,1506.4 1634.5,1506.1 1636.5,1505.5" stroke-width="12.0"/><polyline points="1636.5,1505.5 1638.5,1506.2 1640.5,1505.2 1642.5,1503.3 1644.5,1503.6 1646.5,1502.6" stroke-width="11.5"/><polyline points="1646.5,1502.6 1648.5,1500.3 1650.5,1500.7" stroke-width="11.0"/><polyline points="1650.5,1500.7 1652.5,1502.1" stroke-width="10.5"/><polyline points="1652.5,1502.1 1654.5,1499.4 1656.5,1495.2" stroke-width="10.0"/><polyline points="1656.5,1495.2 1658.5,1493.9" stroke-width="9.5"/><polyline points="1658.5,1493.9 1660.5,1492.7 1662.5,1489.8" stroke-width="9.0"/><polyline points="1662.5,1489.8 1664.5,1485.8 1666.5,1482.3 1668.5,1479.4 1670.5,1474.7 1672.5,1470.2 1674.5,1467.5" stroke-width="8.5"/><polyline points="1674.5,1467.5 1676.5,1467.2 1678.5,1469.9 1680.5,1472.7" stroke-width="9.0"/><polyline points="1680.5,1472.7 1682.5,1474.9 1684.5,1478.3 1686.5,1483.6 1688.5,1488.5 1690.5,1491.3 1692.5,1492.9" stroke-width="8.5"/><polyline points="1692.5,1492.9 1694.5,1494.2 1696.5,1495.8" stroke-width="9.0"/><polyline points="1696.5,1495.8 1698.5,1496.4" stroke-width="9.5"/><polyline points="1698.5,1496.4 1700.5,1497.4" stroke-width="10.0"/><polyline points="1700.5,1497.4 1702.5,1499.8 1704.5,1499.8" stroke-width="10.5"/><polyline points="1704.5,1499.8 1706.5,1500.3" stroke-width="11.0"/><polyline points="1706.5,1500.3 1708.5,1502.7 1710.5,1502.8 1712.5,1501.8 1714.5,1500.6" stroke-width="11.5"/><polyline points="1714.5,1500.6 1716.5,1500.3 1718.5,1502.8 1720.5,1504.0 1722.5,1503.6 1724.5,1503.7 1726.5,1502.3 1728.5,1502.1 1730.5,1503.7 1732.5,1504.3 1734.5,1504.0 1736.5,1502.5 1738.5,1500.8 1740.5,1500.0 1742.5,1500.4 1744.5,1500.8 1746.5,1501.5 1748.5,1502.9 1750.5,1501.9 1752.5,1502.4 1754.5,1505.1 1756.5,1503.5 1758.5,1502.4 1760.5,1505.2 1762.5,1505.2 1764.5,1502.0 1766.5,1500.3 1768.5,1502.0 1770.5,1504.1 1772.5,1503.2 1774.5,1502.1 1776.5,1503.5 1778.5,1503.9 1780.5,1501.9 1782.5,1500.9 1784.5,1502.4 1786.5,1505.9 1788.5,1507.1 1790.5,1505.0 1792.5,1503.5 1794.5,1502.0 1796.5,1500.3 1798.5,1500.5 1800.5,1499.8 1802.5,1499.0 1804.5,1499.9 1806.5,1501.1 1808.5,1502.3 1810.5,1502.5 1812.5,1501.0" stroke-width="12.0"/><polyline points="1812.5,1501.0 1814.5,1499.9 1816.5,1500.2 1818.5,1500.6 1820.5,1499.9" stroke-width="11.5"/><polyline points="1820.5,1499.9 1822.5,1496.2 1824.5,1493.3" stroke-width="11.0"/><polyline points="1824.5,1493.3 1826.5,1495.8 1828.5,1498.5" stroke-width="10.5"/><polyline points="1828.5,1498.5 1830.5,1496.4 1832.5,1493.9" stroke-width="10.0"/><polyline points="1832.5,1493.9 1834.5,1493.1 1836.5,1491.6" stroke-width="9.5"/><polyline points="1836.5,1491.6 1838.5,1488.8 1840.5,1485.8 1842.5,1483.7 1844.5,1481.1" stroke-width="9.0"/><polyline points="1844.5,1481.1 1846.5,1477.1 1848.5,1473.9 1850.5,1472.6 1852.5,1471.0 1854.5,1467.7 1856.5,1464.0 1858.5,1461.9 1860.5,1459.8 1862.5,1455.5 1864.5,1452.7 1866.5,1450.6" stroke-width="8.5"/><polyline points="1866.5,1450.6 1868.5,1446.8 1870.5,1444.7" stroke-width="9.0"/><polyline points="1870.5,1444.7 1872.5,1445.1" stroke-width="10.0"/><polyline points="1872.5,1445.1 1874.5,1445.0" stroke-width="10.5"/><polyline points="1874.5,1445.0 1876.5,1443.8 1878.5,1443.5" stroke-width="11.0"/><polyline points="1878.5,1443.5 1880.5,1443.6" stroke-width="10.5"/><polyline points="1880.5,1443.6 1882.5,1445.0 1884.5,1448.2" stroke-width="9.5"/><polyline points="1884.5,1448.2 1886.5,1449.4 1888.5,1450.1 1890.5,1452.7 1892.5,1454.7 1894.5,1457.7 1896.5,1461.0 1898.5,1463.7 1900.5,1465.7" stroke-width="9.0"/><polyline points="1900.5,1465.7 1902.5,1466.3" stroke-width="9.5"/><polyline points="1902.5,1466.3 1904.5,1468.0" stroke-width="10.0"/><polyline points="1904.5,1468.0 1906.5,1470.7" stroke-width="10.5"/><polyline points="1906.5,1470.7 1908.5,1472.0 1910.5,1471.4 1912.5,1469.7 1914.5,1468.4" stroke-width="11.5"/><polyline points="1914.5,1468.4 1916.5,1467.9" stroke-width="11.0"/><polyline points="1916.5,1467.9 1918.5,1467.1" stroke-width="10.5"/><polyline points="1918.5,1467.1 1920.5,1465.2 1922.5,1463.8 1924.5,1462.7 1926.5,1461.2 1928.5,1461.2" stroke-width="10.0"/><polyline points="1928.5,1461.2 1930.5,1461.3" stroke-width="10.5"/><polyline points="1930.5,1461.3 1932.5,1459.1" stroke-width="11.0"/><polyline points="1932.5,1459.1 1934.5,1458.1 1936.5,1458.9 1938.5,1459.4 1940.5,1460.0" stroke-width="11.5"/><polyline points="1940.5,1460.0 1942.5,1461.1" stroke-width="11.0"/><polyline points="1942.5,1461.1 1944.5,1461.5" stroke-width="10.5"/><polyline points="1944.5,1461.5 1946.5,1461.2" stroke-width="10.0"/><polyline points="1946.5,1461.2 1948.5,1462.5" stroke-width="9.5"/><polyline points="1948.5,1462.5 1950.5,1464.8 1952.5,1467.2 1954.5,1468.8 1956.5,1471.2 1958.5,1475.8 1960.5,1480.1 1962.5,1482.2 1964.5,1484.4 1966.5,1486.4 1968.5,1485.5 1970.5,1485.6 1972.5,1488.9" stroke-width="9.0"/><polyline points="1972.5,1488.9 1974.5,1492.7 1976.5,1496.8 1978.5,1498.0" stroke-width="9.5"/><polyline points="1978.5,1498.0 1980.5,1497.7 1982.5,1500.7" stroke-width="10.0"/><polyline points="1982.5,1500.7 1984.5,1502.4" stroke-width="10.5"/><polyline points="1984.5,1502.4 1986.5,1501.3 1988.5,1502.2 1990.5,1503.5" stroke-width="11.0"/><polyline points="1990.5,1503.5 1992.5,1501.9 1994.5,1500.5 1996.5,1500.3" stroke-width="11.5"/><polyline points="1996.5,1500.3 1998.5,1500.2 2000.5,1501.4 2002.5,1502.2 2004.5,1502.6 2006.5,1502.1 2008.5,1502.0 2010.5,1502.7 2012.5,1502.5 2014.5,1501.9 2016.5,1501.3 2018.5,1501.5 2020.5,1501.9 2022.5,1501.8 2024.5,1500.6 2026.5,1498.9 2028.5,1500.1 2030.5,1502.7 2032.5,1502.8 2034.5,1500.2 2036.5,1498.9 2038.5,1500.5 2040.5,1501.9 2042.5,1501.7 2044.5,1502.3 2046.5,1504.4 2048.5,1505.5 2050.5,1504.2 2052.5,1502.7 2054.5,1502.8 2056.5,1502.3 2058.5,1502.1 2060.5,1503.8 2062.5,1503.9 2064.5,1503.9 2066.5,1505.6 2068.5,1506.0 2070.5,1506.0 2072.5,1506.2 2074.5,1504.6 2076.5,1502.4 2078.5,1503.2 2080.5,1504.4 2082.5,1503.6 2084.5,1503.7 2086.5,1505.4 2088.5,1506.9 2090.5,1507.1 2092.5,1505.9 2094.5,1505.0 2096.5,1505.4 2098.5,1505.2 2100.5,1505.1 2102.5,1506.0 2104.5,1505.1 2106.5,1504.3 2108.5,1505.0 2110.5,1504.9 2112.5,1503.6 2114.5,1502.4 2116.5,1502.2 2118.5,1501.9 2120.5,1500.5 2122.5,1501.6 2124.5,1504.4 2126.5,1504.0" stroke-width="12.0"/><polyline points="2126.5,1504.0 2128.5,1503.2 2130.5,1503.4 2132.5,1502.2 2134.5,1500.5" stroke-width="11.5"/><polyline points="2134.5,1500.5 2136.5,1498.8 2138.5,1498.4" stroke-width="11.0"/><polyline points="2138.5,1498.4 2140.5,1498.3 2142.5,1497.8" stroke-width="10.5"/><polyline points="2142.5,1497.8 2144.5,1495.9 2146.5,1492.1 2148.5,1489.7" stroke-width="10.0"/><polyline points="2148.5,1489.7 2150.5,1490.0 2152.5,1490.9 2154.5,1489.9" stroke-width="9.5"/><polyline points="2154.5,1489.9 2156.5,1486.2 2158.5,1480.8 2160.5,1477.6 2162.5,1477.9 2164.5,1477.2 2166.5,1475.4 2168.5,1473.9 2170.5,1471.0 2172.5,1467.5 2174.5,1465.8 2176.5,1465.3 2178.5,1463.9" stroke-width="9.0"/><polyline points="2178.5,1463.9 2180.5,1463.5 2182.5,1463.3" stroke-width="9.5"/><polyline points="2182.5,1463.3 2184.5,1460.6 2186.5,1457.8" stroke-width="10.0"/><polyline points="2186.5,1457.8 2188.5,1456.3" stroke-width="10.5"/><polyline points="2188.5,1456.3 2190.5,1456.4" stroke-width="11.0"/><polyline points="2190.5,1456.4 2192.5,1457.8 2194.5,1458.0 2196.5,1457.8 2198.5,1458.5" stroke-width="11.5"/><polyline points="2198.5,1458.5 2200.5,1458.0" stroke-width="11.0"/><polyline points="2200.5,1458.0 2202.5,1455.7" stroke-width="10.5"/><polyline points="2202.5,1455.7 2204.5,1457.6" stroke-width="10.0"/><polyline points="2204.5,1457.6 2206.5,1464.4 2208.5,1467.3" stroke-width="9.5"/><polyline points="2208.5,1467.3 2210.5,1466.1 2212.5,1465.7 2214.5,1469.1 2216.5,1472.3 2218.5,1472.6 2220.5,1476.1 2222.5,1481.0 2224.5,1483.5 2226.5,1485.4 2228.5,1488.4 2230.5,1490.9 2232.5,1489.8 2234.5,1490.1" stroke-width="9.0"/><polyline points="2234.5,1490.1 2236.5,1494.4" stroke-width="9.5"/><polyline points="2236.5,1494.4 2238.5,1497.5" stroke-width="10.0"/></g>
</g>
<rect x="186.5" y="31.5" width="2052.5" height="1503.5" fill="none" stroke="#6a6a6a" stroke-width="6.0"/>
<line x1="186.5" y1="1535.0" x2="186.5" y2="1552.0" stroke="#6a6a6a" stroke-width="6.0"/>
<line x1="322.0" y1="1535.0" x2="322.0" y2="1568.0" stroke="#6a6a6a" stroke-width="6.0"/>
<text x="322.0" y="1646.0" font-family="'Liberation Sans', Arial, sans-serif" font-size="78.0" fill="#333" text-anchor="middle">20</text>
<line x1="458.8" y1="1535.0" x2="458.8" y2="1552.0" stroke="#6a6a6a" stroke-width="6.0"/>
<line x1="595.6" y1="1535.0" x2="595.6" y2="1568.0" stroke="#6a6a6a" stroke-width="6.0"/>
<text x="595.6" y="1646.0" font-family="'Liberation Sans', Arial, sans-serif" font-size="78.0" fill="#333" text-anchor="middle">30</text>
<line x1="732.4" y1="1535.0" x2="732.4" y2="1552.0" stroke="#6a6a6a" stroke-width="6.0"/>
<line x1="869.2" y1="1535.0" x2="869.2" y2="1568.0" stroke="#6a6a6a" stroke-width="6.0"/>
<text x="869.2" y="1646.0" font-family="'Liberation Sans', Arial, sans-serif" font-size="78.0" fill="#333" text-anchor="middle">40</text>
<line x1="1006.0" y1="1535.0" x2="1006.0" y2="1552.0" stroke="#6a6a6a" stroke-width="6.0"/>
<line x1="1142.8" y1="1535.0" x2="1142.8" y2="1568.0" stroke="#6a6a6a" stroke-width="6.0"/>
<text x="1142.8" y="1646.0" font-family="'Liberation Sans', Arial, sans-serif" font-size="78.0" fill="#333" text-anchor="middle">50</text>
<line x1="1279.6" y1="1535.0" x2="1279.6" y2="1552.0" stroke="#6a6a6a" stroke-width="6.0"/>
<line x1="1416.4" y1="1535.0" x2="1416.4" y2="1568.0" stroke="#6a6a6a" stroke-width="6.0"/>
<text x="1416.4" y="1646.0" font-family="'Liberation Sans', Arial, sans-serif" font-size="78.0" fill="#333" text-anchor="middle">60</text>
<line x1="1553.2" y1="1535.0" x2="1553.2" y2="1552.0" stroke="#6a6a6a" stroke-width="6.0"/>
<line x1="1690.0" y1="1535.0" x2="1690.0" y2="1568.0" stroke="#6a6a6a" stroke-width="6.0"/>
<text x="1690.0" y="1646.0" font-family="'Liberation Sans', Arial, sans-serif" font-size="78.0" fill="#333" text-anchor="middle">70</text>
<line x1="1826.8" y1="1535.0" x2="1826.8" y2="1552.0" stroke="#6a6a6a" stroke-width="6.0"/>
<line x1="1963.6" y1="1535.0" x2="1963.6" y2="1568.0" stroke="#6a6a6a" stroke-width="6.0"/>
<text x="1963.6" y="1646.0" font-family="'Liberation Sans', Arial, sans-serif" font-size="78.0" fill="#333" text-anchor="middle">80</text>
<line x1="2100.4" y1="1535.0" x2="2100.4" y2="1552.0" stroke="#6a6a6a" stroke-width="6.0"/>
<line x1="2239.0" y1="1535.0" x2="2239.0" y2="1568.0" stroke="#6a6a6a" stroke-width="6.0"/>
<text x="2239.0" y="1646.0" font-family="'Liberation Sans', Arial, sans-serif" font-size="78.0" fill="#333" text-anchor="middle">90</text>
<text x="1144.0" y="1808.0" font-family="'Liberation Sans', Arial, sans-serif" font-size="96.0" fill="#222">°2<tspan font-family="'Liberation Serif', serif">θ</tspan></text>
<text transform="translate(102.0,1107.0) rotate(-90)" font-family="'Liberation Sans', Arial, sans-serif" font-size="95.5" fill="#111">Intensity (a.u)</text>
<text x="268.0" y="161.0" font-family="'Liberation Sans', Arial, sans-serif" font-weight="bold" font-size="94.0" fill="#000">A)</text>
<text x="2224.0" y="656.0" font-family="'Liberation Sans', Arial, sans-serif" font-weight="bold" font-size="65.5" fill="#111" text-anchor="end">Au-Mt/20CeAl</text>
<text x="2216.0" y="793.0" font-family="'Liberation Sans', Arial, sans-serif" font-weight="bold" font-size="65.5" fill="#111" text-anchor="end">20CeAl</text>
<text x="2216.0" y="970.0" font-family="'Liberation Sans', Arial, sans-serif" font-weight="bold" font-size="65.5" fill="#111" text-anchor="end">Au-Mt/50CeZr</text>
<text x="2216.0" y="1145.0" font-family="'Liberation Sans', Arial, sans-serif" font-weight="bold" font-size="65.5" fill="#111" text-anchor="end">50CeZr</text>
<text x="2214.0" y="1314.0" font-family="'Liberation Sans', Arial, sans-serif" font-weight="bold" font-size="65.5" fill="#111" text-anchor="end">Au-Mt/Ce</text>
<text x="2066.0" y="1458.0" font-family="'Liberation Sans', Arial, sans-serif" font-weight="bold" font-size="65.5" fill="#111" text-anchor="middle">Ce</text>
<rect x="1856.0" y="247.0" width="358.0" height="176.0" fill="#fff" stroke="#aaa" stroke-width="4.5"/>
<circle cx="1952.0" cy="289.0" r="18.5" fill="none" stroke="#777" stroke-width="6.0"/>
<g stroke="#4040ff" stroke-width="7.5" fill="none" stroke-linejoin="round" stroke-linecap="round"><polygon points="1931.4,371.2 1974.6,371.2 1953.0,413.5"/><line x1="1953.0" y1="361.1" x2="1953.0" y2="408.0"/><line x1="1932.8" y1="389.6" x2="1973.2" y2="389.6"/></g>
<text x="2036.0" y="311.0" font-family="'Liberation Sans', Arial, sans-serif" font-size="66.0" fill="#444" letter-spacing="-4.0">CeO<tspan font-size="42.2" dy="21.8">2</tspan></text>
<text x="2036.0" y="406.0" font-family="'Liberation Sans', Arial, sans-serif" font-size="66.0" fill="#333">Au</text>
<line x1="828.1" y1="2112.0" x2="828.1" y2="3502.5" stroke="#d0d0d0" stroke-width="4.5" stroke-dasharray="14 22"/>
<line x1="996.4" y1="2112.0" x2="996.4" y2="3502.5" stroke="#d0d0d0" stroke-width="4.5" stroke-dasharray="14 22"/>
<line x1="1542.6" y1="2112.0" x2="1542.6" y2="3502.5" stroke="#d0d0d0" stroke-width="4.5" stroke-dasharray="14 22"/>
<circle cx="566.6" cy="2070.0" r="16.5" fill="none" stroke="#b4b4b4" stroke-width="4.5"/>
<circle cx="689.6" cy="2070.0" r="16.5" fill="none" stroke="#b4b4b4" stroke-width="4.5"/>
<circle cx="1080.5" cy="2070.0" r="16.5" fill="none" stroke="#b4b4b4" stroke-width="4.5"/>
<circle cx="1320.8" cy="2070.0" r="16.5" fill="none" stroke="#b4b4b4" stroke-width="4.5"/>
<circle cx="1675.6" cy="2070.0" r="16.5" fill="none" stroke="#b4b4b4" stroke-width="4.5"/>
<circle cx="1873.8" cy="2070.0" r="16.5" fill="none" stroke="#b4b4b4" stroke-width="4.5"/>
<circle cx="1938.1" cy="2070.0" r="16.5" fill="none" stroke="#b4b4b4" stroke-width="4.5"/>
<circle cx="2191.4" cy="2070.0" r="16.5" fill="none" stroke="#b4b4b4" stroke-width="4.5"/>
<g stroke="#8a8aff" stroke-width="6.0" fill="none" stroke-linejoin="round" stroke-linecap="round"><polygon points="808.3,2057.4 847.8,2057.4 828.1,2096.0"/><line x1="828.1" y1="2048.2" x2="828.1" y2="2091.0"/><line x1="809.6" y1="2074.2" x2="846.5" y2="2074.2"/></g>
<g stroke="#8a8aff" stroke-width="6.0" fill="none" stroke-linejoin="round" stroke-linecap="round"><polygon points="976.6,2057.4 1016.1,2057.4 996.4,2096.0"/><line x1="996.4" y1="2048.2" x2="996.4" y2="2091.0"/><line x1="977.9" y1="2074.2" x2="1014.8" y2="2074.2"/></g>
<g stroke="#8a8aff" stroke-width="6.0" fill="none" stroke-linejoin="round" stroke-linecap="round"><polygon points="1522.8,2057.4 1562.3,2057.4 1542.6,2096.0"/><line x1="1542.6" y1="2048.2" x2="1542.6" y2="2091.0"/><line x1="1524.1" y1="2074.2" x2="1561.0" y2="2074.2"/></g>
<rect x="1043.4" y="2184.7" width="445.6" height="329.5" fill="#e3e1ec" stroke="#aaa" stroke-width="3.5"/>
<polyline points="1045.1,2263.6 1049.1,2260.7 1053.1,2254.6 1057.1,2256.9 1061.1,2262.8 1065.1,2266.4 1069.1,2272.7 1073.1,2272.3 1077.1,2265.9 1081.1,2259.7 1085.1,2255.9 1089.1,2261.0 1093.1,2260.8 1097.1,2264.9 1101.1,2264.4 1105.1,2264.3 1109.1,2261.5 1113.1,2261.9 1117.1,2258.0 1121.1,2258.5 1125.1,2254.6 1129.1,2253.4 1133.1,2249.7 1137.1,2252.2 1141.1,2249.3 1145.1,2249.8 1149.1,2252.0 1153.1,2250.9 1157.1,2253.6 1161.1,2252.4 1165.1,2253.1 1169.1,2248.4 1173.1,2244.5 1177.1,2242.9 1181.1,2238.9 1185.1,2239.8 1189.1,2241.5 1193.1,2244.4 1197.1,2246.3 1201.1,2248.1 1205.1,2250.0 1209.1,2245.8 1213.1,2239.1 1217.1,2235.4 1221.1,2234.4 1225.1,2234.3 1229.1,2232.9 1233.1,2234.9 1237.1,2230.7 1241.1,2231.8 1245.1,2236.0 1249.1,2240.4 1253.1,2237.7 1257.1,2234.2 1261.1,2232.8 1265.1,2235.3 1269.1,2238.8 1273.1,2238.6 1277.1,2241.6 1281.1,2241.6 1285.1,2243.0 1289.1,2243.5 1293.1,2241.9 1297.1,2245.4 1301.1,2241.4 1305.1,2239.0 1309.1,2237.0 1313.1,2237.3 1317.1,2241.7 1321.1,2246.3 1325.1,2249.6 1329.1,2254.2 1333.1,2255.9 1337.1,2260.8 1341.1,2262.5 1345.1,2260.8 1349.1,2261.8 1353.1,2263.4 1357.1,2268.5 1361.1,2273.1 1365.1,2277.0 1369.1,2275.9 1373.1,2274.2 1377.1,2270.5 1381.1,2266.1 1385.1,2269.6 1389.1,2267.7 1393.1,2270.0 1397.1,2272.3 1401.1,2273.4 1405.1,2274.4 1409.1,2274.8 1413.1,2272.8 1417.1,2270.2 1421.1,2268.3 1425.1,2267.9 1429.1,2270.2 1433.1,2277.5 1437.1,2277.7 1441.1,2284.1 1445.1,2280.8 1449.1,2280.3 1453.1,2279.1 1457.1,2279.5 1461.1,2278.8 1465.1,2282.5 1469.1,2282.3 1473.1,2283.1 1477.1,2286.3 1481.1,2294.5 1485.1,2297.5" fill="none" stroke="#6e6e78" stroke-width="4.0" stroke-linejoin="round"/>
<polyline points="1045.1,2304.7 1049.1,2302.5 1053.1,2298.6 1057.1,2300.9 1061.1,2295.4 1065.1,2298.6 1069.1,2293.7 1073.1,2299.0 1077.1,2303.5 1081.1,2306.2 1085.1,2308.6 1089.1,2308.7 1093.1,2298.7 1097.1,2292.4 1101.1,2296.9 1105.1,2295.8 1109.1,2298.5 1113.1,2300.5 1117.1,2301.0 1121.1,2302.8 1125.1,2303.2 1129.1,2303.8 1133.1,2305.4 1137.1,2305.6 1141.1,2305.4 1145.1,2306.6 1149.1,2305.5 1153.1,2305.7 1157.1,2306.0 1161.1,2308.4 1165.1,2308.8 1169.1,2305.6 1173.1,2301.7 1177.1,2301.8 1181.1,2301.3 1185.1,2299.6 1189.1,2297.8 1193.1,2297.2 1197.1,2297.9 1201.1,2297.1 1205.1,2300.7 1209.1,2301.1 1213.1,2303.8 1217.1,2306.1 1221.1,2307.4 1225.1,2306.8 1229.1,2306.1 1233.1,2307.0 1237.1,2308.6 1241.1,2307.6 1245.1,2309.3 1249.1,2310.7 1253.1,2311.7 1257.1,2311.4 1261.1,2316.8 1265.1,2322.6 1269.1,2322.3 1273.1,2317.0 1277.1,2316.2 1281.1,2313.5 1285.1,2318.8 1289.1,2323.4 1293.1,2321.4 1297.1,2324.1 1301.1,2323.0 1305.1,2321.6 1309.1,2322.2 1313.1,2321.8 1317.1,2320.5 1321.1,2318.3 1325.1,2317.9 1329.1,2323.1 1333.1,2319.4 1337.1,2320.1 1341.1,2320.9 1345.1,2319.7 1349.1,2322.2 1353.1,2321.4 1357.1,2324.7 1361.1,2323.4 1365.1,2327.7 1369.1,2327.9 1373.1,2327.7 1377.1,2327.8 1381.1,2328.0 1385.1,2328.8 1389.1,2329.1 1393.1,2327.2 1397.1,2329.6 1401.1,2327.5 1405.1,2326.1 1409.1,2321.6 1413.1,2318.4 1417.1,2314.5 1421.1,2315.6 1425.1,2315.0 1429.1,2314.8 1433.1,2317.3 1437.1,2317.1 1441.1,2318.6 1445.1,2320.6 1449.1,2319.8 1453.1,2322.8 1457.1,2320.8 1461.1,2322.6 1465.1,2322.1 1469.1,2322.8 1473.1,2323.5 1477.1,2322.9 1481.1,2322.1 1485.1,2324.3" fill="none" stroke="#f2a0b0" stroke-width="4.0" stroke-linejoin="round"/>
<polyline points="1045.1,2359.4 1049.1,2356.9 1053.1,2355.3 1057.1,2350.2 1061.1,2350.2 1065.1,2348.0 1069.1,2344.0 1073.1,2346.8 1077.1,2347.5 1081.1,2346.7 1085.1,2348.2 1089.1,2350.0 1093.1,2351.4 1097.1,2352.3 1101.1,2351.1 1105.1,2351.8 1109.1,2352.6 1113.1,2353.4 1117.1,2353.0 1121.1,2353.6 1125.1,2354.9 1129.1,2355.1 1133.1,2354.7 1137.1,2353.5 1141.1,2354.4 1145.1,2355.8 1149.1,2356.4 1153.1,2356.8 1157.1,2354.7 1161.1,2355.6 1165.1,2355.0 1169.1,2351.2 1173.1,2350.2 1177.1,2346.5 1181.1,2348.1 1185.1,2350.6 1189.1,2352.9 1193.1,2357.2 1197.1,2358.6 1201.1,2360.0 1205.1,2359.0 1209.1,2359.8 1213.1,2358.7 1217.1,2359.6 1221.1,2359.7 1225.1,2359.1 1229.1,2358.2 1233.1,2359.3 1237.1,2357.7 1241.1,2359.7 1245.1,2357.8 1249.1,2357.4 1253.1,2357.2 1257.1,2351.1 1261.1,2348.1 1265.1,2343.1 1269.1,2342.8 1273.1,2345.1 1277.1,2346.4 1281.1,2350.9 1285.1,2350.7 1289.1,2352.1 1293.1,2354.2 1297.1,2349.7 1301.1,2342.4 1305.1,2340.3 1309.1,2343.5 1313.1,2343.3 1317.1,2345.6 1321.1,2347.3 1325.1,2346.8 1329.1,2350.0 1333.1,2353.5 1337.1,2355.8 1341.1,2355.7 1345.1,2357.3 1349.1,2358.0 1353.1,2356.2 1357.1,2355.3 1361.1,2352.4 1365.1,2352.1 1369.1,2351.3 1373.1,2350.1 1377.1,2346.3 1381.1,2347.6 1385.1,2345.5 1389.1,2344.2 1393.1,2340.8 1397.1,2341.4 1401.1,2343.5 1405.1,2350.4 1409.1,2354.6 1413.1,2354.4 1417.1,2354.3 1421.1,2354.2 1425.1,2353.9 1429.1,2354.9 1433.1,2354.4 1437.1,2355.2 1441.1,2356.0 1445.1,2353.9 1449.1,2353.0 1453.1,2352.2 1457.1,2347.2 1461.1,2346.9 1465.1,2346.8 1469.1,2344.2 1473.1,2346.3 1477.1,2346.3 1481.1,2346.1 1485.1,2352.0" fill="none" stroke="#a4a0f0" stroke-width="4.0" stroke-linejoin="round"/>
<polyline points="1045.1,2390.4 1049.1,2388.9 1053.1,2383.6 1057.1,2384.0 1061.1,2381.1 1065.1,2377.3 1069.1,2376.9 1073.1,2379.2 1077.1,2382.7 1081.1,2385.5 1085.1,2387.9 1089.1,2386.8 1093.1,2382.8 1097.1,2379.5 1101.1,2382.4 1105.1,2384.8 1109.1,2385.1 1113.1,2387.6 1117.1,2388.8 1121.1,2391.5 1125.1,2390.8 1129.1,2389.8 1133.1,2389.8 1137.1,2390.3 1141.1,2391.8 1145.1,2390.9 1149.1,2392.5 1153.1,2394.0 1157.1,2390.3 1161.1,2389.5 1165.1,2384.9 1169.1,2385.0 1173.1,2382.9 1177.1,2384.4 1181.1,2390.3 1185.1,2392.1 1189.1,2394.7 1193.1,2398.5 1197.1,2399.4 1201.1,2394.8 1205.1,2394.5 1209.1,2391.3 1213.1,2390.6 1217.1,2389.0 1221.1,2389.9 1225.1,2391.2 1229.1,2390.8 1233.1,2391.7 1237.1,2392.3 1241.1,2392.4 1245.1,2392.6 1249.1,2392.8 1253.1,2393.8 1257.1,2394.9 1261.1,2396.0 1265.1,2396.3 1269.1,2393.1 1273.1,2393.8 1277.1,2393.3 1281.1,2393.3 1285.1,2392.4 1289.1,2389.0 1293.1,2390.1 1297.1,2387.2 1301.1,2387.8 1305.1,2386.6 1309.1,2390.3 1313.1,2396.2 1317.1,2397.4 1321.1,2399.2 1325.1,2399.9 1329.1,2400.9 1333.1,2397.9 1337.1,2401.5 1341.1,2398.9 1345.1,2398.6 1349.1,2399.9 1353.1,2400.5 1357.1,2402.7 1361.1,2400.7 1365.1,2399.1 1369.1,2399.5 1373.1,2398.7 1377.1,2400.4 1381.1,2400.5 1385.1,2399.1 1389.1,2400.6 1393.1,2397.3 1397.1,2398.5 1401.1,2397.9 1405.1,2398.2 1409.1,2396.9 1413.1,2399.6 1417.1,2397.4 1421.1,2398.2 1425.1,2399.5 1429.1,2399.9 1433.1,2399.3 1437.1,2395.0 1441.1,2396.5 1445.1,2395.9 1449.1,2394.9 1453.1,2394.2 1457.1,2393.9 1461.1,2394.5 1465.1,2392.8 1469.1,2391.2 1473.1,2390.2 1477.1,2391.5 1481.1,2388.8 1485.1,2390.8" fill="none" stroke="#84a4aa" stroke-width="4.0" stroke-linejoin="round"/>
<polyline points="1045.1,2420.0 1049.1,2419.4 1053.1,2419.6 1057.1,2418.4 1061.1,2419.0 1065.1,2416.3 1069.1,2415.1 1073.1,2419.7 1077.1,2418.3 1081.1,2415.8 1085.1,2421.0 1089.1,2418.1 1093.1,2422.5 1097.1,2422.8 1101.1,2422.3 1105.1,2421.8 1109.1,2421.4 1113.1,2424.0 1117.1,2423.0 1121.1,2425.2 1125.1,2422.2 1129.1,2419.2 1133.1,2418.6 1137.1,2417.8 1141.1,2417.7 1145.1,2420.4 1149.1,2421.2 1153.1,2426.0 1157.1,2425.7 1161.1,2428.0 1165.1,2425.4 1169.1,2428.0 1173.1,2428.6 1177.1,2427.4 1181.1,2426.3 1185.1,2425.4 1189.1,2426.9 1193.1,2426.7 1197.1,2424.5 1201.1,2425.8 1205.1,2426.2 1209.1,2424.6 1213.1,2425.9 1217.1,2424.8 1221.1,2426.5 1225.1,2423.4 1229.1,2425.2 1233.1,2424.6 1237.1,2422.2 1241.1,2423.1 1245.1,2422.1 1249.1,2422.4 1253.1,2419.4 1257.1,2418.1 1261.1,2416.6 1265.1,2418.8 1269.1,2417.4 1273.1,2421.4 1277.1,2420.8 1281.1,2420.9 1285.1,2423.1 1289.1,2422.4 1293.1,2423.2 1297.1,2421.8 1301.1,2422.3 1305.1,2425.2 1309.1,2423.2 1313.1,2423.1 1317.1,2424.6 1321.1,2420.5 1325.1,2422.8 1329.1,2421.5 1333.1,2421.8 1337.1,2420.9 1341.1,2421.6 1345.1,2422.6 1349.1,2422.4 1353.1,2421.2 1357.1,2421.6 1361.1,2419.4 1365.1,2419.5 1369.1,2425.9 1373.1,2429.0 1377.1,2428.0 1381.1,2426.8 1385.1,2427.6 1389.1,2428.8 1393.1,2426.2 1397.1,2427.6 1401.1,2428.2 1405.1,2426.4 1409.1,2429.8 1413.1,2428.4 1417.1,2429.3 1421.1,2426.8 1425.1,2429.8 1429.1,2432.7 1433.1,2433.0 1437.1,2433.9 1441.1,2430.2 1445.1,2431.9 1449.1,2429.5 1453.1,2430.9 1457.1,2431.5 1461.1,2430.9 1465.1,2429.3 1469.1,2430.8 1473.1,2430.9 1477.1,2429.9 1481.1,2430.6 1485.1,2430.7" fill="none" stroke="#f2a4a4" stroke-width="4.0" stroke-linejoin="round"/>
<polyline points="1045.1,2446.2 1049.1,2444.2 1053.1,2445.0 1057.1,2443.5 1061.1,2443.8 1065.1,2444.9 1069.1,2443.4 1073.1,2442.8 1077.1,2442.6 1081.1,2444.6 1085.1,2446.5 1089.1,2446.5 1093.1,2446.0 1097.1,2447.9 1101.1,2448.8 1105.1,2449.5 1109.1,2445.5 1113.1,2445.4 1117.1,2442.6 1121.1,2440.9 1125.1,2444.3 1129.1,2445.3 1133.1,2446.5 1137.1,2449.6 1141.1,2450.0 1145.1,2450.5 1149.1,2453.5 1153.1,2452.2 1157.1,2453.1 1161.1,2454.4 1165.1,2454.0 1169.1,2453.2 1173.1,2449.8 1177.1,2446.2 1181.1,2446.0 1185.1,2447.4 1189.1,2447.4 1193.1,2447.8 1197.1,2447.1 1201.1,2448.4 1205.1,2450.0 1209.1,2450.4 1213.1,2449.3 1217.1,2449.8 1221.1,2450.0 1225.1,2452.6 1229.1,2451.2 1233.1,2452.1 1237.1,2452.0 1241.1,2452.3 1245.1,2453.1 1249.1,2453.9 1253.1,2451.8 1257.1,2453.4 1261.1,2451.6 1265.1,2452.1 1269.1,2453.6 1273.1,2453.0 1277.1,2450.4 1281.1,2451.2 1285.1,2452.2 1289.1,2454.4 1293.1,2452.9 1297.1,2455.4 1301.1,2457.3 1305.1,2457.8 1309.1,2457.0 1313.1,2458.8 1317.1,2455.1 1321.1,2455.6 1325.1,2454.8 1329.1,2454.2 1333.1,2452.9 1337.1,2454.2 1341.1,2452.6 1345.1,2454.0 1349.1,2450.5 1353.1,2452.7 1357.1,2451.6 1361.1,2453.8 1365.1,2455.3 1369.1,2453.3 1373.1,2456.1 1377.1,2454.7 1381.1,2454.8 1385.1,2456.9 1389.1,2457.6 1393.1,2455.4 1397.1,2454.1 1401.1,2452.2 1405.1,2451.9 1409.1,2451.2 1413.1,2454.3 1417.1,2455.0 1421.1,2457.4 1425.1,2457.0 1429.1,2461.2 1433.1,2460.7 1437.1,2460.7 1441.1,2462.9 1445.1,2463.0 1449.1,2465.0 1453.1,2462.3 1457.1,2463.5 1461.1,2459.9 1465.1,2460.4 1469.1,2459.3 1473.1,2457.6 1477.1,2457.4 1481.1,2456.9 1485.1,2454.8" fill="none" stroke="#b8b8a8" stroke-width="4.0" stroke-linejoin="round"/>
<text x="1043.4" y="2555.0" font-family="'Liberation Serif', serif" font-size="36" fill="#666" text-anchor="middle">36</text>
<line x1="1043.4" y1="2514.2" x2="1043.4" y2="2521.2" stroke="#888" stroke-width="2.5"/>
<text x="1154.8" y="2555.0" font-family="'Liberation Serif', serif" font-size="36" fill="#666" text-anchor="middle">37</text>
<line x1="1154.8" y1="2514.2" x2="1154.8" y2="2521.2" stroke="#888" stroke-width="2.5"/>
<text x="1266.2" y="2555.0" font-family="'Liberation Serif', serif" font-size="36" fill="#666" text-anchor="middle">38</text>
<line x1="1266.2" y1="2514.2" x2="1266.2" y2="2521.2" stroke="#888" stroke-width="2.5"/>
<text x="1377.6" y="2555.0" font-family="'Liberation Serif', serif" font-size="36" fill="#666" text-anchor="middle">39</text>
<line x1="1377.6" y1="2514.2" x2="1377.6" y2="2521.2" stroke="#888" stroke-width="2.5"/>
<text x="1489.0" y="2555.0" font-family="'Liberation Serif', serif" font-size="36" fill="#666" text-anchor="middle">40</text>
<line x1="1489.0" y1="2514.2" x2="1489.0" y2="2521.2" stroke="#888" stroke-width="2.5"/>
<clipPath id="clipB"><rect x="200.7" y="1994.0" width="2035.8" height="1512.5"/></clipPath><g clip-path="url(#clipB)">
<g fill="none" stroke="#000000" stroke-linejoin="round" stroke-linecap="round"><polyline points="200.7,2656.6 202.7,2656.8 204.7,2663.8 206.7,2668.3 208.7,2666.7 210.7,2663.7 212.7,2662.7 214.7,2664.2 216.7,2666.7 218.7,2666.7 220.7,2665.4 222.7,2666.6 224.7,2667.5 226.7,2665.1 228.7,2662.6 230.7,2662.9 232.7,2662.2 234.7,2659.4 236.7,2659.6 238.7,2662.2 240.7,2663.5 242.7,2664.0 244.7,2664.7 246.7,2666.7 248.7,2667.9 250.7,2665.7 252.7,2661.7 254.7,2662.7 256.7,2667.6 258.7,2669.4 260.7,2669.3 262.7,2666.3 264.7,2663.6 266.7,2663.9 268.7,2664.0 270.7,2666.7 272.7,2670.2 274.7,2672.4 276.7,2673.3 278.7,2670.4 280.7,2666.8 282.7,2664.6 284.7,2664.6 286.7,2665.8 288.7,2665.4 290.7,2665.5 292.7,2665.3 294.7,2667.0 296.7,2668.8 298.7,2666.2 300.7,2666.9 302.7,2670.6 304.7,2670.3 306.7,2667.1 308.7,2667.8 310.7,2673.5 312.7,2674.4 314.7,2670.4 316.7,2668.5 318.7,2667.4 320.7,2666.3 322.7,2668.3 324.7,2671.1 326.7,2670.1 328.7,2668.3 330.7,2668.5 332.7,2666.4 334.7,2665.3 336.7,2668.6 338.7,2671.8 340.7,2671.5 342.7,2669.8 344.7,2670.7 346.7,2671.4 348.7,2669.8 350.7,2668.4 352.7,2668.9 354.7,2670.3 356.7,2669.3 358.7,2666.9 360.7,2667.1 362.7,2669.6 364.7,2671.6 366.7,2671.2 368.7,2669.6 370.7,2670.5 372.7,2671.8 374.7,2669.4 376.7,2667.2 378.7,2668.3 380.7,2669.8 382.7,2669.4 384.7,2668.1 386.7,2668.7 388.7,2670.6 390.7,2671.3 392.7,2669.7 394.7,2668.1 396.7,2669.8 398.7,2671.1 400.7,2670.9 402.7,2672.2 404.7,2672.3 406.7,2670.4 408.7,2669.6 410.7,2671.0 412.7,2671.1 414.7,2670.7 416.7,2672.4 418.7,2672.6 420.7,2670.9 422.7,2670.2 424.7,2668.5 426.7,2665.2 428.7,2663.9 430.7,2664.8 432.7,2667.1 434.7,2669.1 436.7,2670.3 438.7,2670.6 440.7,2668.1 442.7,2667.2 444.7,2669.7 446.7,2668.6 448.7,2664.5 450.7,2663.7 452.7,2664.5 454.7,2664.9 456.7,2666.8 458.7,2665.3" stroke-width="11.0"/><polyline points="458.7,2665.3 460.7,2661.5 462.7,2663.9 464.7,2665.4 466.7,2661.4 468.7,2658.5 470.7,2658.4 472.7,2662.1 474.7,2665.0 476.7,2662.4" stroke-width="10.5"/><polyline points="476.7,2662.4 478.7,2659.6 480.7,2658.5 482.7,2657.6 484.7,2657.6 486.7,2658.9" stroke-width="10.0"/><polyline points="486.7,2658.9 488.7,2656.5 490.7,2649.2 492.7,2647.8 494.7,2653.1" stroke-width="9.5"/><polyline points="494.7,2653.1 496.7,2652.9 498.7,2647.9 500.7,2646.8" stroke-width="9.0"/><polyline points="500.7,2646.8 502.7,2647.8 504.7,2646.7 506.7,2644.1 508.7,2641.3 510.7,2639.1" stroke-width="8.5"/><polyline points="510.7,2639.1 512.7,2637.2 514.7,2633.6 516.7,2629.4 518.7,2625.4 520.7,2622.4 522.7,2620.5 524.7,2617.0 526.7,2611.6" stroke-width="8.0"/><polyline points="526.7,2611.6 528.7,2606.7 530.7,2602.5 532.7,2595.9 534.7,2585.7 536.7,2577.5 538.7,2573.8 540.7,2571.5 542.7,2568.1 544.7,2560.8 546.7,2552.9 548.7,2544.8 550.7,2533.6 552.7,2525.0 554.7,2518.6 556.7,2510.4 558.7,2503.4 560.7,2498.2 562.7,2494.3" stroke-width="7.5"/><polyline points="562.7,2494.3 564.7,2489.9 566.7,2485.5" stroke-width="8.0"/><polyline points="566.7,2485.5 568.7,2487.5 570.7,2490.7 572.7,2489.5" stroke-width="8.5"/><polyline points="572.7,2489.5 574.7,2491.5 576.7,2497.7" stroke-width="8.0"/><polyline points="576.7,2497.7 578.7,2504.2 580.7,2510.3 582.7,2516.6 584.7,2524.9 586.7,2531.2 588.7,2535.8 590.7,2545.3 592.7,2554.2 594.7,2558.7 596.7,2565.8 598.7,2574.8 600.7,2581.0 602.7,2587.7 604.7,2594.9 606.7,2598.3 608.7,2600.2 610.7,2604.8" stroke-width="7.5"/><polyline points="610.7,2604.8 612.7,2607.4 614.7,2609.7 616.7,2616.5 618.7,2621.4 620.7,2623.1 622.7,2625.9" stroke-width="8.0"/><polyline points="622.7,2625.9 624.7,2628.3 626.7,2627.7 628.7,2627.6" stroke-width="8.5"/><polyline points="628.7,2627.6 630.7,2629.7" stroke-width="9.0"/><polyline points="630.7,2629.7 632.7,2629.2 634.7,2628.6" stroke-width="9.5"/><polyline points="634.7,2628.6 636.7,2632.4" stroke-width="10.0"/><polyline points="636.7,2632.4 638.7,2636.5 640.7,2638.1" stroke-width="10.5"/><polyline points="640.7,2638.1 642.7,2637.5 644.7,2635.7 646.7,2634.5" stroke-width="11.0"/><polyline points="646.7,2634.5 648.7,2632.8 650.7,2632.0" stroke-width="10.5"/><polyline points="650.7,2632.0 652.7,2632.4" stroke-width="10.0"/><polyline points="652.7,2632.4 654.7,2629.8 656.7,2627.0" stroke-width="9.5"/><polyline points="656.7,2627.0 658.7,2627.4 660.7,2628.4 662.7,2628.6 664.7,2626.0" stroke-width="9.0"/><polyline points="664.7,2626.0 666.7,2621.4 668.7,2618.9 670.7,2619.8 672.7,2618.1 674.7,2613.4 676.7,2610.5 678.7,2610.7" stroke-width="8.5"/><polyline points="678.7,2610.7 680.7,2611.3 682.7,2609.4" stroke-width="9.0"/><polyline points="682.7,2609.4 684.7,2607.9" stroke-width="9.5"/><polyline points="684.7,2607.9 686.7,2608.7" stroke-width="10.0"/><polyline points="686.7,2608.7 688.7,2612.0 690.7,2613.1 692.7,2610.5 694.7,2608.2" stroke-width="10.5"/><polyline points="694.7,2608.2 696.7,2608.7" stroke-width="9.5"/><polyline points="696.7,2608.7 698.7,2611.7 700.7,2612.7" stroke-width="9.0"/><polyline points="700.7,2612.7 702.7,2613.8 704.7,2618.1 706.7,2620.5" stroke-width="8.5"/><polyline points="706.7,2620.5 708.7,2621.1 710.7,2624.0 712.7,2628.2 714.7,2631.0 716.7,2632.8 718.7,2633.3 720.7,2635.6 722.7,2641.0" stroke-width="8.0"/><polyline points="722.7,2641.0 724.7,2642.0 726.7,2642.1 728.7,2644.3 730.7,2644.9 732.7,2644.6" stroke-width="8.5"/><polyline points="732.7,2644.6 734.7,2644.8 736.7,2647.7 738.7,2650.7" stroke-width="9.0"/><polyline points="738.7,2650.7 740.7,2653.9 742.7,2657.9" stroke-width="9.5"/><polyline points="742.7,2657.9 744.7,2658.4 746.7,2657.6" stroke-width="10.0"/><polyline points="746.7,2657.6 748.7,2660.2" stroke-width="10.5"/><polyline points="748.7,2660.2 750.7,2662.2 752.7,2659.4 754.7,2655.2 756.7,2655.5 758.7,2656.2" stroke-width="11.0"/><polyline points="758.7,2656.2 760.7,2654.8 762.7,2655.7 764.7,2657.8" stroke-width="10.5"/><polyline points="764.7,2657.8 766.7,2658.3 768.7,2656.0 770.7,2653.2" stroke-width="10.0"/><polyline points="770.7,2653.2 772.7,2650.0 774.7,2647.6 776.7,2647.5 778.7,2647.5 780.7,2648.6 782.7,2648.5 784.7,2645.9 786.7,2643.6 788.7,2642.0 790.7,2640.4 792.7,2639.9 794.7,2640.2" stroke-width="9.5"/><polyline points="794.7,2640.2 796.7,2639.5 798.7,2638.0 800.7,2636.5" stroke-width="10.0"/><polyline points="800.7,2636.5 802.7,2635.3 804.7,2637.6" stroke-width="10.5"/><polyline points="804.7,2637.6 806.7,2640.2 808.7,2638.2 810.7,2635.7 812.7,2634.2 814.7,2633.9 816.7,2636.6" stroke-width="11.0"/><polyline points="816.7,2636.6 818.7,2638.8 820.7,2638.3" stroke-width="10.5"/><polyline points="820.7,2638.3 822.7,2637.7 824.7,2638.5 826.7,2640.5" stroke-width="10.0"/><polyline points="826.7,2640.5 828.7,2642.5 830.7,2643.3 832.7,2644.0 834.7,2643.4 836.7,2643.6" stroke-width="9.5"/><polyline points="836.7,2643.6 838.7,2646.3 840.7,2648.0 842.7,2649.6 844.7,2651.0 846.7,2650.5 848.7,2652.1 850.7,2654.3 852.7,2655.4 854.7,2656.4 856.7,2655.6 858.7,2656.9 860.7,2661.3 862.7,2665.0 864.7,2667.5 866.7,2668.2 868.7,2668.5 870.7,2670.0 872.7,2670.3 874.7,2670.3 876.7,2672.6 878.7,2674.9 880.7,2675.0" stroke-width="9.0"/><polyline points="880.7,2675.0 882.7,2675.4 884.7,2679.4 886.7,2682.5 888.7,2683.9 890.7,2684.1 892.7,2680.7 894.7,2680.2" stroke-width="9.5"/><polyline points="894.7,2680.2 896.7,2683.5 898.7,2685.5 900.7,2686.2 902.7,2687.1 904.7,2687.4 906.7,2687.8" stroke-width="10.0"/><polyline points="906.7,2687.8 908.7,2690.6 910.7,2691.2 912.7,2688.2 914.7,2686.8 916.7,2687.2 918.7,2688.1 920.7,2689.9 922.7,2691.3 924.7,2690.9" stroke-width="10.5"/><polyline points="924.7,2690.9 926.7,2689.6 928.7,2690.5 930.7,2692.3 932.7,2693.2 934.7,2693.8 936.7,2693.6 938.7,2692.0 940.7,2690.4 942.7,2692.9 944.7,2696.6 946.7,2696.7 948.7,2693.5 950.7,2691.0 952.7,2693.0 954.7,2694.4 956.7,2691.3 958.7,2690.1" stroke-width="11.0"/><polyline points="958.7,2690.1 960.7,2691.8 962.7,2691.1 964.7,2690.9 966.7,2692.4" stroke-width="10.5"/><polyline points="966.7,2692.4 968.7,2692.4 970.7,2688.5 972.7,2683.9" stroke-width="10.0"/><polyline points="972.7,2683.9 974.7,2683.2 976.7,2683.4 978.7,2682.6" stroke-width="9.5"/><polyline points="978.7,2682.6 980.7,2683.1 982.7,2682.7 984.7,2679.8" stroke-width="9.0"/><polyline points="984.7,2679.8 986.7,2678.7 988.7,2677.5 990.7,2674.7 992.7,2671.6 994.7,2668.0" stroke-width="8.5"/><polyline points="994.7,2668.0 996.7,2666.7 998.7,2666.6 1000.7,2663.3 1002.7,2659.2 1004.7,2656.9 1006.7,2653.5 1008.7,2649.8 1010.7,2647.4 1012.7,2646.3 1014.7,2642.8 1016.7,2634.6 1018.7,2628.4 1020.7,2629.3 1022.7,2630.7 1024.7,2626.9 1026.7,2621.4 1028.7,2616.6 1030.7,2614.6" stroke-width="8.0"/><polyline points="1030.7,2614.6 1032.7,2616.3 1034.7,2617.1 1036.7,2613.9" stroke-width="8.5"/><polyline points="1036.7,2613.9 1038.7,2610.5" stroke-width="9.0"/><polyline points="1038.7,2610.5 1040.7,2611.0" stroke-width="9.5"/><polyline points="1040.7,2611.0 1042.7,2611.4" stroke-width="10.0"/><polyline points="1042.7,2611.4 1044.7,2608.5 1046.7,2605.9" stroke-width="10.5"/><polyline points="1046.7,2605.9 1048.7,2605.7 1050.7,2606.2 1052.7,2605.5 1054.7,2603.8" stroke-width="11.0"/><polyline points="1054.7,2603.8 1056.7,2604.2 1058.7,2605.0 1060.7,2605.3 1062.7,2608.9 1064.7,2611.2 1066.7,2610.2 1068.7,2610.2 1070.7,2612.2" stroke-width="10.5"/><polyline points="1070.7,2612.2 1072.7,2614.8 1074.7,2616.2 1076.7,2616.9" stroke-width="10.0"/><polyline points="1076.7,2616.9 1078.7,2617.1" stroke-width="9.5"/><polyline points="1078.7,2617.1 1080.7,2617.9 1082.7,2620.5" stroke-width="9.0"/><polyline points="1082.7,2620.5 1084.7,2624.8 1086.7,2628.3 1088.7,2627.7" stroke-width="8.5"/><polyline points="1088.7,2627.7 1090.7,2626.3 1092.7,2627.5 1094.7,2631.0 1096.7,2636.2 1098.7,2639.8 1100.7,2641.4 1102.7,2645.3 1104.7,2651.3 1106.7,2655.7 1108.7,2659.8 1110.7,2664.8 1112.7,2667.1 1114.7,2667.1 1116.7,2669.1 1118.7,2673.1 1120.7,2675.3 1122.7,2675.6 1124.7,2677.9" stroke-width="8.0"/><polyline points="1124.7,2677.9 1126.7,2684.7 1128.7,2689.2 1130.7,2688.0 1132.7,2687.5 1134.7,2688.7" stroke-width="8.5"/><polyline points="1134.7,2688.7 1136.7,2690.7 1138.7,2693.5 1140.7,2694.6" stroke-width="9.0"/><polyline points="1140.7,2694.6 1142.7,2693.3 1144.7,2692.4" stroke-width="9.5"/><polyline points="1144.7,2692.4 1146.7,2693.9 1148.7,2695.4 1150.7,2697.7" stroke-width="10.0"/><polyline points="1150.7,2697.7 1152.7,2699.4 1154.7,2696.3 1156.7,2695.0 1158.7,2698.3" stroke-width="10.5"/><polyline points="1158.7,2698.3 1160.7,2700.4 1162.7,2699.1 1164.7,2699.0 1166.7,2702.5 1168.7,2703.7 1170.7,2702.1 1172.7,2702.9 1174.7,2703.5 1176.7,2700.6 1178.7,2698.8 1180.7,2699.6 1182.7,2701.3 1184.7,2701.8 1186.7,2702.9 1188.7,2706.0 1190.7,2705.6 1192.7,2702.6 1194.7,2701.3 1196.7,2699.5 1198.7,2698.3 1200.7,2700.4 1202.7,2701.8 1204.7,2701.9 1206.7,2702.5 1208.7,2701.6 1210.7,2699.8 1212.7,2699.6 1214.7,2699.7 1216.7,2698.1 1218.7,2698.0 1220.7,2700.5 1222.7,2701.3 1224.7,2699.0 1226.7,2699.5 1228.7,2701.0 1230.7,2700.8 1232.7,2701.0 1234.7,2700.2 1236.7,2700.1 1238.7,2701.3 1240.7,2700.1 1242.7,2698.7 1244.7,2698.9 1246.7,2699.3 1248.7,2699.7 1250.7,2698.2 1252.7,2696.9" stroke-width="11.0"/><polyline points="1252.7,2696.9 1254.7,2697.3 1256.7,2699.0 1258.7,2699.2 1260.7,2697.5 1262.7,2694.0 1264.7,2689.7 1266.7,2690.2 1268.7,2692.4 1270.7,2692.3" stroke-width="10.5"/><polyline points="1270.7,2692.3 1272.7,2692.1 1274.7,2693.6 1276.7,2694.2 1278.7,2691.3 1280.7,2688.7" stroke-width="10.0"/><polyline points="1280.7,2688.7 1282.7,2688.6 1284.7,2688.9 1286.7,2688.2" stroke-width="9.5"/><polyline points="1286.7,2688.2 1288.7,2687.3 1290.7,2686.4 1292.7,2683.6 1294.7,2680.0" stroke-width="9.0"/><polyline points="1294.7,2680.0 1296.7,2678.0 1298.7,2677.0 1300.7,2675.8 1302.7,2674.0 1304.7,2670.9 1306.7,2668.4" stroke-width="8.5"/><polyline points="1306.7,2668.4 1308.7,2665.0 1310.7,2657.4 1312.7,2652.6 1314.7,2654.5 1316.7,2654.2 1318.7,2650.1" stroke-width="8.0"/><polyline points="1318.7,2650.1 1320.7,2648.5 1322.7,2648.8 1324.7,2645.7" stroke-width="8.5"/><polyline points="1324.7,2645.7 1326.7,2644.1" stroke-width="9.0"/><polyline points="1326.7,2644.1 1328.7,2645.9" stroke-width="9.5"/><polyline points="1328.7,2645.9 1330.7,2643.8" stroke-width="10.0"/><polyline points="1330.7,2643.8 1332.7,2642.3" stroke-width="10.5"/><polyline points="1332.7,2642.3 1334.7,2643.6 1336.7,2643.9" stroke-width="10.0"/><polyline points="1336.7,2643.9 1338.7,2648.1 1340.7,2653.0" stroke-width="9.0"/><polyline points="1340.7,2653.0 1342.7,2653.7 1344.7,2654.4 1346.7,2656.5" stroke-width="8.5"/><polyline points="1346.7,2656.5 1348.7,2656.6 1350.7,2657.4 1352.7,2662.2 1354.7,2666.0" stroke-width="8.0"/><polyline points="1354.7,2666.0 1356.7,2666.6 1358.7,2668.0 1360.7,2671.0 1362.7,2674.7 1364.7,2678.0 1366.7,2679.3" stroke-width="8.5"/><polyline points="1366.7,2679.3 1368.7,2679.3 1370.7,2678.4 1372.7,2677.6 1374.7,2679.6" stroke-width="9.0"/><polyline points="1374.7,2679.6 1376.7,2683.5 1378.7,2686.1 1380.7,2685.6" stroke-width="9.5"/><polyline points="1380.7,2685.6 1382.7,2685.4 1384.7,2687.3 1386.7,2688.0 1388.7,2689.6 1390.7,2690.6" stroke-width="10.0"/><polyline points="1390.7,2690.6 1392.7,2690.4 1394.7,2690.3 1396.7,2688.6 1398.7,2687.9 1400.7,2689.9 1402.7,2693.1 1404.7,2696.2 1406.7,2698.2" stroke-width="10.5"/><polyline points="1406.7,2698.2 1408.7,2697.0 1410.7,2693.2 1412.7,2690.4 1414.7,2691.2 1416.7,2693.0 1418.7,2694.3 1420.7,2695.3 1422.7,2694.0 1424.7,2692.5 1426.7,2692.3 1428.7,2690.9 1430.7,2691.5 1432.7,2696.0 1434.7,2698.2 1436.7,2696.6 1438.7,2694.1 1440.7,2695.3 1442.7,2700.6 1444.7,2700.6 1446.7,2696.6 1448.7,2696.0 1450.7,2698.9 1452.7,2700.7 1454.7,2698.3 1456.7,2696.0 1458.7,2695.5 1460.7,2697.7 1462.7,2700.5 1464.7,2699.3 1466.7,2699.6 1468.7,2702.0 1470.7,2701.2 1472.7,2701.5 1474.7,2700.8 1476.7,2696.5 1478.7,2696.1 1480.7,2698.5 1482.7,2700.3 1484.7,2702.4 1486.7,2700.6 1488.7,2699.1 1490.7,2701.6 1492.7,2700.7 1494.7,2700.6 1496.7,2702.9 1498.7,2702.8 1500.7,2702.2 1502.7,2702.3 1504.7,2703.0 1506.7,2702.2 1508.7,2700.5 1510.7,2701.7 1512.7,2703.7 1514.7,2704.9 1516.7,2703.2 1518.7,2698.7 1520.7,2698.6 1522.7,2701.2 1524.7,2701.8 1526.7,2704.3 1528.7,2705.8 1530.7,2704.2 1532.7,2701.4 1534.7,2700.3 1536.7,2702.5 1538.7,2703.7 1540.7,2704.4 1542.7,2704.7 1544.7,2703.4 1546.7,2701.4 1548.7,2697.7 1550.7,2695.7 1552.7,2698.3 1554.7,2699.7 1556.7,2698.3" stroke-width="11.0"/><polyline points="1556.7,2698.3 1558.7,2696.5 1560.7,2696.6 1562.7,2697.8 1564.7,2697.5" stroke-width="10.5"/><polyline points="1564.7,2697.5 1566.7,2696.8 1568.7,2699.3" stroke-width="10.0"/><polyline points="1568.7,2699.3 1570.7,2701.3 1572.7,2696.7" stroke-width="9.5"/><polyline points="1572.7,2696.7 1574.7,2692.2 1576.7,2691.6" stroke-width="9.0"/><polyline points="1576.7,2691.6 1578.7,2692.4 1580.7,2691.3 1582.7,2686.7" stroke-width="8.5"/><polyline points="1582.7,2686.7 1584.7,2681.7 1586.7,2678.1 1588.7,2676.6 1590.7,2673.0 1592.7,2669.2 1594.7,2666.6 1596.7,2661.0 1598.7,2656.5 1600.7,2653.5 1602.7,2651.1 1604.7,2648.2 1606.7,2644.1 1608.7,2644.8" stroke-width="8.0"/><polyline points="1608.7,2644.8 1610.7,2645.4" stroke-width="8.5"/><polyline points="1610.7,2645.4 1612.7,2642.7" stroke-width="9.0"/><polyline points="1612.7,2642.7 1614.7,2642.6" stroke-width="9.5"/><polyline points="1614.7,2642.6 1616.7,2643.7 1618.7,2643.9" stroke-width="10.0"/><polyline points="1618.7,2643.9 1620.7,2644.6" stroke-width="9.5"/><polyline points="1620.7,2644.6 1622.7,2645.3 1624.7,2646.6" stroke-width="8.5"/><polyline points="1624.7,2646.6 1626.7,2648.6 1628.7,2652.4 1630.7,2659.0 1632.7,2661.9 1634.7,2664.1 1636.7,2670.0 1638.7,2673.6 1640.7,2676.6 1642.7,2679.4 1644.7,2681.8 1646.7,2685.9 1648.7,2690.4 1650.7,2692.6 1652.7,2693.8" stroke-width="8.0"/><polyline points="1652.7,2693.8 1654.7,2697.9 1656.7,2700.6 1658.7,2700.6 1660.7,2701.1" stroke-width="8.5"/><polyline points="1660.7,2701.1 1662.7,2703.1 1664.7,2705.4" stroke-width="9.0"/><polyline points="1664.7,2705.4 1666.7,2706.4 1668.7,2708.0" stroke-width="9.5"/><polyline points="1668.7,2708.0 1670.7,2711.0 1672.7,2712.3 1674.7,2711.7" stroke-width="10.0"/><polyline points="1674.7,2711.7 1676.7,2710.4 1678.7,2711.2 1680.7,2714.0 1682.7,2712.8 1684.7,2710.7" stroke-width="10.5"/><polyline points="1684.7,2710.7 1686.7,2710.0 1688.7,2708.5 1690.7,2709.9 1692.7,2712.2 1694.7,2712.6 1696.7,2713.4 1698.7,2714.8 1700.7,2716.7 1702.7,2715.4 1704.7,2713.3 1706.7,2714.3 1708.7,2714.3 1710.7,2713.6 1712.7,2714.2 1714.7,2712.1 1716.7,2708.2 1718.7,2710.2 1720.7,2713.6 1722.7,2714.2 1724.7,2715.4 1726.7,2715.2 1728.7,2713.5 1730.7,2713.0 1732.7,2714.8 1734.7,2718.4 1736.7,2718.4 1738.7,2715.3 1740.7,2713.5 1742.7,2710.7 1744.7,2708.5 1746.7,2710.6 1748.7,2713.8 1750.7,2715.1 1752.7,2716.5 1754.7,2718.6 1756.7,2718.3 1758.7,2715.4 1760.7,2713.2 1762.7,2713.6 1764.7,2715.5 1766.7,2716.4 1768.7,2715.9 1770.7,2714.0 1772.7,2711.9 1774.7,2712.7 1776.7,2712.4 1778.7,2709.8 1780.7,2710.4 1782.7,2712.9 1784.7,2714.4 1786.7,2712.9 1788.7,2710.9 1790.7,2714.0 1792.7,2717.6 1794.7,2716.1 1796.7,2712.2 1798.7,2712.3 1800.7,2714.6 1802.7,2712.9 1804.7,2709.6 1806.7,2710.3 1808.7,2713.6 1810.7,2711.9" stroke-width="11.0"/><polyline points="1810.7,2711.9 1812.7,2708.3 1814.7,2709.1 1816.7,2711.8 1818.7,2713.0 1820.7,2710.7 1822.7,2708.6 1824.7,2709.0 1826.7,2708.8 1828.7,2708.4 1830.7,2707.9 1832.7,2706.5 1834.7,2704.1 1836.7,2703.2 1838.7,2704.9 1840.7,2704.9 1842.7,2704.4 1844.7,2704.2 1846.7,2703.5 1848.7,2704.2 1850.7,2704.8 1852.7,2704.3 1854.7,2703.5 1856.7,2703.8 1858.7,2702.9 1860.7,2698.3 1862.7,2695.3 1864.7,2696.7 1866.7,2697.3 1868.7,2695.5 1870.7,2696.1 1872.7,2699.1" stroke-width="10.5"/><polyline points="1872.7,2699.1 1874.7,2699.6 1876.7,2697.8 1878.7,2697.7 1880.7,2696.8 1882.7,2694.6 1884.7,2695.3 1886.7,2696.9 1888.7,2696.9 1890.7,2695.5 1892.7,2693.8 1894.7,2693.7 1896.7,2693.1 1898.7,2693.0 1900.7,2695.0 1902.7,2694.8 1904.7,2694.7 1906.7,2695.7 1908.7,2694.0 1910.7,2695.3" stroke-width="11.0"/><polyline points="1910.7,2695.3 1912.7,2699.6 1914.7,2701.2 1916.7,2700.5 1918.7,2699.2 1920.7,2697.6 1922.7,2695.8 1924.7,2698.0 1926.7,2702.8 1928.7,2703.7 1930.7,2703.5 1932.7,2705.2 1934.7,2704.8 1936.7,2702.8 1938.7,2704.1 1940.7,2705.1 1942.7,2704.7 1944.7,2705.7 1946.7,2707.2 1948.7,2709.2 1950.7,2709.8 1952.7,2707.8 1954.7,2707.7 1956.7,2710.1 1958.7,2710.7 1960.7,2709.6 1962.7,2710.0 1964.7,2712.3 1966.7,2714.4 1968.7,2715.1 1970.7,2715.9 1972.7,2715.3 1974.7,2714.2 1976.7,2714.9 1978.7,2715.5 1980.7,2715.2 1982.7,2715.5" stroke-width="10.5"/><polyline points="1982.7,2715.5 1984.7,2717.0 1986.7,2719.1 1988.7,2718.2 1990.7,2716.1 1992.7,2718.2 1994.7,2719.5 1996.7,2718.0 1998.7,2717.8 2000.7,2717.5 2002.7,2718.1 2004.7,2720.7 2006.7,2721.2 2008.7,2719.7 2010.7,2717.6 2012.7,2713.9 2014.7,2712.0 2016.7,2712.8 2018.7,2713.5 2020.7,2716.6 2022.7,2721.3 2024.7,2723.6 2026.7,2723.9 2028.7,2721.9 2030.7,2718.3 2032.7,2717.0 2034.7,2720.3 2036.7,2721.7 2038.7,2719.2 2040.7,2720.2 2042.7,2719.9 2044.7,2716.7 2046.7,2716.2 2048.7,2716.8 2050.7,2716.0 2052.7,2715.9 2054.7,2718.2 2056.7,2719.3 2058.7,2717.9 2060.7,2717.2 2062.7,2718.1 2064.7,2719.5 2066.7,2719.0 2068.7,2719.9 2070.7,2722.4 2072.7,2723.4 2074.7,2724.4 2076.7,2723.8 2078.7,2721.1 2080.7,2719.4 2082.7,2720.7 2084.7,2721.4 2086.7,2718.8 2088.7,2716.7 2090.7,2717.0 2092.7,2718.0 2094.7,2718.2 2096.7,2719.4 2098.7,2721.2 2100.7,2721.7 2102.7,2720.9 2104.7,2719.6 2106.7,2717.6 2108.7,2718.6 2110.7,2721.7 2112.7,2721.4 2114.7,2720.9 2116.7,2720.8 2118.7,2720.0 2120.7,2722.3 2122.7,2724.9 2124.7,2724.2 2126.7,2721.8 2128.7,2720.5 2130.7,2720.1 2132.7,2718.2 2134.7,2717.7 2136.7,2718.3 2138.7,2716.7 2140.7,2716.8 2142.7,2717.4 2144.7,2716.4 2146.7,2718.6 2148.7,2721.2 2150.7,2721.8 2152.7,2722.4 2154.7,2720.0 2156.7,2717.4 2158.7,2717.9 2160.7,2719.4 2162.7,2720.8 2164.7,2719.4 2166.7,2719.0 2168.7,2720.7 2170.7,2719.4 2172.7,2717.9 2174.7,2718.9 2176.7,2719.4 2178.7,2716.8 2180.7,2715.5 2182.7,2717.5 2184.7,2718.2 2186.7,2716.8 2188.7,2717.7 2190.7,2719.4 2192.7,2718.7 2194.7,2718.0 2196.7,2717.3 2198.7,2716.4 2200.7,2715.0 2202.7,2714.8 2204.7,2717.7 2206.7,2718.8 2208.7,2718.7 2210.7,2720.2 2212.7,2720.2 2214.7,2719.3 2216.7,2716.6 2218.7,2714.9 2220.7,2716.2 2222.7,2717.0 2224.7,2717.0 2226.7,2717.8 2228.7,2720.1 2230.7,2720.7 2232.7,2721.3 2234.7,2722.8" stroke-width="11.0"/></g>
<g fill="none" stroke="#ff0000" stroke-linejoin="round" stroke-linecap="round"><polyline points="200.7,2790.6 202.7,2789.8 204.7,2787.2 206.7,2785.8 208.7,2789.0 210.7,2792.6 212.7,2792.3 214.7,2792.1 216.7,2795.2 218.7,2795.3 220.7,2791.5 222.7,2790.7 224.7,2791.7 226.7,2791.0 228.7,2791.7 230.7,2793.8 232.7,2793.1 234.7,2790.3 236.7,2789.0 238.7,2789.3 240.7,2790.3 242.7,2790.5 244.7,2790.8 246.7,2791.8 248.7,2791.6 250.7,2789.3 252.7,2786.4 254.7,2786.4 256.7,2788.9 258.7,2790.3 260.7,2791.2 262.7,2793.1 264.7,2792.9 266.7,2791.8 268.7,2792.0 270.7,2792.9 272.7,2792.7 274.7,2792.4 276.7,2792.8 278.7,2791.7 280.7,2791.4 282.7,2791.3 284.7,2791.5 286.7,2792.6 288.7,2793.7 290.7,2793.9 292.7,2792.4 294.7,2792.4 296.7,2794.7 298.7,2796.9 300.7,2796.6 302.7,2795.5 304.7,2795.7 306.7,2793.8 308.7,2791.3 310.7,2792.6 312.7,2793.6 314.7,2793.2 316.7,2794.2 318.7,2793.1 320.7,2791.4 322.7,2790.7 324.7,2789.0 326.7,2788.5 328.7,2789.9 330.7,2791.0 332.7,2789.3 334.7,2788.7 336.7,2790.7 338.7,2790.8 340.7,2789.8 342.7,2791.2 344.7,2793.3 346.7,2792.5 348.7,2793.2 350.7,2796.5 352.7,2796.8 354.7,2796.5 356.7,2796.5 358.7,2794.4 360.7,2791.2 362.7,2790.8 364.7,2792.5 366.7,2792.4 368.7,2792.9 370.7,2791.9 372.7,2788.7 374.7,2790.7 376.7,2793.8 378.7,2792.5 380.7,2791.9 382.7,2792.8 384.7,2793.0 386.7,2791.9 388.7,2790.8 390.7,2791.1 392.7,2792.4 394.7,2793.3 396.7,2792.2 398.7,2791.4 400.7,2792.4 402.7,2793.4 404.7,2793.3 406.7,2792.3 408.7,2790.8 410.7,2789.5 412.7,2789.3 414.7,2789.9 416.7,2789.6 418.7,2787.9 420.7,2788.1 422.7,2790.0 424.7,2790.1 426.7,2788.7 428.7,2787.6 430.7,2788.0 432.7,2789.3 434.7,2789.0 436.7,2788.3 438.7,2788.2 440.7,2788.5 442.7,2789.0 444.7,2788.1 446.7,2786.4 448.7,2786.4 450.7,2786.6 452.7,2788.4 454.7,2789.0 456.7,2785.3 458.7,2784.2 460.7,2784.2 462.7,2785.6 464.7,2789.2 466.7,2789.6 468.7,2789.2 470.7,2789.0 472.7,2789.0 474.7,2788.2" stroke-width="11.0"/><polyline points="474.7,2788.2 476.7,2786.3 478.7,2785.4 480.7,2783.9 482.7,2784.4 484.7,2785.5 486.7,2782.6 488.7,2783.0 490.7,2785.8 492.7,2783.7 494.7,2782.9" stroke-width="10.5"/><polyline points="494.7,2782.9 496.7,2783.3 498.7,2780.1 500.7,2779.5 502.7,2781.1 504.7,2779.4 506.7,2776.9" stroke-width="10.0"/><polyline points="506.7,2776.9 508.7,2775.9 510.7,2774.1 512.7,2771.7 514.7,2772.4 516.7,2774.0" stroke-width="9.5"/><polyline points="516.7,2774.0 518.7,2772.1 520.7,2769.2 522.7,2769.7 524.7,2770.0 526.7,2766.7" stroke-width="9.0"/><polyline points="526.7,2766.7 528.7,2763.4 530.7,2759.1 532.7,2756.2 534.7,2755.8 536.7,2753.2 538.7,2750.8 540.7,2750.0 542.7,2748.3 544.7,2746.9 546.7,2745.9 548.7,2743.0 550.7,2739.0 552.7,2736.8 554.7,2735.5 556.7,2731.0" stroke-width="8.5"/><polyline points="556.7,2731.0 558.7,2727.3 560.7,2729.0" stroke-width="9.0"/><polyline points="560.7,2729.0 562.7,2731.6" stroke-width="9.5"/><polyline points="562.7,2731.6 564.7,2732.5" stroke-width="10.0"/><polyline points="564.7,2732.5 566.7,2732.8 568.7,2732.2 570.7,2731.8 572.7,2731.6" stroke-width="10.5"/><polyline points="572.7,2731.6 574.7,2731.2" stroke-width="10.0"/><polyline points="574.7,2731.2 576.7,2732.0" stroke-width="9.5"/><polyline points="576.7,2732.0 578.7,2734.3" stroke-width="9.0"/><polyline points="578.7,2734.3 580.7,2736.2 582.7,2737.3 584.7,2739.9 586.7,2743.3 588.7,2745.3 590.7,2747.0 592.7,2748.2 594.7,2748.6 596.7,2750.1 598.7,2754.5 600.7,2759.7 602.7,2762.3 604.7,2763.4 606.7,2765.3" stroke-width="8.5"/><polyline points="606.7,2765.3 608.7,2764.8 610.7,2762.6 612.7,2765.5 614.7,2771.3" stroke-width="9.0"/><polyline points="614.7,2771.3 616.7,2773.8 618.7,2774.2 620.7,2775.9" stroke-width="9.5"/><polyline points="620.7,2775.9 622.7,2776.1 624.7,2773.5" stroke-width="10.0"/><polyline points="624.7,2773.5 626.7,2771.2 628.7,2771.5 630.7,2773.6" stroke-width="10.5"/><polyline points="630.7,2773.6 632.7,2774.8 634.7,2775.2 636.7,2776.0 638.7,2775.9 640.7,2775.1 642.7,2774.8" stroke-width="11.0"/><polyline points="642.7,2774.8 644.7,2772.6 646.7,2768.8 648.7,2768.7" stroke-width="10.5"/><polyline points="648.7,2768.7 650.7,2771.6 652.7,2772.3 654.7,2770.4 656.7,2768.7 658.7,2768.5" stroke-width="10.0"/><polyline points="658.7,2768.5 660.7,2768.2 662.7,2765.2 664.7,2762.3" stroke-width="9.5"/><polyline points="664.7,2762.3 666.7,2763.8 668.7,2765.1 670.7,2765.4 672.7,2764.7" stroke-width="10.0"/><polyline points="672.7,2764.7 674.7,2759.4 676.7,2759.7" stroke-width="10.5"/><polyline points="676.7,2759.7 678.7,2764.1 680.7,2759.8 682.7,2755.4 684.7,2758.7" stroke-width="11.0"/><polyline points="684.7,2758.7 686.7,2761.8 688.7,2761.2" stroke-width="10.5"/><polyline points="688.7,2761.2 690.7,2762.2 692.7,2766.4" stroke-width="10.0"/><polyline points="692.7,2766.4 694.7,2769.4 696.7,2769.3" stroke-width="9.5"/><polyline points="696.7,2769.3 698.7,2768.2 700.7,2768.9 702.7,2773.4 704.7,2775.9 706.7,2772.5 708.7,2771.4 710.7,2774.9 712.7,2778.7 714.7,2780.1 716.7,2779.7 718.7,2781.4 720.7,2784.6" stroke-width="9.0"/><polyline points="720.7,2784.6 722.7,2786.5 724.7,2787.0 726.7,2787.2 728.7,2787.4" stroke-width="9.5"/><polyline points="728.7,2787.4 730.7,2788.4 732.7,2790.3 734.7,2789.3" stroke-width="10.0"/><polyline points="734.7,2789.3 736.7,2788.5 738.7,2789.8 740.7,2789.5 742.7,2789.5" stroke-width="10.5"/><polyline points="742.7,2789.5 744.7,2790.2 746.7,2791.6 748.7,2792.9 750.7,2792.0 752.7,2791.1 754.7,2788.8 756.7,2785.2 758.7,2785.3 760.7,2787.3 762.7,2788.0 764.7,2788.3 766.7,2788.4 768.7,2788.6 770.7,2790.5 772.7,2791.6" stroke-width="11.0"/><polyline points="772.7,2791.6 774.7,2788.4 776.7,2783.6 778.7,2783.3 780.7,2786.9 782.7,2789.0 784.7,2787.7 786.7,2784.5 788.7,2783.5 790.7,2784.4 792.7,2785.0" stroke-width="10.5"/><polyline points="792.7,2785.0 794.7,2785.9 796.7,2786.3 798.7,2784.6 800.7,2782.8 802.7,2783.0 804.7,2784.8 806.7,2786.2 808.7,2784.7 810.7,2781.9 812.7,2780.3 814.7,2781.1 816.7,2782.5 818.7,2782.7 820.7,2783.9 822.7,2786.0 824.7,2786.0 826.7,2784.7 828.7,2783.8 830.7,2784.0" stroke-width="11.0"/><polyline points="830.7,2784.0 832.7,2784.7 834.7,2785.4 836.7,2786.0 838.7,2786.2 840.7,2787.3 842.7,2789.6 844.7,2790.2 846.7,2790.4 848.7,2790.2 850.7,2787.9 852.7,2786.4 854.7,2787.0 856.7,2789.7 858.7,2792.9 860.7,2795.1 862.7,2795.2 864.7,2793.6 866.7,2793.3 868.7,2792.6 870.7,2791.8 872.7,2794.4 874.7,2798.2 876.7,2800.0 878.7,2800.6 880.7,2800.6 882.7,2801.2 884.7,2802.0 886.7,2801.9 888.7,2802.3 890.7,2803.1 892.7,2802.9 894.7,2802.4 896.7,2802.1 898.7,2800.6 900.7,2799.5 902.7,2802.5 904.7,2806.4" stroke-width="10.5"/><polyline points="904.7,2806.4 906.7,2805.1 908.7,2802.7 910.7,2804.3 912.7,2808.0 914.7,2807.6 916.7,2802.6 918.7,2799.6 920.7,2800.4 922.7,2802.5 924.7,2805.1 926.7,2808.1 928.7,2808.1 930.7,2808.2 932.7,2809.6 934.7,2807.9 936.7,2807.5 938.7,2807.6 940.7,2805.9 942.7,2806.5 944.7,2807.3 946.7,2807.3 948.7,2807.6 950.7,2806.4 952.7,2805.9 954.7,2806.8 956.7,2806.4 958.7,2805.8 960.7,2805.7 962.7,2806.0 964.7,2804.7" stroke-width="11.0"/><polyline points="964.7,2804.7 966.7,2803.0 968.7,2803.4 970.7,2804.7 972.7,2805.2 974.7,2803.8 976.7,2800.9" stroke-width="10.5"/><polyline points="976.7,2800.9 978.7,2797.6 980.7,2796.1 982.7,2796.2 984.7,2796.6" stroke-width="10.0"/><polyline points="984.7,2796.6 986.7,2797.6 988.7,2799.0 990.7,2799.3 992.7,2796.9 994.7,2791.2" stroke-width="9.5"/><polyline points="994.7,2791.2 996.7,2787.6 998.7,2790.1 1000.7,2792.1 1002.7,2791.4 1004.7,2789.9 1006.7,2785.8 1008.7,2782.8 1010.7,2783.4 1012.7,2782.6 1014.7,2778.8 1016.7,2775.5 1018.7,2775.9 1020.7,2775.3 1022.7,2772.0 1024.7,2771.5 1026.7,2772.0 1028.7,2771.7 1030.7,2768.9 1032.7,2764.9" stroke-width="9.0"/><polyline points="1032.7,2764.9 1034.7,2763.8 1036.7,2762.6 1038.7,2760.2" stroke-width="9.5"/><polyline points="1038.7,2760.2 1040.7,2760.2 1042.7,2760.6" stroke-width="10.0"/><polyline points="1042.7,2760.6 1044.7,2758.7 1046.7,2760.8 1048.7,2764.0" stroke-width="10.5"/><polyline points="1048.7,2764.0 1050.7,2763.8 1052.7,2763.8 1054.7,2764.1 1056.7,2762.6" stroke-width="11.0"/><polyline points="1056.7,2762.6 1058.7,2760.6 1060.7,2761.4" stroke-width="10.5"/><polyline points="1060.7,2761.4 1062.7,2763.4 1064.7,2763.1" stroke-width="10.0"/><polyline points="1064.7,2763.1 1066.7,2761.9 1068.7,2762.8 1070.7,2766.0" stroke-width="9.5"/><polyline points="1070.7,2766.0 1072.7,2768.7 1074.7,2768.6 1076.7,2767.6 1078.7,2769.4 1080.7,2772.6 1082.7,2774.8 1084.7,2775.9" stroke-width="9.0"/><polyline points="1084.7,2775.9 1086.7,2777.0 1088.7,2777.9 1090.7,2780.7 1092.7,2785.0 1094.7,2786.1" stroke-width="8.5"/><polyline points="1094.7,2786.1 1096.7,2785.4 1098.7,2786.8 1100.7,2790.3 1102.7,2794.3 1104.7,2795.2 1106.7,2796.3 1108.7,2796.3 1110.7,2792.8 1112.7,2794.7" stroke-width="9.0"/><polyline points="1112.7,2794.7 1114.7,2799.5 1116.7,2801.2 1118.7,2801.6 1120.7,2801.5 1122.7,2802.6 1124.7,2805.5" stroke-width="9.5"/><polyline points="1124.7,2805.5 1126.7,2809.1 1128.7,2809.5 1130.7,2806.9 1132.7,2805.3" stroke-width="10.0"/><polyline points="1132.7,2805.3 1134.7,2804.2 1136.7,2806.0 1138.7,2808.3 1140.7,2808.4 1142.7,2809.3 1144.7,2811.5 1146.7,2813.4 1148.7,2811.9" stroke-width="10.5"/><polyline points="1148.7,2811.9 1150.7,2808.8 1152.7,2807.8 1154.7,2810.2 1156.7,2814.7 1158.7,2816.7 1160.7,2814.3 1162.7,2812.0 1164.7,2812.5 1166.7,2814.1 1168.7,2815.7 1170.7,2815.5 1172.7,2814.5 1174.7,2813.8 1176.7,2814.2 1178.7,2813.8 1180.7,2812.6 1182.7,2813.8 1184.7,2814.3 1186.7,2813.7 1188.7,2813.8 1190.7,2812.8 1192.7,2812.0 1194.7,2812.9 1196.7,2814.0 1198.7,2814.9 1200.7,2815.1 1202.7,2812.3 1204.7,2810.1 1206.7,2812.0 1208.7,2814.2 1210.7,2812.8 1212.7,2811.5 1214.7,2814.9 1216.7,2817.1 1218.7,2815.9 1220.7,2816.3 1222.7,2817.7 1224.7,2816.0 1226.7,2813.4 1228.7,2813.7 1230.7,2812.6 1232.7,2811.1 1234.7,2812.5 1236.7,2814.2 1238.7,2815.7 1240.7,2814.9 1242.7,2813.0 1244.7,2813.9 1246.7,2813.4 1248.7,2811.5 1250.7,2812.1 1252.7,2813.8 1254.7,2815.3 1256.7,2814.2 1258.7,2811.3 1260.7,2808.6 1262.7,2808.6 1264.7,2812.9 1266.7,2815.3 1268.7,2813.8 1270.7,2812.3 1272.7,2811.0" stroke-width="11.0"/><polyline points="1272.7,2811.0 1274.7,2809.8 1276.7,2810.4 1278.7,2810.9 1280.7,2811.2 1282.7,2811.7 1284.7,2808.8 1286.7,2804.9 1288.7,2804.6" stroke-width="10.5"/><polyline points="1288.7,2804.6 1290.7,2805.9 1292.7,2804.7 1294.7,2802.5 1296.7,2800.7 1298.7,2800.6 1300.7,2800.6 1302.7,2800.6" stroke-width="10.0"/><polyline points="1302.7,2800.6 1304.7,2801.9 1306.7,2800.7 1308.7,2798.8 1310.7,2798.1" stroke-width="9.5"/><polyline points="1310.7,2798.1 1312.7,2798.0 1314.7,2797.7 1316.7,2797.8 1318.7,2796.8" stroke-width="10.0"/><polyline points="1318.7,2796.8 1320.7,2793.3 1322.7,2791.7 1324.7,2791.9" stroke-width="10.5"/><polyline points="1324.7,2791.9 1326.7,2792.0 1328.7,2791.1 1330.7,2790.5 1332.7,2791.6" stroke-width="11.0"/><polyline points="1332.7,2791.6 1334.7,2792.8 1336.7,2793.9 1338.7,2794.2" stroke-width="10.5"/><polyline points="1338.7,2794.2 1340.7,2793.3 1342.7,2792.6 1344.7,2793.5" stroke-width="10.0"/><polyline points="1344.7,2793.5 1346.7,2796.2 1348.7,2799.0 1350.7,2801.2 1352.7,2801.4 1354.7,2800.8 1356.7,2802.5 1358.7,2802.2 1360.7,2800.4" stroke-width="9.5"/><polyline points="1360.7,2800.4 1362.7,2803.3 1364.7,2807.7 1366.7,2809.7 1368.7,2810.4 1370.7,2809.7 1372.7,2809.8 1374.7,2810.7" stroke-width="10.0"/><polyline points="1374.7,2810.7 1376.7,2809.8 1378.7,2810.3 1380.7,2810.9 1382.7,2810.9 1384.7,2810.5 1386.7,2811.2 1388.7,2813.0 1390.7,2811.1" stroke-width="10.5"/><polyline points="1390.7,2811.1 1392.7,2810.6 1394.7,2813.5 1396.7,2816.0 1398.7,2818.1 1400.7,2817.6 1402.7,2816.4 1404.7,2817.0 1406.7,2815.5 1408.7,2811.8 1410.7,2811.0 1412.7,2814.5 1414.7,2818.0 1416.7,2816.7 1418.7,2816.2 1420.7,2818.4 1422.7,2817.9 1424.7,2815.8 1426.7,2814.4 1428.7,2814.6 1430.7,2816.4 1432.7,2818.1 1434.7,2818.9 1436.7,2817.7 1438.7,2815.5 1440.7,2815.5 1442.7,2815.5 1444.7,2815.7 1446.7,2818.7 1448.7,2820.6 1450.7,2817.8 1452.7,2815.3 1454.7,2817.7 1456.7,2819.2 1458.7,2816.6 1460.7,2815.5 1462.7,2816.4 1464.7,2816.6 1466.7,2818.9 1468.7,2821.1 1470.7,2818.9 1472.7,2817.1 1474.7,2817.7 1476.7,2819.0 1478.7,2820.8 1480.7,2819.8 1482.7,2816.8 1484.7,2816.1 1486.7,2819.0 1488.7,2820.3 1490.7,2818.5 1492.7,2818.5 1494.7,2819.8 1496.7,2821.0 1498.7,2821.1 1500.7,2819.5 1502.7,2818.7 1504.7,2818.7 1506.7,2818.9 1508.7,2820.3 1510.7,2818.3 1512.7,2814.4 1514.7,2813.2 1516.7,2813.8 1518.7,2816.6 1520.7,2818.0 1522.7,2818.6 1524.7,2819.4 1526.7,2817.3 1528.7,2816.2 1530.7,2815.7 1532.7,2813.4 1534.7,2812.1 1536.7,2814.8 1538.7,2817.0" stroke-width="11.0"/><polyline points="1538.7,2817.0 1540.7,2816.7 1542.7,2816.8 1544.7,2815.5 1546.7,2813.3 1548.7,2811.9 1550.7,2811.0 1552.7,2811.4" stroke-width="10.5"/><polyline points="1552.7,2811.4 1554.7,2811.6 1556.7,2810.4 1558.7,2810.1" stroke-width="10.0"/><polyline points="1558.7,2810.1 1560.7,2810.1 1562.7,2808.3 1564.7,2804.2 1566.7,2801.7" stroke-width="9.5"/><polyline points="1566.7,2801.7 1568.7,2803.0 1570.7,2804.0 1572.7,2803.2" stroke-width="9.0"/><polyline points="1572.7,2803.2 1574.7,2800.0 1576.7,2796.0 1578.7,2794.1 1580.7,2792.6 1582.7,2789.5 1584.7,2787.2 1586.7,2785.1 1588.7,2781.0 1590.7,2779.4 1592.7,2781.3 1594.7,2779.0 1596.7,2772.9" stroke-width="8.5"/><polyline points="1596.7,2772.9 1598.7,2769.7" stroke-width="9.0"/><polyline points="1598.7,2769.7 1600.7,2769.4" stroke-width="9.5"/><polyline points="1600.7,2769.4 1602.7,2771.6" stroke-width="10.0"/><polyline points="1602.7,2771.6 1604.7,2773.3 1606.7,2773.2" stroke-width="10.5"/><polyline points="1606.7,2773.2 1608.7,2775.0" stroke-width="10.0"/><polyline points="1608.7,2775.0 1610.7,2776.8" stroke-width="9.5"/><polyline points="1610.7,2776.8 1612.7,2776.2" stroke-width="9.0"/><polyline points="1612.7,2776.2 1614.7,2776.9 1616.7,2779.2 1618.7,2782.2 1620.7,2786.2 1622.7,2791.0 1624.7,2794.2 1626.7,2794.1 1628.7,2794.2 1630.7,2795.1 1632.7,2796.9 1634.7,2800.3 1636.7,2802.7 1638.7,2804.3" stroke-width="8.5"/><polyline points="1638.7,2804.3 1640.7,2804.6 1642.7,2806.1 1644.7,2809.3 1646.7,2809.9" stroke-width="9.0"/><polyline points="1646.7,2809.9 1648.7,2809.9 1650.7,2809.6 1652.7,2808.3" stroke-width="9.5"/><polyline points="1652.7,2808.3 1654.7,2809.9 1656.7,2812.4 1658.7,2811.9 1660.7,2812.1" stroke-width="10.0"/><polyline points="1660.7,2812.1 1662.7,2815.5 1664.7,2818.2 1666.7,2820.1 1668.7,2818.9 1670.7,2816.1 1672.7,2817.6 1674.7,2818.7 1676.7,2817.8" stroke-width="10.5"/><polyline points="1676.7,2817.8 1678.7,2819.3 1680.7,2820.3 1682.7,2819.1 1684.7,2817.1 1686.7,2815.1 1688.7,2815.5 1690.7,2819.4 1692.7,2821.2 1694.7,2819.6 1696.7,2820.3 1698.7,2821.7 1700.7,2819.6 1702.7,2816.8 1704.7,2818.7 1706.7,2822.3 1708.7,2821.3 1710.7,2819.8 1712.7,2821.4 1714.7,2822.4 1716.7,2820.9 1718.7,2820.0 1720.7,2821.3 1722.7,2822.5 1724.7,2822.4 1726.7,2821.6 1728.7,2820.7 1730.7,2819.5 1732.7,2819.7 1734.7,2821.8 1736.7,2822.9 1738.7,2821.6 1740.7,2821.1 1742.7,2823.3 1744.7,2824.1 1746.7,2823.0 1748.7,2824.3 1750.7,2826.3 1752.7,2824.8 1754.7,2822.9 1756.7,2822.7 1758.7,2822.3 1760.7,2824.2 1762.7,2828.3 1764.7,2828.1 1766.7,2824.5 1768.7,2824.8 1770.7,2825.0 1772.7,2822.8 1774.7,2822.9 1776.7,2823.7 1778.7,2824.7 1780.7,2825.2 1782.7,2823.3 1784.7,2821.5 1786.7,2823.1 1788.7,2826.2 1790.7,2827.2 1792.7,2826.1 1794.7,2825.1 1796.7,2825.6 1798.7,2826.7 1800.7,2827.1 1802.7,2827.5 1804.7,2827.9 1806.7,2828.6 1808.7,2828.3 1810.7,2826.2 1812.7,2825.4 1814.7,2825.6 1816.7,2826.4 1818.7,2826.0 1820.7,2825.6 1822.7,2827.4 1824.7,2826.4 1826.7,2823.3 1828.7,2822.4 1830.7,2826.0 1832.7,2829.0 1834.7,2827.7 1836.7,2826.4 1838.7,2825.8 1840.7,2824.2 1842.7,2824.8" stroke-width="11.0"/><polyline points="1842.7,2824.8 1844.7,2826.1 1846.7,2823.8 1848.7,2821.1 1850.7,2821.0" stroke-width="10.5"/><polyline points="1850.7,2821.0 1852.7,2822.6 1854.7,2821.7 1856.7,2818.8 1858.7,2818.3 1860.7,2817.0 1862.7,2816.9 1864.7,2820.0" stroke-width="10.0"/><polyline points="1864.7,2820.0 1866.7,2818.6 1868.7,2814.0 1870.7,2812.3 1872.7,2814.4 1874.7,2815.9 1876.7,2815.0" stroke-width="10.5"/><polyline points="1876.7,2815.0 1878.7,2817.1 1880.7,2821.3 1882.7,2822.8" stroke-width="10.0"/><polyline points="1882.7,2822.8 1884.7,2822.5" stroke-width="9.5"/><polyline points="1884.7,2822.5 1886.7,2821.6 1888.7,2820.8 1890.7,2822.2 1892.7,2824.5" stroke-width="10.0"/><polyline points="1892.7,2824.5 1894.7,2824.0 1896.7,2823.7 1898.7,2825.2 1900.7,2825.8 1902.7,2826.3" stroke-width="10.5"/><polyline points="1902.7,2826.3 1904.7,2828.1 1906.7,2829.3 1908.7,2828.9 1910.7,2828.7 1912.7,2828.3 1914.7,2827.7 1916.7,2827.1 1918.7,2827.4 1920.7,2828.8 1922.7,2827.6 1924.7,2825.4 1926.7,2827.3 1928.7,2829.8 1930.7,2828.8 1932.7,2826.7 1934.7,2827.7 1936.7,2830.8 1938.7,2828.7 1940.7,2825.2 1942.7,2825.3 1944.7,2826.1 1946.7,2825.5 1948.7,2826.1 1950.7,2828.5 1952.7,2829.2 1954.7,2829.3 1956.7,2830.2 1958.7,2831.4 1960.7,2833.8 1962.7,2834.7 1964.7,2831.8 1966.7,2830.1 1968.7,2829.9 1970.7,2828.2 1972.7,2827.7 1974.7,2828.7 1976.7,2829.8 1978.7,2830.3 1980.7,2830.6 1982.7,2831.2 1984.7,2830.0 1986.7,2828.6 1988.7,2827.8 1990.7,2827.6 1992.7,2828.8 1994.7,2829.8 1996.7,2830.6 1998.7,2831.7 2000.7,2831.8 2002.7,2831.3 2004.7,2828.3 2006.7,2825.3 2008.7,2826.9 2010.7,2829.0 2012.7,2829.4 2014.7,2828.7 2016.7,2828.9 2018.7,2830.2 2020.7,2830.4 2022.7,2831.5 2024.7,2831.9 2026.7,2828.6 2028.7,2825.8 2030.7,2826.0 2032.7,2825.6 2034.7,2826.9 2036.7,2832.3 2038.7,2833.1 2040.7,2830.1 2042.7,2832.1 2044.7,2834.0 2046.7,2831.8 2048.7,2830.9 2050.7,2831.7 2052.7,2831.5 2054.7,2830.9 2056.7,2830.2 2058.7,2829.3 2060.7,2829.0 2062.7,2828.9 2064.7,2829.5 2066.7,2829.6 2068.7,2827.8 2070.7,2827.6 2072.7,2830.1 2074.7,2832.1 2076.7,2831.7 2078.7,2830.0 2080.7,2827.6 2082.7,2826.6 2084.7,2828.4 2086.7,2829.0 2088.7,2829.4 2090.7,2832.3 2092.7,2832.9 2094.7,2832.4 2096.7,2830.0 2098.7,2827.3 2100.7,2830.0 2102.7,2830.5 2104.7,2827.8 2106.7,2828.4 2108.7,2829.6 2110.7,2830.1 2112.7,2829.9 2114.7,2827.8 2116.7,2825.9 2118.7,2826.7 2120.7,2829.1 2122.7,2829.2 2124.7,2828.4 2126.7,2828.8 2128.7,2827.9 2130.7,2827.1 2132.7,2828.2 2134.7,2827.8 2136.7,2827.8 2138.7,2830.3 2140.7,2832.1 2142.7,2831.2 2144.7,2829.6 2146.7,2828.4 2148.7,2828.0 2150.7,2829.8 2152.7,2830.1 2154.7,2828.2 2156.7,2827.3 2158.7,2828.3 2160.7,2828.7 2162.7,2828.5 2164.7,2828.8 2166.7,2828.0 2168.7,2830.2 2170.7,2831.9 2172.7,2830.0 2174.7,2830.0 2176.7,2832.2 2178.7,2833.4 2180.7,2830.9 2182.7,2828.4 2184.7,2828.6 2186.7,2829.3 2188.7,2828.9 2190.7,2828.0 2192.7,2830.2 2194.7,2834.3 2196.7,2833.4 2198.7,2828.8 2200.7,2827.6 2202.7,2829.1 2204.7,2829.2 2206.7,2829.6 2208.7,2830.7 2210.7,2830.0 2212.7,2828.2 2214.7,2827.7 2216.7,2828.8 2218.7,2829.4 2220.7,2828.3 2222.7,2828.3 2224.7,2829.6 2226.7,2827.9 2228.7,2826.6 2230.7,2829.0 2232.7,2830.8 2234.7,2830.3" stroke-width="11.0"/></g>
<g fill="none" stroke="#0000ff" stroke-linejoin="round" stroke-linecap="round"><polyline points="200.7,3021.0 202.7,3019.7 204.7,3017.9 206.7,3018.2 208.7,3018.7 210.7,3019.4 212.7,3019.4 214.7,3019.0 216.7,3019.4 218.7,3018.9 220.7,3019.5 222.7,3021.4 224.7,3021.0 226.7,3020.8 228.7,3022.2 230.7,3021.2 232.7,3019.4 234.7,3019.3 236.7,3019.8 238.7,3019.8 240.7,3019.5 242.7,3019.4 244.7,3019.6 246.7,3021.3 248.7,3022.8 250.7,3022.5 252.7,3019.7 254.7,3017.2 256.7,3018.1 258.7,3021.4 260.7,3024.1 262.7,3024.3 264.7,3023.0 266.7,3021.0 268.7,3020.3 270.7,3021.8 272.7,3022.8 274.7,3021.8 276.7,3022.3 278.7,3023.4 280.7,3022.0 282.7,3020.8 284.7,3020.4 286.7,3021.7 288.7,3024.1 290.7,3023.7 292.7,3020.0 294.7,3018.9 296.7,3022.9 298.7,3024.8 300.7,3023.2 302.7,3022.8 304.7,3021.9 306.7,3018.7 308.7,3018.4 310.7,3021.8 312.7,3022.9 314.7,3021.5 316.7,3021.6 318.7,3021.7 320.7,3021.0 322.7,3022.1 324.7,3024.4 326.7,3024.4 328.7,3023.2 330.7,3023.4 332.7,3023.8 334.7,3023.7 336.7,3023.4 338.7,3023.4 340.7,3023.9 342.7,3024.3 344.7,3023.7 346.7,3022.1 348.7,3021.4 350.7,3023.2 352.7,3025.1 354.7,3024.4 356.7,3022.7 358.7,3021.5 360.7,3021.0 362.7,3021.5 364.7,3022.5 366.7,3024.1 368.7,3025.2 370.7,3024.9 372.7,3025.1 374.7,3025.2 376.7,3024.5 378.7,3023.6 380.7,3023.8 382.7,3023.8 384.7,3023.8 386.7,3023.9 388.7,3023.0 390.7,3023.4 392.7,3024.4 394.7,3023.9 396.7,3023.7 398.7,3024.3 400.7,3023.6 402.7,3022.8 404.7,3022.9 406.7,3023.9 408.7,3026.9 410.7,3027.0 412.7,3023.9 414.7,3024.9 416.7,3027.4 418.7,3027.4 420.7,3026.4 422.7,3026.7 424.7,3027.5 426.7,3026.2 428.7,3025.2 430.7,3025.3 432.7,3026.5 434.7,3026.8 436.7,3025.6 438.7,3024.3 440.7,3022.9 442.7,3023.6 444.7,3025.3 446.7,3026.5 448.7,3027.0 450.7,3026.4 452.7,3026.0 454.7,3024.0 456.7,3022.2 458.7,3022.6 460.7,3023.4 462.7,3024.2 464.7,3023.9 466.7,3023.2 468.7,3023.3 470.7,3023.7 472.7,3024.3 474.7,3023.6 476.7,3023.2 478.7,3023.9 480.7,3022.8 482.7,3020.5 484.7,3019.6 486.7,3022.1 488.7,3024.8 490.7,3024.9 492.7,3023.9 494.7,3022.5 496.7,3021.0 498.7,3020.4 500.7,3020.8 502.7,3020.2" stroke-width="11.0"/><polyline points="502.7,3020.2 504.7,3019.0 506.7,3019.3 508.7,3020.2 510.7,3019.7 512.7,3018.1 514.7,3017.2 516.7,3017.5" stroke-width="10.5"/><polyline points="516.7,3017.5 518.7,3018.2 520.7,3018.1 522.7,3016.9 524.7,3014.9" stroke-width="10.0"/><polyline points="524.7,3014.9 526.7,3013.6 528.7,3013.1 530.7,3010.7 532.7,3008.9" stroke-width="9.5"/><polyline points="532.7,3008.9 534.7,3007.9 536.7,3006.1 538.7,3004.6" stroke-width="9.0"/><polyline points="538.7,3004.6 540.7,3003.1 542.7,3001.9 544.7,3001.0 546.7,2999.9" stroke-width="8.5"/><polyline points="546.7,2999.9 548.7,2998.3 550.7,2995.3 552.7,2990.0 554.7,2986.0 556.7,2983.9" stroke-width="8.0"/><polyline points="556.7,2983.9 558.7,2977.1 560.7,2968.9 562.7,2964.4 564.7,2957.7 566.7,2947.8 568.7,2937.2 570.7,2924.1 572.7,2906.6 574.7,2884.4 576.7,2854.5 578.7,2815.1 580.7,2764.6 582.7,2700.5 584.7,2621.0 586.7,2525.1 588.7,2419.7 590.7,2321.4 592.7,2249.7 594.7,2223.6 596.7,2254.4 598.7,2333.6 600.7,2435.3 602.7,2538.0 604.7,2630.5 606.7,2710.0 608.7,2776.3 610.7,2828.7 612.7,2867.6 614.7,2896.3 616.7,2919.1 618.7,2937.2 620.7,2949.0 622.7,2957.3 624.7,2967.3 626.7,2977.4 628.7,2983.9 630.7,2988.7 632.7,2992.1" stroke-width="7.5"/><polyline points="632.7,2992.1 634.7,2994.8 636.7,2999.7 638.7,3003.3 640.7,3004.9 642.7,3006.3" stroke-width="8.0"/><polyline points="642.7,3006.3 644.7,3007.9 646.7,3010.9 648.7,3012.8" stroke-width="8.5"/><polyline points="648.7,3012.8 650.7,3014.2 652.7,3016.4 654.7,3017.5" stroke-width="9.0"/><polyline points="654.7,3017.5 656.7,3017.9 658.7,3018.2" stroke-width="9.5"/><polyline points="658.7,3018.2 660.7,3018.9 662.7,3019.6 664.7,3020.2" stroke-width="10.0"/><polyline points="664.7,3020.2 666.7,3021.2 668.7,3021.6 670.7,3021.8" stroke-width="10.5"/><polyline points="670.7,3021.8 672.7,3021.8 674.7,3021.8 676.7,3023.1 678.7,3025.5 680.7,3025.8 682.7,3023.7" stroke-width="11.0"/><polyline points="682.7,3023.7 684.7,3022.9 686.7,3022.9" stroke-width="10.5"/><polyline points="686.7,3022.9 688.7,3022.8" stroke-width="10.0"/><polyline points="688.7,3022.8 690.7,3022.9" stroke-width="9.5"/><polyline points="690.7,3022.9 692.7,3021.6" stroke-width="9.0"/><polyline points="692.7,3021.6 694.7,3016.8" stroke-width="8.5"/><polyline points="694.7,3016.8 696.7,3012.5 698.7,3010.4 700.7,3006.4" stroke-width="8.0"/><polyline points="700.7,3006.4 702.7,3000.9 704.7,2995.1 706.7,2985.0 708.7,2970.8 710.7,2954.3 712.7,2934.6 714.7,2912.4 716.7,2891.5 718.7,2876.1 720.7,2869.9 722.7,2877.4 724.7,2894.9 726.7,2915.6 728.7,2938.1 730.7,2958.9 732.7,2976.6 734.7,2988.9 736.7,2997.1 738.7,3006.4 740.7,3014.3 742.7,3019.4 744.7,3022.0" stroke-width="7.5"/><polyline points="744.7,3022.0 746.7,3022.9 748.7,3024.2" stroke-width="8.0"/><polyline points="748.7,3024.2 750.7,3026.9 752.7,3029.8" stroke-width="8.5"/><polyline points="752.7,3029.8 754.7,3030.8 756.7,3031.5" stroke-width="9.0"/><polyline points="756.7,3031.5 758.7,3031.2 760.7,3030.5" stroke-width="9.5"/><polyline points="760.7,3030.5 762.7,3032.3 764.7,3035.3" stroke-width="10.0"/><polyline points="764.7,3035.3 766.7,3037.0 768.7,3035.8 770.7,3034.4 772.7,3035.9 774.7,3038.2 776.7,3039.1 778.7,3039.3" stroke-width="10.5"/><polyline points="778.7,3039.3 780.7,3038.8 782.7,3038.4 784.7,3039.5 786.7,3038.6 788.7,3036.3 790.7,3038.1 792.7,3040.4 794.7,3039.6 796.7,3039.1 798.7,3039.9 800.7,3040.4 802.7,3040.7 804.7,3040.7 806.7,3039.1 808.7,3038.4 810.7,3039.8 812.7,3041.5 814.7,3043.6 816.7,3044.8 818.7,3043.8 820.7,3043.9 822.7,3044.7 824.7,3044.1 826.7,3042.5 828.7,3040.8 830.7,3040.3 832.7,3040.4 834.7,3041.7 836.7,3043.5 838.7,3043.6 840.7,3041.2 842.7,3039.8 844.7,3041.9 846.7,3042.6 848.7,3041.3 850.7,3041.6 852.7,3042.5 854.7,3041.8 856.7,3039.5 858.7,3040.4 860.7,3042.7 862.7,3041.6 864.7,3040.6 866.7,3041.7 868.7,3043.5 870.7,3044.5 872.7,3044.1 874.7,3044.2 876.7,3043.6 878.7,3043.4 880.7,3045.1 882.7,3044.8 884.7,3042.7 886.7,3041.4 888.7,3039.9 890.7,3039.4 892.7,3041.7 894.7,3041.6 896.7,3038.7 898.7,3040.7 900.7,3045.2 902.7,3044.7 904.7,3041.3 906.7,3041.3 908.7,3042.4 910.7,3041.2 912.7,3040.3 914.7,3040.7 916.7,3041.6 918.7,3043.1 920.7,3043.1 922.7,3040.0 924.7,3038.2 926.7,3039.7 928.7,3040.8 930.7,3042.2 932.7,3043.4 934.7,3041.4 936.7,3040.5 938.7,3042.6 940.7,3043.3 942.7,3042.0 944.7,3040.3 946.7,3038.2 948.7,3038.1 950.7,3040.1 952.7,3041.3 954.7,3041.2 956.7,3041.2 958.7,3040.9 960.7,3039.7 962.7,3038.7 964.7,3037.8 966.7,3036.8 968.7,3036.8 970.7,3037.9 972.7,3040.7 974.7,3042.8 976.7,3042.5 978.7,3041.1 980.7,3038.5 982.7,3037.3 984.7,3038.7 986.7,3041.0 988.7,3042.2 990.7,3040.9 992.7,3039.4 994.7,3038.1 996.7,3037.6 998.7,3038.3 1000.7,3038.6 1002.7,3037.3 1004.7,3036.4 1006.7,3036.8 1008.7,3036.6 1010.7,3036.7 1012.7,3037.8 1014.7,3037.9 1016.7,3036.8 1018.7,3035.4 1020.7,3034.9 1022.7,3034.7 1024.7,3034.8 1026.7,3035.8 1028.7,3035.5 1030.7,3034.3 1032.7,3034.8 1034.7,3035.9 1036.7,3037.4 1038.7,3037.0 1040.7,3034.9 1042.7,3036.1 1044.7,3037.7 1046.7,3036.4 1048.7,3034.6 1050.7,3033.0 1052.7,3032.8 1054.7,3034.3 1056.7,3034.4 1058.7,3035.0 1060.7,3036.0 1062.7,3034.5 1064.7,3034.3 1066.7,3035.1 1068.7,3034.7 1070.7,3034.5 1072.7,3034.4 1074.7,3033.1" stroke-width="11.0"/><polyline points="1074.7,3033.1 1076.7,3030.8 1078.7,3030.9 1080.7,3032.9" stroke-width="10.5"/><polyline points="1080.7,3032.9 1082.7,3032.5" stroke-width="10.0"/><polyline points="1082.7,3032.5 1084.7,3030.0" stroke-width="9.5"/><polyline points="1084.7,3030.0 1086.7,3029.1" stroke-width="9.0"/><polyline points="1086.7,3029.1 1088.7,3028.6 1090.7,3025.0" stroke-width="8.5"/><polyline points="1090.7,3025.0 1092.7,3021.1 1094.7,3017.6" stroke-width="8.0"/><polyline points="1094.7,3017.6 1096.7,3010.8 1098.7,3003.0 1100.7,2993.4 1102.7,2980.5 1104.7,2966.2 1106.7,2948.9 1108.7,2927.5 1110.7,2903.9 1112.7,2878.6 1114.7,2850.1 1116.7,2821.7 1118.7,2795.8 1120.7,2770.8 1122.7,2751.6 1124.7,2740.7 1126.7,2734.1 1128.7,2736.2 1130.7,2748.7 1132.7,2766.9 1134.7,2790.4 1136.7,2816.9 1138.7,2843.3 1140.7,2869.4 1142.7,2894.8 1144.7,2919.0 1146.7,2942.0 1148.7,2961.3 1150.7,2977.2 1152.7,2990.8 1154.7,3001.8 1156.7,3010.7 1158.7,3017.3 1160.7,3021.0 1162.7,3023.0" stroke-width="7.5"/><polyline points="1162.7,3023.0 1164.7,3026.1 1166.7,3030.4" stroke-width="8.0"/><polyline points="1166.7,3030.4 1168.7,3031.7" stroke-width="8.5"/><polyline points="1168.7,3031.7 1170.7,3030.3" stroke-width="9.0"/><polyline points="1170.7,3030.3 1172.7,3030.4" stroke-width="9.5"/><polyline points="1172.7,3030.4 1174.7,3031.8 1176.7,3032.3" stroke-width="10.0"/><polyline points="1176.7,3032.3 1178.7,3033.2 1180.7,3034.7 1182.7,3035.5 1184.7,3034.4 1186.7,3032.3" stroke-width="10.5"/><polyline points="1186.7,3032.3 1188.7,3031.9 1190.7,3034.8 1192.7,3037.9 1194.7,3037.4 1196.7,3036.9 1198.7,3037.5 1200.7,3037.4 1202.7,3037.1 1204.7,3035.5 1206.7,3035.7 1208.7,3037.1 1210.7,3037.3 1212.7,3038.4 1214.7,3039.9 1216.7,3040.2 1218.7,3038.6 1220.7,3038.8 1222.7,3040.0 1224.7,3039.1 1226.7,3038.2 1228.7,3038.6 1230.7,3039.7 1232.7,3039.2 1234.7,3038.1 1236.7,3038.2 1238.7,3038.8 1240.7,3039.2 1242.7,3040.3 1244.7,3043.5 1246.7,3043.1 1248.7,3039.4 1250.7,3039.0 1252.7,3038.9 1254.7,3038.0 1256.7,3039.2 1258.7,3040.3 1260.7,3040.0 1262.7,3040.3 1264.7,3040.0 1266.7,3040.5 1268.7,3040.6 1270.7,3039.2 1272.7,3038.8 1274.7,3039.8 1276.7,3041.8 1278.7,3041.6 1280.7,3039.5 1282.7,3039.7 1284.7,3040.0 1286.7,3039.3 1288.7,3039.6 1290.7,3039.5 1292.7,3038.6 1294.7,3038.9 1296.7,3039.5 1298.7,3039.4 1300.7,3039.0 1302.7,3038.4 1304.7,3039.0 1306.7,3039.6 1308.7,3039.3" stroke-width="11.0"/><polyline points="1308.7,3039.3 1310.7,3038.6 1312.7,3037.7 1314.7,3036.5 1316.7,3035.3 1318.7,3034.9" stroke-width="10.5"/><polyline points="1318.7,3034.9 1320.7,3034.2 1322.7,3033.7" stroke-width="10.0"/><polyline points="1322.7,3033.7 1324.7,3033.7 1326.7,3031.5" stroke-width="9.5"/><polyline points="1326.7,3031.5 1328.7,3030.6" stroke-width="9.0"/><polyline points="1328.7,3030.6 1330.7,3031.6 1332.7,3030.2" stroke-width="8.5"/><polyline points="1332.7,3030.2 1334.7,3026.2 1336.7,3020.8 1338.7,3015.8" stroke-width="8.0"/><polyline points="1338.7,3015.8 1340.7,3012.1 1342.7,3006.2 1344.7,2998.7 1346.7,2992.8 1348.7,2986.4 1350.7,2977.2 1352.7,2966.4 1354.7,2955.1 1356.7,2942.6 1358.7,2928.8 1360.7,2914.9 1362.7,2901.5 1364.7,2888.1 1366.7,2875.7 1368.7,2866.9 1370.7,2861.5 1372.7,2857.2 1374.7,2854.9" stroke-width="7.5"/><polyline points="1374.7,2854.9 1376.7,2856.2" stroke-width="8.0"/><polyline points="1376.7,2856.2 1378.7,2860.6 1380.7,2867.7 1382.7,2878.5 1384.7,2892.8 1386.7,2905.4 1388.7,2915.2 1390.7,2927.3 1392.7,2940.4 1394.7,2952.3 1396.7,2964.0 1398.7,2974.3 1400.7,2983.6 1402.7,2991.9 1404.7,2999.1 1406.7,3007.3 1408.7,3012.7 1410.7,3014.6" stroke-width="7.5"/><polyline points="1410.7,3014.6 1412.7,3016.5 1414.7,3019.5 1416.7,3023.8" stroke-width="8.0"/><polyline points="1416.7,3023.8 1418.7,3027.6" stroke-width="8.5"/><polyline points="1418.7,3027.6 1420.7,3028.9" stroke-width="9.0"/><polyline points="1420.7,3028.9 1422.7,3027.7" stroke-width="10.0"/><polyline points="1422.7,3027.7 1424.7,3025.9 1426.7,3026.3 1428.7,3027.2 1430.7,3026.6" stroke-width="10.5"/><polyline points="1430.7,3026.6 1432.7,3025.0 1434.7,3022.8" stroke-width="9.5"/><polyline points="1434.7,3022.8 1436.7,3020.9" stroke-width="9.0"/><polyline points="1436.7,3020.9 1438.7,3019.4 1440.7,3017.8 1442.7,3016.3 1444.7,3014.5 1446.7,3013.0" stroke-width="8.5"/><polyline points="1446.7,3013.0 1448.7,3013.1" stroke-width="9.0"/><polyline points="1448.7,3013.1 1450.7,3012.0 1452.7,3011.2 1454.7,3013.0" stroke-width="9.5"/><polyline points="1454.7,3013.0 1456.7,3013.7" stroke-width="9.0"/><polyline points="1456.7,3013.7 1458.7,3013.9 1460.7,3017.7" stroke-width="8.5"/><polyline points="1460.7,3017.7 1462.7,3022.6 1464.7,3025.7 1466.7,3027.9 1468.7,3028.8" stroke-width="8.0"/><polyline points="1468.7,3028.8 1470.7,3030.1 1472.7,3032.1 1474.7,3033.6" stroke-width="8.5"/><polyline points="1474.7,3033.6 1476.7,3034.6 1478.7,3036.6 1480.7,3038.6" stroke-width="9.0"/><polyline points="1480.7,3038.6 1482.7,3038.5 1484.7,3039.8" stroke-width="9.5"/><polyline points="1484.7,3039.8 1486.7,3043.3 1488.7,3045.9 1490.7,3046.3 1492.7,3045.0" stroke-width="10.0"/><polyline points="1492.7,3045.0 1494.7,3043.9 1496.7,3044.6 1498.7,3045.8 1500.7,3044.5 1502.7,3043.3 1504.7,3044.6 1506.7,3044.1" stroke-width="10.5"/><polyline points="1506.7,3044.1 1508.7,3042.7 1510.7,3044.4 1512.7,3046.3 1514.7,3047.3 1516.7,3048.5 1518.7,3050.0 1520.7,3049.8 1522.7,3047.3 1524.7,3046.2 1526.7,3048.4 1528.7,3050.3 1530.7,3049.6 1532.7,3049.2 1534.7,3049.5 1536.7,3049.1 1538.7,3048.8 1540.7,3049.0 1542.7,3048.5 1544.7,3049.0 1546.7,3050.4 1548.7,3050.2 1550.7,3050.0 1552.7,3050.2 1554.7,3050.9 1556.7,3051.3 1558.7,3052.2 1560.7,3053.4 1562.7,3051.8 1564.7,3049.5 1566.7,3048.3 1568.7,3047.3 1570.7,3047.3 1572.7,3049.2 1574.7,3050.9 1576.7,3051.1 1578.7,3050.9 1580.7,3049.7 1582.7,3048.9 1584.7,3049.3 1586.7,3049.7 1588.7,3051.8 1590.7,3053.8 1592.7,3053.3 1594.7,3052.6 1596.7,3051.4 1598.7,3049.4 1600.7,3049.8 1602.7,3051.6 1604.7,3052.0 1606.7,3051.5 1608.7,3050.0 1610.7,3049.5 1612.7,3051.2 1614.7,3050.9 1616.7,3050.1 1618.7,3052.2 1620.7,3053.7 1622.7,3052.6 1624.7,3051.6 1626.7,3051.1 1628.7,3051.3 1630.7,3052.9 1632.7,3053.5 1634.7,3052.2 1636.7,3050.8 1638.7,3050.7 1640.7,3051.9 1642.7,3052.6 1644.7,3051.2 1646.7,3050.8 1648.7,3052.8 1650.7,3053.0 1652.7,3052.5 1654.7,3053.4 1656.7,3053.0 1658.7,3051.6 1660.7,3051.6 1662.7,3053.2 1664.7,3053.0 1666.7,3051.0 1668.7,3049.8 1670.7,3048.4 1672.7,3048.3 1674.7,3050.5 1676.7,3052.3 1678.7,3052.5 1680.7,3051.8 1682.7,3051.4 1684.7,3050.9 1686.7,3050.3 1688.7,3050.3 1690.7,3050.0 1692.7,3051.1 1694.7,3052.7" stroke-width="11.0"/><polyline points="1694.7,3052.7 1696.7,3052.4 1698.7,3051.5 1700.7,3048.7 1702.7,3045.2" stroke-width="10.5"/><polyline points="1702.7,3045.2 1704.7,3045.6 1706.7,3047.2 1708.7,3045.7" stroke-width="10.0"/><polyline points="1708.7,3045.7 1710.7,3044.2 1712.7,3044.7 1714.7,3043.9" stroke-width="9.5"/><polyline points="1714.7,3043.9 1716.7,3041.6 1718.7,3040.5 1720.7,3039.8 1722.7,3039.2 1724.7,3038.2 1726.7,3035.9 1728.7,3035.3 1730.7,3033.7" stroke-width="9.0"/><polyline points="1730.7,3033.7 1732.7,3030.0 1734.7,3028.6" stroke-width="9.5"/><polyline points="1734.7,3028.6 1736.7,3029.0" stroke-width="10.0"/><polyline points="1736.7,3029.0 1738.7,3029.0 1740.7,3028.4 1742.7,3029.1 1744.7,3030.8" stroke-width="10.5"/><polyline points="1744.7,3030.8 1746.7,3030.7" stroke-width="10.0"/><polyline points="1746.7,3030.7 1748.7,3030.3 1750.7,3031.5" stroke-width="9.5"/><polyline points="1750.7,3031.5 1752.7,3032.8 1754.7,3035.0 1756.7,3039.2 1758.7,3041.1 1760.7,3041.8 1762.7,3044.5 1764.7,3044.2" stroke-width="9.0"/><polyline points="1764.7,3044.2 1766.7,3041.6 1768.7,3041.5 1770.7,3044.6 1772.7,3047.0" stroke-width="9.5"/><polyline points="1772.7,3047.0 1774.7,3046.2 1776.7,3047.2 1778.7,3049.9" stroke-width="10.0"/><polyline points="1778.7,3049.9 1780.7,3050.2 1782.7,3049.1 1784.7,3048.6 1786.7,3049.3" stroke-width="10.5"/><polyline points="1786.7,3049.3 1788.7,3049.5 1790.7,3048.9 1792.7,3049.6 1794.7,3049.4 1796.7,3048.3 1798.7,3051.0 1800.7,3054.3 1802.7,3053.0 1804.7,3051.2 1806.7,3052.7 1808.7,3054.3 1810.7,3053.7 1812.7,3053.3 1814.7,3054.3 1816.7,3053.5 1818.7,3051.1 1820.7,3050.9 1822.7,3052.4 1824.7,3054.0 1826.7,3054.6 1828.7,3053.7 1830.7,3052.1 1832.7,3051.3 1834.7,3051.2 1836.7,3051.2 1838.7,3051.1 1840.7,3052.2 1842.7,3053.3 1844.7,3053.0 1846.7,3054.2 1848.7,3054.2 1850.7,3053.3 1852.7,3054.8 1854.7,3054.4 1856.7,3051.9 1858.7,3051.0 1860.7,3051.3 1862.7,3052.2 1864.7,3052.3 1866.7,3051.3 1868.7,3050.9 1870.7,3049.7 1872.7,3047.9 1874.7,3048.6 1876.7,3049.7 1878.7,3048.6 1880.7,3049.7 1882.7,3052.1 1884.7,3052.6 1886.7,3051.0" stroke-width="11.0"/><polyline points="1886.7,3051.0 1888.7,3048.8 1890.7,3049.3 1892.7,3049.7 1894.7,3048.5 1896.7,3047.8" stroke-width="10.5"/><polyline points="1896.7,3047.8 1898.7,3048.0 1900.7,3047.7 1902.7,3044.5" stroke-width="10.0"/><polyline points="1902.7,3044.5 1904.7,3042.7 1906.7,3042.4" stroke-width="9.5"/><polyline points="1906.7,3042.4 1908.7,3039.8 1910.7,3038.3 1912.7,3037.9" stroke-width="9.0"/><polyline points="1912.7,3037.9 1914.7,3035.4 1916.7,3033.4 1918.7,3031.5" stroke-width="8.5"/><polyline points="1918.7,3031.5 1920.7,3028.1 1922.7,3025.8 1924.7,3023.2 1926.7,3020.7 1928.7,3019.0 1930.7,3016.0 1932.7,3013.4 1934.7,3010.7 1936.7,3007.0 1938.7,3004.4 1940.7,3001.3" stroke-width="8.0"/><polyline points="1940.7,3001.3 1942.7,2998.2 1944.7,2997.3" stroke-width="8.5"/><polyline points="1944.7,2997.3 1946.7,2995.6" stroke-width="9.0"/><polyline points="1946.7,2995.6 1948.7,2994.6" stroke-width="9.5"/><polyline points="1948.7,2994.6 1950.7,2998.0 1952.7,2999.2" stroke-width="10.0"/><polyline points="1952.7,2999.2 1954.7,2996.4" stroke-width="9.5"/><polyline points="1954.7,2996.4 1956.7,2996.6" stroke-width="9.0"/><polyline points="1956.7,2996.6 1958.7,2999.8" stroke-width="8.5"/><polyline points="1958.7,2999.8 1960.7,3003.2 1962.7,3006.4 1964.7,3009.3 1966.7,3013.3 1968.7,3016.9 1970.7,3017.1" stroke-width="8.0"/><polyline points="1970.7,3017.1 1972.7,3018.5 1974.7,3023.1 1976.7,3025.2" stroke-width="8.5"/><polyline points="1976.7,3025.2 1978.7,3024.9 1980.7,3025.7" stroke-width="9.0"/><polyline points="1980.7,3025.7 1982.7,3025.6" stroke-width="9.5"/><polyline points="1982.7,3025.6 1984.7,3024.7" stroke-width="10.0"/><polyline points="1984.7,3024.7 1986.7,3026.0 1988.7,3026.7 1990.7,3024.8 1992.7,3024.0" stroke-width="10.5"/><polyline points="1992.7,3024.0 1994.7,3026.1 1996.7,3028.2" stroke-width="10.0"/><polyline points="1996.7,3028.2 1998.7,3026.6 2000.7,3023.2" stroke-width="9.5"/><polyline points="2000.7,3023.2 2002.7,3021.9 2004.7,3020.8 2006.7,3018.6" stroke-width="9.0"/><polyline points="2006.7,3018.6 2008.7,3016.8 2010.7,3015.5" stroke-width="9.5"/><polyline points="2010.7,3015.5 2012.7,3015.9" stroke-width="10.0"/><polyline points="2012.7,3015.9 2014.7,3015.9 2016.7,3015.0 2018.7,3016.5" stroke-width="10.5"/><polyline points="2018.7,3016.5 2020.7,3017.8" stroke-width="10.0"/><polyline points="2020.7,3017.8 2022.7,3016.6" stroke-width="9.5"/><polyline points="2022.7,3016.6 2024.7,3016.4 2026.7,3021.3" stroke-width="9.0"/><polyline points="2026.7,3021.3 2028.7,3025.9 2030.7,3025.3 2032.7,3025.5 2034.7,3028.3 2036.7,3029.5 2038.7,3030.9 2040.7,3034.7 2042.7,3037.9" stroke-width="8.5"/><polyline points="2042.7,3037.9 2044.7,3038.5 2046.7,3039.0 2048.7,3039.7 2050.7,3039.2" stroke-width="9.0"/><polyline points="2050.7,3039.2 2052.7,3041.4 2054.7,3045.0 2056.7,3045.1" stroke-width="9.5"/><polyline points="2056.7,3045.1 2058.7,3044.5 2060.7,3044.7 2062.7,3045.5" stroke-width="10.0"/><polyline points="2062.7,3045.5 2064.7,3045.5 2066.7,3044.7 2068.7,3046.2 2070.7,3047.8 2072.7,3049.1" stroke-width="10.5"/><polyline points="2072.7,3049.1 2074.7,3050.2 2076.7,3049.0 2078.7,3048.2 2080.7,3049.5 2082.7,3051.3 2084.7,3051.7 2086.7,3051.3 2088.7,3051.7 2090.7,3050.2 2092.7,3047.2 2094.7,3046.2 2096.7,3048.8 2098.7,3051.1 2100.7,3050.5 2102.7,3050.9 2104.7,3052.6 2106.7,3052.4 2108.7,3051.4 2110.7,3052.4 2112.7,3054.7 2114.7,3054.7 2116.7,3050.8 2118.7,3048.7 2120.7,3049.7 2122.7,3049.4 2124.7,3049.4 2126.7,3050.9 2128.7,3051.6 2130.7,3051.6 2132.7,3052.2 2134.7,3052.1 2136.7,3052.1 2138.7,3053.7 2140.7,3054.3 2142.7,3053.6 2144.7,3053.6 2146.7,3052.8 2148.7,3051.4 2150.7,3052.4 2152.7,3053.5 2154.7,3051.0 2156.7,3050.3 2158.7,3052.4 2160.7,3051.4 2162.7,3048.9 2164.7,3048.9 2166.7,3049.6 2168.7,3049.6 2170.7,3050.2 2172.7,3051.1 2174.7,3050.7 2176.7,3049.8 2178.7,3050.5 2180.7,3050.7 2182.7,3048.8 2184.7,3049.4 2186.7,3051.8 2188.7,3050.9 2190.7,3050.1 2192.7,3051.6 2194.7,3050.5 2196.7,3048.7 2198.7,3049.7 2200.7,3052.0 2202.7,3052.2 2204.7,3050.6 2206.7,3051.5 2208.7,3051.0 2210.7,3048.3 2212.7,3049.7 2214.7,3051.9 2216.7,3051.5 2218.7,3050.2 2220.7,3049.8 2222.7,3050.9 2224.7,3050.6 2226.7,3050.0 2228.7,3051.4 2230.7,3051.8 2232.7,3051.3 2234.7,3051.5" stroke-width="11.0"/></g>
<g fill="none" stroke="#008080" stroke-linejoin="round" stroke-linecap="round"><polyline points="200.7,3141.8 202.7,3141.7 204.7,3139.8 206.7,3138.7 208.7,3139.2 210.7,3139.8 212.7,3142.0 214.7,3143.8 216.7,3144.0 218.7,3143.9 220.7,3142.9 222.7,3141.8 224.7,3142.8 226.7,3144.1 228.7,3142.9 230.7,3141.9 232.7,3141.8 234.7,3142.0 236.7,3142.9 238.7,3143.5 240.7,3143.2 242.7,3142.8 244.7,3143.0 246.7,3143.0 248.7,3142.6 250.7,3144.4 252.7,3145.7 254.7,3144.4 256.7,3146.0 258.7,3147.8 260.7,3144.5 262.7,3142.2 264.7,3144.9 266.7,3148.7 268.7,3148.5 270.7,3145.8 272.7,3145.8 274.7,3145.9 276.7,3144.1 278.7,3144.0 280.7,3145.9 282.7,3146.2 284.7,3146.5 286.7,3148.2 288.7,3150.0 290.7,3148.9 292.7,3146.3 294.7,3146.9 296.7,3147.7 298.7,3146.3 300.7,3146.5 302.7,3146.8 304.7,3145.2 306.7,3144.4 308.7,3145.4 310.7,3147.2 312.7,3148.5 314.7,3149.5 316.7,3149.8 318.7,3149.6 320.7,3149.7 322.7,3149.9 324.7,3148.9 326.7,3148.8 328.7,3150.9 330.7,3153.0 332.7,3153.1 334.7,3150.7 336.7,3148.2 338.7,3145.4 340.7,3143.5 342.7,3146.4 344.7,3149.4 346.7,3147.8 348.7,3146.9 350.7,3149.2 352.7,3149.9 354.7,3149.5 356.7,3149.8 358.7,3150.6 360.7,3150.2 362.7,3148.8 364.7,3149.2 366.7,3151.0 368.7,3151.5 370.7,3151.6 372.7,3153.0 374.7,3154.1 376.7,3153.3 378.7,3152.1 380.7,3152.3 382.7,3151.6 384.7,3149.8 386.7,3150.1 388.7,3150.4 390.7,3149.8 392.7,3149.4 394.7,3149.3 396.7,3150.7 398.7,3151.7 400.7,3150.3 402.7,3150.3 404.7,3152.3 406.7,3152.4 408.7,3151.9 410.7,3151.7 412.7,3151.9 414.7,3152.5 416.7,3152.2 418.7,3151.3 420.7,3149.7 422.7,3149.4 424.7,3152.3 426.7,3154.9 428.7,3155.3 430.7,3155.5 432.7,3154.8 434.7,3153.2 436.7,3152.3 438.7,3153.5 440.7,3155.8 442.7,3155.0 444.7,3152.5 446.7,3152.7 448.7,3153.9 450.7,3153.6 452.7,3153.1 454.7,3152.6 456.7,3153.9 458.7,3155.6 460.7,3154.9 462.7,3153.6 464.7,3152.9 466.7,3152.5 468.7,3153.2 470.7,3154.6 472.7,3154.9 474.7,3152.8 476.7,3150.6 478.7,3150.9 480.7,3152.2 482.7,3151.4 484.7,3150.6 486.7,3153.4 488.7,3154.6 490.7,3151.6 492.7,3151.6 494.7,3152.9 496.7,3151.2 498.7,3150.0 500.7,3150.8 502.7,3150.7 504.7,3150.3 506.7,3149.3" stroke-width="11.0"/><polyline points="506.7,3149.3 508.7,3147.8 510.7,3148.7 512.7,3149.2 514.7,3148.2 516.7,3147.8 518.7,3148.0 520.7,3147.7" stroke-width="10.5"/><polyline points="520.7,3147.7 522.7,3145.8 524.7,3143.6 526.7,3141.5 528.7,3140.7" stroke-width="10.0"/><polyline points="528.7,3140.7 530.7,3140.1 532.7,3138.4 534.7,3136.9" stroke-width="9.5"/><polyline points="534.7,3136.9 536.7,3135.9 538.7,3135.5" stroke-width="9.0"/><polyline points="538.7,3135.5 540.7,3135.6 542.7,3133.3 544.7,3129.2" stroke-width="8.5"/><polyline points="544.7,3129.2 546.7,3127.8 548.7,3127.8 550.7,3126.0 552.7,3120.9 554.7,3113.6" stroke-width="8.0"/><polyline points="554.7,3113.6 556.7,3108.6 558.7,3104.5 560.7,3097.6 562.7,3087.1 564.7,3074.0 566.7,3056.6 568.7,3033.8 570.7,3005.8 572.7,2968.8 574.7,2920.7 576.7,2859.6 578.7,2785.0 580.7,2702.8 582.7,2612.3 584.7,2512.8 586.7,2413.7 588.7,2325.6 590.7,2263.7 592.7,2243.6 594.7,2266.5 596.7,2324.5 598.7,2409.5 600.7,2508.6 602.7,2609.8 604.7,2705.5 606.7,2790.1 608.7,2862.6 610.7,2923.9 612.7,2971.5 614.7,3006.7 616.7,3034.0 618.7,3056.2 620.7,3075.8 622.7,3090.6 624.7,3098.4 626.7,3104.3 628.7,3110.9 630.7,3115.9 632.7,3118.8" stroke-width="7.5"/><polyline points="632.7,3118.8 634.7,3122.2 636.7,3128.1 638.7,3133.8 640.7,3136.8 642.7,3138.0" stroke-width="8.0"/><polyline points="642.7,3138.0 644.7,3139.0 646.7,3140.9 648.7,3142.6" stroke-width="8.5"/><polyline points="648.7,3142.6 650.7,3143.1 652.7,3143.7" stroke-width="9.0"/><polyline points="652.7,3143.7 654.7,3145.1 656.7,3146.2 658.7,3146.4" stroke-width="9.5"/><polyline points="658.7,3146.4 660.7,3148.0 662.7,3149.9" stroke-width="10.0"/><polyline points="662.7,3149.9 664.7,3150.4 666.7,3149.9 668.7,3148.6" stroke-width="10.5"/><polyline points="668.7,3148.6 670.7,3148.1 672.7,3148.4 674.7,3148.0 676.7,3147.4" stroke-width="11.0"/><polyline points="676.7,3147.4 678.7,3147.3 680.7,3146.6" stroke-width="10.5"/><polyline points="680.7,3146.6 682.7,3146.0" stroke-width="10.0"/><polyline points="682.7,3146.0 684.7,3145.4" stroke-width="9.0"/><polyline points="684.7,3145.4 686.7,3143.6" stroke-width="8.5"/><polyline points="686.7,3143.6 688.7,3142.4 690.7,3141.5 692.7,3137.2" stroke-width="8.0"/><polyline points="692.7,3137.2 694.7,3130.6 696.7,3123.7 698.7,3116.8 700.7,3109.2 702.7,3098.5 704.7,3084.4 706.7,3069.1 708.7,3054.5 710.7,3040.4 712.7,3025.5 714.7,3011.8 716.7,2999.5 718.7,2987.7 720.7,2980.1 722.7,2978.8 724.7,2982.2 726.7,2989.3 728.7,2999.2 730.7,3010.7 732.7,3025.1 734.7,3042.6 736.7,3057.6 738.7,3070.7 740.7,3085.7 742.7,3099.9 744.7,3110.6 746.7,3119.3 748.7,3128.1 750.7,3134.6 752.7,3137.7 754.7,3141.3 756.7,3146.9" stroke-width="7.5"/><polyline points="756.7,3146.9 758.7,3152.8 760.7,3155.9" stroke-width="8.0"/><polyline points="760.7,3155.9 762.7,3157.2 764.7,3159.2" stroke-width="8.5"/><polyline points="764.7,3159.2 766.7,3159.9" stroke-width="9.0"/><polyline points="766.7,3159.9 768.7,3158.8 770.7,3158.1" stroke-width="9.5"/><polyline points="770.7,3158.1 772.7,3158.9" stroke-width="10.0"/><polyline points="772.7,3158.9 774.7,3161.2 776.7,3163.5 778.7,3162.7 780.7,3160.0 782.7,3160.4" stroke-width="10.5"/><polyline points="782.7,3160.4 784.7,3163.0 786.7,3163.0 788.7,3162.5 790.7,3164.5 792.7,3166.2 794.7,3165.7 796.7,3165.5 798.7,3165.7 800.7,3164.3 802.7,3162.9 804.7,3164.3 806.7,3167.9 808.7,3168.8 810.7,3166.7 812.7,3166.1 814.7,3166.8 816.7,3167.6 818.7,3168.0 820.7,3167.1 822.7,3165.6 824.7,3164.3 826.7,3162.5 828.7,3161.8 830.7,3163.6 832.7,3164.9 834.7,3165.5 836.7,3165.3 838.7,3164.5 840.7,3165.2 842.7,3166.6 844.7,3166.2 846.7,3164.9 848.7,3165.2 850.7,3166.8 852.7,3167.3 854.7,3166.9 856.7,3167.0 858.7,3167.5 860.7,3168.8 862.7,3169.6 864.7,3167.2 866.7,3166.5 868.7,3168.3 870.7,3167.2 872.7,3166.0 874.7,3165.4 876.7,3164.4 878.7,3165.9 880.7,3167.3 882.7,3166.6 884.7,3166.8 886.7,3168.1 888.7,3168.0 890.7,3167.2 892.7,3166.7 894.7,3165.9 896.7,3165.1 898.7,3164.1 900.7,3164.6 902.7,3166.5 904.7,3167.5 906.7,3167.3 908.7,3166.3 910.7,3165.7 912.7,3165.9 914.7,3167.0 916.7,3168.4 918.7,3168.8 920.7,3167.5 922.7,3166.0 924.7,3165.6 926.7,3164.1 928.7,3163.5 930.7,3165.5 932.7,3167.1 934.7,3167.9 936.7,3167.1 938.7,3164.7 940.7,3164.3 942.7,3165.7 944.7,3166.5 946.7,3165.9 948.7,3164.5 950.7,3165.3 952.7,3167.8 954.7,3167.9 956.7,3166.5 958.7,3166.9 960.7,3165.5 962.7,3164.5 964.7,3165.7 966.7,3164.3 968.7,3163.8 970.7,3166.2 972.7,3167.1 974.7,3165.6 976.7,3163.4 978.7,3162.8 980.7,3162.7 982.7,3161.1 984.7,3162.2 986.7,3165.5 988.7,3166.8 990.7,3166.7 992.7,3165.0 994.7,3163.4 996.7,3162.9 998.7,3162.5 1000.7,3164.5 1002.7,3165.3 1004.7,3163.8 1006.7,3164.1 1008.7,3163.9 1010.7,3161.7 1012.7,3160.2 1014.7,3161.9 1016.7,3162.5 1018.7,3160.5 1020.7,3160.1 1022.7,3159.8 1024.7,3160.0 1026.7,3161.9 1028.7,3162.1 1030.7,3161.8 1032.7,3161.7 1034.7,3162.3 1036.7,3163.6 1038.7,3160.7" stroke-width="11.0"/><polyline points="1038.7,3160.7 1040.7,3158.2 1042.7,3159.5 1044.7,3159.1 1046.7,3156.8 1048.7,3156.7 1050.7,3158.0 1052.7,3157.9 1054.7,3157.4" stroke-width="10.5"/><polyline points="1054.7,3157.4 1056.7,3156.5 1058.7,3155.4 1060.7,3155.2 1062.7,3154.4" stroke-width="10.0"/><polyline points="1062.7,3154.4 1064.7,3152.5 1066.7,3150.9 1068.7,3150.5" stroke-width="9.5"/><polyline points="1068.7,3150.5 1070.7,3151.1 1072.7,3150.5 1074.7,3148.1" stroke-width="9.0"/><polyline points="1074.7,3148.1 1076.7,3146.3 1078.7,3144.9 1080.7,3142.5" stroke-width="8.5"/><polyline points="1080.7,3142.5 1082.7,3139.1 1084.7,3134.2 1086.7,3128.4 1088.7,3125.8 1090.7,3125.0" stroke-width="8.0"/><polyline points="1090.7,3125.0 1092.7,3121.3 1094.7,3115.4 1096.7,3108.8 1098.7,3101.6 1100.7,3092.7 1102.7,3083.4 1104.7,3073.6 1106.7,3059.7 1108.7,3041.9 1110.7,3022.7 1112.7,3000.7 1114.7,2974.5 1116.7,2944.6 1118.7,2912.6 1120.7,2880.2 1122.7,2848.9 1124.7,2826.0 1126.7,2816.9 1128.7,2820.6 1130.7,2835.1 1132.7,2858.0 1134.7,2887.9 1136.7,2922.3 1138.7,2954.7 1140.7,2981.7 1142.7,3004.5 1144.7,3024.2 1146.7,3043.9 1148.7,3061.7 1150.7,3073.5 1152.7,3083.9 1154.7,3094.6 1156.7,3102.7 1158.7,3109.2 1160.7,3116.5 1162.7,3122.6 1164.7,3126.0" stroke-width="7.5"/><polyline points="1164.7,3126.0 1166.7,3128.9 1168.7,3131.3 1170.7,3134.1 1172.7,3138.3 1174.7,3140.4 1176.7,3141.6" stroke-width="8.0"/><polyline points="1176.7,3141.6 1178.7,3145.0 1180.7,3148.1 1182.7,3150.0" stroke-width="8.5"/><polyline points="1182.7,3150.0 1184.7,3152.0 1186.7,3153.0 1188.7,3152.9" stroke-width="9.0"/><polyline points="1188.7,3152.9 1190.7,3153.8 1192.7,3154.2 1194.7,3154.6" stroke-width="9.5"/><polyline points="1194.7,3154.6 1196.7,3156.6 1198.7,3157.5 1200.7,3158.1 1202.7,3158.4" stroke-width="10.0"/><polyline points="1202.7,3158.4 1204.7,3158.7 1206.7,3160.7 1208.7,3161.9 1210.7,3159.5 1212.7,3158.2 1214.7,3161.1 1216.7,3161.9 1218.7,3160.7" stroke-width="10.5"/><polyline points="1218.7,3160.7 1220.7,3160.5 1222.7,3160.6 1224.7,3162.1 1226.7,3163.0 1228.7,3162.5 1230.7,3162.8 1232.7,3163.0 1234.7,3163.0 1236.7,3163.7 1238.7,3165.0 1240.7,3165.8 1242.7,3165.7 1244.7,3166.7 1246.7,3166.2 1248.7,3164.4 1250.7,3164.7 1252.7,3164.9 1254.7,3165.1 1256.7,3165.9 1258.7,3164.9 1260.7,3164.9 1262.7,3166.8 1264.7,3167.4 1266.7,3167.9 1268.7,3168.1 1270.7,3164.4 1272.7,3162.0 1274.7,3162.7 1276.7,3163.3 1278.7,3163.9 1280.7,3163.4 1282.7,3163.0 1284.7,3163.1 1286.7,3161.5 1288.7,3160.1 1290.7,3161.6 1292.7,3163.6 1294.7,3164.0" stroke-width="11.0"/><polyline points="1294.7,3164.0 1296.7,3164.7 1298.7,3165.2 1300.7,3163.6 1302.7,3161.0 1304.7,3159.8 1306.7,3161.1 1308.7,3162.6" stroke-width="10.5"/><polyline points="1308.7,3162.6 1310.7,3162.1 1312.7,3159.5 1314.7,3157.1 1316.7,3156.9" stroke-width="10.0"/><polyline points="1316.7,3156.9 1318.7,3157.2 1320.7,3155.3 1322.7,3151.6" stroke-width="9.5"/><polyline points="1322.7,3151.6 1324.7,3149.9 1326.7,3149.7" stroke-width="9.0"/><polyline points="1326.7,3149.7 1328.7,3148.0 1330.7,3145.8 1332.7,3144.0" stroke-width="8.5"/><polyline points="1332.7,3144.0 1334.7,3142.0 1336.7,3139.3 1338.7,3135.2 1340.7,3129.7" stroke-width="8.0"/><polyline points="1340.7,3129.7 1342.7,3124.1 1344.7,3119.7 1346.7,3114.7 1348.7,3108.1 1350.7,3100.4 1352.7,3090.8 1354.7,3077.7 1356.7,3063.7 1358.7,3051.0 1360.7,3035.6 1362.7,3016.4 1364.7,2998.2 1366.7,2983.0 1368.7,2968.8 1370.7,2956.1 1372.7,2948.5 1374.7,2948.9 1376.7,2956.7 1378.7,2967.4 1380.7,2980.2 1382.7,2997.4 1384.7,3017.5 1386.7,3035.1 1388.7,3049.5 1390.7,3063.9 1392.7,3078.0 1394.7,3089.3 1396.7,3098.4 1398.7,3105.0 1400.7,3110.6 1402.7,3116.9 1404.7,3123.4 1406.7,3127.6" stroke-width="7.5"/><polyline points="1406.7,3127.6 1408.7,3130.6 1410.7,3134.8 1412.7,3137.9 1414.7,3141.0" stroke-width="8.0"/><polyline points="1414.7,3141.0 1416.7,3144.7 1418.7,3146.3" stroke-width="8.5"/><polyline points="1418.7,3146.3 1420.7,3146.0" stroke-width="9.0"/><polyline points="1420.7,3146.0 1422.7,3144.9" stroke-width="9.5"/><polyline points="1422.7,3144.9 1424.7,3144.0 1426.7,3144.4 1428.7,3145.8 1430.7,3146.0" stroke-width="10.5"/><polyline points="1430.7,3146.0 1432.7,3143.4" stroke-width="9.5"/><polyline points="1432.7,3143.4 1434.7,3141.2" stroke-width="9.0"/><polyline points="1434.7,3141.2 1436.7,3140.3 1438.7,3139.1" stroke-width="8.5"/><polyline points="1438.7,3139.1 1440.7,3137.5 1442.7,3134.3 1444.7,3131.2" stroke-width="8.0"/><polyline points="1444.7,3131.2 1446.7,3130.3 1448.7,3128.6 1450.7,3127.0 1452.7,3128.7" stroke-width="8.5"/><polyline points="1452.7,3128.7 1454.7,3132.9 1456.7,3138.1 1458.7,3142.4 1460.7,3144.8 1462.7,3147.2 1464.7,3150.5 1466.7,3153.1" stroke-width="8.0"/><polyline points="1466.7,3153.1 1468.7,3154.9 1470.7,3157.3 1472.7,3158.7" stroke-width="8.5"/><polyline points="1472.7,3158.7 1474.7,3160.3 1476.7,3162.5" stroke-width="9.0"/><polyline points="1476.7,3162.5 1478.7,3165.3 1480.7,3166.8" stroke-width="9.5"/><polyline points="1480.7,3166.8 1482.7,3163.7 1484.7,3161.1 1486.7,3163.2" stroke-width="10.0"/><polyline points="1486.7,3163.2 1488.7,3165.7 1490.7,3166.5 1492.7,3167.5 1494.7,3168.3 1496.7,3167.6 1498.7,3167.3" stroke-width="10.5"/><polyline points="1498.7,3167.3 1500.7,3169.5 1502.7,3170.2 1504.7,3169.3 1506.7,3171.9 1508.7,3173.5 1510.7,3170.6 1512.7,3168.2 1514.7,3168.4 1516.7,3169.9 1518.7,3172.4 1520.7,3173.0 1522.7,3170.9 1524.7,3169.2 1526.7,3168.5 1528.7,3169.6 1530.7,3169.9 1532.7,3169.2 1534.7,3171.3 1536.7,3173.5 1538.7,3173.0 1540.7,3170.4 1542.7,3168.9 1544.7,3169.5 1546.7,3169.0 1548.7,3168.3 1550.7,3168.8 1552.7,3170.7 1554.7,3173.8 1556.7,3174.6 1558.7,3172.8 1560.7,3171.9 1562.7,3172.7 1564.7,3172.9 1566.7,3172.2 1568.7,3171.7 1570.7,3171.1 1572.7,3170.3 1574.7,3170.7 1576.7,3170.8 1578.7,3170.3 1580.7,3171.0 1582.7,3171.2 1584.7,3171.8 1586.7,3173.7 1588.7,3174.2 1590.7,3173.6 1592.7,3174.3 1594.7,3174.7 1596.7,3174.8 1598.7,3173.7 1600.7,3172.2 1602.7,3173.2 1604.7,3173.3 1606.7,3171.9 1608.7,3172.4 1610.7,3174.2 1612.7,3174.8 1614.7,3173.2 1616.7,3170.3 1618.7,3169.7 1620.7,3171.8 1622.7,3172.6 1624.7,3172.3 1626.7,3173.3 1628.7,3173.8 1630.7,3172.7 1632.7,3172.3 1634.7,3173.9 1636.7,3175.0 1638.7,3174.7 1640.7,3172.7 1642.7,3171.0 1644.7,3172.3 1646.7,3173.3 1648.7,3171.7 1650.7,3170.9 1652.7,3172.4 1654.7,3172.4 1656.7,3170.3 1658.7,3169.3 1660.7,3169.8 1662.7,3171.5 1664.7,3173.3 1666.7,3173.5 1668.7,3172.5 1670.7,3172.7 1672.7,3172.4 1674.7,3171.0 1676.7,3170.2 1678.7,3170.4 1680.7,3170.7 1682.7,3171.0 1684.7,3171.8 1686.7,3172.5 1688.7,3172.5 1690.7,3171.0 1692.7,3170.5 1694.7,3171.6 1696.7,3171.1 1698.7,3170.7 1700.7,3171.9 1702.7,3171.8 1704.7,3169.9 1706.7,3167.6" stroke-width="11.0"/><polyline points="1706.7,3167.6 1708.7,3168.7 1710.7,3171.2 1712.7,3170.4" stroke-width="10.5"/><polyline points="1712.7,3170.4 1714.7,3167.9 1716.7,3165.9" stroke-width="10.0"/><polyline points="1716.7,3165.9 1718.7,3165.0" stroke-width="9.5"/><polyline points="1718.7,3165.0 1720.7,3164.3 1722.7,3162.3" stroke-width="9.0"/><polyline points="1722.7,3162.3 1724.7,3158.9 1726.7,3155.1" stroke-width="8.5"/><polyline points="1726.7,3155.1 1728.7,3153.0 1730.7,3152.0 1732.7,3150.8" stroke-width="8.0"/><polyline points="1732.7,3150.8 1734.7,3148.7 1736.7,3145.8" stroke-width="8.5"/><polyline points="1736.7,3145.8 1738.7,3143.6 1740.7,3144.0 1742.7,3145.3 1744.7,3146.6" stroke-width="9.0"/><polyline points="1744.7,3146.6 1746.7,3149.4 1748.7,3152.6" stroke-width="8.5"/><polyline points="1748.7,3152.6 1750.7,3156.4 1752.7,3160.1" stroke-width="8.0"/><polyline points="1752.7,3160.1 1754.7,3161.8 1756.7,3164.2 1758.7,3166.7" stroke-width="8.5"/><polyline points="1758.7,3166.7 1760.7,3166.7" stroke-width="9.0"/><polyline points="1760.7,3166.7 1762.7,3165.6 1764.7,3166.3" stroke-width="9.5"/><polyline points="1764.7,3166.3 1766.7,3168.1" stroke-width="10.0"/><polyline points="1766.7,3168.1 1768.7,3166.3 1770.7,3165.8 1772.7,3167.8" stroke-width="10.5"/><polyline points="1772.7,3167.8 1774.7,3166.9 1776.7,3166.2 1778.7,3166.8 1780.7,3166.0 1782.7,3166.0 1784.7,3168.6 1786.7,3170.7 1788.7,3170.8 1790.7,3169.7 1792.7,3168.7 1794.7,3169.5 1796.7,3171.4 1798.7,3171.2 1800.7,3169.8 1802.7,3169.0 1804.7,3168.7 1806.7,3168.9 1808.7,3168.5 1810.7,3168.6 1812.7,3167.6 1814.7,3166.5 1816.7,3168.7 1818.7,3169.5 1820.7,3168.1 1822.7,3168.1 1824.7,3168.8 1826.7,3169.5 1828.7,3170.0 1830.7,3170.3 1832.7,3170.5 1834.7,3169.3 1836.7,3167.1 1838.7,3167.2 1840.7,3169.5 1842.7,3170.3 1844.7,3169.0 1846.7,3167.5 1848.7,3167.3 1850.7,3168.5 1852.7,3169.4 1854.7,3168.1 1856.7,3166.9 1858.7,3167.9 1860.7,3170.4 1862.7,3171.4 1864.7,3170.6 1866.7,3170.4 1868.7,3169.4 1870.7,3168.2 1872.7,3168.7 1874.7,3169.6 1876.7,3169.9 1878.7,3170.0 1880.7,3170.5 1882.7,3171.3 1884.7,3170.5 1886.7,3168.5 1888.7,3168.2 1890.7,3169.6 1892.7,3169.4" stroke-width="11.0"/><polyline points="1892.7,3169.4 1894.7,3168.1 1896.7,3167.0 1898.7,3165.7" stroke-width="10.5"/><polyline points="1898.7,3165.7 1900.7,3165.1" stroke-width="10.0"/><polyline points="1900.7,3165.1 1902.7,3164.5 1904.7,3162.8" stroke-width="9.5"/><polyline points="1904.7,3162.8 1906.7,3163.0 1908.7,3163.3" stroke-width="9.0"/><polyline points="1908.7,3163.3 1910.7,3159.9 1912.7,3156.8 1914.7,3154.6" stroke-width="8.5"/><polyline points="1914.7,3154.6 1916.7,3151.8 1918.7,3149.8 1920.7,3145.6 1922.7,3140.5 1924.7,3137.1 1926.7,3134.3 1928.7,3131.2 1930.7,3127.6 1932.7,3123.0 1934.7,3117.9 1936.7,3115.5 1938.7,3114.8 1940.7,3112.6" stroke-width="8.0"/><polyline points="1940.7,3112.6 1942.7,3110.5 1944.7,3109.6" stroke-width="8.5"/><polyline points="1944.7,3109.6 1946.7,3108.7" stroke-width="9.5"/><polyline points="1946.7,3108.7 1948.7,3107.6 1950.7,3108.1 1952.7,3109.6" stroke-width="10.0"/><polyline points="1952.7,3109.6 1954.7,3108.9" stroke-width="9.5"/><polyline points="1954.7,3108.9 1956.7,3107.6 1958.7,3110.2" stroke-width="8.5"/><polyline points="1958.7,3110.2 1960.7,3115.6 1962.7,3120.6 1964.7,3124.3 1966.7,3128.3 1968.7,3132.2 1970.7,3134.2 1972.7,3136.3 1974.7,3139.0 1976.7,3139.9" stroke-width="8.0"/><polyline points="1976.7,3139.9 1978.7,3141.2 1980.7,3142.6" stroke-width="8.5"/><polyline points="1980.7,3142.6 1982.7,3144.3" stroke-width="9.5"/><polyline points="1982.7,3144.3 1984.7,3148.8 1986.7,3150.3 1988.7,3146.6" stroke-width="10.0"/><polyline points="1988.7,3146.6 1990.7,3142.3" stroke-width="9.5"/><polyline points="1990.7,3142.3 1992.7,3139.8" stroke-width="9.0"/><polyline points="1992.7,3139.8 1994.7,3138.9 1996.7,3136.2" stroke-width="8.5"/><polyline points="1996.7,3136.2 1998.7,3132.1 2000.7,3129.8" stroke-width="8.0"/><polyline points="2000.7,3129.8 2002.7,3129.0 2004.7,3128.1" stroke-width="8.5"/><polyline points="2004.7,3128.1 2006.7,3127.0" stroke-width="9.0"/><polyline points="2006.7,3127.0 2008.7,3125.7 2010.7,3126.9" stroke-width="9.5"/><polyline points="2010.7,3126.9 2012.7,3131.6" stroke-width="9.0"/><polyline points="2012.7,3131.6 2014.7,3134.4" stroke-width="8.5"/><polyline points="2014.7,3134.4 2016.7,3134.8 2018.7,3136.5 2020.7,3140.9 2022.7,3146.6 2024.7,3150.5 2026.7,3153.7 2028.7,3156.4 2030.7,3158.4" stroke-width="8.0"/><polyline points="2030.7,3158.4 2032.7,3161.1 2034.7,3161.9 2036.7,3162.2" stroke-width="8.5"/><polyline points="2036.7,3162.2 2038.7,3164.3" stroke-width="9.0"/><polyline points="2038.7,3164.3 2040.7,3165.1" stroke-width="9.5"/><polyline points="2040.7,3165.1 2042.7,3166.0 2044.7,3167.0" stroke-width="10.0"/><polyline points="2044.7,3167.0 2046.7,3165.8 2048.7,3166.5" stroke-width="10.5"/><polyline points="2048.7,3166.5 2050.7,3167.4 2052.7,3166.8 2054.7,3168.0 2056.7,3168.7 2058.7,3166.6 2060.7,3165.7 2062.7,3167.2 2064.7,3169.2 2066.7,3170.2 2068.7,3168.9 2070.7,3167.9 2072.7,3169.4 2074.7,3170.5 2076.7,3169.0 2078.7,3165.9 2080.7,3164.8 2082.7,3166.2 2084.7,3167.4 2086.7,3167.4 2088.7,3166.3 2090.7,3166.6 2092.7,3166.9 2094.7,3165.2 2096.7,3165.6 2098.7,3168.1 2100.7,3169.5 2102.7,3170.2 2104.7,3170.7 2106.7,3170.2 2108.7,3169.9 2110.7,3169.8 2112.7,3168.0 2114.7,3166.5 2116.7,3166.9 2118.7,3167.2 2120.7,3167.4 2122.7,3168.1 2124.7,3167.0 2126.7,3165.9 2128.7,3166.5 2130.7,3167.1 2132.7,3166.4 2134.7,3164.0 2136.7,3164.2 2138.7,3167.1 2140.7,3168.3 2142.7,3169.1 2144.7,3169.7 2146.7,3168.2 2148.7,3167.6 2150.7,3168.4 2152.7,3168.2 2154.7,3168.9 2156.7,3169.5 2158.7,3168.3 2160.7,3167.2 2162.7,3167.2 2164.7,3168.2 2166.7,3169.4 2168.7,3169.8 2170.7,3170.4 2172.7,3170.7 2174.7,3169.2 2176.7,3167.8 2178.7,3168.2 2180.7,3169.1 2182.7,3168.4 2184.7,3166.5 2186.7,3165.7 2188.7,3167.2 2190.7,3167.0 2192.7,3164.2 2194.7,3164.0 2196.7,3165.2 2198.7,3165.9 2200.7,3166.8 2202.7,3167.1 2204.7,3167.5 2206.7,3168.7 2208.7,3169.1 2210.7,3168.1 2212.7,3167.5 2214.7,3167.4 2216.7,3167.2 2218.7,3166.3 2220.7,3165.9 2222.7,3167.7 2224.7,3168.2 2226.7,3166.7 2228.7,3166.5 2230.7,3165.8 2232.7,3165.7 2234.7,3168.2" stroke-width="11.0"/></g>
<g fill="none" stroke="#ff4040" stroke-linejoin="round" stroke-linecap="round"><polyline points="200.7,3324.5 202.7,3324.0 204.7,3324.8 206.7,3327.2 208.7,3328.6 210.7,3327.9 212.7,3329.7 214.7,3331.0 216.7,3329.2 218.7,3328.8 220.7,3330.8 222.7,3333.3 224.7,3334.5 226.7,3334.2 228.7,3333.3 230.7,3331.2 232.7,3329.1 234.7,3328.4 236.7,3329.4 238.7,3331.4 240.7,3331.9 242.7,3332.0 244.7,3333.4 246.7,3333.5 248.7,3332.5 250.7,3334.0 252.7,3336.6 254.7,3335.6 256.7,3333.3 258.7,3334.6 260.7,3336.9 262.7,3337.0 264.7,3338.1 266.7,3337.5 268.7,3335.5 270.7,3337.0 272.7,3337.1 274.7,3335.7 276.7,3336.8 278.7,3338.7 280.7,3339.4 282.7,3338.9 284.7,3339.0 286.7,3341.3 288.7,3343.3 290.7,3343.6 292.7,3343.6 294.7,3344.6 296.7,3344.8 298.7,3343.6 300.7,3343.0 302.7,3343.0 304.7,3343.2 306.7,3342.3 308.7,3340.4 310.7,3341.3 312.7,3341.8 314.7,3339.7 316.7,3341.1 318.7,3344.0 320.7,3343.2 322.7,3343.0 324.7,3344.2 326.7,3343.7 328.7,3343.2 330.7,3343.7 332.7,3344.2 334.7,3344.8 336.7,3346.8 338.7,3348.5 340.7,3348.9 342.7,3349.4 344.7,3349.4 346.7,3349.0 348.7,3348.5 350.7,3347.9 352.7,3348.4 354.7,3348.0 356.7,3347.6 358.7,3349.2 360.7,3350.2 362.7,3349.5 364.7,3347.1 366.7,3346.8 368.7,3349.9 370.7,3349.4 372.7,3347.8 374.7,3349.4 376.7,3350.6 378.7,3351.2 380.7,3352.1 382.7,3352.8 384.7,3352.7 386.7,3352.3 388.7,3353.1 390.7,3353.0 392.7,3352.2 394.7,3353.7 396.7,3354.0 398.7,3352.7 400.7,3352.5 402.7,3352.8 404.7,3353.9 406.7,3354.5 408.7,3354.1 410.7,3355.2 412.7,3356.3 414.7,3356.8 416.7,3356.9 418.7,3356.1 420.7,3357.3 422.7,3358.6 424.7,3356.7 426.7,3355.2 428.7,3355.7 430.7,3355.9 432.7,3355.1 434.7,3354.0 436.7,3352.9 438.7,3352.9 440.7,3353.4 442.7,3353.8 444.7,3355.4 446.7,3356.7 448.7,3355.5 450.7,3354.6 452.7,3356.0 454.7,3355.9 456.7,3354.9 458.7,3355.0 460.7,3354.7 462.7,3354.4 464.7,3355.4 466.7,3356.2 468.7,3355.3 470.7,3355.1 472.7,3356.2" stroke-width="11.0"/><polyline points="472.7,3356.2 474.7,3357.3 476.7,3356.2 478.7,3354.4 480.7,3354.8 482.7,3355.1 484.7,3355.0 486.7,3353.7" stroke-width="10.5"/><polyline points="486.7,3353.7 488.7,3351.3 490.7,3350.1 492.7,3349.7 494.7,3350.3 496.7,3350.5" stroke-width="10.0"/><polyline points="496.7,3350.5 498.7,3347.8 500.7,3346.9 502.7,3347.1" stroke-width="9.5"/><polyline points="502.7,3347.1 504.7,3344.0 506.7,3341.6 508.7,3339.9" stroke-width="9.0"/><polyline points="508.7,3339.9 510.7,3337.9 512.7,3338.1 514.7,3336.9 516.7,3333.4" stroke-width="8.5"/><polyline points="516.7,3333.4 518.7,3330.0 520.7,3325.8 522.7,3321.4 524.7,3317.9" stroke-width="8.0"/><polyline points="524.7,3317.9 526.7,3312.6 528.7,3307.1 530.7,3302.5 532.7,3294.5 534.7,3283.8 536.7,3273.6 538.7,3260.2 540.7,3241.2 542.7,3219.6 544.7,3195.6 546.7,3167.2 548.7,3135.8 550.7,3102.2 552.7,3063.5 554.7,3020.0 556.7,2974.7 558.7,2928.8 560.7,2883.4 562.7,2840.7 564.7,2805.4 566.7,2780.4 568.7,2765.6 570.7,2765.2 572.7,2778.7 574.7,2802.5 576.7,2835.7 578.7,2875.5 580.7,2920.7 582.7,2967.9 584.7,3011.6 586.7,3052.1 588.7,3092.0 590.7,3129.4 592.7,3162.1 594.7,3191.3 596.7,3215.9 598.7,3236.0 600.7,3254.3 602.7,3269.9 604.7,3281.3 606.7,3290.7 608.7,3299.7 610.7,3306.6 612.7,3312.6 614.7,3318.3 616.7,3322.9" stroke-width="7.5"/><polyline points="616.7,3322.9 618.7,3326.2 620.7,3327.8 622.7,3329.2 624.7,3331.7" stroke-width="8.0"/><polyline points="624.7,3331.7 626.7,3333.7 628.7,3334.5" stroke-width="8.5"/><polyline points="628.7,3334.5 630.7,3335.3 632.7,3336.1" stroke-width="9.0"/><polyline points="632.7,3336.1 634.7,3337.2" stroke-width="9.5"/><polyline points="634.7,3337.2 636.7,3340.3 638.7,3342.7" stroke-width="10.0"/><polyline points="638.7,3342.7 640.7,3341.7 642.7,3340.9" stroke-width="10.5"/><polyline points="642.7,3340.9 644.7,3341.0 646.7,3340.5" stroke-width="11.0"/><polyline points="646.7,3340.5 648.7,3341.4 650.7,3342.0" stroke-width="10.5"/><polyline points="650.7,3342.0 652.7,3340.7" stroke-width="10.0"/><polyline points="652.7,3340.7 654.7,3339.7" stroke-width="9.5"/><polyline points="654.7,3339.7 656.7,3337.1" stroke-width="9.0"/><polyline points="656.7,3337.1 658.7,3332.6" stroke-width="8.5"/><polyline points="658.7,3332.6 660.7,3329.3 662.7,3325.8 664.7,3322.3" stroke-width="8.0"/><polyline points="664.7,3322.3 666.7,3319.1 668.7,3313.6 670.7,3305.2 672.7,3296.1 674.7,3287.2 676.7,3278.5 678.7,3269.0 680.7,3256.4 682.7,3243.8 684.7,3232.5 686.7,3221.9 688.7,3214.0 690.7,3210.6 692.7,3210.6 694.7,3213.1 696.7,3219.9 698.7,3229.7 700.7,3239.5 702.7,3249.8 704.7,3261.9 706.7,3274.2 708.7,3286.0 710.7,3297.4 712.7,3306.3 714.7,3313.0 716.7,3319.5 718.7,3326.1 720.7,3330.6 722.7,3333.7" stroke-width="7.5"/><polyline points="722.7,3333.7 724.7,3339.1 726.7,3344.1 728.7,3344.5 730.7,3345.6" stroke-width="8.0"/><polyline points="730.7,3345.6 732.7,3349.4 734.7,3350.9" stroke-width="8.5"/><polyline points="734.7,3350.9 736.7,3351.6" stroke-width="9.0"/><polyline points="736.7,3351.6 738.7,3352.3 740.7,3351.4 742.7,3351.0" stroke-width="9.5"/><polyline points="742.7,3351.0 744.7,3352.8 746.7,3355.6 748.7,3358.1 750.7,3359.7" stroke-width="10.0"/><polyline points="750.7,3359.7 752.7,3359.2 754.7,3357.4 756.7,3355.9 758.7,3355.7 760.7,3357.7 762.7,3359.0 764.7,3357.0 766.7,3356.5" stroke-width="10.5"/><polyline points="766.7,3356.5 768.7,3360.0 770.7,3361.2 772.7,3360.1 774.7,3361.3 776.7,3363.2 778.7,3362.3 780.7,3360.2 782.7,3360.2 784.7,3361.4 786.7,3362.7 788.7,3362.0 790.7,3360.9 792.7,3362.2 794.7,3362.4 796.7,3360.3 798.7,3359.8 800.7,3361.1 802.7,3362.0 804.7,3361.2 806.7,3359.8 808.7,3360.4 810.7,3362.8 812.7,3363.7 814.7,3363.1 816.7,3364.8 818.7,3366.3 820.7,3364.8 822.7,3363.2 824.7,3363.5 826.7,3364.7 828.7,3365.3 830.7,3364.9 832.7,3364.7 834.7,3365.4 836.7,3365.6 838.7,3365.8 840.7,3365.5 842.7,3364.4 844.7,3365.1 846.7,3366.1 848.7,3367.5 850.7,3368.3 852.7,3366.6 854.7,3365.4 856.7,3366.4 858.7,3368.4 860.7,3368.6 862.7,3367.4 864.7,3367.9 866.7,3368.9 868.7,3366.8 870.7,3364.0 872.7,3363.9 874.7,3365.3 876.7,3366.0 878.7,3366.6 880.7,3367.4 882.7,3367.6 884.7,3367.6 886.7,3367.4 888.7,3367.8 890.7,3368.5 892.7,3369.6 894.7,3371.0 896.7,3370.7 898.7,3368.6 900.7,3365.9 902.7,3363.3 904.7,3363.2 906.7,3367.4 908.7,3369.9 910.7,3368.2 912.7,3367.8 914.7,3369.2 916.7,3368.3 918.7,3366.5 920.7,3365.0 922.7,3365.9 924.7,3368.7 926.7,3368.3 928.7,3366.1 930.7,3366.8 932.7,3367.0 934.7,3365.7 936.7,3365.6 938.7,3365.7 940.7,3366.4 942.7,3367.3 944.7,3367.3 946.7,3366.3 948.7,3365.5 950.7,3365.1 952.7,3364.7 954.7,3364.6 956.7,3364.3 958.7,3365.1 960.7,3366.2 962.7,3366.5 964.7,3367.3 966.7,3367.6 968.7,3366.2 970.7,3364.6 972.7,3365.8 974.7,3367.6 976.7,3367.6 978.7,3367.6 980.7,3366.1 982.7,3363.5 984.7,3364.0 986.7,3364.6 988.7,3362.6 990.7,3361.4 992.7,3362.0" stroke-width="11.0"/><polyline points="992.7,3362.0 994.7,3363.5 996.7,3365.2 998.7,3364.2 1000.7,3360.8 1002.7,3358.6 1004.7,3358.4 1006.7,3358.6 1008.7,3359.4" stroke-width="10.5"/><polyline points="1008.7,3359.4 1010.7,3359.7 1012.7,3357.4 1014.7,3356.2 1016.7,3356.4" stroke-width="10.0"/><polyline points="1016.7,3356.4 1018.7,3355.1 1020.7,3353.0 1022.7,3352.2" stroke-width="9.5"/><polyline points="1022.7,3352.2 1024.7,3352.0 1026.7,3350.4 1028.7,3348.0" stroke-width="9.0"/><polyline points="1028.7,3348.0 1030.7,3346.4 1032.7,3346.3 1034.7,3344.6" stroke-width="8.5"/><polyline points="1034.7,3344.6 1036.7,3340.5 1038.7,3338.6 1040.7,3335.8 1042.7,3330.8 1044.7,3328.2" stroke-width="8.0"/><polyline points="1044.7,3328.2 1046.7,3324.3 1048.7,3317.7 1050.7,3312.1 1052.7,3305.2 1054.7,3295.7 1056.7,3285.4 1058.7,3274.2 1060.7,3263.2 1062.7,3252.1 1064.7,3240.2 1066.7,3227.0 1068.7,3210.2 1070.7,3193.9 1072.7,3180.8 1074.7,3167.5 1076.7,3153.9 1078.7,3142.3 1080.7,3134.5 1082.7,3132.9 1084.7,3136.8 1086.7,3142.6 1088.7,3150.8 1090.7,3162.4 1092.7,3175.3 1094.7,3189.4 1096.7,3205.1 1098.7,3219.9 1100.7,3232.7 1102.7,3245.3 1104.7,3258.3 1106.7,3271.8 1108.7,3283.0 1110.7,3290.6 1112.7,3297.5 1114.7,3305.1 1116.7,3312.2 1118.7,3317.8 1120.7,3322.5 1122.7,3328.9" stroke-width="7.5"/><polyline points="1122.7,3328.9 1124.7,3335.4 1126.7,3337.5 1128.7,3338.4 1130.7,3341.7 1132.7,3345.8" stroke-width="8.0"/><polyline points="1132.7,3345.8 1134.7,3348.3 1136.7,3347.9 1138.7,3348.1" stroke-width="8.5"/><polyline points="1138.7,3348.1 1140.7,3351.9 1142.7,3354.9 1144.7,3355.6" stroke-width="9.0"/><polyline points="1144.7,3355.6 1146.7,3355.8 1148.7,3356.8 1150.7,3357.9" stroke-width="9.5"/><polyline points="1150.7,3357.9 1152.7,3358.4 1154.7,3358.9 1156.7,3358.6 1158.7,3358.3" stroke-width="10.0"/><polyline points="1158.7,3358.3 1160.7,3358.8 1162.7,3359.2 1164.7,3360.5 1166.7,3363.1 1168.7,3363.8 1170.7,3361.7 1172.7,3361.6 1174.7,3363.6" stroke-width="10.5"/><polyline points="1174.7,3363.6 1176.7,3363.8 1178.7,3363.7 1180.7,3364.7 1182.7,3364.7 1184.7,3364.4 1186.7,3365.8 1188.7,3364.9 1190.7,3362.4 1192.7,3363.1 1194.7,3364.7 1196.7,3365.3 1198.7,3364.9 1200.7,3364.1 1202.7,3364.6 1204.7,3365.6 1206.7,3365.6 1208.7,3366.6 1210.7,3368.4 1212.7,3366.7 1214.7,3364.4 1216.7,3365.0 1218.7,3365.1 1220.7,3364.2 1222.7,3364.0 1224.7,3362.6 1226.7,3361.7 1228.7,3364.1 1230.7,3365.8 1232.7,3365.3 1234.7,3363.9 1236.7,3363.1 1238.7,3363.7 1240.7,3364.5 1242.7,3365.1" stroke-width="11.0"/><polyline points="1242.7,3365.1 1244.7,3365.3 1246.7,3363.6 1248.7,3361.4 1250.7,3359.9 1252.7,3359.3 1254.7,3360.5 1256.7,3361.3" stroke-width="10.5"/><polyline points="1256.7,3361.3 1258.7,3360.9 1260.7,3360.3 1262.7,3358.9" stroke-width="10.0"/><polyline points="1262.7,3358.9 1264.7,3356.4 1266.7,3354.8 1268.7,3353.5" stroke-width="9.5"/><polyline points="1268.7,3353.5 1270.7,3350.8 1272.7,3348.0" stroke-width="9.0"/><polyline points="1272.7,3348.0 1274.7,3345.8 1276.7,3343.9 1278.7,3342.7" stroke-width="8.5"/><polyline points="1278.7,3342.7 1280.7,3341.1 1282.7,3337.8 1284.7,3333.3 1286.7,3330.0 1288.7,3325.5" stroke-width="8.0"/><polyline points="1288.7,3325.5 1290.7,3320.6 1292.7,3318.0 1294.7,3312.1 1296.7,3304.5 1298.7,3299.1 1300.7,3289.3 1302.7,3276.5 1304.7,3266.9 1306.7,3258.0 1308.7,3247.3 1310.7,3236.2 1312.7,3226.1 1314.7,3215.6 1316.7,3205.8 1318.7,3201.8 1320.7,3200.1" stroke-width="7.5"/><polyline points="1320.7,3200.1 1322.7,3198.6 1324.7,3201.0 1326.7,3205.7" stroke-width="8.0"/><polyline points="1326.7,3205.7 1328.7,3211.1 1330.7,3218.9 1332.7,3228.2 1334.7,3239.3 1336.7,3251.6 1338.7,3261.5 1340.7,3270.8 1342.7,3281.2 1344.7,3289.1 1346.7,3294.1 1348.7,3300.7 1350.7,3309.1 1352.7,3314.9 1354.7,3317.9 1356.7,3322.3" stroke-width="7.5"/><polyline points="1356.7,3322.3 1358.7,3328.6 1360.7,3332.4 1362.7,3333.6 1364.7,3334.9" stroke-width="8.0"/><polyline points="1364.7,3334.9 1366.7,3335.7" stroke-width="8.5"/><polyline points="1366.7,3335.7 1368.7,3336.2" stroke-width="9.0"/><polyline points="1368.7,3336.2 1370.7,3337.7" stroke-width="9.5"/><polyline points="1370.7,3337.7 1372.7,3339.3" stroke-width="10.0"/><polyline points="1372.7,3339.3 1374.7,3340.3 1376.7,3339.9 1378.7,3337.0 1380.7,3335.8" stroke-width="10.5"/><polyline points="1380.7,3335.8 1382.7,3336.5" stroke-width="10.0"/><polyline points="1382.7,3336.5 1384.7,3335.4 1386.7,3334.3 1388.7,3333.3" stroke-width="9.5"/><polyline points="1388.7,3333.3 1390.7,3330.8 1392.7,3330.1" stroke-width="10.0"/><polyline points="1392.7,3330.1 1394.7,3330.0 1396.7,3329.6 1398.7,3331.0" stroke-width="10.5"/><polyline points="1398.7,3331.0 1400.7,3332.8" stroke-width="10.0"/><polyline points="1400.7,3332.8 1402.7,3335.8" stroke-width="9.0"/><polyline points="1402.7,3335.8 1404.7,3338.6 1406.7,3340.5 1408.7,3342.8 1410.7,3343.9 1412.7,3345.5 1414.7,3349.1 1416.7,3351.9 1418.7,3353.5 1420.7,3354.8 1422.7,3356.6 1424.7,3359.6" stroke-width="8.5"/><polyline points="1424.7,3359.6 1426.7,3361.3 1428.7,3360.8" stroke-width="9.0"/><polyline points="1428.7,3360.8 1430.7,3359.9 1432.7,3360.3 1434.7,3362.6" stroke-width="9.5"/><polyline points="1434.7,3362.6 1436.7,3365.6 1438.7,3366.6 1440.7,3366.2" stroke-width="10.0"/><polyline points="1440.7,3366.2 1442.7,3365.9 1444.7,3366.5 1446.7,3367.3 1448.7,3366.5 1450.7,3367.0 1452.7,3369.5" stroke-width="10.5"/><polyline points="1452.7,3369.5 1454.7,3370.1 1456.7,3368.7 1458.7,3367.0 1460.7,3367.8 1462.7,3370.4 1464.7,3372.0 1466.7,3372.1 1468.7,3370.7 1470.7,3369.6 1472.7,3370.6 1474.7,3371.3 1476.7,3370.4 1478.7,3371.9 1480.7,3373.1 1482.7,3370.3 1484.7,3368.5 1486.7,3368.6 1488.7,3369.5 1490.7,3371.3 1492.7,3371.4 1494.7,3370.6 1496.7,3372.1 1498.7,3373.7 1500.7,3372.5 1502.7,3372.8 1504.7,3373.9 1506.7,3372.1 1508.7,3372.2 1510.7,3374.0 1512.7,3372.2 1514.7,3369.6 1516.7,3368.8 1518.7,3368.8 1520.7,3370.6 1522.7,3371.6 1524.7,3371.7 1526.7,3374.3 1528.7,3375.7 1530.7,3374.0 1532.7,3372.3 1534.7,3372.7 1536.7,3374.1 1538.7,3375.1 1540.7,3373.6 1542.7,3370.4 1544.7,3369.8 1546.7,3370.7 1548.7,3371.8 1550.7,3374.3 1552.7,3375.8 1554.7,3374.7 1556.7,3374.0 1558.7,3373.5 1560.7,3373.9 1562.7,3374.3 1564.7,3372.9 1566.7,3374.2 1568.7,3377.9 1570.7,3378.0 1572.7,3373.6 1574.7,3370.3 1576.7,3370.2 1578.7,3371.2 1580.7,3372.3 1582.7,3373.2 1584.7,3373.7 1586.7,3372.9 1588.7,3371.5 1590.7,3369.9 1592.7,3370.2 1594.7,3370.0 1596.7,3369.0 1598.7,3371.2 1600.7,3373.1 1602.7,3372.6 1604.7,3372.0 1606.7,3371.0 1608.7,3370.0 1610.7,3370.3 1612.7,3370.6 1614.7,3370.9 1616.7,3371.2 1618.7,3370.1 1620.7,3368.9 1622.7,3370.5 1624.7,3372.8 1626.7,3371.9 1628.7,3369.3" stroke-width="11.0"/><polyline points="1628.7,3369.3 1630.7,3368.6 1632.7,3369.4 1634.7,3367.7 1636.7,3365.1 1638.7,3366.4" stroke-width="10.5"/><polyline points="1638.7,3366.4 1640.7,3367.1 1642.7,3364.6 1644.7,3363.3 1646.7,3362.9" stroke-width="10.0"/><polyline points="1646.7,3362.9 1648.7,3362.0 1650.7,3360.6 1652.7,3357.5" stroke-width="9.5"/><polyline points="1652.7,3357.5 1654.7,3355.3 1656.7,3356.0 1658.7,3356.3 1660.7,3354.2 1662.7,3351.7 1664.7,3352.1 1666.7,3352.4 1668.7,3349.3" stroke-width="9.0"/><polyline points="1668.7,3349.3 1670.7,3346.5 1672.7,3345.6" stroke-width="9.5"/><polyline points="1672.7,3345.6 1674.7,3346.1" stroke-width="10.0"/><polyline points="1674.7,3346.1 1676.7,3347.7 1678.7,3348.7 1680.7,3348.3 1682.7,3348.4" stroke-width="10.5"/><polyline points="1682.7,3348.4 1684.7,3349.8" stroke-width="10.0"/><polyline points="1684.7,3349.8 1686.7,3351.1 1688.7,3351.8" stroke-width="9.5"/><polyline points="1688.7,3351.8 1690.7,3353.6 1692.7,3355.3 1694.7,3355.5 1696.7,3355.9 1698.7,3356.8 1700.7,3359.3" stroke-width="9.0"/><polyline points="1700.7,3359.3 1702.7,3361.8 1704.7,3362.1 1706.7,3364.3 1708.7,3367.0" stroke-width="9.5"/><polyline points="1708.7,3367.0 1710.7,3366.3 1712.7,3364.8 1714.7,3363.1" stroke-width="10.0"/><polyline points="1714.7,3363.1 1716.7,3362.0 1718.7,3363.4 1720.7,3366.1 1722.7,3368.7 1724.7,3368.6" stroke-width="10.5"/><polyline points="1724.7,3368.6 1726.7,3367.4 1728.7,3368.0 1730.7,3369.4 1732.7,3371.7 1734.7,3372.4 1736.7,3370.7 1738.7,3370.3 1740.7,3371.9 1742.7,3372.4 1744.7,3371.9 1746.7,3370.9 1748.7,3370.2 1750.7,3370.0 1752.7,3369.7 1754.7,3370.3 1756.7,3369.4 1758.7,3368.1 1760.7,3369.2 1762.7,3369.7 1764.7,3369.1 1766.7,3369.7 1768.7,3369.7 1770.7,3367.8 1772.7,3367.8 1774.7,3369.7 1776.7,3368.8 1778.7,3367.1 1780.7,3367.0 1782.7,3367.3 1784.7,3368.8 1786.7,3369.8 1788.7,3368.4 1790.7,3366.3 1792.7,3366.8 1794.7,3367.7 1796.7,3366.9 1798.7,3367.3 1800.7,3367.6 1802.7,3366.7 1804.7,3366.4 1806.7,3367.2 1808.7,3367.8 1810.7,3369.0 1812.7,3369.3" stroke-width="11.0"/><polyline points="1812.7,3369.3 1814.7,3366.8 1816.7,3364.4 1818.7,3364.5 1820.7,3365.5 1822.7,3364.8 1824.7,3363.2 1826.7,3361.4" stroke-width="10.5"/><polyline points="1826.7,3361.4 1828.7,3361.2 1830.7,3362.0 1832.7,3361.1 1834.7,3359.9" stroke-width="10.0"/><polyline points="1834.7,3359.9 1836.7,3359.4 1838.7,3358.6" stroke-width="9.5"/><polyline points="1838.7,3358.6 1840.7,3357.2 1842.7,3355.4 1844.7,3353.5 1846.7,3352.1" stroke-width="9.0"/><polyline points="1846.7,3352.1 1848.7,3350.9 1850.7,3348.5 1852.7,3345.2 1854.7,3343.1" stroke-width="8.5"/><polyline points="1854.7,3343.1 1856.7,3341.7 1858.7,3338.8 1860.7,3336.0 1862.7,3333.5 1864.7,3330.2 1866.7,3328.6 1868.7,3325.8 1870.7,3321.4" stroke-width="8.0"/><polyline points="1870.7,3321.4 1872.7,3320.6" stroke-width="8.5"/><polyline points="1872.7,3320.6 1874.7,3320.3" stroke-width="9.0"/><polyline points="1874.7,3320.3 1876.7,3319.0" stroke-width="9.5"/><polyline points="1876.7,3319.0 1878.7,3317.8 1880.7,3317.5 1882.7,3319.6" stroke-width="10.0"/><polyline points="1882.7,3319.6 1884.7,3320.8" stroke-width="9.5"/><polyline points="1884.7,3320.8 1886.7,3321.1" stroke-width="9.0"/><polyline points="1886.7,3321.1 1888.7,3323.1 1890.7,3325.7 1892.7,3328.2 1894.7,3330.5 1896.7,3332.2 1898.7,3333.2 1900.7,3335.0" stroke-width="8.5"/><polyline points="1900.7,3335.0 1902.7,3337.1" stroke-width="9.0"/><polyline points="1902.7,3337.1 1904.7,3339.3 1906.7,3342.6" stroke-width="9.5"/><polyline points="1906.7,3342.6 1908.7,3342.9" stroke-width="10.0"/><polyline points="1908.7,3342.9 1910.7,3340.7" stroke-width="10.5"/><polyline points="1910.7,3340.7 1912.7,3340.7 1914.7,3340.5" stroke-width="11.0"/><polyline points="1914.7,3340.5 1916.7,3339.3 1918.7,3338.8" stroke-width="10.5"/><polyline points="1918.7,3338.8 1920.7,3338.2 1922.7,3338.0" stroke-width="10.0"/><polyline points="1922.7,3338.0 1924.7,3338.5 1926.7,3338.0 1928.7,3335.9 1930.7,3334.3" stroke-width="9.5"/><polyline points="1930.7,3334.3 1932.7,3333.9" stroke-width="10.0"/><polyline points="1932.7,3333.9 1934.7,3334.4 1936.7,3334.2 1938.7,3331.6 1940.7,3330.6" stroke-width="10.5"/><polyline points="1940.7,3330.6 1942.7,3333.0" stroke-width="10.0"/><polyline points="1942.7,3333.0 1944.7,3335.4" stroke-width="9.5"/><polyline points="1944.7,3335.4 1946.7,3336.9 1948.7,3337.1" stroke-width="9.0"/><polyline points="1948.7,3337.1 1950.7,3336.9 1952.7,3339.5 1954.7,3342.3 1956.7,3343.9 1958.7,3346.5 1960.7,3349.6 1962.7,3351.5 1964.7,3351.4" stroke-width="8.5"/><polyline points="1964.7,3351.4 1966.7,3352.5 1968.7,3356.9 1970.7,3360.2 1972.7,3360.1" stroke-width="9.0"/><polyline points="1972.7,3360.1 1974.7,3359.3 1976.7,3359.6 1978.7,3362.1" stroke-width="9.5"/><polyline points="1978.7,3362.1 1980.7,3363.1 1982.7,3362.1 1984.7,3362.4" stroke-width="10.0"/><polyline points="1984.7,3362.4 1986.7,3363.3 1988.7,3365.8 1990.7,3366.9 1992.7,3365.9 1994.7,3367.1 1996.7,3367.8" stroke-width="10.5"/><polyline points="1996.7,3367.8 1998.7,3367.0 2000.7,3368.0 2002.7,3368.6 2004.7,3368.6 2006.7,3368.3 2008.7,3366.5 2010.7,3366.0 2012.7,3366.5 2014.7,3367.8 2016.7,3368.0 2018.7,3367.0 2020.7,3368.2 2022.7,3368.9 2024.7,3368.2 2026.7,3369.1 2028.7,3370.5 2030.7,3371.2 2032.7,3370.7 2034.7,3368.2 2036.7,3367.9 2038.7,3369.3 2040.7,3369.3 2042.7,3370.2 2044.7,3370.7 2046.7,3370.2 2048.7,3370.3 2050.7,3371.6 2052.7,3372.8 2054.7,3372.4 2056.7,3370.4 2058.7,3369.1 2060.7,3370.3 2062.7,3371.5 2064.7,3370.7 2066.7,3369.2 2068.7,3369.3 2070.7,3369.7 2072.7,3370.3 2074.7,3371.6 2076.7,3372.5 2078.7,3372.6 2080.7,3371.9 2082.7,3371.3 2084.7,3370.1 2086.7,3369.5 2088.7,3370.2 2090.7,3369.4 2092.7,3369.2 2094.7,3369.8 2096.7,3369.1 2098.7,3367.4 2100.7,3366.0 2102.7,3366.4 2104.7,3367.3 2106.7,3368.4 2108.7,3369.4 2110.7,3369.1 2112.7,3368.7 2114.7,3369.5 2116.7,3370.6 2118.7,3370.5 2120.7,3369.1 2122.7,3368.2" stroke-width="11.0"/><polyline points="2122.7,3368.2 2124.7,3368.1 2126.7,3367.0 2128.7,3366.3 2130.7,3365.9 2132.7,3364.3 2134.7,3362.3" stroke-width="10.5"/><polyline points="2134.7,3362.3 2136.7,3361.7 2138.7,3362.3 2140.7,3362.9 2142.7,3362.0" stroke-width="10.0"/><polyline points="2142.7,3362.0 2144.7,3360.1 2146.7,3359.3 2148.7,3358.3 2150.7,3358.2" stroke-width="9.5"/><polyline points="2150.7,3358.2 2152.7,3358.3 2154.7,3354.7 2156.7,3351.8 2158.7,3352.4 2160.7,3352.0 2162.7,3350.1 2164.7,3348.1 2166.7,3345.1 2168.7,3343.0 2170.7,3342.1 2172.7,3340.9 2174.7,3339.8 2176.7,3338.5 2178.7,3336.6" stroke-width="9.0"/><polyline points="2178.7,3336.6 2180.7,3335.4 2182.7,3335.5" stroke-width="9.5"/><polyline points="2182.7,3335.5 2184.7,3335.1 2186.7,3335.0" stroke-width="10.0"/><polyline points="2186.7,3335.0 2188.7,3335.4 2190.7,3334.7" stroke-width="10.5"/><polyline points="2190.7,3334.7 2192.7,3334.5 2194.7,3334.7 2196.7,3332.8" stroke-width="11.0"/><polyline points="2196.7,3332.8 2198.7,3331.3 2200.7,3332.0" stroke-width="10.5"/><polyline points="2200.7,3332.0 2202.7,3333.1 2204.7,3334.8" stroke-width="10.0"/><polyline points="2204.7,3334.8 2206.7,3336.6 2208.7,3338.1 2210.7,3340.1" stroke-width="9.5"/><polyline points="2210.7,3340.1 2212.7,3341.9 2214.7,3343.0 2216.7,3343.7 2218.7,3344.3 2220.7,3345.5 2222.7,3347.3 2224.7,3348.2 2226.7,3348.9 2228.7,3351.2 2230.7,3353.8 2232.7,3354.5" stroke-width="9.0"/><polyline points="2232.7,3354.5 2234.7,3354.6" stroke-width="9.5"/></g>
<g fill="none" stroke="#808000" stroke-linejoin="round" stroke-linecap="round"><polyline points="200.7,3426.4 202.7,3426.4" stroke-width="11.0"/><polyline points="202.7,3426.4 204.7,3425.6 206.7,3427.2 208.7,3427.1 210.7,3425.5 212.7,3425.3 214.7,3425.9 216.7,3427.9 218.7,3430.0 220.7,3430.8 222.7,3429.7 224.7,3427.3 226.7,3428.4 228.7,3432.4 230.7,3434.9 232.7,3435.8 234.7,3434.4 236.7,3432.8 238.7,3434.3 240.7,3435.1 242.7,3433.9 244.7,3433.3 246.7,3434.0 248.7,3435.4 250.7,3436.6 252.7,3437.6 254.7,3437.9 256.7,3437.0 258.7,3437.5 260.7,3437.9 262.7,3436.4 264.7,3437.0 266.7,3439.6 268.7,3440.4 270.7,3440.0 272.7,3440.0 274.7,3439.9 276.7,3440.3 278.7,3440.7 280.7,3442.1 282.7,3443.2 284.7,3443.2 286.7,3443.0 288.7,3442.3 290.7,3441.8 292.7,3442.1 294.7,3443.5 296.7,3444.8 298.7,3444.9 300.7,3446.0 302.7,3448.5 304.7,3448.3 306.7,3447.0 308.7,3446.9 310.7,3445.8 312.7,3445.9 314.7,3447.8 316.7,3448.2 318.7,3447.5 320.7,3448.1 322.7,3449.2 324.7,3449.2 326.7,3449.9 328.7,3452.2 330.7,3453.1 332.7,3452.4 334.7,3452.3" stroke-width="10.5"/><polyline points="334.7,3452.3 336.7,3452.2 338.7,3451.8 340.7,3451.4 342.7,3452.0 344.7,3453.5 346.7,3453.9 348.7,3453.8 350.7,3454.6 352.7,3456.0 354.7,3456.5 356.7,3455.0 358.7,3454.4 360.7,3454.6 362.7,3455.2 364.7,3457.2 366.7,3458.2 368.7,3457.3 370.7,3456.9 372.7,3457.9 374.7,3458.6 376.7,3457.8 378.7,3455.8 380.7,3455.4 382.7,3457.2 384.7,3457.0 386.7,3456.9 388.7,3458.6 390.7,3458.0 392.7,3456.4 394.7,3457.0 396.7,3458.6 398.7,3458.4 400.7,3456.6 402.7,3457.0 404.7,3459.4 406.7,3460.0 408.7,3456.8 410.7,3454.0 412.7,3455.9 414.7,3459.4 416.7,3461.8 418.7,3462.5 420.7,3460.8 422.7,3459.5 424.7,3460.4 426.7,3460.2 428.7,3459.6 430.7,3460.6 432.7,3460.9 434.7,3458.9 436.7,3457.9 438.7,3459.0 440.7,3459.1 442.7,3458.1 444.7,3458.2 446.7,3460.3 448.7,3461.8 450.7,3461.4 452.7,3461.2 454.7,3459.7 456.7,3456.0 458.7,3454.9 460.7,3455.6 462.7,3455.4 464.7,3455.6" stroke-width="11.0"/><polyline points="464.7,3455.6 466.7,3455.9 468.7,3455.0 470.7,3453.7" stroke-width="10.5"/><polyline points="470.7,3453.7 472.7,3451.9 474.7,3452.8" stroke-width="10.0"/><polyline points="474.7,3452.8 476.7,3454.2 478.7,3452.8 480.7,3451.8 482.7,3450.9" stroke-width="9.5"/><polyline points="482.7,3450.9 484.7,3449.1 486.7,3448.1 488.7,3447.2 490.7,3445.2 492.7,3441.7" stroke-width="9.0"/><polyline points="492.7,3441.7 494.7,3438.4 496.7,3436.9 498.7,3436.4 500.7,3435.5 502.7,3432.8" stroke-width="8.5"/><polyline points="502.7,3432.8 504.7,3429.7 506.7,3427.9 508.7,3425.6 510.7,3422.4 512.7,3418.6 514.7,3412.9 516.7,3408.4" stroke-width="8.0"/><polyline points="516.7,3408.4 518.7,3405.5 520.7,3399.5 522.7,3391.7 524.7,3384.1 526.7,3376.5 528.7,3368.2 530.7,3356.9 532.7,3342.9 534.7,3328.1 536.7,3310.6 538.7,3290.4 540.7,3267.2 542.7,3240.6 544.7,3211.2 546.7,3177.7 548.7,3139.9 550.7,3097.7 552.7,3049.9 554.7,2999.5 556.7,2950.1 558.7,2901.4 560.7,2854.9 562.7,2815.0 564.7,2784.5 566.7,2766.3 568.7,2763.4 570.7,2777.4 572.7,2806.4 574.7,2844.1 576.7,2888.0 578.7,2937.2 580.7,2989.4 582.7,3040.7 584.7,3085.4 586.7,3125.4 588.7,3164.7 590.7,3201.0 592.7,3232.2 594.7,3258.4 596.7,3281.2 598.7,3301.6 600.7,3317.6 602.7,3330.9 604.7,3344.7 606.7,3357.9 608.7,3369.8 610.7,3378.0 612.7,3383.5 614.7,3390.0 616.7,3395.2 618.7,3397.8 620.7,3401.6" stroke-width="7.5"/><polyline points="620.7,3401.6 622.7,3407.7 624.7,3412.1 626.7,3413.1 628.7,3414.4 630.7,3418.6 632.7,3421.6" stroke-width="8.0"/><polyline points="632.7,3421.6 634.7,3423.3 636.7,3425.0 638.7,3426.9" stroke-width="8.5"/><polyline points="638.7,3426.9 640.7,3429.5" stroke-width="9.0"/><polyline points="640.7,3429.5 642.7,3430.6" stroke-width="9.5"/><polyline points="642.7,3430.6 644.7,3430.8" stroke-width="10.0"/><polyline points="644.7,3430.8 646.7,3431.7 648.7,3431.0 650.7,3429.4" stroke-width="10.5"/><polyline points="650.7,3429.4 652.7,3429.1" stroke-width="10.0"/><polyline points="652.7,3429.1 654.7,3427.2" stroke-width="9.0"/><polyline points="654.7,3427.2 656.7,3423.8" stroke-width="8.5"/><polyline points="656.7,3423.8 658.7,3421.9 660.7,3419.2" stroke-width="8.0"/><polyline points="660.7,3419.2 662.7,3414.7 664.7,3410.5 666.7,3403.4 668.7,3392.9 670.7,3383.7 672.7,3373.6 674.7,3359.3 676.7,3344.9 678.7,3331.7 680.7,3318.0 682.7,3306.2 684.7,3296.7 686.7,3288.0 688.7,3281.5 690.7,3277.1" stroke-width="7.5"/><polyline points="690.7,3277.1 692.7,3274.9 694.7,3276.9" stroke-width="8.0"/><polyline points="694.7,3276.9 696.7,3282.1 698.7,3289.4 700.7,3299.9 702.7,3313.0 704.7,3326.5 706.7,3340.9 708.7,3355.8 710.7,3368.4 712.7,3378.7 714.7,3390.0 716.7,3402.0 718.7,3413.1 720.7,3421.7 722.7,3427.5 724.7,3433.7 726.7,3440.7 728.7,3446.8" stroke-width="7.5"/><polyline points="728.7,3446.8 730.7,3449.6 732.7,3450.1 734.7,3451.5" stroke-width="8.0"/><polyline points="734.7,3451.5 736.7,3454.2 738.7,3457.2" stroke-width="8.5"/><polyline points="738.7,3457.2 740.7,3458.4 742.7,3458.0" stroke-width="9.0"/><polyline points="742.7,3458.0 744.7,3458.7" stroke-width="9.5"/><polyline points="744.7,3458.7 746.7,3460.9 748.7,3462.0 750.7,3461.1" stroke-width="10.0"/><polyline points="750.7,3461.1 752.7,3461.4 754.7,3462.7 756.7,3463.6 758.7,3463.5 760.7,3462.8 762.7,3461.9 764.7,3462.0 766.7,3464.8 768.7,3465.9 770.7,3463.8 772.7,3465.0 774.7,3467.5 776.7,3466.4" stroke-width="10.5"/><polyline points="776.7,3466.4 778.7,3465.8 780.7,3467.2 782.7,3467.9 784.7,3468.9 786.7,3468.4 788.7,3467.8 790.7,3468.9 792.7,3469.9 794.7,3470.9 796.7,3471.0 798.7,3471.3 800.7,3472.7 802.7,3472.8 804.7,3472.0 806.7,3471.7 808.7,3471.5 810.7,3472.1 812.7,3473.2 814.7,3473.4 816.7,3473.5 818.7,3473.9 820.7,3473.6 822.7,3474.1 824.7,3474.1 826.7,3472.6 828.7,3473.9 830.7,3475.4 832.7,3474.8 834.7,3474.6 836.7,3474.3 838.7,3474.0 840.7,3473.6 842.7,3473.5 844.7,3474.2 846.7,3475.3 848.7,3477.2 850.7,3478.2 852.7,3477.9 854.7,3478.1 856.7,3479.3 858.7,3479.2 860.7,3477.2 862.7,3476.3 864.7,3477.8 866.7,3478.6 868.7,3478.5 870.7,3479.1 872.7,3479.0 874.7,3478.4 876.7,3478.8 878.7,3479.2 880.7,3478.7 882.7,3477.9 884.7,3477.7 886.7,3479.3 888.7,3482.0 890.7,3482.3 892.7,3479.1 894.7,3477.1 896.7,3477.3 898.7,3477.4 900.7,3478.2 902.7,3478.7 904.7,3478.6 906.7,3479.9 908.7,3481.6 910.7,3482.8 912.7,3483.2 914.7,3483.2 916.7,3482.5 918.7,3480.3 920.7,3479.5 922.7,3480.1 924.7,3480.7 926.7,3480.8 928.7,3480.7 930.7,3482.1 932.7,3482.3 934.7,3480.9 936.7,3479.5 938.7,3476.8 940.7,3475.5 942.7,3477.7 944.7,3479.6 946.7,3478.9 948.7,3477.5 950.7,3478.7 952.7,3481.2 954.7,3481.1 956.7,3479.6 958.7,3478.9 960.7,3479.8 962.7,3480.7 964.7,3479.5 966.7,3477.9 968.7,3477.1 970.7,3476.2 972.7,3476.5 974.7,3477.0 976.7,3476.1 978.7,3476.5 980.7,3477.4" stroke-width="11.0"/><polyline points="980.7,3477.4 982.7,3476.7 984.7,3475.8 986.7,3474.1 988.7,3472.6 990.7,3472.8 992.7,3471.5 994.7,3469.2 996.7,3469.0" stroke-width="10.5"/><polyline points="996.7,3469.0 998.7,3471.0 1000.7,3471.9 1002.7,3470.1 1004.7,3469.0 1006.7,3469.1" stroke-width="10.0"/><polyline points="1006.7,3469.1 1008.7,3467.7 1010.7,3466.9 1012.7,3467.6" stroke-width="9.5"/><polyline points="1012.7,3467.6 1014.7,3464.6 1016.7,3460.2" stroke-width="9.0"/><polyline points="1016.7,3460.2 1018.7,3460.0 1020.7,3459.9 1022.7,3457.5 1024.7,3454.8" stroke-width="8.5"/><polyline points="1024.7,3454.8 1026.7,3453.4 1028.7,3452.2 1030.7,3449.6 1032.7,3445.6 1034.7,3440.8 1036.7,3435.9" stroke-width="8.0"/><polyline points="1036.7,3435.9 1038.7,3429.8 1040.7,3424.0 1042.7,3419.7 1044.7,3412.7 1046.7,3403.9 1048.7,3395.7 1050.7,3385.1 1052.7,3373.4 1054.7,3362.5 1056.7,3349.9 1058.7,3335.3 1060.7,3319.9 1062.7,3305.3 1064.7,3291.0 1066.7,3273.9 1068.7,3255.8 1070.7,3237.5 1072.7,3219.2 1074.7,3202.7 1076.7,3189.0 1078.7,3177.7 1080.7,3169.8 1082.7,3168.8 1084.7,3173.3 1086.7,3180.3 1088.7,3189.8 1090.7,3201.0 1092.7,3215.2 1094.7,3233.2 1096.7,3251.3 1098.7,3267.5 1100.7,3283.8 1102.7,3302.1 1104.7,3319.7 1106.7,3333.5 1108.7,3345.9 1110.7,3358.3 1112.7,3369.5 1114.7,3380.0 1116.7,3389.8 1118.7,3397.7 1120.7,3404.7 1122.7,3410.8 1124.7,3415.3 1126.7,3420.5 1128.7,3426.2 1130.7,3430.7" stroke-width="7.5"/><polyline points="1130.7,3430.7 1132.7,3433.6 1134.7,3436.5 1136.7,3441.0 1138.7,3445.0 1140.7,3446.1" stroke-width="8.0"/><polyline points="1140.7,3446.1 1142.7,3444.7 1144.7,3446.9 1146.7,3452.2 1148.7,3454.2" stroke-width="8.5"/><polyline points="1148.7,3454.2 1150.7,3455.0 1152.7,3456.3 1154.7,3457.7" stroke-width="9.0"/><polyline points="1154.7,3457.7 1156.7,3458.3 1158.7,3458.2 1160.7,3460.2 1162.7,3462.7" stroke-width="9.5"/><polyline points="1162.7,3462.7 1164.7,3462.6 1166.7,3462.1 1168.7,3463.7 1170.7,3465.3" stroke-width="10.0"/><polyline points="1170.7,3465.3 1172.7,3464.9 1174.7,3465.1 1176.7,3466.7 1178.7,3468.4 1180.7,3468.9 1182.7,3467.9 1184.7,3468.3 1186.7,3468.0" stroke-width="10.5"/><polyline points="1186.7,3468.0 1188.7,3466.3 1190.7,3467.5 1192.7,3469.1 1194.7,3468.4 1196.7,3468.2 1198.7,3470.1 1200.7,3471.1 1202.7,3469.8 1204.7,3468.7 1206.7,3470.0 1208.7,3472.3 1210.7,3472.3 1212.7,3469.9 1214.7,3467.6 1216.7,3467.3 1218.7,3468.3 1220.7,3469.2 1222.7,3469.0 1224.7,3468.1 1226.7,3468.8 1228.7,3468.7 1230.7,3468.7 1232.7,3471.0 1234.7,3471.1 1236.7,3468.6 1238.7,3466.2 1240.7,3466.3 1242.7,3468.6" stroke-width="11.0"/><polyline points="1242.7,3468.6 1244.7,3467.3 1246.7,3464.9 1248.7,3466.6 1250.7,3467.7 1252.7,3465.7 1254.7,3463.7" stroke-width="10.5"/><polyline points="1254.7,3463.7 1256.7,3463.1 1258.7,3462.9 1260.7,3463.8" stroke-width="10.0"/><polyline points="1260.7,3463.8 1262.7,3464.4 1264.7,3462.9 1266.7,3460.6" stroke-width="9.5"/><polyline points="1266.7,3460.6 1268.7,3457.4 1270.7,3454.9" stroke-width="9.0"/><polyline points="1270.7,3454.9 1272.7,3454.7 1274.7,3454.9 1276.7,3452.9" stroke-width="8.5"/><polyline points="1276.7,3452.9 1278.7,3448.9 1280.7,3445.0 1282.7,3440.2 1284.7,3435.4 1286.7,3432.6" stroke-width="8.0"/><polyline points="1286.7,3432.6 1288.7,3428.5 1290.7,3422.2 1292.7,3414.6 1294.7,3406.6 1296.7,3400.7 1298.7,3393.7 1300.7,3383.4 1302.7,3372.6 1304.7,3360.7 1306.7,3347.6 1308.7,3334.8 1310.7,3323.6 1312.7,3313.2 1314.7,3299.0 1316.7,3284.1 1318.7,3275.0 1320.7,3270.6 1322.7,3266.6" stroke-width="7.5"/><polyline points="1322.7,3266.6 1324.7,3263.1 1326.7,3263.0 1328.7,3267.3" stroke-width="8.0"/><polyline points="1328.7,3267.3 1330.7,3276.0 1332.7,3287.2 1334.7,3299.3 1336.7,3312.7 1338.7,3324.5 1340.7,3336.2 1342.7,3347.8 1344.7,3357.1 1346.7,3367.7 1348.7,3380.1 1350.7,3391.5 1352.7,3400.4 1354.7,3405.6 1356.7,3409.8 1358.7,3415.4 1360.7,3421.8 1362.7,3427.5" stroke-width="7.5"/><polyline points="1362.7,3427.5 1364.7,3430.9 1366.7,3434.7 1368.7,3437.8" stroke-width="8.0"/><polyline points="1368.7,3437.8 1370.7,3438.2" stroke-width="8.5"/><polyline points="1370.7,3438.2 1372.7,3438.2" stroke-width="9.0"/><polyline points="1372.7,3438.2 1374.7,3438.1" stroke-width="10.0"/><polyline points="1374.7,3438.1 1376.7,3438.0 1378.7,3437.8" stroke-width="10.5"/><polyline points="1378.7,3437.8 1380.7,3436.9 1382.7,3435.6" stroke-width="10.0"/><polyline points="1382.7,3435.6 1384.7,3435.1 1386.7,3434.8 1388.7,3432.4" stroke-width="9.5"/><polyline points="1388.7,3432.4 1390.7,3430.7 1392.7,3429.0 1394.7,3428.6" stroke-width="10.0"/><polyline points="1394.7,3428.6 1396.7,3432.1" stroke-width="9.5"/><polyline points="1396.7,3432.1 1398.7,3434.0" stroke-width="9.0"/><polyline points="1398.7,3434.0 1400.7,3434.3" stroke-width="8.5"/><polyline points="1400.7,3434.3 1402.7,3436.3 1404.7,3439.7 1406.7,3445.3 1408.7,3450.8 1410.7,3452.3 1412.7,3451.2 1414.7,3452.8" stroke-width="8.0"/><polyline points="1414.7,3452.8 1416.7,3458.1 1418.7,3461.9 1420.7,3462.8 1422.7,3463.0" stroke-width="8.5"/><polyline points="1422.7,3463.0 1424.7,3462.8 1426.7,3464.4" stroke-width="9.0"/><polyline points="1426.7,3464.4 1428.7,3466.5 1430.7,3466.9 1432.7,3468.0" stroke-width="9.5"/><polyline points="1432.7,3468.0 1434.7,3469.3 1436.7,3468.7 1438.7,3469.2 1440.7,3471.5" stroke-width="10.0"/><polyline points="1440.7,3471.5 1442.7,3471.7 1444.7,3471.3 1446.7,3472.2 1448.7,3473.0 1450.7,3473.9 1452.7,3474.1 1454.7,3473.4 1456.7,3473.5 1458.7,3474.6" stroke-width="10.5"/><polyline points="1458.7,3474.6 1460.7,3476.4 1462.7,3477.8 1464.7,3476.0 1466.7,3475.6 1468.7,3476.7 1470.7,3476.2 1472.7,3476.9 1474.7,3477.7 1476.7,3478.1 1478.7,3478.2 1480.7,3478.0 1482.7,3477.9 1484.7,3477.9 1486.7,3478.1 1488.7,3477.9 1490.7,3477.7 1492.7,3476.8 1494.7,3476.5 1496.7,3477.4 1498.7,3479.0 1500.7,3479.7 1502.7,3478.1 1504.7,3476.7 1506.7,3476.9 1508.7,3478.3 1510.7,3479.3 1512.7,3478.6 1514.7,3478.2 1516.7,3478.6 1518.7,3478.1 1520.7,3477.6 1522.7,3479.8 1524.7,3480.8 1526.7,3479.4 1528.7,3478.7 1530.7,3479.4 1532.7,3481.1 1534.7,3483.4 1536.7,3484.1 1538.7,3481.2 1540.7,3478.7 1542.7,3478.3 1544.7,3478.6 1546.7,3480.0 1548.7,3481.5 1550.7,3482.1 1552.7,3481.3 1554.7,3481.0 1556.7,3482.2 1558.7,3482.6 1560.7,3481.2 1562.7,3479.0 1564.7,3478.3 1566.7,3478.9 1568.7,3478.1 1570.7,3478.1 1572.7,3480.4 1574.7,3481.3 1576.7,3481.7 1578.7,3482.7 1580.7,3482.9 1582.7,3482.0 1584.7,3480.4 1586.7,3479.4 1588.7,3480.7 1590.7,3481.0 1592.7,3478.2 1594.7,3477.8 1596.7,3480.5 1598.7,3480.9 1600.7,3478.7 1602.7,3478.0 1604.7,3480.9 1606.7,3482.3 1608.7,3479.4 1610.7,3478.2 1612.7,3478.7 1614.7,3477.9 1616.7,3478.1 1618.7,3478.0 1620.7,3477.2 1622.7,3478.2" stroke-width="11.0"/><polyline points="1622.7,3478.2 1624.7,3479.0 1626.7,3477.0 1628.7,3474.7 1630.7,3474.1 1632.7,3475.1 1634.7,3475.5" stroke-width="10.5"/><polyline points="1634.7,3475.5 1636.7,3474.4 1638.7,3474.7 1640.7,3474.8 1642.7,3470.9" stroke-width="10.0"/><polyline points="1642.7,3470.9 1644.7,3468.2 1646.7,3468.4 1648.7,3467.9" stroke-width="9.5"/><polyline points="1648.7,3467.9 1650.7,3467.7 1652.7,3467.0 1654.7,3464.5 1656.7,3462.0" stroke-width="9.0"/><polyline points="1656.7,3462.0 1658.7,3460.8 1660.7,3459.0 1662.7,3456.0 1664.7,3453.9 1666.7,3452.8 1668.7,3450.2" stroke-width="8.5"/><polyline points="1668.7,3450.2 1670.7,3448.2 1672.7,3448.0" stroke-width="9.0"/><polyline points="1672.7,3448.0 1674.7,3446.9 1676.7,3446.5" stroke-width="10.0"/><polyline points="1676.7,3446.5 1678.7,3447.3 1680.7,3447.3" stroke-width="10.5"/><polyline points="1680.7,3447.3 1682.7,3447.7" stroke-width="10.0"/><polyline points="1682.7,3447.7 1684.7,3448.1" stroke-width="9.5"/><polyline points="1684.7,3448.1 1686.7,3449.6" stroke-width="9.0"/><polyline points="1686.7,3449.6 1688.7,3454.2 1690.7,3457.2 1692.7,3458.1 1694.7,3461.0 1696.7,3464.2 1698.7,3464.7" stroke-width="8.5"/><polyline points="1698.7,3464.7 1700.7,3463.5 1702.7,3465.3 1704.7,3468.7 1706.7,3469.3" stroke-width="9.0"/><polyline points="1706.7,3469.3 1708.7,3469.8 1710.7,3471.7 1712.7,3472.2" stroke-width="9.5"/><polyline points="1712.7,3472.2 1714.7,3471.7 1716.7,3472.6 1718.7,3474.3 1720.7,3474.4" stroke-width="10.0"/><polyline points="1720.7,3474.4 1722.7,3474.7 1724.7,3476.8 1726.7,3477.2 1728.7,3475.7 1730.7,3476.0 1732.7,3475.9" stroke-width="10.5"/><polyline points="1732.7,3475.9 1734.7,3474.5 1736.7,3475.4 1738.7,3476.3 1740.7,3476.9 1742.7,3478.7 1744.7,3480.8 1746.7,3482.0 1748.7,3480.1 1750.7,3477.8 1752.7,3477.6 1754.7,3478.6 1756.7,3478.7 1758.7,3479.4 1760.7,3481.3 1762.7,3481.4 1764.7,3481.0 1766.7,3480.5 1768.7,3478.5 1770.7,3476.5 1772.7,3476.7 1774.7,3479.8 1776.7,3481.4 1778.7,3479.6 1780.7,3478.3 1782.7,3478.6 1784.7,3477.8 1786.7,3477.0 1788.7,3479.0 1790.7,3479.7 1792.7,3477.3 1794.7,3475.8 1796.7,3476.4 1798.7,3478.7 1800.7,3479.0 1802.7,3475.9 1804.7,3474.5 1806.7,3476.0 1808.7,3477.2" stroke-width="11.0"/><polyline points="1808.7,3477.2 1810.7,3476.7 1812.7,3475.7 1814.7,3476.3 1816.7,3475.4 1818.7,3472.5" stroke-width="10.5"/><polyline points="1818.7,3472.5 1820.7,3472.3 1822.7,3473.6 1824.7,3472.7" stroke-width="10.0"/><polyline points="1824.7,3472.7 1826.7,3469.2 1828.7,3466.2" stroke-width="9.5"/><polyline points="1828.7,3466.2 1830.7,3465.0 1832.7,3464.0 1834.7,3464.1" stroke-width="9.0"/><polyline points="1834.7,3464.1 1836.7,3463.7 1838.7,3461.0 1840.7,3457.7" stroke-width="8.5"/><polyline points="1840.7,3457.7 1842.7,3455.4 1844.7,3453.7 1846.7,3449.9 1848.7,3447.2 1850.7,3446.4 1852.7,3443.2 1854.7,3437.6 1856.7,3433.1 1858.7,3432.4 1860.7,3430.4 1862.7,3425.0 1864.7,3420.6 1866.7,3418.8" stroke-width="8.0"/><polyline points="1866.7,3418.8 1868.7,3417.1" stroke-width="8.5"/><polyline points="1868.7,3417.1 1870.7,3414.8" stroke-width="9.0"/><polyline points="1870.7,3414.8 1872.7,3415.9" stroke-width="9.5"/><polyline points="1872.7,3415.9 1874.7,3418.1 1876.7,3418.7" stroke-width="10.0"/><polyline points="1876.7,3418.7 1878.7,3419.8" stroke-width="9.5"/><polyline points="1878.7,3419.8 1880.7,3420.1" stroke-width="9.0"/><polyline points="1880.7,3420.1 1882.7,3421.3 1884.7,3424.4" stroke-width="8.5"/><polyline points="1884.7,3424.4 1886.7,3426.5 1888.7,3428.3 1890.7,3429.7 1892.7,3431.3" stroke-width="8.0"/><polyline points="1892.7,3431.3 1894.7,3434.7 1896.7,3438.7 1898.7,3440.7" stroke-width="8.5"/><polyline points="1898.7,3440.7 1900.7,3441.1" stroke-width="9.0"/><polyline points="1900.7,3441.1 1902.7,3441.1" stroke-width="9.5"/><polyline points="1902.7,3441.1 1904.7,3441.0" stroke-width="10.0"/><polyline points="1904.7,3441.0 1906.7,3441.6 1908.7,3442.1 1910.7,3442.0 1912.7,3441.8" stroke-width="10.5"/><polyline points="1912.7,3441.8 1914.7,3441.9" stroke-width="10.0"/><polyline points="1914.7,3441.9 1916.7,3441.8 1918.7,3440.2" stroke-width="9.5"/><polyline points="1918.7,3440.2 1920.7,3437.1 1922.7,3433.6 1924.7,3432.2" stroke-width="9.0"/><polyline points="1924.7,3432.2 1926.7,3432.5" stroke-width="9.5"/><polyline points="1926.7,3432.5 1928.7,3432.8" stroke-width="10.0"/><polyline points="1928.7,3432.8 1930.7,3431.8 1932.7,3430.6" stroke-width="10.5"/><polyline points="1932.7,3430.6 1934.7,3432.2" stroke-width="10.0"/><polyline points="1934.7,3432.2 1936.7,3434.4" stroke-width="9.5"/><polyline points="1936.7,3434.4 1938.7,3435.2" stroke-width="9.0"/><polyline points="1938.7,3435.2 1940.7,3437.1 1942.7,3440.2" stroke-width="8.5"/><polyline points="1942.7,3440.2 1944.7,3443.2 1946.7,3444.7 1948.7,3445.2 1950.7,3448.9 1952.7,3454.1" stroke-width="8.0"/><polyline points="1952.7,3454.1 1954.7,3455.5 1956.7,3455.7 1958.7,3456.9 1960.7,3459.3" stroke-width="8.5"/><polyline points="1960.7,3459.3 1962.7,3463.6 1964.7,3466.4 1966.7,3467.2 1968.7,3468.0" stroke-width="9.0"/><polyline points="1968.7,3468.0 1970.7,3468.8 1972.7,3470.0 1974.7,3471.0" stroke-width="9.5"/><polyline points="1974.7,3471.0 1976.7,3471.5 1978.7,3470.9 1980.7,3470.3 1982.7,3470.3" stroke-width="10.0"/><polyline points="1982.7,3470.3 1984.7,3470.0 1986.7,3471.0 1988.7,3474.5 1990.7,3476.4 1992.7,3476.2 1994.7,3476.0 1996.7,3475.7 1998.7,3474.7" stroke-width="10.5"/><polyline points="1998.7,3474.7 2000.7,3473.7 2002.7,3473.3 2004.7,3472.9 2006.7,3473.7 2008.7,3475.1 2010.7,3475.1 2012.7,3475.8 2014.7,3478.3 2016.7,3478.6 2018.7,3476.2 2020.7,3475.0 2022.7,3476.5 2024.7,3477.1 2026.7,3476.3 2028.7,3477.4 2030.7,3477.9 2032.7,3478.0 2034.7,3479.1 2036.7,3478.6 2038.7,3478.5 2040.7,3478.6 2042.7,3478.2 2044.7,3478.9 2046.7,3478.0 2048.7,3478.0 2050.7,3482.2 2052.7,3484.6 2054.7,3481.9 2056.7,3477.2 2058.7,3475.8 2060.7,3477.9 2062.7,3478.8 2064.7,3478.2 2066.7,3478.1 2068.7,3478.7 2070.7,3479.7 2072.7,3479.5 2074.7,3477.5 2076.7,3476.5 2078.7,3477.3 2080.7,3478.1 2082.7,3479.3 2084.7,3478.5 2086.7,3476.6 2088.7,3476.9 2090.7,3478.0 2092.7,3479.5 2094.7,3480.9 2096.7,3480.4 2098.7,3479.2 2100.7,3478.4 2102.7,3477.8 2104.7,3478.2 2106.7,3478.7 2108.7,3478.6 2110.7,3479.0 2112.7,3479.0 2114.7,3477.7 2116.7,3477.7" stroke-width="11.0"/><polyline points="2116.7,3477.7 2118.7,3478.5 2120.7,3476.9 2122.7,3474.7 2124.7,3473.9 2126.7,3474.2" stroke-width="10.5"/><polyline points="2126.7,3474.2 2128.7,3474.4 2130.7,3473.9 2132.7,3473.0" stroke-width="10.0"/><polyline points="2132.7,3473.0 2134.7,3472.0 2136.7,3471.4 2138.7,3470.9" stroke-width="9.5"/><polyline points="2138.7,3470.9 2140.7,3469.2 2142.7,3467.6 2144.7,3465.1 2146.7,3462.7 2148.7,3462.1" stroke-width="9.0"/><polyline points="2148.7,3462.1 2150.7,3460.8 2152.7,3458.0 2154.7,3453.4 2156.7,3449.7 2158.7,3447.8 2160.7,3446.8 2162.7,3446.9 2164.7,3445.7 2166.7,3443.2 2168.7,3441.3 2170.7,3440.3 2172.7,3440.2 2174.7,3439.2" stroke-width="8.5"/><polyline points="2174.7,3439.2 2176.7,3437.4 2178.7,3436.9" stroke-width="9.0"/><polyline points="2178.7,3436.9 2180.7,3436.7 2182.7,3433.7" stroke-width="9.5"/><polyline points="2182.7,3433.7 2184.7,3430.4 2186.7,3430.1" stroke-width="10.0"/><polyline points="2186.7,3430.1 2188.7,3431.2" stroke-width="10.5"/><polyline points="2188.7,3431.2 2190.7,3432.2 2192.7,3432.9 2194.7,3432.0" stroke-width="11.0"/><polyline points="2194.7,3432.0 2196.7,3431.6" stroke-width="10.5"/><polyline points="2196.7,3431.6 2198.7,3433.6 2200.7,3435.1" stroke-width="10.0"/><polyline points="2200.7,3435.1 2202.7,3436.3 2204.7,3436.9" stroke-width="9.5"/><polyline points="2204.7,3436.9 2206.7,3436.3 2208.7,3438.0 2210.7,3441.8" stroke-width="9.0"/><polyline points="2210.7,3441.8 2212.7,3443.8 2214.7,3443.2 2216.7,3442.9 2218.7,3444.2 2220.7,3447.0 2222.7,3450.1 2224.7,3453.1 2226.7,3455.6 2228.7,3456.1 2230.7,3456.7" stroke-width="8.5"/><polyline points="2230.7,3456.7 2232.7,3458.9 2234.7,3461.3" stroke-width="9.0"/></g>
</g>
<rect x="200.7" y="1994.0" width="2035.8" height="1512.5" fill="none" stroke="#505050" stroke-width="5.0"/>
<line x1="200.7" y1="3506.5" x2="200.7" y2="3522.5" stroke="#505050" stroke-width="5.0"/>
<line x1="334.5" y1="3506.5" x2="334.5" y2="3538.5" stroke="#505050" stroke-width="5.0"/>
<text x="334.5" y="3612.0" font-family="'Liberation Sans', Arial, sans-serif" font-size="72.0" fill="#333" text-anchor="middle">20</text>
<line x1="470.3" y1="3506.5" x2="470.3" y2="3522.5" stroke="#505050" stroke-width="5.0"/>
<line x1="606.0" y1="3506.5" x2="606.0" y2="3538.5" stroke="#505050" stroke-width="5.0"/>
<text x="606.0" y="3612.0" font-family="'Liberation Sans', Arial, sans-serif" font-size="72.0" fill="#333" text-anchor="middle">30</text>
<line x1="741.7" y1="3506.5" x2="741.7" y2="3522.5" stroke="#505050" stroke-width="5.0"/>
<line x1="877.5" y1="3506.5" x2="877.5" y2="3538.5" stroke="#505050" stroke-width="5.0"/>
<text x="877.5" y="3612.0" font-family="'Liberation Sans', Arial, sans-serif" font-size="72.0" fill="#333" text-anchor="middle">40</text>
<line x1="1013.2" y1="3506.5" x2="1013.2" y2="3522.5" stroke="#505050" stroke-width="5.0"/>
<line x1="1148.9" y1="3506.5" x2="1148.9" y2="3538.5" stroke="#505050" stroke-width="5.0"/>
<text x="1148.9" y="3612.0" font-family="'Liberation Sans', Arial, sans-serif" font-size="72.0" fill="#333" text-anchor="middle">50</text>
<line x1="1284.7" y1="3506.5" x2="1284.7" y2="3522.5" stroke="#505050" stroke-width="5.0"/>
<line x1="1420.4" y1="3506.5" x2="1420.4" y2="3538.5" stroke="#505050" stroke-width="5.0"/>
<text x="1420.4" y="3612.0" font-family="'Liberation Sans', Arial, sans-serif" font-size="72.0" fill="#333" text-anchor="middle">60</text>
<line x1="1556.1" y1="3506.5" x2="1556.1" y2="3522.5" stroke="#505050" stroke-width="5.0"/>
<line x1="1691.9" y1="3506.5" x2="1691.9" y2="3538.5" stroke="#505050" stroke-width="5.0"/>
<text x="1691.9" y="3612.0" font-family="'Liberation Sans', Arial, sans-serif" font-size="72.0" fill="#333" text-anchor="middle">70</text>
<line x1="1827.6" y1="3506.5" x2="1827.6" y2="3522.5" stroke="#505050" stroke-width="5.0"/>
<line x1="1963.3" y1="3506.5" x2="1963.3" y2="3538.5" stroke="#505050" stroke-width="5.0"/>
<text x="1963.3" y="3612.0" font-family="'Liberation Sans', Arial, sans-serif" font-size="72.0" fill="#333" text-anchor="middle">80</text>
<line x1="2099.1" y1="3506.5" x2="2099.1" y2="3522.5" stroke="#505050" stroke-width="5.0"/>
<line x1="2236.5" y1="3506.5" x2="2236.5" y2="3538.5" stroke="#505050" stroke-width="5.0"/>
<text x="2236.5" y="3612.0" font-family="'Liberation Sans', Arial, sans-serif" font-size="72.0" fill="#333" text-anchor="middle">90</text>
<text x="1148.0" y="3756.0" font-family="'Liberation Sans', Arial, sans-serif" font-size="96.0" fill="#222">°2<tspan font-family="'Liberation Serif', serif">θ</tspan></text>
<text transform="translate(92.0,3035.0) rotate(-90)" font-family="'Liberation Sans', Arial, sans-serif" font-size="91.7" fill="#111">Intensity (a.u)</text>
<text x="275.0" y="2145.5" font-family="'Liberation Sans', Arial, sans-serif" font-weight="bold" font-size="90.0" fill="#000">B)</text>
<text x="2226.0" y="2636.0" font-family="'Liberation Sans', Arial, sans-serif" font-weight="bold" font-size="63.3" fill="#111" text-anchor="end">Au-PVA/20CeAl</text>
<text x="2223.0" y="2782.0" font-family="'Liberation Sans', Arial, sans-serif" font-weight="bold" font-size="63.3" fill="#111" text-anchor="end">20CeAl</text>
<text x="2222.0" y="2940.0" font-family="'Liberation Sans', Arial, sans-serif" font-weight="bold" font-size="63.3" fill="#111" text-anchor="end">Au-PVA/50CeZr</text>
<text x="2215.0" y="3094.0" font-family="'Liberation Sans', Arial, sans-serif" font-weight="bold" font-size="63.3" fill="#111" text-anchor="end">50CeZr</text>
<text x="2223.0" y="3260.0" font-family="'Liberation Sans', Arial, sans-serif" font-weight="bold" font-size="63.3" fill="#111" text-anchor="end">Au-PVA/Ce</text>
<text x="2082.0" y="3424.0" font-family="'Liberation Sans', Arial, sans-serif" font-weight="bold" font-size="63.3" fill="#111" text-anchor="middle">Ce</text>
<rect x="1859.5" y="2212.0" width="334.2" height="166.0" fill="#fff" stroke="#999" stroke-width="4.0"/>
<circle cx="1950.0" cy="2249.0" r="17.5" fill="none" stroke="#b4b4b4" stroke-width="4.5"/>
<g stroke="#8a8aff" stroke-width="6.0" fill="none" stroke-linejoin="round" stroke-linecap="round"><polygon points="1932.3,2328.4 1971.7,2328.4 1952.0,2367.0"/><line x1="1952.0" y1="2319.2" x2="1952.0" y2="2362.0"/><line x1="1933.5" y1="2345.2" x2="1970.5" y2="2345.2"/></g>
<text x="2030.0" y="2270.0" font-family="'Liberation Sans', Arial, sans-serif" font-size="61.0" fill="#444" letter-spacing="-1.5">CeO<tspan font-size="39.0" dy="20.1">2</tspan></text>
<text x="2030.0" y="2358.0" font-family="'Liberation Sans', Arial, sans-serif" font-size="61.0" fill="#333">Au</text>
</svg>
</body></html>
